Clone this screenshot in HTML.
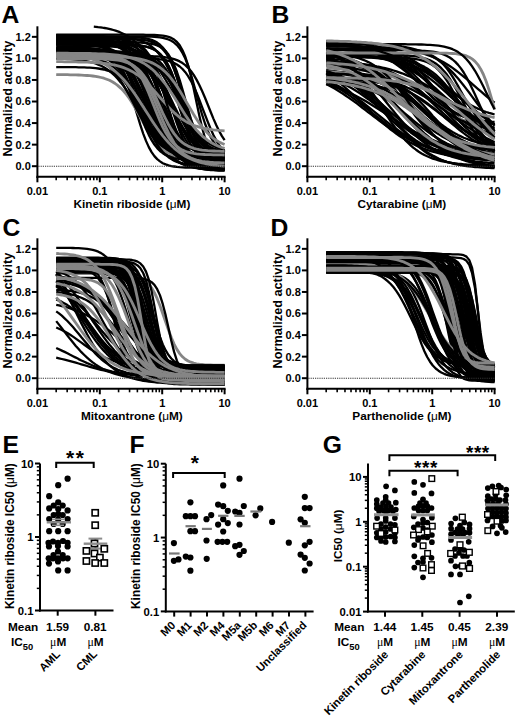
<!DOCTYPE html>
<html><head><meta charset="utf-8"><style>
html,body{margin:0;padding:0;background:#fff;}
svg{display:block;}
text{font-family:"Liberation Sans", sans-serif;}
</style></head><body>
<svg width="520" height="718" viewBox="0 0 520 718" font-family='"Liberation Sans", sans-serif'><polyline points="56.2,43.8 59.0,43.8 61.8,43.8 64.6,43.8 67.4,43.8 70.2,43.8 73.0,43.9 75.8,43.9 78.6,43.9 81.4,43.9 84.3,44.0 87.1,44.0 89.9,44.0 92.7,44.1 95.5,44.2 98.3,44.3 101.1,44.4 103.9,44.5 106.7,44.7 109.5,44.9 112.3,45.1 115.1,45.4 117.9,45.7 120.7,46.1 123.6,46.6 126.4,47.2 129.2,47.9 132.0,48.8 134.8,49.8 137.6,51.0 140.4,52.4 143.2,54.1 146.0,56.1 148.8,58.4 151.6,61.0 154.4,64.0 157.2,67.4 160.0,71.2 162.8,75.4 165.7,80.0 168.5,84.9 171.3,90.0 174.1,95.3 176.9,100.6 179.7,105.9 182.5,111.1 185.3,116.0 188.1,120.7 190.9,125.0 193.7,128.9 196.5,132.4 199.3,135.6 202.1,138.3 205.0,140.7 207.8,142.8 210.6,144.5 213.4,146.0 216.2,147.3 219.0,148.4 221.8,149.3 224.6,150.0" fill="none" stroke="#000" stroke-width="2.3" stroke-linejoin="round"/>
<polyline points="56.2,38.9 59.0,38.9 61.8,38.9 64.6,38.9 67.4,38.9 70.2,38.9 73.0,38.9 75.8,38.9 78.6,38.9 81.4,38.9 84.3,38.9 87.1,38.9 89.9,38.9 92.7,38.9 95.5,38.9 98.3,38.9 101.1,39.0 103.9,39.0 106.7,39.0 109.5,39.1 112.3,39.2 115.1,39.3 117.9,39.4 120.7,39.6 123.6,39.9 126.4,40.3 129.2,40.8 132.0,41.5 134.8,42.5 137.6,43.7 140.4,45.4 143.2,47.7 146.0,50.6 148.8,54.4 151.6,59.2 154.4,65.1 157.2,72.1 160.0,80.1 162.8,89.0 165.7,98.4 168.5,107.8 171.3,116.7 174.1,124.9 176.9,132.1 179.7,138.1 182.5,143.0 185.3,146.9 188.1,150.0 190.9,152.3 193.7,154.1 196.5,155.4 199.3,156.4 202.1,157.1 205.0,157.6 207.8,158.0 210.6,158.3 213.4,158.5 216.2,158.7 219.0,158.8 221.8,158.9 224.6,159.0" fill="none" stroke="#000" stroke-width="2.3" stroke-linejoin="round"/>
<polyline points="56.2,42.8 59.0,42.8 61.8,42.9 64.6,42.9 67.4,43.0 70.2,43.0 73.0,43.1 75.8,43.2 78.6,43.4 81.4,43.6 84.3,43.8 87.1,44.1 89.9,44.5 92.7,44.9 95.5,45.5 98.3,46.2 101.1,47.1 103.9,48.2 106.7,49.5 109.5,51.1 112.3,53.1 115.1,55.5 117.9,58.4 120.7,61.8 123.6,65.8 126.4,70.4 129.2,75.6 132.0,81.5 134.8,87.8 137.6,94.6 140.4,101.6 143.2,108.7 146.0,115.8 148.8,122.5 151.6,128.9 154.4,134.7 157.2,140.0 160.0,144.6 162.8,148.6 165.7,152.0 168.5,154.8 171.3,157.2 174.1,159.2 176.9,160.9 179.7,162.2 182.5,163.3 185.3,164.1 188.1,164.8 190.9,165.4 193.7,165.9 196.5,166.2 199.3,166.5 202.1,166.7 205.0,166.9 207.8,167.1 210.6,167.2 213.4,167.3 216.2,167.4 219.0,167.4 221.8,167.5 224.6,167.5" fill="none" stroke="#000" stroke-width="2.3" stroke-linejoin="round"/>
<polyline points="56.2,40.5 59.0,40.5 61.8,40.5 64.6,40.5 67.4,40.5 70.2,40.5 73.0,40.5 75.8,40.5 78.6,40.6 81.4,40.6 84.3,40.6 87.1,40.6 89.9,40.7 92.7,40.7 95.5,40.8 98.3,40.9 101.1,41.0 103.9,41.1 106.7,41.2 109.5,41.4 112.3,41.7 115.1,42.0 117.9,42.3 120.7,42.8 123.6,43.3 126.4,44.0 129.2,44.8 132.0,45.9 134.8,47.1 137.6,48.6 140.4,50.5 143.2,52.7 146.0,55.4 148.8,58.5 151.6,62.1 154.4,66.4 157.2,71.2 160.0,76.6 162.8,82.5 165.7,88.9 168.5,95.6 171.3,102.6 174.1,109.5 176.9,116.4 179.7,122.9 182.5,129.1 185.3,134.8 188.1,139.9 190.9,144.4 193.7,148.3 196.5,151.7 199.3,154.6 202.1,157.0 205.0,159.0 207.8,160.7 210.6,162.1 213.4,163.2 216.2,164.2 219.0,164.9 221.8,165.5 224.6,166.0" fill="none" stroke="#000" stroke-width="2.3" stroke-linejoin="round"/>
<polyline points="56.2,57.0 59.0,57.0 61.8,57.0 64.6,57.0 67.4,57.0 70.2,57.0 73.0,57.0 75.8,57.1 78.6,57.1 81.4,57.1 84.3,57.2 87.1,57.3 89.9,57.4 92.7,57.5 95.5,57.7 98.3,58.0 101.1,58.3 103.9,58.8 106.7,59.3 109.5,60.1 112.3,61.1 115.1,62.3 117.9,63.9 120.7,66.0 123.6,68.6 126.4,71.7 129.2,75.6 132.0,80.3 134.8,85.7 137.6,91.8 140.4,98.4 143.2,105.4 146.0,112.5 148.8,119.4 151.6,125.9 154.4,131.8 157.2,137.0 160.0,141.4 162.8,145.1 165.7,148.1 168.5,150.5 171.3,152.4 174.1,153.9 176.9,155.1 179.7,156.0 182.5,156.7 185.3,157.2 188.1,157.6 190.9,157.9 193.7,158.2 196.5,158.3 199.3,158.5 202.1,158.6 205.0,158.7 207.8,158.7 210.6,158.8 213.4,158.8 216.2,158.8 219.0,158.8 221.8,158.9 224.6,158.9" fill="none" stroke="#000" stroke-width="2.3" stroke-linejoin="round"/>
<polyline points="56.2,41.6 59.0,41.6 61.8,41.7 64.6,41.7 67.4,41.8 70.2,41.8 73.0,41.9 75.8,42.0 78.6,42.2 81.4,42.3 84.3,42.6 87.1,42.8 89.9,43.2 92.7,43.6 95.5,44.1 98.3,44.7 101.1,45.5 103.9,46.4 106.7,47.6 109.5,49.0 112.3,50.7 115.1,52.8 117.9,55.3 120.7,58.2 123.6,61.7 126.4,65.7 129.2,70.3 132.0,75.4 134.8,81.1 137.6,87.2 140.4,93.7 143.2,100.4 146.0,107.2 148.8,113.8 151.6,120.2 154.4,126.2 157.2,131.7 160.0,136.7 162.8,141.1 165.7,144.9 168.5,148.2 171.3,151.0 174.1,153.3 176.9,155.3 179.7,156.9 182.5,158.2 185.3,159.3 188.1,160.2 190.9,160.9 193.7,161.5 196.5,162.0 199.3,162.4 202.1,162.7 205.0,162.9 207.8,163.1 210.6,163.3 213.4,163.4 216.2,163.5 219.0,163.6 221.8,163.7 224.6,163.7" fill="none" stroke="#000" stroke-width="2.3" stroke-linejoin="round"/>
<polyline points="56.2,55.6 59.0,55.6 61.8,55.6 64.6,55.6 67.4,55.6 70.2,55.6 73.0,55.6 75.8,55.6 78.6,55.6 81.4,55.6 84.3,55.6 87.1,55.6 89.9,55.6 92.7,55.6 95.5,55.6 98.3,55.6 101.1,55.6 103.9,55.6 106.7,55.7 109.5,55.7 112.3,55.7 115.1,55.8 117.9,55.9 120.7,56.0 123.6,56.1 126.4,56.3 129.2,56.6 132.0,56.9 134.8,57.4 137.6,58.1 140.4,58.9 143.2,60.0 146.0,61.5 148.8,63.5 151.6,66.0 154.4,69.2 157.2,73.2 160.0,78.1 162.8,83.9 165.7,90.6 168.5,97.9 171.3,105.6 174.1,113.4 176.9,121.0 179.7,127.9 182.5,134.0 185.3,139.3 188.1,143.6 190.9,147.1 193.7,149.9 196.5,152.0 199.3,153.7 202.1,154.9 205.0,155.9 207.8,156.6 210.6,157.1 213.4,157.5 216.2,157.8 219.0,158.0 221.8,158.2 224.6,158.3" fill="none" stroke="#000" stroke-width="2.3" stroke-linejoin="round"/>
<polyline points="56.2,36.3 59.0,36.3 61.8,36.3 64.6,36.3 67.4,36.3 70.2,36.3 73.0,36.4 75.8,36.4 78.6,36.4 81.4,36.4 84.3,36.4 87.1,36.5 89.9,36.5 92.7,36.5 95.5,36.6 98.3,36.7 101.1,36.8 103.9,37.0 106.7,37.1 109.5,37.4 112.3,37.7 115.1,38.1 117.9,38.6 120.7,39.2 123.6,40.1 126.4,41.1 129.2,42.4 132.0,44.1 134.8,46.2 137.6,48.8 140.4,51.9 143.2,55.7 146.0,60.3 148.8,65.6 151.6,71.6 154.4,78.2 157.2,85.4 160.0,92.9 162.8,100.5 165.7,107.9 168.5,115.0 171.3,121.5 174.1,127.3 176.9,132.3 179.7,136.7 182.5,140.3 185.3,143.3 188.1,145.8 190.9,147.7 193.7,149.3 196.5,150.5 199.3,151.5 202.1,152.3 205.0,152.9 207.8,153.4 210.6,153.7 213.4,154.0 216.2,154.3 219.0,154.4 221.8,154.6 224.6,154.7" fill="none" stroke="#000" stroke-width="2.3" stroke-linejoin="round"/>
<polyline points="56.2,51.2 59.0,51.2 61.8,51.2 64.6,51.3 67.4,51.3 70.2,51.3 73.0,51.4 75.8,51.4 78.6,51.5 81.4,51.5 84.3,51.6 87.1,51.7 89.9,51.9 92.7,52.0 95.5,52.2 98.3,52.5 101.1,52.8 103.9,53.2 106.7,53.6 109.5,54.2 112.3,54.9 115.1,55.7 117.9,56.8 120.7,58.0 123.6,59.6 126.4,61.4 129.2,63.5 132.0,66.1 134.8,69.1 137.6,72.5 140.4,76.4 143.2,80.7 146.0,85.5 148.8,90.6 151.6,96.0 154.4,101.5 157.2,107.1 160.0,112.6 162.8,117.9 165.7,122.9 168.5,127.5 171.3,131.6 174.1,135.3 176.9,138.6 179.7,141.3 182.5,143.7 185.3,145.7 188.1,147.4 190.9,148.8 193.7,150.0 196.5,150.9 199.3,151.7 202.1,152.4 205.0,152.9 207.8,153.3 210.6,153.7 213.4,154.0 216.2,154.2 219.0,154.4 221.8,154.5 224.6,154.6" fill="none" stroke="#000" stroke-width="2.3" stroke-linejoin="round"/>
<polyline points="56.2,57.6 59.0,57.7 61.8,57.7 64.6,57.7 67.4,57.7 70.2,57.8 73.0,57.8 75.8,57.9 78.6,58.0 81.4,58.1 84.3,58.2 87.1,58.4 89.9,58.6 92.7,58.9 95.5,59.4 98.3,59.9 101.1,60.6 103.9,61.5 106.7,62.6 109.5,64.1 112.3,66.0 115.1,68.3 117.9,71.2 120.7,74.7 123.6,78.9 126.4,83.7 129.2,89.3 132.0,95.4 134.8,101.8 137.6,108.5 140.4,115.0 143.2,121.3 146.0,127.0 148.8,132.2 151.6,136.6 154.4,140.4 157.2,143.5 160.0,146.0 162.8,148.1 165.7,149.7 168.5,150.9 171.3,151.9 174.1,152.7 176.9,153.3 179.7,153.7 182.5,154.1 185.3,154.4 188.1,154.6 190.9,154.7 193.7,154.9 196.5,154.9 199.3,155.0 202.1,155.1 205.0,155.1 207.8,155.1 210.6,155.2 213.4,155.2 216.2,155.2 219.0,155.2 221.8,155.2 224.6,155.2" fill="none" stroke="#000" stroke-width="2.3" stroke-linejoin="round"/>
<polyline points="56.2,57.5 59.0,57.5 61.8,57.5 64.6,57.5 67.4,57.5 70.2,57.5 73.0,57.5 75.8,57.5 78.6,57.5 81.4,57.5 84.3,57.6 87.1,57.6 89.9,57.6 92.7,57.6 95.5,57.7 98.3,57.7 101.1,57.8 103.9,57.9 106.7,58.1 109.5,58.3 112.3,58.5 115.1,58.8 117.9,59.3 120.7,59.9 123.6,60.6 126.4,61.6 129.2,63.0 132.0,64.7 134.8,66.9 137.6,69.7 140.4,73.2 143.2,77.5 146.0,82.7 148.8,88.8 151.6,95.7 154.4,103.3 157.2,111.2 160.0,119.2 162.8,126.9 165.7,134.1 168.5,140.6 171.3,146.1 174.1,150.8 176.9,154.6 179.7,157.7 182.5,160.1 185.3,162.0 188.1,163.5 190.9,164.6 193.7,165.5 196.5,166.1 199.3,166.6 202.1,167.0 205.0,167.3 207.8,167.5 210.6,167.7 213.4,167.8 216.2,167.9 219.0,167.9 221.8,168.0 224.6,168.0" fill="none" stroke="#000" stroke-width="2.3" stroke-linejoin="round"/>
<polyline points="56.2,52.7 59.0,52.7 61.8,52.7 64.6,52.8 67.4,52.8 70.2,52.8 73.0,52.8 75.8,52.8 78.6,52.8 81.4,52.8 84.3,52.8 87.1,52.8 89.9,52.8 92.7,52.9 95.5,52.9 98.3,52.9 101.1,53.0 103.9,53.1 106.7,53.2 109.5,53.3 112.3,53.5 115.1,53.7 117.9,54.0 120.7,54.3 123.6,54.8 126.4,55.4 129.2,56.2 132.0,57.2 134.8,58.5 137.6,60.2 140.4,62.3 143.2,64.9 146.0,68.1 148.8,72.0 151.6,76.6 154.4,82.0 157.2,88.2 160.0,95.0 162.8,102.3 165.7,109.8 168.5,117.3 171.3,124.6 174.1,131.4 176.9,137.5 179.7,142.9 182.5,147.5 185.3,151.4 188.1,154.6 190.9,157.1 193.7,159.2 196.5,160.8 199.3,162.1 202.1,163.1 205.0,163.9 207.8,164.5 210.6,165.0 213.4,165.4 216.2,165.7 219.0,165.9 221.8,166.0 224.6,166.2" fill="none" stroke="#000" stroke-width="2.3" stroke-linejoin="round"/>
<polyline points="56.2,57.2 59.0,57.2 61.8,57.2 64.6,57.2 67.4,57.2 70.2,57.2 73.0,57.2 75.8,57.2 78.6,57.3 81.4,57.3 84.3,57.3 87.1,57.3 89.9,57.3 92.7,57.3 95.5,57.3 98.3,57.4 101.1,57.4 103.9,57.5 106.7,57.6 109.5,57.7 112.3,57.8 115.1,57.9 117.9,58.2 120.7,58.4 123.6,58.7 126.4,59.2 129.2,59.7 132.0,60.4 134.8,61.2 137.6,62.3 140.4,63.7 143.2,65.4 146.0,67.4 148.8,69.9 151.6,73.0 154.4,76.5 157.2,80.7 160.0,85.4 162.8,90.6 165.7,96.3 168.5,102.2 171.3,108.2 174.1,114.1 176.9,119.8 179.7,125.0 182.5,129.7 185.3,133.9 188.1,137.5 190.9,140.6 193.7,143.1 196.5,145.2 199.3,146.9 202.1,148.2 205.0,149.3 207.8,150.2 210.6,150.9 213.4,151.4 216.2,151.9 219.0,152.2 221.8,152.5 224.6,152.7" fill="none" stroke="#000" stroke-width="2.3" stroke-linejoin="round"/>
<polyline points="56.2,51.6 59.0,51.6 61.8,51.6 64.6,51.6 67.4,51.6 70.2,51.6 73.0,51.6 75.8,51.6 78.6,51.6 81.4,51.6 84.3,51.6 87.1,51.6 89.9,51.6 92.7,51.6 95.5,51.6 98.3,51.7 101.1,51.7 103.9,51.7 106.7,51.8 109.5,51.8 112.3,51.9 115.1,52.0 117.9,52.1 120.7,52.2 123.6,52.4 126.4,52.6 129.2,52.9 132.0,53.2 134.8,53.6 137.6,54.1 140.4,54.8 143.2,55.6 146.0,56.6 148.8,57.8 151.6,59.3 154.4,61.1 157.2,63.3 160.0,65.9 162.8,69.0 165.7,72.7 168.5,76.8 171.3,81.6 174.1,86.9 176.9,92.6 179.7,98.6 182.5,104.9 185.3,111.2 188.1,117.4 190.9,123.4 193.7,128.9 196.5,134.0 199.3,138.5 202.1,142.4 205.0,145.8 207.8,148.7 210.6,151.2 213.4,153.2 216.2,154.8 219.0,156.2 221.8,157.3 224.6,158.2" fill="none" stroke="#000" stroke-width="2.3" stroke-linejoin="round"/>
<polyline points="56.2,39.7 59.0,39.7 61.8,39.8 64.6,39.9 67.4,39.9 70.2,40.0 73.0,40.2 75.8,40.3 78.6,40.5 81.4,40.7 84.3,41.0 87.1,41.4 89.9,41.8 92.7,42.4 95.5,43.0 98.3,43.9 101.1,44.9 103.9,46.1 106.7,47.5 109.5,49.3 112.3,51.5 115.1,54.0 117.9,57.0 120.7,60.5 123.6,64.5 126.4,69.2 129.2,74.4 132.0,80.1 134.8,86.3 137.6,92.9 140.4,99.8 143.2,106.7 146.0,113.7 148.8,120.4 151.6,126.8 154.4,132.7 157.2,138.1 160.0,143.0 162.8,147.3 165.7,151.0 168.5,154.2 171.3,156.9 174.1,159.2 176.9,161.1 179.7,162.7 182.5,164.0 185.3,165.1 188.1,166.0 190.9,166.7 193.7,167.3 196.5,167.8 199.3,168.2 202.1,168.5 205.0,168.7 207.8,169.0 210.6,169.1 213.4,169.3 216.2,169.4 219.0,169.5 221.8,169.5 224.6,169.6" fill="none" stroke="#000" stroke-width="2.3" stroke-linejoin="round"/>
<polyline points="56.2,41.3 59.0,41.3 61.8,41.3 64.6,41.4 67.4,41.4 70.2,41.4 73.0,41.4 75.8,41.5 78.6,41.5 81.4,41.6 84.3,41.7 87.1,41.8 89.9,41.9 92.7,42.1 95.5,42.3 98.3,42.5 101.1,42.8 103.9,43.1 106.7,43.5 109.5,44.1 112.3,44.7 115.1,45.5 117.9,46.4 120.7,47.6 123.6,48.9 126.4,50.6 129.2,52.5 132.0,54.9 134.8,57.6 137.6,60.8 140.4,64.5 143.2,68.6 146.0,73.3 148.8,78.5 151.6,84.2 154.4,90.1 157.2,96.4 160.0,102.8 162.8,109.2 165.7,115.5 168.5,121.5 171.3,127.1 174.1,132.3 176.9,137.0 179.7,141.2 182.5,144.9 185.3,148.1 188.1,150.8 190.9,153.1 193.7,155.1 196.5,156.8 199.3,158.1 202.1,159.3 205.0,160.2 207.8,161.0 210.6,161.6 213.4,162.2 216.2,162.6 219.0,162.9 221.8,163.2 224.6,163.5" fill="none" stroke="#000" stroke-width="2.3" stroke-linejoin="round"/>
<polyline points="56.2,42.4 59.0,42.4 61.8,42.4 64.6,42.4 67.4,42.4 70.2,42.4 73.0,42.4 75.8,42.4 78.6,42.4 81.4,42.5 84.3,42.5 87.1,42.6 89.9,42.6 92.7,42.7 95.5,42.9 98.3,43.0 101.1,43.2 103.9,43.5 106.7,43.9 109.5,44.4 112.3,45.0 115.1,45.9 117.9,47.0 120.7,48.4 123.6,50.3 126.4,52.7 129.2,55.7 132.0,59.4 134.8,63.9 137.6,69.3 140.4,75.6 143.2,82.7 146.0,90.4 148.8,98.6 151.6,106.8 154.4,114.8 157.2,122.2 160.0,128.9 162.8,134.8 165.7,139.8 168.5,143.9 171.3,147.2 174.1,149.9 176.9,152.0 179.7,153.6 182.5,154.9 185.3,155.9 188.1,156.6 190.9,157.2 193.7,157.6 196.5,158.0 199.3,158.2 202.1,158.4 205.0,158.6 207.8,158.7 210.6,158.7 213.4,158.8 216.2,158.9 219.0,158.9 221.8,158.9 224.6,158.9" fill="none" stroke="#000" stroke-width="2.3" stroke-linejoin="round"/>
<polyline points="56.2,55.9 59.0,55.9 61.8,55.9 64.6,55.9 67.4,55.9 70.2,55.9 73.0,55.9 75.8,55.9 78.6,55.9 81.4,55.9 84.3,55.9 87.1,55.9 89.9,55.9 92.7,55.9 95.5,55.9 98.3,55.9 101.1,55.9 103.9,55.9 106.7,55.9 109.5,55.9 112.3,55.9 115.1,55.9 117.9,55.9 120.7,55.9 123.6,55.9 126.4,55.9 129.2,55.9 132.0,55.9 134.8,55.9 137.6,56.0 140.4,56.0 143.2,56.0 146.0,56.1 148.8,56.2 151.6,56.2 154.4,56.4 157.2,56.5 160.0,56.7 162.8,57.0 165.7,57.3 168.5,57.8 171.3,58.4 174.1,59.1 176.9,60.1 179.7,61.4 182.5,63.1 185.3,65.1 188.1,67.8 190.9,71.0 193.7,74.9 196.5,79.6 199.3,85.0 202.1,91.1 205.0,97.7 207.8,104.7 210.6,111.7 213.4,118.6 216.2,125.0 219.0,130.8 221.8,135.9 224.6,140.2" fill="none" stroke="#000" stroke-width="2.3" stroke-linejoin="round"/>
<polyline points="56.2,49.2 59.0,49.3 61.8,49.4 64.6,49.4 67.4,49.6 70.2,49.7 73.0,49.9 75.8,50.1 78.6,50.4 81.4,50.7 84.3,51.1 87.1,51.5 89.9,52.1 92.7,52.7 95.5,53.5 98.3,54.5 101.1,55.6 103.9,57.0 106.7,58.6 109.5,60.5 112.3,62.7 115.1,65.3 117.9,68.3 120.7,71.7 123.6,75.6 126.4,79.9 129.2,84.7 132.0,89.8 134.8,95.3 137.6,101.0 140.4,106.9 143.2,112.9 146.0,118.8 148.8,124.5 151.6,130.0 154.4,135.1 157.2,139.8 160.0,144.1 162.8,148.0 165.7,151.3 168.5,154.3 171.3,156.9 174.1,159.1 176.9,161.0 179.7,162.6 182.5,163.9 185.3,165.1 188.1,166.0 190.9,166.8 193.7,167.5 196.5,168.0 199.3,168.5 202.1,168.8 205.0,169.1 207.8,169.4 210.6,169.6 213.4,169.8 216.2,169.9 219.0,170.0 221.8,170.1 224.6,170.2" fill="none" stroke="#000" stroke-width="2.3" stroke-linejoin="round"/>
<polyline points="56.2,57.6 59.0,57.6 61.8,57.6 64.6,57.6 67.4,57.6 70.2,57.6 73.0,57.6 75.8,57.6 78.6,57.6 81.4,57.6 84.3,57.6 87.1,57.6 89.9,57.6 92.7,57.6 95.5,57.6 98.3,57.7 101.1,57.7 103.9,57.7 106.7,57.7 109.5,57.7 112.3,57.7 115.1,57.7 117.9,57.7 120.7,57.8 123.6,57.8 126.4,57.9 129.2,58.0 132.0,58.1 134.8,58.2 137.6,58.5 140.4,58.8 143.2,59.2 146.0,59.7 148.8,60.5 151.6,61.5 154.4,62.8 157.2,64.6 160.0,67.0 162.8,70.0 165.7,73.9 168.5,78.7 171.3,84.5 174.1,91.3 176.9,99.0 179.7,107.2 182.5,115.6 185.3,123.8 188.1,131.5 190.9,138.3 193.7,144.1 196.5,148.9 199.3,152.8 202.1,155.9 205.0,158.2 207.8,160.0 210.6,161.4 213.4,162.4 216.2,163.2 219.0,163.7 221.8,164.1 224.6,164.4" fill="none" stroke="#000" stroke-width="2.3" stroke-linejoin="round"/>
<polyline points="56.2,44.2 59.0,44.2 61.8,44.3 64.6,44.3 67.4,44.3 70.2,44.4 73.0,44.5 75.8,44.5 78.6,44.6 81.4,44.7 84.3,44.9 87.1,45.1 89.9,45.3 92.7,45.5 95.5,45.9 98.3,46.3 101.1,46.7 103.9,47.3 106.7,48.0 109.5,48.9 112.3,49.9 115.1,51.1 117.9,52.6 120.7,54.4 123.6,56.5 126.4,58.9 129.2,61.8 132.0,65.0 134.8,68.7 137.6,72.9 140.4,77.4 143.2,82.4 146.0,87.6 148.8,93.1 151.6,98.7 154.4,104.3 157.2,109.8 160.0,115.1 162.8,120.0 165.7,124.6 168.5,128.8 171.3,132.5 174.1,135.7 176.9,138.6 179.7,141.0 182.5,143.1 185.3,144.9 188.1,146.3 190.9,147.6 193.7,148.6 196.5,149.5 199.3,150.2 202.1,150.8 205.0,151.2 207.8,151.6 210.6,151.9 213.4,152.2 216.2,152.4 219.0,152.6 221.8,152.7 224.6,152.9" fill="none" stroke="#000" stroke-width="2.3" stroke-linejoin="round"/>
<polyline points="56.2,52.0 59.0,52.0 61.8,52.0 64.6,52.0 67.4,52.0 70.2,52.0 73.0,52.0 75.8,52.0 78.6,52.0 81.4,52.0 84.3,52.0 87.1,52.0 89.9,52.0 92.7,52.0 95.5,52.0 98.3,52.0 101.1,52.0 103.9,52.0 106.7,52.1 109.5,52.1 112.3,52.1 115.1,52.1 117.9,52.1 120.7,52.2 123.6,52.2 126.4,52.3 129.2,52.4 132.0,52.6 134.8,52.8 137.6,53.0 140.4,53.4 143.2,53.8 146.0,54.4 148.8,55.3 151.6,56.3 154.4,57.8 157.2,59.6 160.0,62.0 162.8,65.1 165.7,68.9 168.5,73.6 171.3,79.1 174.1,85.6 176.9,92.8 179.7,100.5 182.5,108.5 185.3,116.3 188.1,123.6 190.9,130.2 193.7,136.0 196.5,140.9 199.3,144.8 202.1,148.0 205.0,150.5 207.8,152.5 210.6,154.0 213.4,155.1 216.2,156.0 219.0,156.7 221.8,157.1 224.6,157.5" fill="none" stroke="#000" stroke-width="2.3" stroke-linejoin="round"/>
<polyline points="56.2,52.5 59.0,52.5 61.8,52.5 64.6,52.5 67.4,52.5 70.2,52.5 73.0,52.5 75.8,52.6 78.6,52.6 81.4,52.7 84.3,52.7 87.1,52.9 89.9,53.0 92.7,53.2 95.5,53.5 98.3,53.9 101.1,54.4 103.9,55.1 106.7,56.2 109.5,57.5 112.3,59.4 115.1,61.8 117.9,65.1 120.7,69.3 123.6,74.6 126.4,81.1 129.2,88.7 132.0,97.3 134.8,106.6 137.6,116.0 140.4,125.2 143.2,133.6 146.0,140.9 148.8,147.1 151.6,152.1 154.4,156.1 157.2,159.1 160.0,161.4 162.8,163.2 165.7,164.4 168.5,165.4 171.3,166.1 174.1,166.5 176.9,166.9 179.7,167.2 182.5,167.4 185.3,167.5 188.1,167.6 190.9,167.7 193.7,167.7 196.5,167.7 199.3,167.8 202.1,167.8 205.0,167.8 207.8,167.8 210.6,167.8 213.4,167.8 216.2,167.8 219.0,167.8 221.8,167.8 224.6,167.8" fill="none" stroke="#000" stroke-width="2.3" stroke-linejoin="round"/>
<polyline points="56.2,38.7 59.0,38.7 61.8,38.7 64.6,38.7 67.4,38.7 70.2,38.7 73.0,38.7 75.8,38.7 78.6,38.7 81.4,38.7 84.3,38.7 87.1,38.7 89.9,38.7 92.7,38.7 95.5,38.7 98.3,38.7 101.1,38.7 103.9,38.7 106.7,38.7 109.5,38.7 112.3,38.7 115.1,38.7 117.9,38.7 120.7,38.8 123.6,38.8 126.4,38.8 129.2,38.9 132.0,39.0 134.8,39.1 137.6,39.3 140.4,39.5 143.2,39.9 146.0,40.3 148.8,40.9 151.6,41.8 154.4,42.9 157.2,44.5 160.0,46.5 162.8,49.2 165.7,52.7 168.5,57.2 171.3,62.8 174.1,69.4 176.9,77.1 179.7,85.7 182.5,94.7 185.3,103.7 188.1,112.3 190.9,120.1 193.7,126.8 196.5,132.5 199.3,137.0 202.1,140.6 205.0,143.4 207.8,145.5 210.6,147.1 213.4,148.3 216.2,149.1 219.0,149.8 221.8,150.2 224.6,150.6" fill="none" stroke="#000" stroke-width="2.3" stroke-linejoin="round"/>
<polyline points="56.2,36.6 59.0,36.6 61.8,36.6 64.6,36.6 67.4,36.6 70.2,36.6 73.0,36.6 75.8,36.6 78.6,36.6 81.4,36.6 84.3,36.6 87.1,36.6 89.9,36.7 92.7,36.7 95.5,36.7 98.3,36.7 101.1,36.8 103.9,36.8 106.7,36.8 109.5,36.9 112.3,37.0 115.1,37.1 117.9,37.2 120.7,37.4 123.6,37.6 126.4,37.9 129.2,38.2 132.0,38.6 134.8,39.2 137.6,39.8 140.4,40.7 143.2,41.7 146.0,43.0 148.8,44.6 151.6,46.5 154.4,48.9 157.2,51.7 160.0,55.1 162.8,59.1 165.7,63.7 168.5,68.9 171.3,74.8 174.1,81.2 176.9,88.0 179.7,95.0 182.5,102.1 185.3,109.1 188.1,115.7 190.9,121.9 193.7,127.5 196.5,132.5 199.3,136.9 202.1,140.6 205.0,143.8 207.8,146.5 210.6,148.6 213.4,150.4 216.2,151.9 219.0,153.1 221.8,154.0 224.6,154.8" fill="none" stroke="#000" stroke-width="2.3" stroke-linejoin="round"/>
<polyline points="56.2,35.2 59.0,35.2 61.8,35.3 64.6,35.3 67.4,35.3 70.2,35.3 73.0,35.3 75.8,35.3 78.6,35.3 81.4,35.4 84.3,35.4 87.1,35.4 89.9,35.5 92.7,35.6 95.5,35.7 98.3,35.9 101.1,36.1 103.9,36.4 106.7,36.8 109.5,37.4 112.3,38.1 115.1,39.0 117.9,40.3 120.7,41.9 123.6,44.0 126.4,46.6 129.2,50.0 132.0,54.3 134.8,59.5 137.6,65.6 140.4,72.8 143.2,80.7 146.0,89.3 148.8,98.2 151.6,107.0 154.4,115.3 157.2,122.9 160.0,129.6 162.8,135.3 165.7,140.0 168.5,143.9 171.3,146.9 174.1,149.3 176.9,151.1 179.7,152.6 182.5,153.7 185.3,154.5 188.1,155.1 190.9,155.6 193.7,155.9 196.5,156.2 199.3,156.4 202.1,156.5 205.0,156.6 207.8,156.7 210.6,156.8 213.4,156.8 216.2,156.9 219.0,156.9 221.8,156.9 224.6,156.9" fill="none" stroke="#000" stroke-width="2.3" stroke-linejoin="round"/>
<polyline points="56.2,58.1 59.0,58.1 61.8,58.1 64.6,58.1 67.4,58.1 70.2,58.1 73.0,58.1 75.8,58.1 78.6,58.1 81.4,58.1 84.3,58.1 87.1,58.1 89.9,58.1 92.7,58.1 95.5,58.1 98.3,58.1 101.1,58.1 103.9,58.1 106.7,58.1 109.5,58.1 112.3,58.1 115.1,58.1 117.9,58.1 120.7,58.1 123.6,58.1 126.4,58.1 129.2,58.1 132.0,58.1 134.8,58.2 137.6,58.2 140.4,58.2 143.2,58.3 146.0,58.4 148.8,58.4 151.6,58.6 154.4,58.7 157.2,59.0 160.0,59.3 162.8,59.7 165.7,60.2 168.5,60.9 171.3,61.8 174.1,63.0 176.9,64.5 179.7,66.5 182.5,69.0 185.3,72.2 188.1,76.1 190.9,80.8 193.7,86.4 196.5,92.7 199.3,99.7 202.1,107.1 205.0,114.6 207.8,121.9 210.6,128.8 213.4,135.0 216.2,140.3 219.0,144.9 221.8,148.7 224.6,151.7" fill="none" stroke="#000" stroke-width="2.3" stroke-linejoin="round"/>
<polyline points="56.2,43.1 59.0,43.1 61.8,43.1 64.6,43.1 67.4,43.1 70.2,43.2 73.0,43.2 75.8,43.2 78.6,43.2 81.4,43.2 84.3,43.2 87.1,43.3 89.9,43.3 92.7,43.4 95.5,43.5 98.3,43.6 101.1,43.7 103.9,44.0 106.7,44.3 109.5,44.6 112.3,45.2 115.1,45.9 117.9,46.8 120.7,48.0 123.6,49.7 126.4,51.8 129.2,54.5 132.0,58.0 134.8,62.4 137.6,67.7 140.4,74.1 143.2,81.4 146.0,89.5 148.8,98.0 151.6,106.7 154.4,115.2 157.2,123.1 160.0,130.1 162.8,136.2 165.7,141.2 168.5,145.3 171.3,148.6 174.1,151.1 176.9,153.1 179.7,154.6 182.5,155.7 185.3,156.6 188.1,157.2 190.9,157.7 193.7,158.1 196.5,158.3 199.3,158.5 202.1,158.7 205.0,158.8 207.8,158.9 210.6,158.9 213.4,159.0 216.2,159.0 219.0,159.0 221.8,159.0 224.6,159.0" fill="none" stroke="#000" stroke-width="2.3" stroke-linejoin="round"/>
<polyline points="56.2,54.9 59.0,54.9 61.8,54.9 64.6,54.9 67.4,54.9 70.2,54.9 73.0,54.9 75.8,54.9 78.6,54.9 81.4,54.9 84.3,54.9 87.1,54.9 89.9,54.9 92.7,55.0 95.5,55.0 98.3,55.0 101.1,55.0 103.9,55.1 106.7,55.1 109.5,55.2 112.3,55.3 115.1,55.3 117.9,55.5 120.7,55.6 123.6,55.8 126.4,56.0 129.2,56.3 132.0,56.7 134.8,57.1 137.6,57.6 140.4,58.3 143.2,59.1 146.0,60.1 148.8,61.4 151.6,62.9 154.4,64.7 157.2,66.9 160.0,69.4 162.8,72.5 165.7,76.0 168.5,80.0 171.3,84.5 174.1,89.4 176.9,94.7 179.7,100.3 182.5,106.1 185.3,111.9 188.1,117.5 190.9,123.0 193.7,128.0 196.5,132.7 199.3,136.8 202.1,140.5 205.0,143.6 207.8,146.3 210.6,148.6 213.4,150.5 216.2,152.1 219.0,153.4 221.8,154.5 224.6,155.4" fill="none" stroke="#000" stroke-width="2.3" stroke-linejoin="round"/>
<polyline points="56.2,47.8 59.0,47.8 61.8,47.8 64.6,47.8 67.4,47.8 70.2,47.9 73.0,47.9 75.8,47.9 78.6,47.9 81.4,48.0 84.3,48.0 87.1,48.1 89.9,48.2 92.7,48.4 95.5,48.6 98.3,49.0 101.1,49.4 103.9,50.0 106.7,50.8 109.5,51.9 112.3,53.4 115.1,55.4 117.9,58.1 120.7,61.5 123.6,65.9 126.4,71.4 129.2,77.9 132.0,85.4 134.8,93.7 137.6,102.4 140.4,111.0 143.2,119.2 146.0,126.5 148.8,132.8 151.6,138.1 154.4,142.3 157.2,145.6 160.0,148.1 162.8,150.0 165.7,151.4 168.5,152.5 171.3,153.2 174.1,153.8 176.9,154.2 179.7,154.5 182.5,154.7 185.3,154.9 188.1,155.0 190.9,155.1 193.7,155.1 196.5,155.2 199.3,155.2 202.1,155.2 205.0,155.2 207.8,155.3 210.6,155.3 213.4,155.3 216.2,155.3 219.0,155.3 221.8,155.3 224.6,155.3" fill="none" stroke="#000" stroke-width="2.3" stroke-linejoin="round"/>
<polyline points="56.2,55.4 59.0,55.4 61.8,55.4 64.6,55.4 67.4,55.4 70.2,55.4 73.0,55.4 75.8,55.5 78.6,55.5 81.4,55.5 84.3,55.6 87.1,55.6 89.9,55.7 92.7,55.8 95.5,55.9 98.3,56.1 101.1,56.4 103.9,56.7 106.7,57.1 109.5,57.7 112.3,58.4 115.1,59.4 117.9,60.7 120.7,62.3 123.6,64.4 126.4,67.0 129.2,70.3 132.0,74.3 134.8,79.2 137.6,84.8 140.4,91.3 143.2,98.3 146.0,105.7 148.8,113.3 151.6,120.6 154.4,127.5 157.2,133.7 160.0,139.2 162.8,143.8 165.7,147.6 168.5,150.7 171.3,153.2 174.1,155.1 176.9,156.7 179.7,157.8 182.5,158.7 185.3,159.4 188.1,160.0 190.9,160.4 193.7,160.7 196.5,160.9 199.3,161.1 202.1,161.2 205.0,161.3 207.8,161.4 210.6,161.4 213.4,161.5 216.2,161.5 219.0,161.5 221.8,161.5 224.6,161.5" fill="none" stroke="#000" stroke-width="2.3" stroke-linejoin="round"/>
<polyline points="56.2,54.5 59.0,54.5 61.8,54.5 64.6,54.5 67.4,54.5 70.2,54.5 73.0,54.5 75.8,54.5 78.6,54.5 81.4,54.5 84.3,54.5 87.1,54.5 89.9,54.5 92.7,54.5 95.5,54.5 98.3,54.5 101.1,54.5 103.9,54.5 106.7,54.5 109.5,54.5 112.3,54.6 115.1,54.6 117.9,54.6 120.7,54.6 123.6,54.7 126.4,54.8 129.2,54.9 132.0,55.0 134.8,55.2 137.6,55.4 140.4,55.8 143.2,56.2 146.0,56.9 148.8,57.7 151.6,58.9 154.4,60.4 157.2,62.4 160.0,65.0 162.8,68.4 165.7,72.7 168.5,78.0 171.3,84.3 174.1,91.5 176.9,99.6 179.7,108.1 182.5,116.6 185.3,124.7 188.1,132.2 190.9,138.7 193.7,144.3 196.5,148.8 199.3,152.3 202.1,155.1 205.0,157.3 207.8,158.9 210.6,160.1 213.4,161.0 216.2,161.7 219.0,162.2 221.8,162.5 224.6,162.8" fill="none" stroke="#000" stroke-width="2.3" stroke-linejoin="round"/>
<polyline points="56.2,55.1 59.0,55.1 61.8,55.1 64.6,55.1 67.4,55.1 70.2,55.1 73.0,55.1 75.8,55.1 78.6,55.1 81.4,55.1 84.3,55.1 87.1,55.1 89.9,55.1 92.7,55.1 95.5,55.1 98.3,55.1 101.1,55.1 103.9,55.2 106.7,55.2 109.5,55.2 112.3,55.3 115.1,55.3 117.9,55.4 120.7,55.6 123.6,55.7 126.4,55.9 129.2,56.2 132.0,56.6 134.8,57.2 137.6,57.9 140.4,58.8 143.2,60.0 146.0,61.6 148.8,63.6 151.6,66.2 154.4,69.6 157.2,73.7 160.0,78.7 162.8,84.7 165.7,91.5 168.5,99.1 171.3,107.2 174.1,115.5 176.9,123.7 179.7,131.3 182.5,138.2 185.3,144.2 188.1,149.3 190.9,153.5 193.7,156.9 196.5,159.6 199.3,161.7 202.1,163.3 205.0,164.5 207.8,165.5 210.6,166.2 213.4,166.7 216.2,167.1 219.0,167.4 221.8,167.6 224.6,167.8" fill="none" stroke="#000" stroke-width="2.3" stroke-linejoin="round"/>
<polyline points="56.2,74.6 59.0,74.7 61.8,74.7 64.6,74.7 67.4,74.7 70.2,74.8 73.0,74.8 75.8,74.9 78.6,75.0 81.4,75.1 84.3,75.3 87.1,75.5 89.9,75.7 92.7,76.0 95.5,76.4 98.3,76.9 101.1,77.5 103.9,78.2 106.7,79.2 109.5,80.3 112.3,81.8 115.1,83.5 117.9,85.6 120.7,88.1 123.6,91.0 126.4,94.4 129.2,98.3 132.0,102.6 134.8,107.3 137.6,112.3 140.4,117.4 143.2,122.5 146.0,127.5 148.8,132.2 151.6,136.6 154.4,140.5 157.2,144.0 160.0,147.0 162.8,149.5 165.7,151.6 168.5,153.4 171.3,154.9 174.1,156.1 176.9,157.0 179.7,157.8 182.5,158.4 185.3,158.9 188.1,159.3 190.9,159.6 193.7,159.9 196.5,160.1 199.3,160.2 202.1,160.3 205.0,160.4 207.8,160.5 210.6,160.6 213.4,160.6 216.2,160.7 219.0,160.7 221.8,160.7 224.6,160.7" fill="none" stroke="#858585" stroke-width="2.8" stroke-linejoin="round"/>
<polyline points="56.2,42.2 59.0,42.2 61.8,42.2 64.6,42.2 67.4,42.2 70.2,42.2 73.0,42.2 75.8,42.2 78.6,42.2 81.4,42.2 84.3,42.2 87.1,42.2 89.9,42.2 92.7,42.2 95.5,42.2 98.3,42.2 101.1,42.2 103.9,42.2 106.7,42.2 109.5,42.2 112.3,42.2 115.1,42.2 117.9,42.2 120.7,42.2 123.6,42.3 126.4,42.3 129.2,42.3 132.0,42.4 134.8,42.4 137.6,42.5 140.4,42.6 143.2,42.8 146.0,43.0 148.8,43.4 151.6,43.8 154.4,44.5 157.2,45.5 160.0,46.8 162.8,48.7 165.7,51.2 168.5,54.6 171.3,59.0 174.1,64.8 176.9,71.8 179.7,80.2 182.5,89.6 185.3,99.6 188.1,109.6 190.9,118.9 193.7,127.2 196.5,134.1 199.3,139.8 202.1,144.1 205.0,147.4 207.8,149.9 210.6,151.7 213.4,153.0 216.2,153.9 219.0,154.5 221.8,155.0 224.6,155.3" fill="none" stroke="#000" stroke-width="2.3" stroke-linejoin="round"/>
<polyline points="56.2,53.6 59.0,53.7 61.8,53.8 64.6,53.9 67.4,54.0 70.2,54.2 73.0,54.3 75.8,54.6 78.6,54.9 81.4,55.2 84.3,55.6 87.1,56.2 89.9,56.8 92.7,57.6 95.5,58.6 98.3,59.7 101.1,61.1 103.9,62.8 106.7,64.8 109.5,67.2 112.3,69.9 115.1,73.1 117.9,76.7 120.7,80.8 123.6,85.2 126.4,90.1 129.2,95.2 132.0,100.5 134.8,105.9 137.6,111.2 140.4,116.4 143.2,121.3 146.0,125.8 148.8,129.9 151.6,133.6 154.4,136.8 157.2,139.6 160.0,142.1 162.8,144.1 165.7,145.8 168.5,147.3 171.3,148.5 174.1,149.4 176.9,150.3 179.7,150.9 182.5,151.5 185.3,151.9 188.1,152.3 190.9,152.6 193.7,152.8 196.5,153.0 199.3,153.1 202.1,153.3 205.0,153.4 207.8,153.4 210.6,153.5 213.4,153.6 216.2,153.6 219.0,153.6 221.8,153.7 224.6,153.7" fill="none" stroke="#000" stroke-width="2.3" stroke-linejoin="round"/>
<polyline points="56.2,43.4 59.0,43.4 61.8,43.4 64.6,43.4 67.4,43.4 70.2,43.4 73.0,43.4 75.8,43.4 78.6,43.5 81.4,43.5 84.3,43.5 87.1,43.6 89.9,43.6 92.7,43.7 95.5,43.8 98.3,43.9 101.1,44.0 103.9,44.2 106.7,44.5 109.5,44.9 112.3,45.3 115.1,45.9 117.9,46.6 120.7,47.6 123.6,48.8 126.4,50.4 129.2,52.4 132.0,54.9 134.8,58.0 137.6,61.7 140.4,66.2 143.2,71.5 146.0,77.6 148.8,84.3 151.6,91.5 154.4,99.0 157.2,106.5 160.0,113.8 162.8,120.6 165.7,126.8 168.5,132.2 171.3,136.9 174.1,140.7 176.9,143.9 179.7,146.5 182.5,148.6 185.3,150.2 188.1,151.5 190.9,152.5 193.7,153.3 196.5,153.9 199.3,154.4 202.1,154.7 205.0,155.0 207.8,155.2 210.6,155.4 213.4,155.5 216.2,155.6 219.0,155.7 221.8,155.7 224.6,155.8" fill="none" stroke="#000" stroke-width="2.3" stroke-linejoin="round"/>
<polyline points="56.2,55.8 59.0,55.8 61.8,55.8 64.6,55.8 67.4,55.8 70.2,55.8 73.0,55.8 75.8,55.8 78.6,55.8 81.4,55.8 84.3,55.8 87.1,55.8 89.9,55.8 92.7,55.9 95.5,55.9 98.3,55.9 101.1,56.0 103.9,56.0 106.7,56.1 109.5,56.2 112.3,56.4 115.1,56.6 117.9,56.9 120.7,57.2 123.6,57.7 126.4,58.4 129.2,59.2 132.0,60.3 134.8,61.7 137.6,63.6 140.4,66.0 143.2,69.0 146.0,72.8 148.8,77.5 151.6,83.1 154.4,89.5 157.2,96.8 160.0,104.8 162.8,113.0 165.7,121.3 168.5,129.3 171.3,136.6 174.1,143.2 176.9,148.8 179.7,153.5 182.5,157.3 185.3,160.4 188.1,162.9 190.9,164.8 193.7,166.2 196.5,167.4 199.3,168.2 202.1,168.9 205.0,169.4 207.8,169.7 210.6,170.0 213.4,170.2 216.2,170.4 219.0,170.5 221.8,170.6 224.6,170.6" fill="none" stroke="#000" stroke-width="2.3" stroke-linejoin="round"/>
<polyline points="56.2,44.6 59.0,44.6 61.8,44.6 64.6,44.6 67.4,44.6 70.2,44.6 73.0,44.6 75.8,44.6 78.6,44.6 81.4,44.6 84.3,44.6 87.1,44.6 89.9,44.6 92.7,44.6 95.5,44.6 98.3,44.6 101.1,44.6 103.9,44.6 106.7,44.6 109.5,44.6 112.3,44.7 115.1,44.7 117.9,44.7 120.7,44.7 123.6,44.8 126.4,44.8 129.2,44.9 132.0,45.0 134.8,45.2 137.6,45.4 140.4,45.7 143.2,46.0 146.0,46.6 148.8,47.3 151.6,48.3 154.4,49.6 157.2,51.4 160.0,53.8 162.8,56.9 165.7,60.9 168.5,66.0 171.3,72.3 174.1,79.7 176.9,88.3 179.7,97.7 182.5,107.5 185.3,117.3 188.1,126.5 190.9,134.8 193.7,142.0 196.5,148.0 199.3,152.8 202.1,156.6 205.0,159.5 207.8,161.7 210.6,163.4 213.4,164.6 216.2,165.5 219.0,166.2 221.8,166.7 224.6,167.1" fill="none" stroke="#000" stroke-width="2.3" stroke-linejoin="round"/>
<polyline points="56.2,36.3 59.0,36.3 61.8,36.3 64.6,36.3 67.4,36.3 70.2,36.3 73.0,36.3 75.8,36.3 78.6,36.3 81.4,36.3 84.3,36.3 87.1,36.3 89.9,36.3 92.7,36.3 95.5,36.3 98.3,36.3 101.1,36.3 103.9,36.3 106.7,36.3 109.5,36.3 112.3,36.3 115.1,36.3 117.9,36.3 120.7,36.3 123.6,36.3 126.4,36.3 129.2,36.4 132.0,36.4 134.8,36.4 137.6,36.4 140.4,36.4 143.2,36.5 146.0,36.5 148.8,36.6 151.6,36.7 154.4,36.9 157.2,37.1 160.0,37.4 162.8,37.9 165.7,38.6 168.5,39.5 171.3,40.8 174.1,42.6 176.9,45.1 179.7,48.4 182.5,52.9 185.3,58.6 188.1,65.8 190.9,74.3 193.7,84.0 196.5,94.4 199.3,104.8 202.1,114.7 205.0,123.5 207.8,131.0 210.6,137.0 213.4,141.7 216.2,145.3 219.0,147.9 221.8,149.9 224.6,151.3" fill="none" stroke="#000" stroke-width="2.3" stroke-linejoin="round"/>
<polyline points="56.2,50.4 59.0,50.4 61.8,50.4 64.6,50.4 67.4,50.4 70.2,50.4 73.0,50.4 75.8,50.4 78.6,50.4 81.4,50.4 84.3,50.4 87.1,50.5 89.9,50.5 92.7,50.5 95.5,50.6 98.3,50.6 101.1,50.7 103.9,50.8 106.7,50.9 109.5,51.1 112.3,51.4 115.1,51.7 117.9,52.1 120.7,52.6 123.6,53.4 126.4,54.3 129.2,55.6 132.0,57.2 134.8,59.3 137.6,61.9 140.4,65.3 143.2,69.5 146.0,74.5 148.8,80.5 151.6,87.4 154.4,95.1 157.2,103.4 160.0,111.9 162.8,120.4 165.7,128.5 168.5,136.0 171.3,142.5 174.1,148.2 176.9,152.9 179.7,156.8 182.5,159.8 185.3,162.3 188.1,164.2 190.9,165.7 193.7,166.8 196.5,167.7 199.3,168.3 202.1,168.8 205.0,169.2 207.8,169.5 210.6,169.7 213.4,169.9 216.2,170.0 219.0,170.1 221.8,170.1 224.6,170.2" fill="none" stroke="#000" stroke-width="2.3" stroke-linejoin="round"/>
<polyline points="56.2,34.7 59.0,34.7 61.8,34.7 64.6,34.7 67.4,34.7 70.2,34.7 73.0,34.7 75.8,34.7 78.6,34.7 81.4,34.7 84.3,34.7 87.1,34.7 89.9,34.7 92.7,34.7 95.5,34.7 98.3,34.7 101.1,34.7 103.9,34.7 106.7,34.7 109.5,34.7 112.3,34.7 115.1,34.7 117.9,34.7 120.7,34.7 123.6,34.7 126.4,34.7 129.2,34.7 132.0,34.7 134.8,34.7 137.6,34.7 140.4,34.7 143.2,34.7 146.0,34.8 148.8,34.8 151.6,34.9 154.4,35.0 157.2,35.1 160.0,35.3 162.8,35.6 165.7,36.1 168.5,36.9 171.3,37.9 174.1,39.6 176.9,41.9 179.7,45.3 182.5,50.2 185.3,56.8 188.1,65.4 190.9,76.2 193.7,88.8 196.5,102.3 199.3,115.6 202.1,127.8 205.0,138.0 207.8,146.1 210.6,152.2 213.4,156.6 216.2,159.7 219.0,161.8 221.8,163.3 224.6,164.3" fill="none" stroke="#000" stroke-width="2.3" stroke-linejoin="round"/>
<polyline points="56.2,48.9 59.0,48.9 61.8,48.9 64.6,48.9 67.4,48.9 70.2,49.0 73.0,49.0 75.8,49.0 78.6,49.1 81.4,49.2 84.3,49.2 87.1,49.3 89.9,49.5 92.7,49.6 95.5,49.9 98.3,50.1 101.1,50.5 103.9,50.9 106.7,51.4 109.5,52.0 112.3,52.9 115.1,53.9 117.9,55.1 120.7,56.6 123.6,58.5 126.4,60.7 129.2,63.4 132.0,66.6 134.8,70.4 137.6,74.8 140.4,79.8 143.2,85.4 146.0,91.4 148.8,97.9 151.6,104.7 154.4,111.5 157.2,118.3 160.0,124.8 162.8,130.9 165.7,136.5 168.5,141.5 171.3,145.9 174.1,149.7 176.9,153.0 179.7,155.7 182.5,158.0 185.3,159.9 188.1,161.4 190.9,162.7 193.7,163.7 196.5,164.5 199.3,165.2 202.1,165.7 205.0,166.1 207.8,166.5 210.6,166.7 213.4,166.9 216.2,167.1 219.0,167.2 221.8,167.4 224.6,167.4" fill="none" stroke="#000" stroke-width="2.3" stroke-linejoin="round"/>
<polyline points="56.2,50.5 59.0,50.5 61.8,50.5 64.6,50.5 67.4,50.5 70.2,50.5 73.0,50.5 75.8,50.6 78.6,50.6 81.4,50.6 84.3,50.7 87.1,50.7 89.9,50.8 92.7,51.0 95.5,51.1 98.3,51.3 101.1,51.6 103.9,52.0 106.7,52.5 109.5,53.1 112.3,54.0 115.1,55.1 117.9,56.5 120.7,58.3 123.6,60.7 126.4,63.6 129.2,67.3 132.0,71.7 134.8,76.9 137.6,82.9 140.4,89.5 143.2,96.7 146.0,104.1 148.8,111.4 151.6,118.3 154.4,124.7 157.2,130.4 160.0,135.2 162.8,139.3 165.7,142.6 168.5,145.3 171.3,147.4 174.1,149.1 176.9,150.3 179.7,151.3 182.5,152.1 185.3,152.6 188.1,153.1 190.9,153.4 193.7,153.7 196.5,153.8 199.3,154.0 202.1,154.1 205.0,154.2 207.8,154.2 210.6,154.3 213.4,154.3 216.2,154.3 219.0,154.4 221.8,154.4 224.6,154.4" fill="none" stroke="#000" stroke-width="2.3" stroke-linejoin="round"/>
<polyline points="56.2,56.2 59.0,56.2 61.8,56.2 64.6,56.2 67.4,56.2 70.2,56.2 73.0,56.3 75.8,56.3 78.6,56.3 81.4,56.3 84.3,56.3 87.1,56.3 89.9,56.4 92.7,56.4 95.5,56.5 98.3,56.6 101.1,56.7 103.9,56.9 106.7,57.1 109.5,57.4 112.3,57.8 115.1,58.4 117.9,59.2 120.7,60.2 123.6,61.5 126.4,63.3 129.2,65.7 132.0,68.7 134.8,72.5 137.6,77.3 140.4,82.9 143.2,89.5 146.0,96.9 148.8,104.7 151.6,112.7 154.4,120.5 157.2,127.7 160.0,134.1 162.8,139.5 165.7,144.1 168.5,147.7 171.3,150.6 174.1,152.8 176.9,154.5 179.7,155.8 182.5,156.7 185.3,157.4 188.1,158.0 190.9,158.4 193.7,158.7 196.5,158.9 199.3,159.0 202.1,159.2 205.0,159.2 207.8,159.3 210.6,159.3 213.4,159.4 216.2,159.4 219.0,159.4 221.8,159.4 224.6,159.4" fill="none" stroke="#000" stroke-width="2.3" stroke-linejoin="round"/>
<polyline points="56.2,40.2 59.0,40.2 61.8,40.2 64.6,40.2 67.4,40.2 70.2,40.2 73.0,40.3 75.8,40.3 78.6,40.4 81.4,40.4 84.3,40.5 87.1,40.6 89.9,40.7 92.7,40.8 95.5,41.0 98.3,41.2 101.1,41.5 103.9,41.8 106.7,42.3 109.5,42.8 112.3,43.5 115.1,44.4 117.9,45.4 120.7,46.8 123.6,48.4 126.4,50.4 129.2,52.8 132.0,55.7 134.8,59.2 137.6,63.3 140.4,68.0 143.2,73.4 146.0,79.4 148.8,85.9 151.6,92.9 154.4,100.1 157.2,107.4 160.0,114.5 162.8,121.3 165.7,127.7 168.5,133.5 171.3,138.7 174.1,143.2 176.9,147.1 179.7,150.3 182.5,153.1 185.3,155.4 188.1,157.2 190.9,158.7 193.7,160.0 196.5,161.0 199.3,161.7 202.1,162.4 205.0,162.9 207.8,163.3 210.6,163.6 213.4,163.9 216.2,164.1 219.0,164.3 221.8,164.4 224.6,164.5" fill="none" stroke="#000" stroke-width="2.3" stroke-linejoin="round"/>
<polyline points="56.2,44.7 59.0,44.7 61.8,44.7 64.6,44.7 67.4,44.7 70.2,44.7 73.0,44.7 75.8,44.7 78.6,44.7 81.4,44.7 84.3,44.7 87.1,44.7 89.9,44.7 92.7,44.7 95.5,44.7 98.3,44.7 101.1,44.7 103.9,44.7 106.7,44.7 109.5,44.7 112.3,44.7 115.1,44.7 117.9,44.8 120.7,44.8 123.6,44.8 126.4,44.9 129.2,45.0 132.0,45.1 134.8,45.3 137.6,45.5 140.4,45.8 143.2,46.2 146.0,46.7 148.8,47.5 151.6,48.5 154.4,49.8 157.2,51.6 160.0,54.0 162.8,57.0 165.7,60.9 168.5,65.8 171.3,71.7 174.1,78.6 176.9,86.4 179.7,94.9 182.5,103.5 185.3,112.0 188.1,119.9 190.9,126.9 193.7,132.9 196.5,137.9 199.3,141.9 202.1,145.1 205.0,147.5 207.8,149.3 210.6,150.7 213.4,151.8 216.2,152.5 219.0,153.1 221.8,153.5 224.6,153.8" fill="none" stroke="#000" stroke-width="2.3" stroke-linejoin="round"/>
<polyline points="56.2,52.7 59.0,52.7 61.8,52.7 64.6,52.8 67.4,52.8 70.2,52.8 73.0,52.8 75.8,52.9 78.6,52.9 81.4,53.0 84.3,53.0 87.1,53.1 89.9,53.3 92.7,53.4 95.5,53.6 98.3,53.8 101.1,54.1 103.9,54.4 106.7,54.9 109.5,55.4 112.3,56.1 115.1,57.0 117.9,58.0 120.7,59.3 123.6,60.9 126.4,62.8 129.2,65.2 132.0,67.9 134.8,71.2 137.6,75.0 140.4,79.4 143.2,84.3 146.0,89.7 148.8,95.6 151.6,101.8 154.4,108.1 157.2,114.4 160.0,120.6 162.8,126.5 165.7,131.9 168.5,136.9 171.3,141.2 174.1,145.1 176.9,148.3 179.7,151.1 182.5,153.4 185.3,155.4 188.1,157.0 190.9,158.3 193.7,159.3 196.5,160.2 199.3,160.9 202.1,161.4 205.0,161.9 207.8,162.2 210.6,162.5 213.4,162.7 216.2,162.9 219.0,163.1 221.8,163.2 224.6,163.3" fill="none" stroke="#000" stroke-width="2.3" stroke-linejoin="round"/>
<polyline points="56.2,42.9 59.0,42.9 61.8,42.9 64.6,42.9 67.4,42.9 70.2,42.9 73.0,42.9 75.8,42.9 78.6,42.9 81.4,43.0 84.3,43.0 87.1,43.0 89.9,43.0 92.7,43.0 95.5,43.1 98.3,43.1 101.1,43.2 103.9,43.3 106.7,43.4 109.5,43.5 112.3,43.8 115.1,44.1 117.9,44.5 120.7,45.0 123.6,45.8 126.4,46.8 129.2,48.2 132.0,50.0 134.8,52.4 137.6,55.5 140.4,59.5 143.2,64.5 146.0,70.6 148.8,77.8 151.6,86.0 154.4,95.0 157.2,104.3 160.0,113.6 162.8,122.4 165.7,130.3 168.5,137.2 171.3,143.0 174.1,147.6 176.9,151.4 179.7,154.2 182.5,156.4 185.3,158.1 188.1,159.3 190.9,160.3 193.7,161.0 196.5,161.5 199.3,161.9 202.1,162.1 205.0,162.3 207.8,162.5 210.6,162.6 213.4,162.7 216.2,162.7 219.0,162.8 221.8,162.8 224.6,162.8" fill="none" stroke="#000" stroke-width="2.3" stroke-linejoin="round"/>
<polyline points="56.2,58.6 59.0,58.6 61.8,58.7 64.6,58.9 67.4,59.0 70.2,59.2 73.0,59.4 75.8,59.6 78.6,59.9 81.4,60.3 84.3,60.7 87.1,61.3 89.9,61.9 92.7,62.6 95.5,63.5 98.3,64.6 101.1,65.8 103.9,67.3 106.7,69.0 109.5,71.0 112.3,73.3 115.1,76.0 117.9,79.0 120.7,82.4 123.6,86.1 126.4,90.1 129.2,94.5 132.0,99.1 134.8,103.9 137.6,108.8 140.4,113.8 143.2,118.6 146.0,123.3 148.8,127.8 151.6,132.0 154.4,135.8 157.2,139.3 160.0,142.4 162.8,145.2 165.7,147.6 168.5,149.7 171.3,151.5 174.1,153.1 176.9,154.4 179.7,155.5 182.5,156.5 185.3,157.3 188.1,158.0 190.9,158.5 193.7,159.0 196.5,159.4 199.3,159.7 202.1,160.0 205.0,160.2 207.8,160.4 210.6,160.5 213.4,160.6 216.2,160.7 219.0,160.8 221.8,160.9 224.6,161.0" fill="none" stroke="#000" stroke-width="2.3" stroke-linejoin="round"/>
<polyline points="56.2,50.8 59.0,50.8 61.8,50.8 64.6,50.8 67.4,50.8 70.2,50.8 73.0,50.8 75.8,50.8 78.6,50.8 81.4,50.8 84.3,50.8 87.1,50.8 89.9,50.9 92.7,50.9 95.5,50.9 98.3,50.9 101.1,50.9 103.9,51.0 106.7,51.0 109.5,51.1 112.3,51.1 115.1,51.3 117.9,51.4 120.7,51.6 123.6,51.9 126.4,52.3 129.2,52.9 132.0,53.6 134.8,54.6 137.6,55.9 140.4,57.7 143.2,60.1 146.0,63.2 148.8,67.1 151.6,72.1 154.4,78.1 157.2,85.3 160.0,93.5 162.8,102.5 165.7,111.8 168.5,121.0 171.3,129.8 174.1,137.7 176.9,144.5 179.7,150.3 182.5,154.9 185.3,158.5 188.1,161.4 190.9,163.5 193.7,165.2 196.5,166.4 199.3,167.3 202.1,168.0 205.0,168.5 207.8,168.8 210.6,169.1 213.4,169.3 216.2,169.4 219.0,169.6 221.8,169.6 224.6,169.7" fill="none" stroke="#000" stroke-width="2.3" stroke-linejoin="round"/>
<polyline points="93.8,26.6 95.9,26.8 98.1,27.1 100.3,27.3 102.5,27.7 104.7,28.0 106.8,28.4 109.0,28.9 111.2,29.4 113.4,30.0 115.6,30.7 117.7,31.4 119.9,32.2 122.1,33.2 124.3,34.2 126.5,35.4 128.6,36.7 130.8,38.2 133.0,39.8 135.2,41.6 137.4,43.6 139.5,45.8 141.7,48.1 143.9,50.8 146.1,53.6 148.3,56.6 150.5,59.9 152.6,63.4 154.8,67.1 157.0,71.0 159.2,75.1 161.4,79.3 163.5,83.7 165.7,88.1 167.9,92.7 170.1,97.2 172.3,101.7 174.4,106.2 176.6,110.6 178.8,114.9 181.0,119.0 183.2,123.0 185.3,126.7 187.5,130.3 189.7,133.6 191.9,136.7 194.1,139.6 196.2,142.3 198.4,144.7 200.6,147.0 202.8,149.0 205.0,150.9 207.2,152.5 209.3,154.1 211.5,155.4 213.7,156.6 215.9,157.7 218.1,158.7 220.2,159.5 222.4,160.3 224.6,161.0" fill="none" stroke="#000" stroke-width="2.3" stroke-linejoin="round"/>
<polyline points="56.2,36.9 59.0,36.9 61.8,36.9 64.6,36.9 67.4,36.9 70.2,36.9 73.0,36.9 75.8,36.9 78.6,36.9 81.4,36.9 84.3,36.9 87.1,36.9 89.9,36.9 92.7,36.9 95.5,36.9 98.3,36.9 101.1,36.9 103.9,36.9 106.7,36.9 109.5,36.9 112.3,36.9 115.1,37.0 117.9,37.0 120.7,37.0 123.6,37.0 126.4,37.1 129.2,37.1 132.0,37.2 134.8,37.3 137.6,37.5 140.4,37.7 143.2,38.1 146.0,38.5 148.8,39.1 151.6,39.9 154.4,41.1 157.2,42.6 160.0,44.7 162.8,47.5 165.7,51.1 168.5,55.8 171.3,61.7 174.1,69.0 176.9,77.5 179.7,87.0 182.5,97.2 185.3,107.6 188.1,117.6 190.9,126.7 193.7,134.7 196.5,141.4 199.3,146.8 202.1,151.0 205.0,154.3 207.8,156.7 210.6,158.6 213.4,159.9 216.2,160.9 219.0,161.6 221.8,162.2 224.6,162.5" fill="none" stroke="#000" stroke-width="2.3" stroke-linejoin="round"/>
<polyline points="56.2,56.8 59.0,56.8 61.8,56.8 64.6,56.8 67.4,56.8 70.2,56.8 73.0,56.8 75.8,56.8 78.6,56.9 81.4,56.9 84.3,56.9 87.1,56.9 89.9,56.9 92.7,56.9 95.5,56.9 98.3,56.9 101.1,57.0 103.9,57.0 106.7,57.1 109.5,57.1 112.3,57.2 115.1,57.3 117.9,57.5 120.7,57.7 123.6,58.1 126.4,58.5 129.2,59.0 132.0,59.7 134.8,60.7 137.6,61.9 140.4,63.5 143.2,65.6 146.0,68.2 148.8,71.6 151.6,75.8 154.4,80.8 157.2,86.8 160.0,93.6 162.8,101.1 165.7,109.1 168.5,117.3 171.3,125.3 174.1,132.7 176.9,139.5 179.7,145.4 182.5,150.3 185.3,154.4 188.1,157.7 190.9,160.3 193.7,162.3 196.5,163.9 199.3,165.1 202.1,166.0 205.0,166.7 207.8,167.2 210.6,167.6 213.4,167.9 216.2,168.2 219.0,168.3 221.8,168.5 224.6,168.6" fill="none" stroke="#000" stroke-width="2.3" stroke-linejoin="round"/>
<polyline points="56.2,46.3 59.0,46.3 61.8,46.3 64.6,46.3 67.4,46.3 70.2,46.3 73.0,46.3 75.8,46.3 78.6,46.3 81.4,46.3 84.3,46.3 87.1,46.3 89.9,46.3 92.7,46.3 95.5,46.3 98.3,46.4 101.1,46.4 103.9,46.4 106.7,46.5 109.5,46.6 112.3,46.7 115.1,46.8 117.9,47.1 120.7,47.3 123.6,47.7 126.4,48.3 129.2,49.0 132.0,50.1 134.8,51.4 137.6,53.3 140.4,55.7 143.2,58.9 146.0,63.1 148.8,68.3 151.6,74.7 154.4,82.3 157.2,90.9 160.0,100.3 162.8,110.1 165.7,119.6 168.5,128.6 171.3,136.5 174.1,143.3 176.9,149.0 179.7,153.5 182.5,157.0 185.3,159.7 188.1,161.7 190.9,163.2 193.7,164.4 196.5,165.2 199.3,165.8 202.1,166.2 205.0,166.6 207.8,166.8 210.6,167.0 213.4,167.1 216.2,167.2 219.0,167.3 221.8,167.3 224.6,167.3" fill="none" stroke="#000" stroke-width="2.3" stroke-linejoin="round"/>
<polyline points="56.2,47.6 59.0,47.7 61.8,47.7 64.6,47.8 67.4,47.9 70.2,48.0 73.0,48.1 75.8,48.2 78.6,48.4 81.4,48.6 84.3,48.9 87.1,49.2 89.9,49.5 92.7,50.0 95.5,50.5 98.3,51.1 101.1,51.9 103.9,52.8 106.7,53.8 109.5,55.1 112.3,56.5 115.1,58.3 117.9,60.3 120.7,62.6 123.6,65.3 126.4,68.3 129.2,71.8 132.0,75.6 134.8,79.8 137.6,84.4 140.4,89.3 143.2,94.4 146.0,99.8 148.8,105.2 151.6,110.6 154.4,115.9 157.2,121.0 160.0,125.8 162.8,130.3 165.7,134.4 168.5,138.2 171.3,141.5 174.1,144.5 176.9,147.1 179.7,149.4 182.5,151.3 185.3,153.0 188.1,154.4 190.9,155.6 193.7,156.6 196.5,157.5 199.3,158.2 202.1,158.8 205.0,159.3 207.8,159.7 210.6,160.1 213.4,160.4 216.2,160.6 219.0,160.8 221.8,161.0 224.6,161.1" fill="none" stroke="#000" stroke-width="2.3" stroke-linejoin="round"/>
<polyline points="56.2,35.2 59.0,35.3 61.8,35.3 64.6,35.4 67.4,35.5 70.2,35.6 73.0,35.7 75.8,35.9 78.6,36.1 81.4,36.4 84.3,36.7 87.1,37.2 89.9,37.8 92.7,38.5 95.5,39.4 98.3,40.6 101.1,42.0 103.9,43.8 106.7,46.0 109.5,48.7 112.3,52.0 115.1,55.9 117.9,60.4 120.7,65.7 123.6,71.6 126.4,78.1 129.2,85.1 132.0,92.4 134.8,99.8 137.6,107.0 140.4,113.8 143.2,120.2 146.0,125.9 148.8,130.9 151.6,135.3 154.4,138.9 157.2,142.0 160.0,144.5 162.8,146.6 165.7,148.3 168.5,149.6 171.3,150.7 174.1,151.5 176.9,152.2 179.7,152.7 182.5,153.2 185.3,153.5 188.1,153.8 190.9,154.0 193.7,154.1 196.5,154.2 199.3,154.3 202.1,154.4 205.0,154.5 207.8,154.5 210.6,154.6 213.4,154.6 216.2,154.6 219.0,154.6 221.8,154.6 224.6,154.7" fill="none" stroke="#000" stroke-width="2.3" stroke-linejoin="round"/>
<polyline points="56.2,67.1 59.0,67.1 61.8,67.1 64.6,67.1 67.4,67.1 70.2,67.1 73.0,67.2 75.8,67.2 78.6,67.3 81.4,67.3 84.3,67.4 87.1,67.6 89.9,67.7 92.7,67.9 95.5,68.2 98.3,68.5 101.1,69.0 103.9,69.5 106.7,70.3 109.5,71.2 112.3,72.4 115.1,73.8 117.9,75.7 120.7,77.9 123.6,80.7 126.4,84.1 129.2,88.0 132.0,92.6 134.8,97.8 137.6,103.6 140.4,109.7 143.2,116.1 146.0,122.5 148.8,128.7 151.6,134.5 154.4,139.8 157.2,144.5 160.0,148.6 162.8,152.0 165.7,154.9 168.5,157.2 171.3,159.1 174.1,160.7 176.9,161.9 179.7,162.8 182.5,163.6 185.3,164.2 188.1,164.6 190.9,165.0 193.7,165.3 196.5,165.5 199.3,165.6 202.1,165.8 205.0,165.9 207.8,165.9 210.6,166.0 213.4,166.0 216.2,166.1 219.0,166.1 221.8,166.1 224.6,166.1" fill="none" stroke="#000" stroke-width="2.3" stroke-linejoin="round"/>
<polyline points="56.2,49.4 59.0,49.4 61.8,49.4 64.6,49.4 67.4,49.4 70.2,49.4 73.0,49.4 75.8,49.5 78.6,49.5 81.4,49.5 84.3,49.5 87.1,49.6 89.9,49.6 92.7,49.7 95.5,49.8 98.3,49.9 101.1,50.1 103.9,50.3 106.7,50.6 109.5,51.0 112.3,51.5 115.1,52.2 117.9,53.1 120.7,54.2 123.6,55.7 126.4,57.6 129.2,60.1 132.0,63.1 134.8,66.9 137.6,71.6 140.4,77.1 143.2,83.4 146.0,90.6 148.8,98.3 151.6,106.3 154.4,114.4 157.2,122.2 160.0,129.4 162.8,135.8 165.7,141.3 168.5,146.0 171.3,149.9 174.1,153.0 176.9,155.5 179.7,157.4 182.5,158.9 185.3,160.1 188.1,161.0 190.9,161.7 193.7,162.2 196.5,162.6 199.3,162.9 202.1,163.1 205.0,163.3 207.8,163.4 210.6,163.5 213.4,163.6 216.2,163.7 219.0,163.7 221.8,163.7 224.6,163.8" fill="none" stroke="#000" stroke-width="2.3" stroke-linejoin="round"/>
<polyline points="56.2,57.1 59.0,57.1 61.8,57.1 64.6,57.1 67.4,57.1 70.2,57.1 73.0,57.1 75.8,57.1 78.6,57.2 81.4,57.2 84.3,57.2 87.1,57.3 89.9,57.3 92.7,57.4 95.5,57.4 98.3,57.5 101.1,57.6 103.9,57.8 106.7,57.9 109.5,58.1 112.3,58.3 115.1,58.6 117.9,59.0 120.7,59.4 123.6,59.9 126.4,60.5 129.2,61.2 132.0,62.1 134.8,63.2 137.6,64.4 140.4,65.9 143.2,67.7 146.0,69.8 148.8,72.2 151.6,75.0 154.4,78.2 157.2,81.8 160.0,85.9 162.8,90.3 165.7,95.1 168.5,100.2 171.3,105.5 174.1,110.9 176.9,116.4 179.7,121.7 182.5,126.9 185.3,131.8 188.1,136.3 190.9,140.5 193.7,144.2 196.5,147.6 199.3,150.5 202.1,153.0 205.0,155.2 207.8,157.1 210.6,158.7 213.4,160.0 216.2,161.1 219.0,162.0 221.8,162.8 224.6,163.5" fill="none" stroke="#000" stroke-width="2.3" stroke-linejoin="round"/>
<polyline points="56.2,55.6 59.0,55.6 61.8,55.6 64.6,55.6 67.4,55.6 70.2,55.6 73.0,55.7 75.8,55.7 78.6,55.7 81.4,55.8 84.3,55.9 87.1,55.9 89.9,56.1 92.7,56.2 95.5,56.4 98.3,56.6 101.1,56.9 103.9,57.3 106.7,57.8 109.5,58.4 112.3,59.2 115.1,60.2 117.9,61.5 120.7,63.1 123.6,65.1 126.4,67.5 129.2,70.4 132.0,74.0 134.8,78.2 137.6,83.0 140.4,88.5 143.2,94.6 146.0,101.1 148.8,107.9 151.6,114.8 154.4,121.6 157.2,128.0 160.0,133.9 162.8,139.2 165.7,143.9 168.5,147.9 171.3,151.3 174.1,154.1 176.9,156.4 179.7,158.2 182.5,159.7 185.3,160.9 188.1,161.9 190.9,162.6 193.7,163.2 196.5,163.7 199.3,164.0 202.1,164.3 205.0,164.5 207.8,164.7 210.6,164.8 213.4,164.9 216.2,165.0 219.0,165.1 221.8,165.1 224.6,165.2" fill="none" stroke="#000" stroke-width="2.3" stroke-linejoin="round"/>
<polyline points="56.2,37.8 59.0,37.9 61.8,37.9 64.6,37.9 67.4,37.9 70.2,38.0 73.0,38.0 75.8,38.0 78.6,38.1 81.4,38.2 84.3,38.3 87.1,38.4 89.9,38.5 92.7,38.6 95.5,38.8 98.3,39.0 101.1,39.3 103.9,39.6 106.7,39.9 109.5,40.4 112.3,40.9 115.1,41.5 117.9,42.2 120.7,43.1 123.6,44.1 126.4,45.4 129.2,46.8 132.0,48.5 134.8,50.5 137.6,52.8 140.4,55.5 143.2,58.5 146.0,61.9 148.8,65.7 151.6,70.0 154.4,74.6 157.2,79.5 160.0,84.8 162.8,90.3 165.7,95.9 168.5,101.6 171.3,107.2 174.1,112.7 176.9,117.9 179.7,122.8 182.5,127.4 185.3,131.5 188.1,135.3 190.9,138.7 193.7,141.6 196.5,144.2 199.3,146.5 202.1,148.4 205.0,150.1 207.8,151.5 210.6,152.7 213.4,153.7 216.2,154.6 219.0,155.3 221.8,155.9 224.6,156.4" fill="none" stroke="#000" stroke-width="2.3" stroke-linejoin="round"/>
<polyline points="56.2,51.9 59.0,51.9 61.8,51.9 64.6,51.9 67.4,52.0 70.2,52.0 73.0,52.0 75.8,52.1 78.6,52.1 81.4,52.2 84.3,52.3 87.1,52.4 89.9,52.6 92.7,52.9 95.5,53.2 98.3,53.6 101.1,54.2 103.9,55.0 106.7,56.0 109.5,57.3 112.3,59.1 115.1,61.3 117.9,64.2 120.7,67.8 123.6,72.2 126.4,77.5 129.2,83.7 132.0,90.7 134.8,98.3 137.6,106.2 140.4,114.2 143.2,121.7 146.0,128.7 148.8,134.9 151.6,140.2 154.4,144.6 157.2,148.1 160.0,151.0 162.8,153.2 165.7,154.9 168.5,156.2 171.3,157.2 174.1,158.0 176.9,158.6 179.7,159.0 182.5,159.3 185.3,159.6 188.1,159.8 190.9,159.9 193.7,160.0 196.5,160.1 199.3,160.1 202.1,160.2 205.0,160.2 207.8,160.2 210.6,160.2 213.4,160.3 216.2,160.3 219.0,160.3 221.8,160.3 224.6,160.3" fill="none" stroke="#000" stroke-width="2.3" stroke-linejoin="round"/>
<polyline points="56.2,61.7 59.0,61.7 61.8,61.7 64.6,61.8 67.4,61.8 70.2,61.8 73.0,61.9 75.8,61.9 78.6,62.0 81.4,62.0 84.3,62.1 87.1,62.2 89.9,62.3 92.7,62.5 95.5,62.6 98.3,62.8 101.1,63.1 103.9,63.4 106.7,63.7 109.5,64.1 112.3,64.6 115.1,65.2 117.9,65.8 120.7,66.6 123.6,67.6 126.4,68.7 129.2,70.0 132.0,71.4 134.8,73.1 137.6,75.0 140.4,77.1 143.2,79.5 146.0,82.1 148.8,84.9 151.6,87.9 154.4,91.0 157.2,94.2 160.0,97.5 162.8,100.7 165.7,103.9 168.5,107.0 171.3,109.9 174.1,112.6 176.9,115.0 179.7,117.3 182.5,119.3 185.3,121.1 188.1,122.7 190.9,124.0 193.7,125.2 196.5,126.2 199.3,127.1 202.1,127.8 205.0,128.5 207.8,129.0 210.6,129.4 213.4,129.8 216.2,130.1 219.0,130.4 221.8,130.6 224.6,130.8" fill="none" stroke="#858585" stroke-width="2.8" stroke-linejoin="round"/>
<polyline points="56.2,41.1 59.0,41.1 61.8,41.1 64.6,41.1 67.4,41.1 70.2,41.1 73.0,41.1 75.8,41.1 78.6,41.1 81.4,41.1 84.3,41.1 87.1,41.1 89.9,41.1 92.7,41.1 95.5,41.1 98.3,41.1 101.1,41.2 103.9,41.2 106.7,41.2 109.5,41.3 112.3,41.4 115.1,41.5 117.9,41.6 120.7,41.8 123.6,42.1 126.4,42.5 129.2,43.0 132.0,43.6 134.8,44.6 137.6,45.8 140.4,47.5 143.2,49.7 146.0,52.6 148.8,56.4 151.6,61.1 154.4,67.0 157.2,73.9 160.0,82.0 162.8,90.9 165.7,100.3 168.5,109.7 171.3,118.7 174.1,126.9 176.9,134.1 179.7,140.1 182.5,145.0 185.3,148.9 188.1,151.9 190.9,154.2 193.7,155.9 196.5,157.2 199.3,158.2 202.1,158.9 205.0,159.4 207.8,159.8 210.6,160.1 213.4,160.3 216.2,160.4 219.0,160.5 221.8,160.6 224.6,160.7" fill="none" stroke="#000" stroke-width="2.3" stroke-linejoin="round"/>
<polyline points="56.2,56.4 59.0,56.4 61.8,56.4 64.6,56.4 67.4,56.4 70.2,56.4 73.0,56.5 75.8,56.5 78.6,56.5 81.4,56.5 84.3,56.5 87.1,56.6 89.9,56.6 92.7,56.7 95.5,56.7 98.3,56.8 101.1,57.0 103.9,57.1 106.7,57.3 109.5,57.6 112.3,58.0 115.1,58.4 117.9,59.0 120.7,59.7 123.6,60.6 126.4,61.8 129.2,63.3 132.0,65.1 134.8,67.4 137.6,70.2 140.4,73.6 143.2,77.7 146.0,82.4 148.8,87.8 151.6,93.8 154.4,100.3 157.2,107.0 160.0,113.9 162.8,120.6 165.7,127.0 168.5,132.9 171.3,138.1 174.1,142.7 176.9,146.6 179.7,149.9 182.5,152.6 185.3,154.8 188.1,156.6 190.9,158.0 193.7,159.1 196.5,160.0 199.3,160.7 202.1,161.3 205.0,161.7 207.8,162.0 210.6,162.3 213.4,162.5 216.2,162.6 219.0,162.7 221.8,162.8 224.6,162.9" fill="none" stroke="#858585" stroke-width="2.8" stroke-linejoin="round"/>
<polyline points="56.2,53.2 59.0,53.2 61.8,53.2 64.6,53.2 67.4,53.2 70.2,53.3 73.0,53.3 75.8,53.3 78.6,53.3 81.4,53.4 84.3,53.4 87.1,53.5 89.9,53.5 92.7,53.6 95.5,53.7 98.3,53.8 101.1,53.9 103.9,54.0 106.7,54.2 109.5,54.4 112.3,54.6 115.1,54.9 117.9,55.2 120.7,55.6 123.6,56.1 126.4,56.7 129.2,57.4 132.0,58.1 134.8,59.1 137.6,60.2 140.4,61.4 143.2,62.9 146.0,64.6 148.8,66.6 151.6,68.8 154.4,71.3 157.2,74.2 160.0,77.3 162.8,80.8 165.7,84.5 168.5,88.5 171.3,92.8 174.1,97.1 176.9,101.6 179.7,106.1 182.5,110.6 185.3,114.9 188.1,119.1 190.9,123.0 193.7,126.6 196.5,130.0 199.3,133.0 202.1,135.8 205.0,138.2 207.8,140.3 210.6,142.2 213.4,143.8 216.2,145.2 219.0,146.4 221.8,147.5 224.6,148.4" fill="none" stroke="#858585" stroke-width="2.8" stroke-linejoin="round"/>
<polyline points="56.2,58.5 59.0,58.5 61.8,58.5 64.6,58.5 67.4,58.5 70.2,58.5 73.0,58.6 75.8,58.6 78.6,58.6 81.4,58.6 84.3,58.6 87.1,58.6 89.9,58.6 92.7,58.7 95.5,58.7 98.3,58.8 101.1,58.9 103.9,59.0 106.7,59.1 109.5,59.3 112.3,59.5 115.1,59.8 117.9,60.2 120.7,60.7 123.6,61.4 126.4,62.3 129.2,63.4 132.0,64.8 134.8,66.5 137.6,68.8 140.4,71.5 143.2,74.8 146.0,78.8 148.8,83.4 151.6,88.7 154.4,94.4 157.2,100.6 160.0,106.9 162.8,113.1 165.7,119.0 168.5,124.5 171.3,129.4 174.1,133.6 176.9,137.2 179.7,140.2 182.5,142.6 185.3,144.6 188.1,146.1 190.9,147.3 193.7,148.3 196.5,149.0 199.3,149.6 202.1,150.1 205.0,150.4 207.8,150.7 210.6,150.9 213.4,151.0 216.2,151.1 219.0,151.2 221.8,151.3 224.6,151.3" fill="none" stroke="#858585" stroke-width="2.8" stroke-linejoin="round"/>
<polyline points="56.2,55.2 59.0,55.2 61.8,55.2 64.6,55.2 67.4,55.2 70.2,55.2 73.0,55.2 75.8,55.3 78.6,55.3 81.4,55.3 84.3,55.3 87.1,55.3 89.9,55.4 92.7,55.4 95.5,55.5 98.3,55.6 101.1,55.7 103.9,55.8 106.7,56.1 109.5,56.3 112.3,56.7 115.1,57.2 117.9,57.8 120.7,58.6 123.6,59.7 126.4,61.1 129.2,62.9 132.0,65.2 134.8,68.0 137.6,71.6 140.4,75.9 143.2,80.9 146.0,86.8 148.8,93.2 151.6,100.2 154.4,107.3 157.2,114.3 160.0,121.0 162.8,127.1 165.7,132.5 168.5,137.1 171.3,140.9 174.1,144.0 176.9,146.5 179.7,148.5 182.5,150.1 185.3,151.2 188.1,152.2 190.9,152.9 193.7,153.4 196.5,153.8 199.3,154.1 202.1,154.3 205.0,154.5 207.8,154.6 210.6,154.7 213.4,154.8 216.2,154.9 219.0,154.9 221.8,154.9 224.6,155.0" fill="none" stroke="#858585" stroke-width="2.8" stroke-linejoin="round"/>
<polyline points="56.2,56.3 59.0,56.3 61.8,56.3 64.6,56.3 67.4,56.3 70.2,56.3 73.0,56.3 75.8,56.3 78.6,56.3 81.4,56.3 84.3,56.3 87.1,56.3 89.9,56.3 92.7,56.3 95.5,56.4 98.3,56.4 101.1,56.4 103.9,56.4 106.7,56.5 109.5,56.6 112.3,56.6 115.1,56.7 117.9,56.8 120.7,56.9 123.6,57.1 126.4,57.3 129.2,57.5 132.0,57.8 134.8,58.2 137.6,58.6 140.4,59.2 143.2,59.8 146.0,60.6 148.8,61.5 151.6,62.6 154.4,64.0 157.2,65.6 160.0,67.5 162.8,69.7 165.7,72.3 168.5,75.2 171.3,78.6 174.1,82.3 176.9,86.4 179.7,90.7 182.5,95.4 185.3,100.2 188.1,105.0 190.9,109.8 193.7,114.5 196.5,118.9 199.3,123.1 202.1,126.9 205.0,130.3 207.8,133.3 210.6,136.0 213.4,138.3 216.2,140.3 219.0,141.9 221.8,143.3 224.6,144.5" fill="none" stroke="#858585" stroke-width="2.8" stroke-linejoin="round"/>
<polyline points="56.2,54.4 59.0,54.5 61.8,54.7 64.6,54.8 67.4,55.1 70.2,55.3 73.0,55.6 75.8,55.9 78.6,56.3 81.4,56.7 84.3,57.3 87.1,57.9 89.9,58.5 92.7,59.3 95.5,60.2 98.3,61.3 101.1,62.5 103.9,63.8 106.7,65.4 109.5,67.1 112.3,69.1 115.1,71.3 117.9,73.8 120.7,76.5 123.6,79.5 126.4,82.7 129.2,86.3 132.0,90.0 134.8,94.0 137.6,98.1 140.4,102.4 143.2,106.8 146.0,111.2 148.8,115.6 151.6,120.0 154.4,124.2 157.2,128.3 160.0,132.2 162.8,135.9 165.7,139.4 168.5,142.5 171.3,145.4 174.1,148.1 176.9,150.5 179.7,152.6 182.5,154.5 185.3,156.2 188.1,157.7 190.9,159.0 193.7,160.2 196.5,161.2 199.3,162.1 202.1,162.8 205.0,163.5 207.8,164.0 210.6,164.5 213.4,165.0 216.2,165.3 219.0,165.6 221.8,165.9 224.6,166.2" fill="none" stroke="#858585" stroke-width="2.8" stroke-linejoin="round"/>
<line x1="38.40" y1="166.20" x2="224.60" y2="166.20" stroke="#333" stroke-width="1.1" stroke-dasharray="1.2,1"/>
<line x1="37.40" y1="26.30" x2="37.40" y2="177.80" stroke="#000" stroke-width="2" />
<line x1="36.40" y1="176.80" x2="225.60" y2="176.80" stroke="#000" stroke-width="2" />
<line x1="31.90" y1="166.20" x2="37.40" y2="166.20" stroke="#000" stroke-width="2" />
<text x="30.80" y="170.10" font-size="11" text-anchor="end" font-weight="bold" fill="#000" >0.0</text>
<line x1="31.90" y1="144.64" x2="37.40" y2="144.64" stroke="#000" stroke-width="2" />
<text x="30.80" y="148.54" font-size="11" text-anchor="end" font-weight="bold" fill="#000" >0.2</text>
<line x1="31.90" y1="123.08" x2="37.40" y2="123.08" stroke="#000" stroke-width="2" />
<text x="30.80" y="126.98" font-size="11" text-anchor="end" font-weight="bold" fill="#000" >0.4</text>
<line x1="31.90" y1="101.52" x2="37.40" y2="101.52" stroke="#000" stroke-width="2" />
<text x="30.80" y="105.42" font-size="11" text-anchor="end" font-weight="bold" fill="#000" >0.6</text>
<line x1="31.90" y1="79.96" x2="37.40" y2="79.96" stroke="#000" stroke-width="2" />
<text x="30.80" y="83.86" font-size="11" text-anchor="end" font-weight="bold" fill="#000" >0.8</text>
<line x1="31.90" y1="58.40" x2="37.40" y2="58.40" stroke="#000" stroke-width="2" />
<text x="30.80" y="62.30" font-size="11" text-anchor="end" font-weight="bold" fill="#000" >1.0</text>
<line x1="31.90" y1="36.84" x2="37.40" y2="36.84" stroke="#000" stroke-width="2" />
<text x="30.80" y="40.74" font-size="11" text-anchor="end" font-weight="bold" fill="#000" >1.2</text>
<line x1="37.40" y1="176.80" x2="37.40" y2="182.30" stroke="#000" stroke-width="2" />
<line x1="56.18" y1="176.80" x2="56.18" y2="180.30" stroke="#000" stroke-width="1.6" />
<line x1="67.17" y1="176.80" x2="67.17" y2="180.30" stroke="#000" stroke-width="1.6" />
<line x1="74.97" y1="176.80" x2="74.97" y2="180.30" stroke="#000" stroke-width="1.6" />
<line x1="81.02" y1="176.80" x2="81.02" y2="180.30" stroke="#000" stroke-width="1.6" />
<line x1="85.96" y1="176.80" x2="85.96" y2="180.30" stroke="#000" stroke-width="1.6" />
<line x1="90.13" y1="176.80" x2="90.13" y2="180.30" stroke="#000" stroke-width="1.6" />
<line x1="93.75" y1="176.80" x2="93.75" y2="180.30" stroke="#000" stroke-width="1.6" />
<line x1="96.94" y1="176.80" x2="96.94" y2="180.30" stroke="#000" stroke-width="1.6" />
<line x1="99.80" y1="176.80" x2="99.80" y2="182.30" stroke="#000" stroke-width="2" />
<line x1="118.58" y1="176.80" x2="118.58" y2="180.30" stroke="#000" stroke-width="1.6" />
<line x1="129.57" y1="176.80" x2="129.57" y2="180.30" stroke="#000" stroke-width="1.6" />
<line x1="137.37" y1="176.80" x2="137.37" y2="180.30" stroke="#000" stroke-width="1.6" />
<line x1="143.42" y1="176.80" x2="143.42" y2="180.30" stroke="#000" stroke-width="1.6" />
<line x1="148.36" y1="176.80" x2="148.36" y2="180.30" stroke="#000" stroke-width="1.6" />
<line x1="152.53" y1="176.80" x2="152.53" y2="180.30" stroke="#000" stroke-width="1.6" />
<line x1="156.15" y1="176.80" x2="156.15" y2="180.30" stroke="#000" stroke-width="1.6" />
<line x1="159.34" y1="176.80" x2="159.34" y2="180.30" stroke="#000" stroke-width="1.6" />
<line x1="162.20" y1="176.80" x2="162.20" y2="182.30" stroke="#000" stroke-width="2" />
<line x1="180.98" y1="176.80" x2="180.98" y2="180.30" stroke="#000" stroke-width="1.6" />
<line x1="191.97" y1="176.80" x2="191.97" y2="180.30" stroke="#000" stroke-width="1.6" />
<line x1="199.77" y1="176.80" x2="199.77" y2="180.30" stroke="#000" stroke-width="1.6" />
<line x1="205.82" y1="176.80" x2="205.82" y2="180.30" stroke="#000" stroke-width="1.6" />
<line x1="210.76" y1="176.80" x2="210.76" y2="180.30" stroke="#000" stroke-width="1.6" />
<line x1="214.93" y1="176.80" x2="214.93" y2="180.30" stroke="#000" stroke-width="1.6" />
<line x1="218.55" y1="176.80" x2="218.55" y2="180.30" stroke="#000" stroke-width="1.6" />
<line x1="221.74" y1="176.80" x2="221.74" y2="180.30" stroke="#000" stroke-width="1.6" />
<line x1="224.60" y1="176.80" x2="224.60" y2="182.30" stroke="#000" stroke-width="2" />
<text x="37.40" y="194.80" font-size="11" text-anchor="middle" font-weight="bold" fill="#000" >0.01</text>
<text x="99.80" y="194.80" font-size="11" text-anchor="middle" font-weight="bold" fill="#000" >0.1</text>
<text x="162.20" y="194.80" font-size="11" text-anchor="middle" font-weight="bold" fill="#000" >1</text>
<text x="224.60" y="194.80" font-size="11" text-anchor="middle" font-weight="bold" fill="#000" >10</text>
<text x="131.90" y="207.90" font-size="11.8" text-anchor="middle" font-weight="bold">Kinetin riboside (<tspan font-weight="normal">μ</tspan>M)</text>
<text x="12.30" y="98.60" font-size="12.7" text-anchor="middle" font-weight="bold" fill="#000" transform="rotate(-90 12.30 98.60)" >Normalized activity</text>
<polyline points="326.2,58.4 329.0,58.6 331.8,58.8 334.6,59.1 337.4,59.3 340.2,59.7 343.0,60.1 345.8,60.5 348.6,61.0 351.4,61.6 354.3,62.2 357.1,63.0 359.9,63.9 362.7,64.9 365.5,66.0 368.3,67.3 371.1,68.8 373.9,70.4 376.7,72.3 379.5,74.3 382.3,76.6 385.1,79.1 387.9,81.8 390.7,84.7 393.6,87.8 396.4,91.2 399.2,94.6 402.0,98.2 404.8,101.9 407.6,105.6 410.4,109.4 413.2,113.0 416.0,116.7 418.8,120.2 421.6,123.5 424.4,126.7 427.2,129.6 430.0,132.4 432.8,134.9 435.7,137.2 438.5,139.3 441.3,141.2 444.1,142.9 446.9,144.4 449.7,145.7 452.5,146.9 455.3,147.9 458.1,148.8 460.9,149.6 463.7,150.3 466.5,150.9 469.3,151.4 472.1,151.8 475.0,152.2 477.8,152.5 480.6,152.8 483.4,153.1 486.2,153.3 489.0,153.5 491.8,153.6 494.6,153.8" fill="none" stroke="#000" stroke-width="2.3" stroke-linejoin="round"/>
<polyline points="326.2,44.9 329.0,45.0 331.8,45.1 334.6,45.2 337.4,45.3 340.2,45.4 343.0,45.6 345.8,45.8 348.6,46.0 351.4,46.3 354.3,46.5 357.1,46.9 359.9,47.2 362.7,47.7 365.5,48.2 368.3,48.7 371.1,49.4 373.9,50.1 376.7,50.9 379.5,51.8 382.3,52.9 385.1,54.0 387.9,55.3 390.7,56.8 393.6,58.4 396.4,60.1 399.2,62.0 402.0,64.1 404.8,66.4 407.6,68.8 410.4,71.3 413.2,74.0 416.0,76.8 418.8,79.6 421.6,82.5 424.4,85.5 427.2,88.4 430.0,91.3 432.8,94.2 435.7,96.9 438.5,99.6 441.3,102.1 444.1,104.5 446.9,106.7 449.7,108.8 452.5,110.6 455.3,112.4 458.1,113.9 460.9,115.4 463.7,116.6 466.5,117.8 469.3,118.8 472.1,119.7 475.0,120.5 477.8,121.2 480.6,121.8 483.4,122.4 486.2,122.8 489.0,123.2 491.8,123.6 494.6,123.9" fill="none" stroke="#000" stroke-width="2.3" stroke-linejoin="round"/>
<polyline points="326.2,70.1 329.0,70.5 331.8,71.0 334.6,71.5 337.4,72.1 340.2,72.7 343.0,73.3 345.8,74.0 348.6,74.7 351.4,75.5 354.3,76.4 357.1,77.3 359.9,78.3 362.7,79.3 365.5,80.4 368.3,81.6 371.1,82.8 373.9,84.1 376.7,85.5 379.5,86.9 382.3,88.4 385.1,90.0 387.9,91.6 390.7,93.3 393.6,95.1 396.4,97.0 399.2,98.9 402.0,100.8 404.8,102.8 407.6,104.8 410.4,106.9 413.2,109.0 416.0,111.1 418.8,113.2 421.6,115.3 424.4,117.4 427.2,119.5 430.0,121.6 432.8,123.6 435.7,125.6 438.5,127.6 441.3,129.5 444.1,131.4 446.9,133.2 449.7,134.9 452.5,136.6 455.3,138.2 458.1,139.8 460.9,141.3 463.7,142.7 466.5,144.0 469.3,145.3 472.1,146.5 475.0,147.6 477.8,148.7 480.6,149.7 483.4,150.6 486.2,151.5 489.0,152.3 491.8,153.1 494.6,153.8" fill="none" stroke="#000" stroke-width="2.3" stroke-linejoin="round"/>
<polyline points="326.2,72.1 329.0,72.1 331.8,72.2 334.6,72.2 337.4,72.3 340.2,72.4 343.0,72.5 345.8,72.7 348.6,72.8 351.4,73.0 354.3,73.2 357.1,73.4 359.9,73.7 362.7,74.0 365.5,74.3 368.3,74.7 371.1,75.2 373.9,75.7 376.7,76.3 379.5,76.9 382.3,77.7 385.1,78.6 387.9,79.5 390.7,80.6 393.6,81.9 396.4,83.3 399.2,84.8 402.0,86.5 404.8,88.4 407.6,90.4 410.4,92.7 413.2,95.1 416.0,97.7 418.8,100.4 421.6,103.3 424.4,106.3 427.2,109.4 430.0,112.6 432.8,115.9 435.7,119.1 438.5,122.3 441.3,125.4 444.1,128.5 446.9,131.4 449.7,134.2 452.5,136.8 455.3,139.3 458.1,141.6 460.9,143.7 463.7,145.6 466.5,147.4 469.3,148.9 472.1,150.4 475.0,151.6 477.8,152.8 480.6,153.8 483.4,154.7 486.2,155.5 489.0,156.2 491.8,156.8 494.6,157.3" fill="none" stroke="#000" stroke-width="2.3" stroke-linejoin="round"/>
<polyline points="326.2,43.0 329.0,43.0 331.8,43.1 334.6,43.1 337.4,43.1 340.2,43.1 343.0,43.2 345.8,43.2 348.6,43.2 351.4,43.3 354.3,43.3 357.1,43.4 359.9,43.4 362.7,43.5 365.5,43.6 368.3,43.7 371.1,43.8 373.9,43.9 376.7,44.0 379.5,44.2 382.3,44.4 385.1,44.6 387.9,44.8 390.7,45.0 393.6,45.3 396.4,45.7 399.2,46.0 402.0,46.5 404.8,46.9 407.6,47.5 410.4,48.1 413.2,48.8 416.0,49.6 418.8,50.5 421.6,51.5 424.4,52.6 427.2,53.8 430.0,55.2 432.8,56.7 435.7,58.4 438.5,60.3 441.3,62.3 444.1,64.5 446.9,67.0 449.7,69.6 452.5,72.4 455.3,75.4 458.1,78.6 460.9,82.0 463.7,85.5 466.5,89.1 469.3,92.8 472.1,96.6 475.0,100.5 477.8,104.3 480.6,108.2 483.4,111.9 486.2,115.6 489.0,119.2 491.8,122.6 494.6,125.8" fill="none" stroke="#000" stroke-width="2.3" stroke-linejoin="round"/>
<polyline points="326.2,84.2 329.0,85.0 331.8,85.9 334.6,86.8 337.4,87.8 340.2,88.9 343.0,90.0 345.8,91.2 348.6,92.4 351.4,93.7 354.3,95.1 357.1,96.5 359.9,98.0 362.7,99.5 365.5,101.1 368.3,102.8 371.1,104.5 373.9,106.2 376.7,108.0 379.5,109.8 382.3,111.6 385.1,113.4 387.9,115.3 390.7,117.1 393.6,118.9 396.4,120.7 399.2,122.5 402.0,124.3 404.8,126.0 407.6,127.6 410.4,129.3 413.2,130.8 416.0,132.4 418.8,133.8 421.6,135.2 424.4,136.6 427.2,137.8 430.0,139.0 432.8,140.2 435.7,141.3 438.5,142.3 441.3,143.3 444.1,144.2 446.9,145.0 449.7,145.8 452.5,146.5 455.3,147.2 458.1,147.9 460.9,148.4 463.7,149.0 466.5,149.5 469.3,150.0 472.1,150.4 475.0,150.8 477.8,151.2 480.6,151.5 483.4,151.8 486.2,152.1 489.0,152.4 491.8,152.7 494.6,152.9" fill="none" stroke="#000" stroke-width="2.3" stroke-linejoin="round"/>
<polyline points="326.2,57.4 329.0,58.2 331.8,59.1 334.6,60.1 337.4,61.2 340.2,62.3 343.0,63.5 345.8,64.9 348.6,66.3 351.4,67.8 354.3,69.4 357.1,71.1 359.9,72.9 362.7,74.9 365.5,76.9 368.3,79.0 371.1,81.3 373.9,83.6 376.7,86.1 379.5,88.6 382.3,91.3 385.1,94.0 387.9,96.7 390.7,99.5 393.6,102.4 396.4,105.3 399.2,108.2 402.0,111.2 404.8,114.1 407.6,117.0 410.4,119.8 413.2,122.7 416.0,125.4 418.8,128.1 421.6,130.7 424.4,133.3 427.2,135.7 430.0,138.1 432.8,140.3 435.7,142.4 438.5,144.5 441.3,146.4 444.1,148.2 446.9,149.9 449.7,151.5 452.5,153.0 455.3,154.4 458.1,155.7 460.9,156.9 463.7,158.1 466.5,159.1 469.3,160.1 472.1,161.0 475.0,161.8 477.8,162.6 480.6,163.3 483.4,163.9 486.2,164.5 489.0,165.1 491.8,165.6 494.6,166.0" fill="none" stroke="#000" stroke-width="2.3" stroke-linejoin="round"/>
<polyline points="326.2,56.4 329.0,56.4 331.8,56.5 334.6,56.5 337.4,56.5 340.2,56.6 343.0,56.6 345.8,56.7 348.6,56.7 351.4,56.8 354.3,56.9 357.1,57.0 359.9,57.1 362.7,57.2 365.5,57.3 368.3,57.5 371.1,57.6 373.9,57.8 376.7,58.1 379.5,58.3 382.3,58.6 385.1,58.9 387.9,59.3 390.7,59.7 393.6,60.2 396.4,60.7 399.2,61.3 402.0,62.0 404.8,62.8 407.6,63.6 410.4,64.6 413.2,65.7 416.0,66.9 418.8,68.2 421.6,69.7 424.4,71.4 427.2,73.2 430.0,75.2 432.8,77.3 435.7,79.7 438.5,82.2 441.3,84.9 444.1,87.8 446.9,90.9 449.7,94.1 452.5,97.5 455.3,101.0 458.1,104.5 460.9,108.2 463.7,111.8 466.5,115.5 469.3,119.1 472.1,122.6 475.0,126.1 477.8,129.4 480.6,132.6 483.4,135.6 486.2,138.5 489.0,141.2 491.8,143.7 494.6,146.0" fill="none" stroke="#000" stroke-width="2.3" stroke-linejoin="round"/>
<polyline points="326.2,48.5 329.0,48.5 331.8,48.6 334.6,48.6 337.4,48.7 340.2,48.8 343.0,48.8 345.8,48.9 348.6,49.0 351.4,49.2 354.3,49.3 357.1,49.5 359.9,49.7 362.7,49.9 365.5,50.2 368.3,50.5 371.1,50.8 373.9,51.2 376.7,51.7 379.5,52.2 382.3,52.8 385.1,53.5 387.9,54.3 390.7,55.3 393.6,56.3 396.4,57.5 399.2,58.8 402.0,60.3 404.8,62.0 407.6,63.9 410.4,66.0 413.2,68.2 416.0,70.7 418.8,73.4 421.6,76.2 424.4,79.2 427.2,82.4 430.0,85.7 432.8,89.0 435.7,92.4 438.5,95.8 441.3,99.2 444.1,102.5 446.9,105.7 449.7,108.8 452.5,111.7 455.3,114.4 458.1,117.0 460.9,119.3 463.7,121.4 466.5,123.4 469.3,125.1 472.1,126.7 475.0,128.1 477.8,129.3 480.6,130.4 483.4,131.4 486.2,132.2 489.0,133.0 491.8,133.6 494.6,134.2" fill="none" stroke="#000" stroke-width="2.3" stroke-linejoin="round"/>
<polyline points="326.2,52.9 329.0,53.9 331.8,55.0 334.6,56.1 337.4,57.4 340.2,58.9 343.0,60.4 345.8,62.1 348.6,63.9 351.4,65.9 354.3,68.1 357.1,70.4 359.9,72.8 362.7,75.4 365.5,78.2 368.3,81.1 371.1,84.1 373.9,87.3 376.7,90.6 379.5,93.9 382.3,97.3 385.1,100.8 387.9,104.3 390.7,107.8 393.6,111.3 396.4,114.7 399.2,118.1 402.0,121.3 404.8,124.5 407.6,127.6 410.4,130.5 413.2,133.3 416.0,135.9 418.8,138.3 421.6,140.7 424.4,142.8 427.2,144.8 430.0,146.7 432.8,148.4 435.7,149.9 438.5,151.4 441.3,152.7 444.1,153.9 446.9,154.9 449.7,155.9 452.5,156.8 455.3,157.6 458.1,158.3 460.9,159.0 463.7,159.6 466.5,160.1 469.3,160.6 472.1,161.0 475.0,161.4 477.8,161.7 480.6,162.0 483.4,162.3 486.2,162.5 489.0,162.8 491.8,162.9 494.6,163.1" fill="none" stroke="#000" stroke-width="2.3" stroke-linejoin="round"/>
<polyline points="326.2,71.0 329.0,71.2 331.8,71.3 334.6,71.5 337.4,71.7 340.2,71.9 343.0,72.2 345.8,72.4 348.6,72.7 351.4,73.1 354.3,73.4 357.1,73.8 359.9,74.2 362.7,74.7 365.5,75.2 368.3,75.8 371.1,76.4 373.9,77.1 376.7,77.8 379.5,78.6 382.3,79.5 385.1,80.4 387.9,81.4 390.7,82.5 393.6,83.7 396.4,85.0 399.2,86.3 402.0,87.7 404.8,89.3 407.6,90.9 410.4,92.5 413.2,94.3 416.0,96.1 418.8,98.0 421.6,100.0 424.4,102.0 427.2,104.1 430.0,106.1 432.8,108.3 435.7,110.4 438.5,112.5 441.3,114.6 444.1,116.7 446.9,118.7 449.7,120.8 452.5,122.7 455.3,124.6 458.1,126.4 460.9,128.2 463.7,129.8 466.5,131.4 469.3,132.9 472.1,134.4 475.0,135.7 477.8,136.9 480.6,138.1 483.4,139.2 486.2,140.2 489.0,141.1 491.8,142.0 494.6,142.8" fill="none" stroke="#000" stroke-width="2.3" stroke-linejoin="round"/>
<polyline points="326.2,42.4 329.0,42.6 331.8,42.9 334.6,43.3 337.4,43.6 340.2,44.0 343.0,44.4 345.8,44.9 348.6,45.4 351.4,45.9 354.3,46.5 357.1,47.2 359.9,47.9 362.7,48.7 365.5,49.5 368.3,50.4 371.1,51.4 373.9,52.5 376.7,53.7 379.5,54.9 382.3,56.2 385.1,57.7 387.9,59.2 390.7,60.9 393.6,62.6 396.4,64.5 399.2,66.5 402.0,68.6 404.8,70.8 407.6,73.1 410.4,75.5 413.2,78.1 416.0,80.7 418.8,83.4 421.6,86.2 424.4,89.1 427.2,92.0 430.0,95.0 432.8,98.0 435.7,101.0 438.5,104.0 441.3,107.0 444.1,110.0 446.9,113.0 449.7,115.9 452.5,118.8 455.3,121.6 458.1,124.3 460.9,126.9 463.7,129.4 466.5,131.8 469.3,134.1 472.1,136.3 475.0,138.4 477.8,140.3 480.6,142.2 483.4,143.9 486.2,145.6 489.0,147.1 491.8,148.5 494.6,149.9" fill="none" stroke="#000" stroke-width="2.3" stroke-linejoin="round"/>
<polyline points="326.2,68.3 329.0,68.4 331.8,68.4 334.6,68.5 337.4,68.6 340.2,68.7 343.0,68.9 345.8,69.0 348.6,69.2 351.4,69.3 354.3,69.5 357.1,69.8 359.9,70.0 362.7,70.3 365.5,70.7 368.3,71.1 371.1,71.5 373.9,72.0 376.7,72.5 379.5,73.1 382.3,73.8 385.1,74.5 387.9,75.4 390.7,76.3 393.6,77.3 396.4,78.4 399.2,79.6 402.0,80.9 404.8,82.4 407.6,83.9 410.4,85.5 413.2,87.3 416.0,89.1 418.8,91.0 421.6,93.0 424.4,95.0 427.2,97.1 430.0,99.2 432.8,101.3 435.7,103.4 438.5,105.4 441.3,107.4 444.1,109.4 446.9,111.2 449.7,113.0 452.5,114.7 455.3,116.3 458.1,117.8 460.9,119.1 463.7,120.4 466.5,121.6 469.3,122.6 472.1,123.6 475.0,124.5 477.8,125.2 480.6,126.0 483.4,126.6 486.2,127.2 489.0,127.7 491.8,128.1 494.6,128.5" fill="none" stroke="#858585" stroke-width="2.8" stroke-linejoin="round"/>
<polyline points="326.2,54.8 329.0,55.1 331.8,55.5 334.6,55.9 337.4,56.4 340.2,57.0 343.0,57.6 345.8,58.3 348.6,59.1 351.4,60.0 354.3,61.0 357.1,62.1 359.9,63.3 362.7,64.7 365.5,66.2 368.3,67.8 371.1,69.6 373.9,71.5 376.7,73.7 379.5,75.9 382.3,78.3 385.1,80.9 387.9,83.6 390.7,86.5 393.6,89.5 396.4,92.5 399.2,95.7 402.0,98.9 404.8,102.1 407.6,105.3 410.4,108.5 413.2,111.6 416.0,114.6 418.8,117.6 421.6,120.4 424.4,123.1 427.2,125.6 430.0,128.0 432.8,130.2 435.7,132.2 438.5,134.1 441.3,135.9 444.1,137.5 446.9,138.9 449.7,140.2 452.5,141.4 455.3,142.5 458.1,143.4 460.9,144.3 463.7,145.0 466.5,145.7 469.3,146.3 472.1,146.9 475.0,147.3 477.8,147.8 480.6,148.1 483.4,148.5 486.2,148.8 489.0,149.0 491.8,149.3 494.6,149.5" fill="none" stroke="#000" stroke-width="2.3" stroke-linejoin="round"/>
<polyline points="326.2,65.7 329.0,65.8 331.8,66.0 334.6,66.2 337.4,66.4 340.2,66.7 343.0,67.0 345.8,67.3 348.6,67.6 351.4,68.1 354.3,68.5 357.1,69.0 359.9,69.6 362.7,70.2 365.5,70.9 368.3,71.7 371.1,72.6 373.9,73.6 376.7,74.7 379.5,75.8 382.3,77.1 385.1,78.5 387.9,80.1 390.7,81.7 393.6,83.5 396.4,85.4 399.2,87.4 402.0,89.6 404.8,91.9 407.6,94.2 410.4,96.7 413.2,99.2 416.0,101.8 418.8,104.4 421.6,107.0 424.4,109.7 427.2,112.3 430.0,114.8 432.8,117.3 435.7,119.7 438.5,122.1 441.3,124.3 444.1,126.4 446.9,128.4 449.7,130.2 452.5,132.0 455.3,133.6 458.1,135.1 460.9,136.4 463.7,137.7 466.5,138.8 469.3,139.9 472.1,140.8 475.0,141.6 477.8,142.4 480.6,143.1 483.4,143.7 486.2,144.2 489.0,144.7 491.8,145.2 494.6,145.6" fill="none" stroke="#000" stroke-width="2.3" stroke-linejoin="round"/>
<polyline points="326.2,52.2 329.0,52.3 331.8,52.5 334.6,52.6 337.4,52.7 340.2,52.9 343.0,53.1 345.8,53.3 348.6,53.5 351.4,53.7 354.3,54.0 357.1,54.3 359.9,54.6 362.7,55.0 365.5,55.4 368.3,55.8 371.1,56.3 373.9,56.8 376.7,57.4 379.5,58.0 382.3,58.7 385.1,59.4 387.9,60.2 390.7,61.1 393.6,62.1 396.4,63.2 399.2,64.3 402.0,65.5 404.8,66.9 407.6,68.3 410.4,69.8 413.2,71.5 416.0,73.2 418.8,75.1 421.6,77.1 424.4,79.1 427.2,81.3 430.0,83.6 432.8,86.0 435.7,88.4 438.5,91.0 441.3,93.6 444.1,96.2 446.9,98.9 449.7,101.6 452.5,104.4 455.3,107.1 458.1,109.8 460.9,112.5 463.7,115.1 466.5,117.7 469.3,120.2 472.1,122.7 475.0,125.0 477.8,127.3 480.6,129.4 483.4,131.5 486.2,133.4 489.0,135.2 491.8,137.0 494.6,138.6" fill="none" stroke="#000" stroke-width="2.3" stroke-linejoin="round"/>
<polyline points="326.2,63.6 329.0,63.7 331.8,63.8 334.6,64.0 337.4,64.1 340.2,64.3 343.0,64.5 345.8,64.7 348.6,64.9 351.4,65.1 354.3,65.4 357.1,65.7 359.9,66.1 362.7,66.5 365.5,66.9 368.3,67.4 371.1,68.0 373.9,68.6 376.7,69.2 379.5,70.0 382.3,70.8 385.1,71.7 387.9,72.7 390.7,73.8 393.6,75.0 396.4,76.3 399.2,77.8 402.0,79.3 404.8,81.0 407.6,82.8 410.4,84.7 413.2,86.7 416.0,88.8 418.8,91.1 421.6,93.4 424.4,95.8 427.2,98.4 430.0,100.9 432.8,103.5 435.7,106.2 438.5,108.8 441.3,111.4 444.1,114.0 446.9,116.6 449.7,119.1 452.5,121.5 455.3,123.8 458.1,126.0 460.9,128.1 463.7,130.1 466.5,132.0 469.3,133.7 472.1,135.3 475.0,136.8 477.8,138.2 480.6,139.5 483.4,140.7 486.2,141.7 489.0,142.7 491.8,143.6 494.6,144.4" fill="none" stroke="#000" stroke-width="2.3" stroke-linejoin="round"/>
<polyline points="326.2,45.8 329.0,45.8 331.8,45.9 334.6,45.9 337.4,46.0 340.2,46.0 343.0,46.1 345.8,46.2 348.6,46.3 351.4,46.5 354.3,46.6 357.1,46.8 359.9,47.0 362.7,47.2 365.5,47.5 368.3,47.8 371.1,48.1 373.9,48.5 376.7,49.0 379.5,49.5 382.3,50.1 385.1,50.8 387.9,51.6 390.7,52.5 393.6,53.5 396.4,54.6 399.2,55.9 402.0,57.4 404.8,59.0 407.6,60.9 410.4,62.9 413.2,65.1 416.0,67.5 418.8,70.2 421.6,73.1 424.4,76.2 427.2,79.5 430.0,82.9 432.8,86.5 435.7,90.2 438.5,94.1 441.3,97.9 444.1,101.8 446.9,105.6 449.7,109.3 452.5,113.0 455.3,116.5 458.1,119.8 460.9,122.9 463.7,125.8 466.5,128.5 469.3,131.0 472.1,133.3 475.0,135.4 477.8,137.2 480.6,138.9 483.4,140.4 486.2,141.7 489.0,142.9 491.8,143.9 494.6,144.9" fill="none" stroke="#000" stroke-width="2.3" stroke-linejoin="round"/>
<polyline points="326.2,50.1 329.0,50.1 331.8,50.1 334.6,50.1 337.4,50.1 340.2,50.1 343.0,50.1 345.8,50.1 348.6,50.1 351.4,50.1 354.3,50.1 357.1,50.1 359.9,50.1 362.7,50.1 365.5,50.1 368.3,50.1 371.1,50.1 373.9,50.1 376.7,50.1 379.5,50.1 382.3,50.1 385.1,50.1 387.9,50.1 390.7,50.1 393.6,50.1 396.4,50.1 399.2,50.1 402.0,50.2 404.8,50.2 407.6,50.2 410.4,50.3 413.2,50.3 416.0,50.4 418.8,50.5 421.6,50.7 424.4,50.8 427.2,51.1 430.0,51.4 432.8,51.7 435.7,52.2 438.5,52.9 441.3,53.6 444.1,54.7 446.9,55.9 449.7,57.5 452.5,59.5 455.3,61.9 458.1,64.9 460.9,68.4 463.7,72.5 466.5,77.3 469.3,82.6 472.1,88.4 475.0,94.5 477.8,100.7 480.6,106.9 483.4,112.8 486.2,118.3 489.0,123.2 491.8,127.5 494.6,131.2" fill="none" stroke="#000" stroke-width="2.3" stroke-linejoin="round"/>
<polyline points="326.2,77.0 329.0,77.3 331.8,77.7 334.6,78.2 337.4,78.7 340.2,79.3 343.0,79.9 345.8,80.5 348.6,81.3 351.4,82.1 354.3,82.9 357.1,83.9 359.9,84.9 362.7,86.0 365.5,87.2 368.3,88.5 371.1,89.9 373.9,91.4 376.7,93.0 379.5,94.6 382.3,96.4 385.1,98.3 387.9,100.2 390.7,102.3 393.6,104.4 396.4,106.5 399.2,108.7 402.0,111.0 404.8,113.3 407.6,115.6 410.4,117.9 413.2,120.3 416.0,122.6 418.8,124.8 421.6,127.0 424.4,129.2 427.2,131.3 430.0,133.3 432.8,135.2 435.7,137.1 438.5,138.8 441.3,140.5 444.1,142.0 446.9,143.5 449.7,144.8 452.5,146.1 455.3,147.3 458.1,148.4 460.9,149.4 463.7,150.3 466.5,151.2 469.3,152.0 472.1,152.7 475.0,153.4 477.8,153.9 480.6,154.5 483.4,155.0 486.2,155.4 489.0,155.8 491.8,156.2 494.6,156.6" fill="none" stroke="#000" stroke-width="2.3" stroke-linejoin="round"/>
<polyline points="326.2,76.6 329.0,77.5 331.8,78.6 334.6,79.7 337.4,80.9 340.2,82.2 343.0,83.5 345.8,85.0 348.6,86.5 351.4,88.1 354.3,89.8 357.1,91.5 359.9,93.3 362.7,95.2 365.5,97.2 368.3,99.2 371.1,101.3 373.9,103.4 376.7,105.6 379.5,107.7 382.3,109.9 385.1,112.1 387.9,114.3 390.7,116.5 393.6,118.7 396.4,120.8 399.2,122.9 402.0,125.0 404.8,126.9 407.6,128.9 410.4,130.7 413.2,132.5 416.0,134.2 418.8,135.9 421.6,137.4 424.4,138.9 427.2,140.3 430.0,141.6 432.8,142.9 435.7,144.0 438.5,145.1 441.3,146.1 444.1,147.1 446.9,148.0 449.7,148.8 452.5,149.5 455.3,150.2 458.1,150.9 460.9,151.5 463.7,152.0 466.5,152.5 469.3,153.0 472.1,153.4 475.0,153.8 477.8,154.2 480.6,154.5 483.4,154.8 486.2,155.1 489.0,155.3 491.8,155.5 494.6,155.8" fill="none" stroke="#000" stroke-width="2.3" stroke-linejoin="round"/>
<polyline points="326.2,77.5 329.0,77.9 331.8,78.4 334.6,78.9 337.4,79.5 340.2,80.1 343.0,80.9 345.8,81.7 348.6,82.7 351.4,83.7 354.3,84.9 357.1,86.3 359.9,87.7 362.7,89.4 365.5,91.2 368.3,93.2 371.1,95.3 373.9,97.7 376.7,100.2 379.5,102.8 382.3,105.7 385.1,108.6 387.9,111.7 390.7,114.9 393.6,118.2 396.4,121.5 399.2,124.7 402.0,128.0 404.8,131.2 407.6,134.3 410.4,137.3 413.2,140.2 416.0,142.9 418.8,145.5 421.6,147.8 424.4,150.0 427.2,152.1 430.0,153.9 432.8,155.6 435.7,157.1 438.5,158.5 441.3,159.7 444.1,160.8 446.9,161.8 449.7,162.6 452.5,163.4 455.3,164.1 458.1,164.7 460.9,165.2 463.7,165.7 466.5,166.1 469.3,166.4 472.1,166.7 475.0,167.0 477.8,167.2 480.6,167.4 483.4,167.6 486.2,167.8 489.0,167.9 491.8,168.0 494.6,168.1" fill="none" stroke="#000" stroke-width="2.3" stroke-linejoin="round"/>
<polyline points="326.2,79.0 329.0,79.0 331.8,79.1 334.6,79.2 337.4,79.3 340.2,79.3 343.0,79.5 345.8,79.6 348.6,79.7 351.4,79.9 354.3,80.0 357.1,80.2 359.9,80.5 362.7,80.7 365.5,81.0 368.3,81.3 371.1,81.6 373.9,82.0 376.7,82.4 379.5,82.9 382.3,83.4 385.1,84.0 387.9,84.7 390.7,85.4 393.6,86.2 396.4,87.0 399.2,88.0 402.0,89.1 404.8,90.2 407.6,91.4 410.4,92.8 413.2,94.3 416.0,95.8 418.8,97.5 421.6,99.3 424.4,101.2 427.2,103.2 430.0,105.3 432.8,107.5 435.7,109.7 438.5,112.1 441.3,114.4 444.1,116.8 446.9,119.3 449.7,121.7 452.5,124.1 455.3,126.5 458.1,128.8 460.9,131.0 463.7,133.2 466.5,135.3 469.3,137.3 472.1,139.2 475.0,141.0 477.8,142.7 480.6,144.2 483.4,145.7 486.2,147.0 489.0,148.3 491.8,149.4 494.6,150.5" fill="none" stroke="#000" stroke-width="2.3" stroke-linejoin="round"/>
<polyline points="326.2,56.0 329.0,56.0 331.8,56.0 334.6,56.0 337.4,56.0 340.2,56.0 343.0,56.0 345.8,56.1 348.6,56.1 351.4,56.1 354.3,56.2 357.1,56.2 359.9,56.3 362.7,56.3 365.5,56.4 368.3,56.5 371.1,56.6 373.9,56.7 376.7,56.8 379.5,56.9 382.3,57.1 385.1,57.3 387.9,57.5 390.7,57.8 393.6,58.1 396.4,58.5 399.2,58.9 402.0,59.4 404.8,59.9 407.6,60.6 410.4,61.3 413.2,62.1 416.0,63.1 418.8,64.2 421.6,65.5 424.4,66.9 427.2,68.5 430.0,70.4 432.8,72.4 435.7,74.7 438.5,77.3 441.3,80.1 444.1,83.1 446.9,86.4 449.7,90.0 452.5,93.8 455.3,97.8 458.1,101.9 460.9,106.2 463.7,110.6 466.5,115.0 469.3,119.4 472.1,123.7 475.0,128.0 477.8,132.0 480.6,135.9 483.4,139.5 486.2,142.9 489.0,146.1 491.8,149.0 494.6,151.6" fill="none" stroke="#000" stroke-width="2.3" stroke-linejoin="round"/>
<polyline points="326.2,73.1 329.0,73.3 331.8,73.4 334.6,73.6 337.4,73.8 340.2,74.1 343.0,74.4 345.8,74.7 348.6,75.0 351.4,75.4 354.3,75.8 357.1,76.3 359.9,76.8 362.7,77.5 365.5,78.1 368.3,78.9 371.1,79.7 373.9,80.6 376.7,81.7 379.5,82.8 382.3,84.0 385.1,85.4 387.9,86.9 390.7,88.5 393.6,90.3 396.4,92.1 399.2,94.2 402.0,96.3 404.8,98.6 407.6,101.0 410.4,103.5 413.2,106.1 416.0,108.8 418.8,111.6 421.6,114.4 424.4,117.3 427.2,120.1 430.0,122.9 432.8,125.7 435.7,128.4 438.5,131.0 441.3,133.6 444.1,136.0 446.9,138.4 449.7,140.5 452.5,142.6 455.3,144.5 458.1,146.3 460.9,148.0 463.7,149.5 466.5,150.9 469.3,152.2 472.1,153.3 475.0,154.4 477.8,155.3 480.6,156.2 483.4,157.0 486.2,157.7 489.0,158.3 491.8,158.8 494.6,159.3" fill="none" stroke="#000" stroke-width="2.3" stroke-linejoin="round"/>
<polyline points="326.2,55.1 329.0,55.1 331.8,55.2 334.6,55.2 337.4,55.3 340.2,55.4 343.0,55.5 345.8,55.6 348.6,55.7 351.4,55.8 354.3,55.9 357.1,56.1 359.9,56.3 362.7,56.4 365.5,56.6 368.3,56.9 371.1,57.1 373.9,57.4 376.7,57.7 379.5,58.1 382.3,58.5 385.1,58.9 387.9,59.3 390.7,59.9 393.6,60.4 396.4,61.1 399.2,61.7 402.0,62.5 404.8,63.3 407.6,64.2 410.4,65.2 413.2,66.3 416.0,67.4 418.8,68.7 421.6,70.0 424.4,71.5 427.2,73.0 430.0,74.7 432.8,76.4 435.7,78.3 438.5,80.2 441.3,82.3 444.1,84.4 446.9,86.6 449.7,88.9 452.5,91.2 455.3,93.6 458.1,96.0 460.9,98.5 463.7,100.9 466.5,103.3 469.3,105.8 472.1,108.1 475.0,110.4 477.8,112.7 480.6,114.9 483.4,117.0 486.2,119.0 489.0,120.9 491.8,122.7 494.6,124.4" fill="none" stroke="#000" stroke-width="2.3" stroke-linejoin="round"/>
<polyline points="326.2,46.0 329.0,46.0 331.8,46.1 334.6,46.1 337.4,46.1 340.2,46.1 343.0,46.1 345.8,46.2 348.6,46.2 351.4,46.3 354.3,46.3 357.1,46.4 359.9,46.4 362.7,46.5 365.5,46.6 368.3,46.7 371.1,46.8 373.9,46.9 376.7,47.0 379.5,47.1 382.3,47.3 385.1,47.5 387.9,47.7 390.7,47.9 393.6,48.2 396.4,48.4 399.2,48.8 402.0,49.1 404.8,49.5 407.6,50.0 410.4,50.5 413.2,51.0 416.0,51.6 418.8,52.3 421.6,53.1 424.4,53.9 427.2,54.9 430.0,55.9 432.8,57.0 435.7,58.2 438.5,59.6 441.3,61.0 444.1,62.6 446.9,64.2 449.7,66.0 452.5,67.9 455.3,70.0 458.1,72.1 460.9,74.3 463.7,76.6 466.5,79.0 469.3,81.4 472.1,83.8 475.0,86.3 477.8,88.8 480.6,91.2 483.4,93.7 486.2,96.1 489.0,98.4 491.8,100.6 494.6,102.7" fill="none" stroke="#000" stroke-width="2.3" stroke-linejoin="round"/>
<polyline points="326.2,70.2 329.0,71.2 331.8,72.2 334.6,73.2 337.4,74.4 340.2,75.6 343.0,77.0 345.8,78.4 348.6,79.9 351.4,81.5 354.3,83.2 357.1,85.0 359.9,86.9 362.7,88.8 365.5,90.9 368.3,93.0 371.1,95.2 373.9,97.5 376.7,99.8 379.5,102.2 382.3,104.7 385.1,107.2 387.9,109.6 390.7,112.1 393.6,114.6 396.4,117.1 399.2,119.6 402.0,122.0 404.8,124.4 407.6,126.7 410.4,129.0 413.2,131.2 416.0,133.3 418.8,135.3 421.6,137.3 424.4,139.1 427.2,140.9 430.0,142.5 432.8,144.1 435.7,145.6 438.5,147.0 441.3,148.3 444.1,149.5 446.9,150.6 449.7,151.7 452.5,152.7 455.3,153.6 458.1,154.4 460.9,155.2 463.7,155.9 466.5,156.6 469.3,157.2 472.1,157.7 475.0,158.3 477.8,158.7 480.6,159.1 483.4,159.5 486.2,159.9 489.0,160.2 491.8,160.5 494.6,160.8" fill="none" stroke="#000" stroke-width="2.3" stroke-linejoin="round"/>
<polyline points="326.2,72.2 329.0,73.2 331.8,74.2 334.6,75.3 337.4,76.5 340.2,77.9 343.0,79.3 345.8,80.9 348.6,82.6 351.4,84.4 354.3,86.3 357.1,88.3 359.9,90.5 362.7,92.8 365.5,95.1 368.3,97.6 371.1,100.2 373.9,102.8 376.7,105.5 379.5,108.2 382.3,111.0 385.1,113.7 387.9,116.5 390.7,119.2 393.6,121.9 396.4,124.6 399.2,127.1 402.0,129.6 404.8,132.0 407.6,134.2 410.4,136.4 413.2,138.5 416.0,140.4 418.8,142.2 421.6,143.9 424.4,145.4 427.2,146.9 430.0,148.2 432.8,149.5 435.7,150.6 438.5,151.6 441.3,152.6 444.1,153.4 446.9,154.2 449.7,154.9 452.5,155.6 455.3,156.1 458.1,156.7 460.9,157.1 463.7,157.6 466.5,158.0 469.3,158.3 472.1,158.6 475.0,158.9 477.8,159.2 480.6,159.4 483.4,159.6 486.2,159.8 489.0,159.9 491.8,160.1 494.6,160.2" fill="none" stroke="#000" stroke-width="2.3" stroke-linejoin="round"/>
<polyline points="326.2,71.6 329.0,71.8 331.8,72.0 334.6,72.2 337.4,72.4 340.2,72.7 343.0,73.0 345.8,73.3 348.6,73.7 351.4,74.1 354.3,74.6 357.1,75.1 359.9,75.7 362.7,76.4 365.5,77.2 368.3,78.0 371.1,78.9 373.9,80.0 376.7,81.1 379.5,82.4 382.3,83.7 385.1,85.2 387.9,86.9 390.7,88.6 393.6,90.5 396.4,92.5 399.2,94.7 402.0,97.0 404.8,99.4 407.6,101.9 410.4,104.4 413.2,107.1 416.0,109.8 418.8,112.5 421.6,115.3 424.4,118.0 427.2,120.7 430.0,123.4 432.8,126.0 435.7,128.4 438.5,130.8 441.3,133.1 444.1,135.2 446.9,137.2 449.7,139.1 452.5,140.9 455.3,142.5 458.1,144.0 460.9,145.3 463.7,146.6 466.5,147.7 469.3,148.7 472.1,149.7 475.0,150.5 477.8,151.2 480.6,151.9 483.4,152.5 486.2,153.0 489.0,153.5 491.8,153.9 494.6,154.3" fill="none" stroke="#858585" stroke-width="2.8" stroke-linejoin="round"/>
<polyline points="326.2,81.2 329.0,82.7 331.8,84.2 334.6,85.8 337.4,87.5 340.2,89.2 343.0,91.1 345.8,93.0 348.6,94.9 351.4,96.9 354.3,99.0 357.1,101.1 359.9,103.3 362.7,105.5 365.5,107.7 368.3,109.9 371.1,112.1 373.9,114.3 376.7,116.6 379.5,118.7 382.3,120.9 385.1,123.0 387.9,125.1 390.7,127.2 393.6,129.1 396.4,131.0 399.2,132.9 402.0,134.7 404.8,136.4 407.6,138.0 410.4,139.6 413.2,141.1 416.0,142.5 418.8,143.8 421.6,145.1 424.4,146.2 427.2,147.4 430.0,148.4 432.8,149.4 435.7,150.3 438.5,151.1 441.3,151.9 444.1,152.7 446.9,153.4 449.7,154.0 452.5,154.6 455.3,155.1 458.1,155.7 460.9,156.1 463.7,156.6 466.5,157.0 469.3,157.3 472.1,157.7 475.0,158.0 477.8,158.3 480.6,158.5 483.4,158.8 486.2,159.0 489.0,159.2 491.8,159.4 494.6,159.6" fill="none" stroke="#000" stroke-width="2.3" stroke-linejoin="round"/>
<polyline points="326.2,61.4 329.0,61.5 331.8,61.6 334.6,61.8 337.4,61.9 340.2,62.1 343.0,62.3 345.8,62.5 348.6,62.7 351.4,62.9 354.3,63.2 357.1,63.5 359.9,63.8 362.7,64.1 365.5,64.5 368.3,64.9 371.1,65.4 373.9,65.8 376.7,66.4 379.5,66.9 382.3,67.5 385.1,68.2 387.9,68.9 390.7,69.7 393.6,70.5 396.4,71.4 399.2,72.3 402.0,73.3 404.8,74.4 407.6,75.6 410.4,76.8 413.2,78.1 416.0,79.5 418.8,80.9 421.6,82.4 424.4,84.0 427.2,85.7 430.0,87.4 432.8,89.1 435.7,91.0 438.5,92.8 441.3,94.7 444.1,96.7 446.9,98.6 449.7,100.6 452.5,102.6 455.3,104.5 458.1,106.5 460.9,108.4 463.7,110.4 466.5,112.2 469.3,114.1 472.1,115.8 475.0,117.6 477.8,119.2 480.6,120.8 483.4,122.4 486.2,123.8 489.0,125.2 491.8,126.6 494.6,127.8" fill="none" stroke="#000" stroke-width="2.3" stroke-linejoin="round"/>
<polyline points="326.2,51.3 329.0,52.2 331.8,53.4 334.6,54.6 337.4,56.1 340.2,57.7 343.0,59.5 345.8,61.6 348.6,63.8 351.4,66.3 354.3,69.1 357.1,72.1 359.9,75.4 362.7,78.9 365.5,82.6 368.3,86.6 371.1,90.7 373.9,95.0 376.7,99.4 379.5,103.9 382.3,108.4 385.1,112.8 387.9,117.2 390.7,121.4 393.6,125.5 396.4,129.4 399.2,133.0 402.0,136.4 404.8,139.6 407.6,142.5 410.4,145.1 413.2,147.6 416.0,149.7 418.8,151.7 421.6,153.4 424.4,155.0 427.2,156.3 430.0,157.5 432.8,158.6 435.7,159.5 438.5,160.3 441.3,161.1 444.1,161.7 446.9,162.2 449.7,162.7 452.5,163.1 455.3,163.5 458.1,163.8 460.9,164.0 463.7,164.3 466.5,164.5 469.3,164.6 472.1,164.8 475.0,164.9 477.8,165.0 480.6,165.1 483.4,165.2 486.2,165.3 489.0,165.4 491.8,165.4 494.6,165.5" fill="none" stroke="#000" stroke-width="2.3" stroke-linejoin="round"/>
<polyline points="326.2,49.4 329.0,49.5 331.8,49.5 334.6,49.6 337.4,49.7 340.2,49.8 343.0,49.9 345.8,50.1 348.6,50.3 351.4,50.4 354.3,50.6 357.1,50.9 359.9,51.2 362.7,51.5 365.5,51.8 368.3,52.2 371.1,52.6 373.9,53.1 376.7,53.7 379.5,54.3 382.3,55.1 385.1,55.9 387.9,56.7 390.7,57.7 393.6,58.8 396.4,60.1 399.2,61.4 402.0,62.9 404.8,64.5 407.6,66.2 410.4,68.1 413.2,70.1 416.0,72.3 418.8,74.5 421.6,76.9 424.4,79.4 427.2,82.0 430.0,84.6 432.8,87.2 435.7,89.9 438.5,92.5 441.3,95.2 444.1,97.7 446.9,100.2 449.7,102.6 452.5,104.9 455.3,107.1 458.1,109.1 460.9,111.0 463.7,112.8 466.5,114.4 469.3,115.9 472.1,117.3 475.0,118.5 477.8,119.6 480.6,120.6 483.4,121.5 486.2,122.3 489.0,123.1 491.8,123.7 494.6,124.3" fill="none" stroke="#000" stroke-width="2.3" stroke-linejoin="round"/>
<polyline points="326.2,57.0 329.0,57.0 331.8,57.0 334.6,57.0 337.4,57.0 340.2,57.0 343.0,57.0 345.8,57.0 348.6,57.0 351.4,57.0 354.3,57.1 357.1,57.1 359.9,57.1 362.7,57.1 365.5,57.1 368.3,57.1 371.1,57.1 373.9,57.1 376.7,57.1 379.5,57.1 382.3,57.1 385.1,57.2 387.9,57.2 390.7,57.3 393.6,57.3 396.4,57.4 399.2,57.5 402.0,57.6 404.8,57.8 407.6,58.0 410.4,58.3 413.2,58.6 416.0,59.1 418.8,59.6 421.6,60.3 424.4,61.2 427.2,62.3 430.0,63.6 432.8,65.3 435.7,67.4 438.5,69.9 441.3,72.9 444.1,76.5 446.9,80.6 449.7,85.2 452.5,90.4 455.3,95.9 458.1,101.7 460.9,107.6 463.7,113.4 466.5,119.0 469.3,124.2 472.1,128.9 475.0,133.0 477.8,136.6 480.6,139.6 483.4,142.2 486.2,144.3 489.0,146.0 491.8,147.4 494.6,148.5" fill="none" stroke="#000" stroke-width="2.3" stroke-linejoin="round"/>
<polyline points="326.2,84.0 329.0,85.5 331.8,87.0 334.6,88.6 337.4,90.3 340.2,92.0 343.0,93.8 345.8,95.7 348.6,97.6 351.4,99.6 354.3,101.6 357.1,103.7 359.9,105.8 362.7,108.0 365.5,110.1 368.3,112.3 371.1,114.4 373.9,116.6 376.7,118.7 379.5,120.8 382.3,122.8 385.1,124.8 387.9,126.8 390.7,128.7 393.6,130.5 396.4,132.3 399.2,134.0 402.0,135.6 404.8,137.1 407.6,138.6 410.4,140.0 413.2,141.3 416.0,142.5 418.8,143.7 421.6,144.8 424.4,145.8 427.2,146.8 430.0,147.7 432.8,148.5 435.7,149.3 438.5,150.0 441.3,150.7 444.1,151.3 446.9,151.9 449.7,152.4 452.5,152.9 455.3,153.3 458.1,153.7 460.9,154.1 463.7,154.5 466.5,154.8 469.3,155.1 472.1,155.3 475.0,155.6 477.8,155.8 480.6,156.0 483.4,156.2 486.2,156.4 489.0,156.5 491.8,156.7 494.6,156.8" fill="none" stroke="#000" stroke-width="2.3" stroke-linejoin="round"/>
<polyline points="326.2,54.6 329.0,54.6 331.8,54.6 334.6,54.6 337.4,54.6 340.2,54.6 343.0,54.6 345.8,54.7 348.6,54.7 351.4,54.7 354.3,54.7 357.1,54.7 359.9,54.7 362.7,54.7 365.5,54.7 368.3,54.7 371.1,54.7 373.9,54.7 376.7,54.7 379.5,54.7 382.3,54.7 385.1,54.8 387.9,54.8 390.7,54.9 393.6,54.9 396.4,55.0 399.2,55.1 402.0,55.2 404.8,55.3 407.6,55.5 410.4,55.8 413.2,56.1 416.0,56.4 418.8,56.9 421.6,57.5 424.4,58.3 427.2,59.2 430.0,60.4 432.8,61.8 435.7,63.5 438.5,65.6 441.3,68.2 444.1,71.2 446.9,74.6 449.7,78.6 452.5,83.0 455.3,87.8 458.1,92.9 460.9,98.1 463.7,103.4 466.5,108.5 469.3,113.4 472.1,117.9 475.0,122.0 477.8,125.5 480.6,128.6 483.4,131.2 486.2,133.4 489.0,135.3 491.8,136.8 494.6,138.0" fill="none" stroke="#000" stroke-width="2.3" stroke-linejoin="round"/>
<polyline points="326.2,53.6 329.0,54.1 331.8,54.6 334.6,55.1 337.4,55.8 340.2,56.4 343.0,57.2 345.8,58.0 348.6,58.8 351.4,59.7 354.3,60.8 357.1,61.8 359.9,63.0 362.7,64.3 365.5,65.6 368.3,67.0 371.1,68.6 373.9,70.2 376.7,71.9 379.5,73.8 382.3,75.7 385.1,77.7 387.9,79.8 390.7,82.0 393.6,84.3 396.4,86.7 399.2,89.2 402.0,91.7 404.8,94.2 407.6,96.8 410.4,99.4 413.2,102.1 416.0,104.7 418.8,107.4 421.6,110.0 424.4,112.6 427.2,115.1 430.0,117.6 432.8,120.1 435.7,122.4 438.5,124.7 441.3,126.9 444.1,129.0 446.9,131.0 449.7,132.9 452.5,134.7 455.3,136.4 458.1,138.0 460.9,139.6 463.7,141.0 466.5,142.3 469.3,143.6 472.1,144.7 475.0,145.8 477.8,146.8 480.6,147.7 483.4,148.5 486.2,149.3 489.0,150.0 491.8,150.7 494.6,151.3" fill="none" stroke="#000" stroke-width="2.3" stroke-linejoin="round"/>
<polyline points="326.2,73.1 329.0,73.2 331.8,73.3 334.6,73.5 337.4,73.6 340.2,73.8 343.0,74.0 345.8,74.2 348.6,74.4 351.4,74.6 354.3,74.9 357.1,75.2 359.9,75.5 362.7,75.8 365.5,76.2 368.3,76.6 371.1,77.0 373.9,77.5 376.7,78.1 379.5,78.6 382.3,79.3 385.1,79.9 387.9,80.7 390.7,81.5 393.6,82.3 396.4,83.3 399.2,84.2 402.0,85.3 404.8,86.4 407.6,87.7 410.4,88.9 413.2,90.3 416.0,91.8 418.8,93.3 421.6,94.9 424.4,96.5 427.2,98.3 430.0,100.1 432.8,102.0 435.7,103.9 438.5,105.9 441.3,107.9 444.1,109.9 446.9,112.0 449.7,114.0 452.5,116.1 455.3,118.2 458.1,120.2 460.9,122.3 463.7,124.2 466.5,126.2 469.3,128.1 472.1,129.9 475.0,131.7 477.8,133.4 480.6,135.0 483.4,136.6 486.2,138.0 489.0,139.4 491.8,140.7 494.6,142.0" fill="none" stroke="#000" stroke-width="2.3" stroke-linejoin="round"/>
<polyline points="326.2,79.8 329.0,81.0 331.8,82.4 334.6,83.9 337.4,85.4 340.2,87.0 343.0,88.7 345.8,90.4 348.6,92.3 351.4,94.2 354.3,96.2 357.1,98.2 359.9,100.3 362.7,102.5 365.5,104.7 368.3,106.9 371.1,109.2 373.9,111.4 376.7,113.7 379.5,116.0 382.3,118.2 385.1,120.5 387.9,122.7 390.7,124.9 393.6,127.0 396.4,129.0 399.2,131.0 402.0,133.0 404.8,134.8 407.6,136.6 410.4,138.3 413.2,139.9 416.0,141.5 418.8,142.9 421.6,144.3 424.4,145.6 427.2,146.9 430.0,148.0 432.8,149.1 435.7,150.1 438.5,151.0 441.3,151.9 444.1,152.7 446.9,153.4 449.7,154.1 452.5,154.8 455.3,155.4 458.1,155.9 460.9,156.4 463.7,156.9 466.5,157.3 469.3,157.7 472.1,158.0 475.0,158.4 477.8,158.7 480.6,159.0 483.4,159.2 486.2,159.4 489.0,159.7 491.8,159.9 494.6,160.0" fill="none" stroke="#000" stroke-width="2.3" stroke-linejoin="round"/>
<polyline points="326.2,73.4 329.0,75.2 331.8,77.1 334.6,79.1 337.4,81.2 340.2,83.4 343.0,85.7 345.8,88.1 348.6,90.6 351.4,93.1 354.3,95.7 357.1,98.4 359.9,101.1 362.7,103.8 365.5,106.5 368.3,109.2 371.1,112.0 373.9,114.6 376.7,117.3 379.5,119.9 382.3,122.4 385.1,124.9 387.9,127.2 390.7,129.5 393.6,131.7 396.4,133.8 399.2,135.7 402.0,137.6 404.8,139.4 407.6,141.0 410.4,142.6 413.2,144.0 416.0,145.4 418.8,146.7 421.6,147.8 424.4,148.9 427.2,149.9 430.0,150.8 432.8,151.7 435.7,152.5 438.5,153.2 441.3,153.9 444.1,154.5 446.9,155.0 449.7,155.5 452.5,156.0 455.3,156.4 458.1,156.8 460.9,157.1 463.7,157.5 466.5,157.7 469.3,158.0 472.1,158.2 475.0,158.5 477.8,158.7 480.6,158.8 483.4,159.0 486.2,159.1 489.0,159.3 491.8,159.4 494.6,159.5" fill="none" stroke="#000" stroke-width="2.3" stroke-linejoin="round"/>
<polyline points="326.2,48.3 329.0,48.3 331.8,48.3 334.6,48.3 337.4,48.3 340.2,48.3 343.0,48.3 345.8,48.3 348.6,48.3 351.4,48.3 354.3,48.3 357.1,48.3 359.9,48.3 362.7,48.3 365.5,48.3 368.3,48.3 371.1,48.3 373.9,48.3 376.7,48.4 379.5,48.4 382.3,48.4 385.1,48.5 387.9,48.5 390.7,48.6 393.6,48.6 396.4,48.7 399.2,48.8 402.0,49.0 404.8,49.1 407.6,49.3 410.4,49.6 413.2,50.0 416.0,50.4 418.8,50.9 421.6,51.5 424.4,52.3 427.2,53.3 430.0,54.5 432.8,56.0 435.7,57.7 438.5,59.8 441.3,62.3 444.1,65.3 446.9,68.6 449.7,72.4 452.5,76.7 455.3,81.2 458.1,86.1 460.9,91.2 463.7,96.3 466.5,101.3 469.3,106.1 472.1,110.6 475.0,114.7 477.8,118.4 480.6,121.7 483.4,124.5 486.2,126.9 489.0,128.9 491.8,130.6 494.6,132.0" fill="none" stroke="#000" stroke-width="2.3" stroke-linejoin="round"/>
<polyline points="326.2,62.1 329.0,62.2 331.8,62.3 334.6,62.4 337.4,62.5 340.2,62.6 343.0,62.8 345.8,63.0 348.6,63.2 351.4,63.4 354.3,63.7 357.1,63.9 359.9,64.3 362.7,64.7 365.5,65.1 368.3,65.6 371.1,66.1 373.9,66.7 376.7,67.4 379.5,68.1 382.3,69.0 385.1,69.9 387.9,70.9 390.7,72.1 393.6,73.3 396.4,74.7 399.2,76.2 402.0,77.8 404.8,79.5 407.6,81.3 410.4,83.3 413.2,85.4 416.0,87.5 418.8,89.7 421.6,92.0 424.4,94.3 427.2,96.7 430.0,99.0 432.8,101.4 435.7,103.6 438.5,105.9 441.3,108.0 444.1,110.1 446.9,112.1 449.7,113.9 452.5,115.7 455.3,117.3 458.1,118.8 460.9,120.2 463.7,121.4 466.5,122.6 469.3,123.6 472.1,124.6 475.0,125.4 477.8,126.2 480.6,126.9 483.4,127.5 486.2,128.0 489.0,128.5 491.8,129.0 494.6,129.3" fill="none" stroke="#000" stroke-width="2.3" stroke-linejoin="round"/>
<polyline points="326.2,41.1 329.0,41.2 331.8,41.4 334.6,41.5 337.4,41.7 340.2,41.9 343.0,42.1 345.8,42.3 348.6,42.6 351.4,42.8 354.3,43.1 357.1,43.4 359.9,43.8 362.7,44.2 365.5,44.6 368.3,45.0 371.1,45.5 373.9,46.1 376.7,46.6 379.5,47.3 382.3,48.0 385.1,48.7 387.9,49.6 390.7,50.5 393.6,51.4 396.4,52.5 399.2,53.6 402.0,54.8 404.8,56.1 407.6,57.5 410.4,59.0 413.2,60.6 416.0,62.3 418.8,64.2 421.6,66.1 424.4,68.1 427.2,70.3 430.0,72.6 432.8,74.9 435.7,77.4 438.5,80.0 441.3,82.7 444.1,85.5 446.9,88.3 449.7,91.2 452.5,94.2 455.3,97.2 458.1,100.3 460.9,103.4 463.7,106.4 466.5,109.5 469.3,112.6 472.1,115.6 475.0,118.5 477.8,121.4 480.6,124.3 483.4,127.0 486.2,129.7 489.0,132.3 491.8,134.7 494.6,137.1" fill="none" stroke="#000" stroke-width="2.3" stroke-linejoin="round"/>
<polyline points="326.2,74.5 329.0,74.9 331.8,75.3 334.6,75.8 337.4,76.4 340.2,77.1 343.0,77.8 345.8,78.7 348.6,79.7 351.4,80.8 354.3,82.1 357.1,83.5 359.9,85.1 362.7,86.9 365.5,88.8 368.3,91.0 371.1,93.4 373.9,96.0 376.7,98.7 379.5,101.7 382.3,104.8 385.1,108.1 387.9,111.5 390.7,115.0 393.6,118.6 396.4,122.1 399.2,125.7 402.0,129.1 404.8,132.5 407.6,135.7 410.4,138.8 413.2,141.7 416.0,144.4 418.8,146.9 421.6,149.2 424.4,151.3 427.2,153.2 430.0,154.9 432.8,156.4 435.7,157.8 438.5,159.0 441.3,160.1 444.1,161.0 446.9,161.8 449.7,162.5 452.5,163.2 455.3,163.7 458.1,164.2 460.9,164.6 463.7,165.0 466.5,165.3 469.3,165.6 472.1,165.8 475.0,166.0 477.8,166.2 480.6,166.4 483.4,166.5 486.2,166.6 489.0,166.7 491.8,166.8 494.6,166.9" fill="none" stroke="#000" stroke-width="2.3" stroke-linejoin="round"/>
<polyline points="326.2,60.5 329.0,60.8 331.8,61.1 334.6,61.4 337.4,61.8 340.2,62.2 343.0,62.7 345.8,63.2 348.6,63.8 351.4,64.5 354.3,65.2 357.1,66.0 359.9,66.8 362.7,67.7 365.5,68.8 368.3,69.9 371.1,71.1 373.9,72.4 376.7,73.8 379.5,75.3 382.3,77.0 385.1,78.7 387.9,80.6 390.7,82.6 393.6,84.6 396.4,86.8 399.2,89.1 402.0,91.5 404.8,94.0 407.6,96.5 410.4,99.1 413.2,101.8 416.0,104.4 418.8,107.1 421.6,109.8 424.4,112.5 427.2,115.1 430.0,117.7 432.8,120.2 435.7,122.6 438.5,124.9 441.3,127.2 444.1,129.3 446.9,131.3 449.7,133.3 452.5,135.1 455.3,136.7 458.1,138.3 460.9,139.8 463.7,141.1 466.5,142.4 469.3,143.6 472.1,144.6 475.0,145.6 477.8,146.5 480.6,147.3 483.4,148.0 486.2,148.7 489.0,149.3 491.8,149.9 494.6,150.4" fill="none" stroke="#000" stroke-width="2.3" stroke-linejoin="round"/>
<polyline points="326.2,44.0 329.0,44.1 331.8,44.2 334.6,44.3 337.4,44.5 340.2,44.6 343.0,44.8 345.8,45.0 348.6,45.3 351.4,45.6 354.3,45.9 357.1,46.3 359.9,46.7 362.7,47.2 365.5,47.8 368.3,48.5 371.1,49.2 373.9,50.1 376.7,51.0 379.5,52.1 382.3,53.3 385.1,54.7 387.9,56.2 390.7,57.9 393.6,59.8 396.4,61.8 399.2,64.0 402.0,66.4 404.8,68.9 407.6,71.6 410.4,74.4 413.2,77.3 416.0,80.2 418.8,83.2 421.6,86.2 424.4,89.1 427.2,92.0 430.0,94.8 432.8,97.5 435.7,100.0 438.5,102.4 441.3,104.6 444.1,106.7 446.9,108.6 449.7,110.3 452.5,111.8 455.3,113.2 458.1,114.4 460.9,115.5 463.7,116.5 466.5,117.4 469.3,118.1 472.1,118.8 475.0,119.4 477.8,119.9 480.6,120.3 483.4,120.7 486.2,121.0 489.0,121.3 491.8,121.6 494.6,121.8" fill="none" stroke="#000" stroke-width="2.3" stroke-linejoin="round"/>
<polyline points="326.2,52.8 329.0,53.0 331.8,53.3 334.6,53.5 337.4,53.8 340.2,54.2 343.0,54.6 345.8,55.1 348.6,55.6 351.4,56.2 354.3,56.9 357.1,57.7 359.9,58.6 362.7,59.6 365.5,60.8 368.3,62.1 371.1,63.6 373.9,65.2 376.7,67.1 379.5,69.1 382.3,71.4 385.1,73.9 387.9,76.6 390.7,79.5 393.6,82.7 396.4,86.0 399.2,89.6 402.0,93.3 404.8,97.1 407.6,101.0 410.4,105.0 413.2,109.0 416.0,112.9 418.8,116.8 421.6,120.6 424.4,124.2 427.2,127.7 430.0,130.9 432.8,134.0 435.7,136.8 438.5,139.4 441.3,141.8 444.1,144.0 446.9,145.9 449.7,147.7 452.5,149.3 455.3,150.7 458.1,151.9 460.9,153.0 463.7,154.0 466.5,154.8 469.3,155.6 472.1,156.2 475.0,156.8 477.8,157.3 480.6,157.8 483.4,158.1 486.2,158.5 489.0,158.8 491.8,159.0 494.6,159.2" fill="none" stroke="#000" stroke-width="2.3" stroke-linejoin="round"/>
<polyline points="326.2,49.6 329.0,49.7 331.8,49.7 334.6,49.7 337.4,49.8 340.2,49.9 343.0,49.9 345.8,50.0 348.6,50.1 351.4,50.2 354.3,50.3 357.1,50.5 359.9,50.6 362.7,50.8 365.5,51.0 368.3,51.2 371.1,51.5 373.9,51.8 376.7,52.1 379.5,52.5 382.3,52.9 385.1,53.4 387.9,53.9 390.7,54.5 393.6,55.2 396.4,56.0 399.2,56.9 402.0,57.8 404.8,58.9 407.6,60.0 410.4,61.3 413.2,62.7 416.0,64.2 418.8,65.9 421.6,67.6 424.4,69.5 427.2,71.5 430.0,73.6 432.8,75.8 435.7,78.1 438.5,80.4 441.3,82.8 444.1,85.1 446.9,87.5 449.7,89.9 452.5,92.2 455.3,94.4 458.1,96.6 460.9,98.6 463.7,100.6 466.5,102.4 469.3,104.2 472.1,105.8 475.0,107.2 477.8,108.6 480.6,109.8 483.4,111.0 486.2,112.0 489.0,112.9 491.8,113.7 494.6,114.5" fill="none" stroke="#000" stroke-width="2.3" stroke-linejoin="round"/>
<polyline points="326.2,80.2 329.0,80.3 331.8,80.4 334.6,80.5 337.4,80.7 340.2,80.8 343.0,81.0 345.8,81.2 348.6,81.4 351.4,81.7 354.3,82.0 357.1,82.3 359.9,82.6 362.7,83.0 365.5,83.5 368.3,84.0 371.1,84.5 373.9,85.1 376.7,85.8 379.5,86.5 382.3,87.3 385.1,88.2 387.9,89.1 390.7,90.2 393.6,91.3 396.4,92.6 399.2,94.0 402.0,95.4 404.8,97.0 407.6,98.7 410.4,100.5 413.2,102.4 416.0,104.4 418.8,106.5 421.6,108.7 424.4,111.0 427.2,113.3 430.0,115.7 432.8,118.2 435.7,120.6 438.5,123.1 441.3,125.6 444.1,128.0 446.9,130.4 449.7,132.7 452.5,135.0 455.3,137.2 458.1,139.3 460.9,141.3 463.7,143.2 466.5,145.0 469.3,146.6 472.1,148.2 475.0,149.7 477.8,151.0 480.6,152.2 483.4,153.4 486.2,154.4 489.0,155.4 491.8,156.3 494.6,157.0" fill="none" stroke="#000" stroke-width="2.3" stroke-linejoin="round"/>
<polyline points="326.2,53.0 329.0,53.0 331.8,53.0 334.6,53.0 337.4,53.0 340.2,53.0 343.0,53.0 345.8,53.0 348.6,53.0 351.4,53.0 354.3,53.0 357.1,53.0 359.9,53.0 362.7,53.0 365.5,53.0 368.3,53.0 371.1,53.0 373.9,53.0 376.7,53.0 379.5,53.0 382.3,53.0 385.1,53.0 387.9,53.0 390.7,53.0 393.6,53.0 396.4,53.0 399.2,53.0 402.0,53.0 404.8,53.0 407.6,53.0 410.4,53.0 413.2,53.0 416.0,53.0 418.8,53.0 421.6,53.0 424.4,53.0 427.2,53.0 430.0,53.0 432.8,53.0 435.7,53.1 438.5,53.1 441.3,53.1 444.1,53.2 446.9,53.2 449.7,53.4 452.5,53.5 455.3,53.7 458.1,54.0 460.9,54.5 463.7,55.1 466.5,55.9 469.3,57.2 472.1,58.9 475.0,61.3 477.8,64.6 480.6,68.9 483.4,74.5 486.2,81.5 489.0,89.9 491.8,99.5 494.6,109.6" fill="none" stroke="#858585" stroke-width="2.8" stroke-linejoin="round"/>
<polyline points="326.2,44.2 329.0,44.2 331.8,44.2 334.6,44.2 337.4,44.2 340.2,44.2 343.0,44.2 345.8,44.2 348.6,44.2 351.4,44.2 354.3,44.2 357.1,44.2 359.9,44.2 362.7,44.2 365.5,44.2 368.3,44.2 371.1,44.2 373.9,44.2 376.7,44.2 379.5,44.2 382.3,44.2 385.1,44.2 387.9,44.2 390.7,44.2 393.6,44.2 396.4,44.2 399.2,44.2 402.0,44.2 404.8,44.2 407.6,44.3 410.4,44.3 413.2,44.3 416.0,44.4 418.8,44.5 421.6,44.5 424.4,44.6 427.2,44.8 430.0,44.9 432.8,45.1 435.7,45.4 438.5,45.7 441.3,46.2 444.1,46.7 446.9,47.4 449.7,48.2 452.5,49.2 455.3,50.5 458.1,52.1 460.9,54.1 463.7,56.4 466.5,59.2 469.3,62.5 472.1,66.4 475.0,70.8 477.8,75.7 480.6,81.0 483.4,86.6 486.2,92.4 489.0,98.3 491.8,103.9 494.6,109.3" fill="none" stroke="#000" stroke-width="2.3" stroke-linejoin="round"/>
<polyline points="326.2,58.9 329.0,59.7 331.8,60.6 334.6,61.5 337.4,62.6 340.2,63.7 343.0,64.9 345.8,66.2 348.6,67.5 351.4,69.0 354.3,70.7 357.1,72.4 359.9,74.2 362.7,76.2 365.5,78.3 368.3,80.5 371.1,82.8 373.9,85.2 376.7,87.7 379.5,90.3 382.3,93.1 385.1,95.9 387.9,98.8 390.7,101.7 393.6,104.7 396.4,107.7 399.2,110.7 402.0,113.8 404.8,116.8 407.6,119.8 410.4,122.7 413.2,125.6 416.0,128.4 418.8,131.1 421.6,133.8 424.4,136.3 427.2,138.8 430.0,141.1 432.8,143.3 435.7,145.4 438.5,147.3 441.3,149.2 444.1,150.9 446.9,152.6 449.7,154.1 452.5,155.5 455.3,156.8 458.1,158.0 460.9,159.1 463.7,160.1 466.5,161.1 469.3,161.9 472.1,162.7 475.0,163.5 477.8,164.1 480.6,164.7 483.4,165.3 486.2,165.8 489.0,166.3 491.8,166.7 494.6,167.1" fill="none" stroke="#000" stroke-width="2.3" stroke-linejoin="round"/>
<polyline points="326.2,71.0 329.0,71.9 331.8,72.9 334.6,74.1 337.4,75.3 340.2,76.6 343.0,78.0 345.8,79.5 348.6,81.1 351.4,82.8 354.3,84.7 357.1,86.6 359.9,88.7 362.7,90.8 365.5,93.1 368.3,95.4 371.1,97.8 373.9,100.3 376.7,102.8 379.5,105.3 382.3,107.9 385.1,110.5 387.9,113.1 390.7,115.7 393.6,118.3 396.4,120.8 399.2,123.2 402.0,125.6 404.8,127.9 407.6,130.1 410.4,132.2 413.2,134.2 416.0,136.1 418.8,137.8 421.6,139.5 424.4,141.1 427.2,142.6 430.0,143.9 432.8,145.2 435.7,146.3 438.5,147.4 441.3,148.4 444.1,149.3 446.9,150.2 449.7,150.9 452.5,151.6 455.3,152.2 458.1,152.8 460.9,153.3 463.7,153.8 466.5,154.2 469.3,154.6 472.1,155.0 475.0,155.3 477.8,155.6 480.6,155.8 483.4,156.1 486.2,156.3 489.0,156.5 491.8,156.7 494.6,156.8" fill="none" stroke="#000" stroke-width="2.3" stroke-linejoin="round"/>
<polyline points="326.2,42.6 329.0,42.8 331.8,43.0 334.6,43.2 337.4,43.5 340.2,43.8 343.0,44.1 345.8,44.4 348.6,44.8 351.4,45.2 354.3,45.6 357.1,46.0 359.9,46.5 362.7,47.0 365.5,47.6 368.3,48.2 371.1,48.9 373.9,49.6 376.7,50.4 379.5,51.2 382.3,52.1 385.1,53.0 387.9,54.0 390.7,55.1 393.6,56.3 396.4,57.5 399.2,58.8 402.0,60.2 404.8,61.6 407.6,63.2 410.4,64.8 413.2,66.5 416.0,68.3 418.8,70.2 421.6,72.2 424.4,74.3 427.2,76.4 430.0,78.6 432.8,80.9 435.7,83.2 438.5,85.7 441.3,88.1 444.1,90.6 446.9,93.2 449.7,95.8 452.5,98.4 455.3,101.0 458.1,103.6 460.9,106.2 463.7,108.8 466.5,111.3 469.3,113.8 472.1,116.3 475.0,118.7 477.8,121.1 480.6,123.4 483.4,125.6 486.2,127.8 489.0,129.9 491.8,131.9 494.6,133.8" fill="none" stroke="#000" stroke-width="2.3" stroke-linejoin="round"/>
<polyline points="326.2,65.4 329.0,65.9 331.8,66.4 334.6,67.0 337.4,67.7 340.2,68.5 343.0,69.4 345.8,70.3 348.6,71.4 351.4,72.5 354.3,73.8 357.1,75.2 359.9,76.7 362.7,78.4 365.5,80.2 368.3,82.1 371.1,84.2 373.9,86.4 376.7,88.7 379.5,91.2 382.3,93.8 385.1,96.5 387.9,99.3 390.7,102.2 393.6,105.1 396.4,108.1 399.2,111.1 402.0,114.0 404.8,117.0 407.6,119.9 410.4,122.7 413.2,125.4 416.0,128.0 418.8,130.5 421.6,132.9 424.4,135.1 427.2,137.2 430.0,139.2 432.8,141.0 435.7,142.6 438.5,144.2 441.3,145.6 444.1,146.9 446.9,148.1 449.7,149.1 452.5,150.1 455.3,151.0 458.1,151.7 460.9,152.5 463.7,153.1 466.5,153.7 469.3,154.2 472.1,154.6 475.0,155.0 477.8,155.4 480.6,155.7 483.4,156.0 486.2,156.2 489.0,156.5 491.8,156.7 494.6,156.8" fill="none" stroke="#858585" stroke-width="2.8" stroke-linejoin="round"/>
<polyline points="326.2,81.7 329.0,81.9 331.8,82.2 334.6,82.5 337.4,82.9 340.2,83.3 343.0,83.7 345.8,84.1 348.6,84.6 351.4,85.1 354.3,85.7 357.1,86.3 359.9,87.0 362.7,87.7 365.5,88.5 368.3,89.3 371.1,90.2 373.9,91.2 376.7,92.2 379.5,93.3 382.3,94.5 385.1,95.8 387.9,97.1 390.7,98.5 393.6,100.0 396.4,101.6 399.2,103.2 402.0,104.9 404.8,106.7 407.6,108.6 410.4,110.5 413.2,112.4 416.0,114.5 418.8,116.5 421.6,118.6 424.4,120.7 427.2,122.8 430.0,125.0 432.8,127.1 435.7,129.2 438.5,131.3 441.3,133.4 444.1,135.4 446.9,137.4 449.7,139.3 452.5,141.1 455.3,142.9 458.1,144.7 460.9,146.3 463.7,147.9 466.5,149.4 469.3,150.8 472.1,152.2 475.0,153.5 477.8,154.7 480.6,155.8 483.4,156.9 486.2,157.8 489.0,158.8 491.8,159.6 494.6,160.4" fill="none" stroke="#858585" stroke-width="2.8" stroke-linejoin="round"/>
<polyline points="326.2,50.6 329.0,51.2 331.8,51.9 334.6,52.7 337.4,53.6 340.2,54.5 343.0,55.6 345.8,56.7 348.6,57.9 351.4,59.2 354.3,60.6 357.1,62.2 359.9,63.8 362.7,65.6 365.5,67.5 368.3,69.5 371.1,71.6 373.9,73.8 376.7,76.2 379.5,78.6 382.3,81.1 385.1,83.8 387.9,86.5 390.7,89.2 393.6,92.1 396.4,94.9 399.2,97.7 402.0,100.6 404.8,103.4 407.6,106.2 410.4,109.0 413.2,111.7 416.0,114.3 418.8,116.8 421.6,119.2 424.4,121.5 427.2,123.7 430.0,125.8 432.8,127.7 435.7,129.6 438.5,131.3 441.3,132.9 444.1,134.4 446.9,135.8 449.7,137.1 452.5,138.3 455.3,139.4 458.1,140.4 460.9,141.3 463.7,142.1 466.5,142.9 469.3,143.6 472.1,144.2 475.0,144.8 477.8,145.3 480.6,145.8 483.4,146.2 486.2,146.6 489.0,146.9 491.8,147.2 494.6,147.5" fill="none" stroke="#858585" stroke-width="2.8" stroke-linejoin="round"/>
<polyline points="326.2,77.8 329.0,78.1 331.8,78.4 334.6,78.7 337.4,79.1 340.2,79.5 343.0,80.0 345.8,80.4 348.6,81.0 351.4,81.5 354.3,82.1 357.1,82.8 359.9,83.5 362.7,84.3 365.5,85.1 368.3,86.0 371.1,87.0 373.9,88.0 376.7,89.1 379.5,90.2 382.3,91.5 385.1,92.8 387.9,94.2 390.7,95.6 393.6,97.2 396.4,98.8 399.2,100.5 402.0,102.2 404.8,104.1 407.6,105.9 410.4,107.9 413.2,109.9 416.0,111.9 418.8,114.0 421.6,116.1 424.4,118.3 427.2,120.4 430.0,122.6 432.8,124.7 435.7,126.8 438.5,128.9 441.3,131.0 444.1,133.0 446.9,135.0 449.7,137.0 452.5,138.8 455.3,140.6 458.1,142.4 460.9,144.0 463.7,145.6 466.5,147.1 469.3,148.6 472.1,149.9 475.0,151.2 477.8,152.4 480.6,153.6 483.4,154.6 486.2,155.6 489.0,156.6 491.8,157.4 494.6,158.2" fill="none" stroke="#858585" stroke-width="2.8" stroke-linejoin="round"/>
<polyline points="326.2,62.8 329.0,63.0 331.8,63.2 334.6,63.4 337.4,63.6 340.2,63.8 343.0,64.1 345.8,64.4 348.6,64.7 351.4,65.0 354.3,65.4 357.1,65.7 359.9,66.2 362.7,66.6 365.5,67.1 368.3,67.6 371.1,68.2 373.9,68.8 376.7,69.5 379.5,70.2 382.3,70.9 385.1,71.7 387.9,72.6 390.7,73.5 393.6,74.4 396.4,75.4 399.2,76.5 402.0,77.6 404.8,78.8 407.6,80.0 410.4,81.3 413.2,82.6 416.0,83.9 418.8,85.3 421.6,86.7 424.4,88.2 427.2,89.6 430.0,91.1 432.8,92.6 435.7,94.1 438.5,95.6 441.3,97.1 444.1,98.5 446.9,100.0 449.7,101.4 452.5,102.7 455.3,104.1 458.1,105.4 460.9,106.6 463.7,107.8 466.5,109.0 469.3,110.1 472.1,111.1 475.0,112.1 477.8,113.1 480.6,114.0 483.4,114.8 486.2,115.6 489.0,116.3 491.8,117.0 494.6,117.7" fill="none" stroke="#858585" stroke-width="2.8" stroke-linejoin="round"/>
<polyline points="326.2,77.7 329.0,77.7 331.8,77.7 334.6,77.7 337.4,77.8 340.2,77.8 343.0,77.9 345.8,77.9 348.6,78.0 351.4,78.1 354.3,78.1 357.1,78.2 359.9,78.3 362.7,78.4 365.5,78.6 368.3,78.7 371.1,78.9 373.9,79.0 376.7,79.2 379.5,79.5 382.3,79.7 385.1,80.0 387.9,80.3 390.7,80.6 393.6,81.0 396.4,81.4 399.2,81.9 402.0,82.5 404.8,83.0 407.6,83.7 410.4,84.4 413.2,85.2 416.0,86.1 418.8,87.0 421.6,88.1 424.4,89.2 427.2,90.5 430.0,91.8 432.8,93.3 435.7,94.9 438.5,96.5 441.3,98.3 444.1,100.2 446.9,102.2 449.7,104.3 452.5,106.4 455.3,108.7 458.1,110.9 460.9,113.3 463.7,115.7 466.5,118.0 469.3,120.4 472.1,122.8 475.0,125.1 477.8,127.3 480.6,129.5 483.4,131.7 486.2,133.7 489.0,135.6 491.8,137.5 494.6,139.2" fill="none" stroke="#858585" stroke-width="2.8" stroke-linejoin="round"/>
<polyline points="326.2,40.9 329.0,41.0 331.8,41.0 334.6,41.1 337.4,41.2 340.2,41.3 343.0,41.3 345.8,41.4 348.6,41.5 351.4,41.7 354.3,41.8 357.1,42.0 359.9,42.1 362.7,42.3 365.5,42.5 368.3,42.8 371.1,43.0 373.9,43.3 376.7,43.6 379.5,44.0 382.3,44.4 385.1,44.8 387.9,45.3 390.7,45.8 393.6,46.4 396.4,47.1 399.2,47.8 402.0,48.7 404.8,49.6 407.6,50.5 410.4,51.6 413.2,52.8 416.0,54.1 418.8,55.5 421.6,57.1 424.4,58.7 427.2,60.5 430.0,62.5 432.8,64.6 435.7,66.9 438.5,69.3 441.3,71.8 444.1,74.6 446.9,77.4 449.7,80.4 452.5,83.5 455.3,86.8 458.1,90.1 460.9,93.6 463.7,97.1 466.5,100.6 469.3,104.2 472.1,107.7 475.0,111.3 477.8,114.8 480.6,118.2 483.4,121.6 486.2,124.9 489.0,128.0 491.8,131.1 494.6,133.9" fill="none" stroke="#858585" stroke-width="2.8" stroke-linejoin="round"/>
<line x1="308.40" y1="166.20" x2="494.60" y2="166.20" stroke="#333" stroke-width="1.1" stroke-dasharray="1.2,1"/>
<line x1="307.40" y1="26.30" x2="307.40" y2="177.80" stroke="#000" stroke-width="2" />
<line x1="306.40" y1="176.80" x2="495.60" y2="176.80" stroke="#000" stroke-width="2" />
<line x1="301.90" y1="166.20" x2="307.40" y2="166.20" stroke="#000" stroke-width="2" />
<text x="300.80" y="170.10" font-size="11" text-anchor="end" font-weight="bold" fill="#000" >0.0</text>
<line x1="301.90" y1="144.64" x2="307.40" y2="144.64" stroke="#000" stroke-width="2" />
<text x="300.80" y="148.54" font-size="11" text-anchor="end" font-weight="bold" fill="#000" >0.2</text>
<line x1="301.90" y1="123.08" x2="307.40" y2="123.08" stroke="#000" stroke-width="2" />
<text x="300.80" y="126.98" font-size="11" text-anchor="end" font-weight="bold" fill="#000" >0.4</text>
<line x1="301.90" y1="101.52" x2="307.40" y2="101.52" stroke="#000" stroke-width="2" />
<text x="300.80" y="105.42" font-size="11" text-anchor="end" font-weight="bold" fill="#000" >0.6</text>
<line x1="301.90" y1="79.96" x2="307.40" y2="79.96" stroke="#000" stroke-width="2" />
<text x="300.80" y="83.86" font-size="11" text-anchor="end" font-weight="bold" fill="#000" >0.8</text>
<line x1="301.90" y1="58.40" x2="307.40" y2="58.40" stroke="#000" stroke-width="2" />
<text x="300.80" y="62.30" font-size="11" text-anchor="end" font-weight="bold" fill="#000" >1.0</text>
<line x1="301.90" y1="36.84" x2="307.40" y2="36.84" stroke="#000" stroke-width="2" />
<text x="300.80" y="40.74" font-size="11" text-anchor="end" font-weight="bold" fill="#000" >1.2</text>
<line x1="307.40" y1="176.80" x2="307.40" y2="182.30" stroke="#000" stroke-width="2" />
<line x1="326.18" y1="176.80" x2="326.18" y2="180.30" stroke="#000" stroke-width="1.6" />
<line x1="337.17" y1="176.80" x2="337.17" y2="180.30" stroke="#000" stroke-width="1.6" />
<line x1="344.97" y1="176.80" x2="344.97" y2="180.30" stroke="#000" stroke-width="1.6" />
<line x1="351.02" y1="176.80" x2="351.02" y2="180.30" stroke="#000" stroke-width="1.6" />
<line x1="355.96" y1="176.80" x2="355.96" y2="180.30" stroke="#000" stroke-width="1.6" />
<line x1="360.13" y1="176.80" x2="360.13" y2="180.30" stroke="#000" stroke-width="1.6" />
<line x1="363.75" y1="176.80" x2="363.75" y2="180.30" stroke="#000" stroke-width="1.6" />
<line x1="366.94" y1="176.80" x2="366.94" y2="180.30" stroke="#000" stroke-width="1.6" />
<line x1="369.80" y1="176.80" x2="369.80" y2="182.30" stroke="#000" stroke-width="2" />
<line x1="388.58" y1="176.80" x2="388.58" y2="180.30" stroke="#000" stroke-width="1.6" />
<line x1="399.57" y1="176.80" x2="399.57" y2="180.30" stroke="#000" stroke-width="1.6" />
<line x1="407.37" y1="176.80" x2="407.37" y2="180.30" stroke="#000" stroke-width="1.6" />
<line x1="413.42" y1="176.80" x2="413.42" y2="180.30" stroke="#000" stroke-width="1.6" />
<line x1="418.36" y1="176.80" x2="418.36" y2="180.30" stroke="#000" stroke-width="1.6" />
<line x1="422.53" y1="176.80" x2="422.53" y2="180.30" stroke="#000" stroke-width="1.6" />
<line x1="426.15" y1="176.80" x2="426.15" y2="180.30" stroke="#000" stroke-width="1.6" />
<line x1="429.34" y1="176.80" x2="429.34" y2="180.30" stroke="#000" stroke-width="1.6" />
<line x1="432.20" y1="176.80" x2="432.20" y2="182.30" stroke="#000" stroke-width="2" />
<line x1="450.98" y1="176.80" x2="450.98" y2="180.30" stroke="#000" stroke-width="1.6" />
<line x1="461.97" y1="176.80" x2="461.97" y2="180.30" stroke="#000" stroke-width="1.6" />
<line x1="469.77" y1="176.80" x2="469.77" y2="180.30" stroke="#000" stroke-width="1.6" />
<line x1="475.82" y1="176.80" x2="475.82" y2="180.30" stroke="#000" stroke-width="1.6" />
<line x1="480.76" y1="176.80" x2="480.76" y2="180.30" stroke="#000" stroke-width="1.6" />
<line x1="484.93" y1="176.80" x2="484.93" y2="180.30" stroke="#000" stroke-width="1.6" />
<line x1="488.55" y1="176.80" x2="488.55" y2="180.30" stroke="#000" stroke-width="1.6" />
<line x1="491.74" y1="176.80" x2="491.74" y2="180.30" stroke="#000" stroke-width="1.6" />
<line x1="494.60" y1="176.80" x2="494.60" y2="182.30" stroke="#000" stroke-width="2" />
<text x="307.40" y="194.80" font-size="11" text-anchor="middle" font-weight="bold" fill="#000" >0.01</text>
<text x="369.80" y="194.80" font-size="11" text-anchor="middle" font-weight="bold" fill="#000" >0.1</text>
<text x="432.20" y="194.80" font-size="11" text-anchor="middle" font-weight="bold" fill="#000" >1</text>
<text x="494.60" y="194.80" font-size="11" text-anchor="middle" font-weight="bold" fill="#000" >10</text>
<text x="401.90" y="207.90" font-size="11.8" text-anchor="middle" font-weight="bold">Cytarabine (<tspan font-weight="normal">μ</tspan>M)</text>
<text x="282.30" y="98.60" font-size="12.7" text-anchor="middle" font-weight="bold" fill="#000" transform="rotate(-90 282.30 98.60)" >Normalized activity</text>
<polyline points="56.2,264.9 59.0,264.9 61.8,264.9 64.6,264.9 67.4,264.9 70.2,264.9 73.0,264.9 75.8,264.9 78.6,265.0 81.4,265.0 84.3,265.0 87.1,265.0 89.9,265.0 92.7,265.0 95.5,265.0 98.3,265.0 101.1,265.1 103.9,265.2 106.7,265.3 109.5,265.6 112.3,266.0 115.1,266.6 117.9,267.6 120.7,269.2 123.6,271.8 126.4,275.6 129.2,281.4 132.0,289.4 134.8,300.1 137.6,313.1 140.4,327.3 143.2,341.2 146.0,353.2 148.8,362.8 151.6,369.8 154.4,374.6 157.2,377.8 160.0,379.9 162.8,381.2 165.7,382.0 168.5,382.5 171.3,382.9 174.1,383.1 176.9,383.2 179.7,383.3 182.5,383.3 185.3,383.3 188.1,383.4 190.9,383.4 193.7,383.4 196.5,383.4 199.3,383.4 202.1,383.4 205.0,383.4 207.8,383.4 210.6,383.4 213.4,383.4 216.2,383.4 219.0,383.4 221.8,383.4 224.6,383.4" fill="none" stroke="#000" stroke-width="2.3" stroke-linejoin="round"/>
<polyline points="56.2,273.6 59.0,273.6 61.8,273.6 64.6,273.6 67.4,273.6 70.2,273.6 73.0,273.6 75.8,273.6 78.6,273.6 81.4,273.6 84.3,273.6 87.1,273.6 89.9,273.6 92.7,273.6 95.5,273.6 98.3,273.7 101.1,273.7 103.9,273.7 106.7,273.7 109.5,273.7 112.3,273.7 115.1,273.8 117.9,273.8 120.7,273.9 123.6,274.1 126.4,274.3 129.2,274.5 132.0,274.9 134.8,275.5 137.6,276.3 140.4,277.4 143.2,278.9 146.0,281.1 148.8,284.0 151.6,287.8 154.4,292.7 157.2,298.7 160.0,305.8 162.8,313.8 165.7,322.0 168.5,330.1 171.3,337.6 174.1,344.1 176.9,349.4 179.7,353.6 182.5,356.8 185.3,359.2 188.1,361.0 190.9,362.2 193.7,363.1 196.5,363.8 199.3,364.2 202.1,364.5 205.0,364.8 207.8,364.9 210.6,365.0 213.4,365.1 216.2,365.1 219.0,365.2 221.8,365.2 224.6,365.2" fill="none" stroke="#858585" stroke-width="2.8" stroke-linejoin="round"/>
<polyline points="56.2,321.1 59.0,324.6 61.8,328.2 64.6,331.9 67.4,335.5 70.2,339.1 73.0,342.5 75.8,345.9 78.6,349.1 81.4,352.2 84.3,355.0 87.1,357.7 89.9,360.1 92.7,362.4 95.5,364.4 98.3,366.2 101.1,367.9 103.9,369.4 106.7,370.7 109.5,371.9 112.3,373.0 115.1,373.9 117.9,374.7 120.7,375.4 123.6,376.0 126.4,376.6 129.2,377.1 132.0,377.5 134.8,377.9 137.6,378.2 140.4,378.4 143.2,378.7 146.0,378.9 148.8,379.1 151.6,379.2 154.4,379.4 157.2,379.5 160.0,379.6 162.8,379.7 165.7,379.7 168.5,379.8 171.3,379.9 174.1,379.9 176.9,380.0 179.7,380.0 182.5,380.0 185.3,380.1 188.1,380.1 190.9,380.1 193.7,380.1 196.5,380.1 199.3,380.1 202.1,380.2 205.0,380.2 207.8,380.2 210.6,380.2 213.4,380.2 216.2,380.2 219.0,380.2 221.8,380.2 224.6,380.2" fill="none" stroke="#000" stroke-width="2.3" stroke-linejoin="round"/>
<polyline points="56.2,275.8 59.0,276.3 61.8,276.9 64.6,277.6 67.4,278.4 70.2,279.4 73.0,280.4 75.8,281.6 78.6,283.0 81.4,284.6 84.3,286.3 87.1,288.3 89.9,290.5 92.7,293.0 95.5,295.7 98.3,298.6 101.1,301.9 103.9,305.3 106.7,309.0 109.5,312.9 112.3,317.0 115.1,321.2 117.9,325.5 120.7,329.8 123.6,334.2 126.4,338.4 129.2,342.6 132.0,346.6 134.8,350.4 137.6,354.0 140.4,357.3 143.2,360.4 146.0,363.2 148.8,365.8 151.6,368.2 154.4,370.2 157.2,372.1 160.0,373.8 162.8,375.2 165.7,376.5 168.5,377.7 171.3,378.6 174.1,379.5 176.9,380.3 179.7,380.9 182.5,381.5 185.3,382.0 188.1,382.4 190.9,382.8 193.7,383.1 196.5,383.3 199.3,383.6 202.1,383.8 205.0,383.9 207.8,384.1 210.6,384.2 213.4,384.3 216.2,384.4 219.0,384.5 221.8,384.6 224.6,384.6" fill="none" stroke="#000" stroke-width="2.3" stroke-linejoin="round"/>
<polyline points="56.2,273.6 59.0,277.8 61.8,282.1 64.6,286.5 67.4,291.1 70.2,295.7 73.0,300.5 75.8,305.2 78.6,310.0 81.4,314.7 84.3,319.3 87.1,323.9 89.9,328.3 92.7,332.5 95.5,336.6 98.3,340.5 101.1,344.1 103.9,347.6 106.7,350.8 109.5,353.8 112.3,356.6 115.1,359.2 117.9,361.6 120.7,363.7 123.6,365.7 126.4,367.5 129.2,369.2 132.0,370.6 134.8,372.0 137.6,373.2 140.4,374.3 143.2,375.2 146.0,376.1 148.8,376.9 151.6,377.6 154.4,378.2 157.2,378.8 160.0,379.3 162.8,379.7 165.7,380.1 168.5,380.5 171.3,380.8 174.1,381.1 176.9,381.3 179.7,381.6 182.5,381.7 185.3,381.9 188.1,382.1 190.9,382.2 193.7,382.3 196.5,382.4 199.3,382.5 202.1,382.6 205.0,382.7 207.8,382.8 210.6,382.8 213.4,382.9 216.2,382.9 219.0,383.0 221.8,383.0 224.6,383.0" fill="none" stroke="#000" stroke-width="2.3" stroke-linejoin="round"/>
<polyline points="56.2,260.8 59.0,260.8 61.8,260.8 64.6,260.8 67.4,260.8 70.2,260.9 73.0,260.9 75.8,260.9 78.6,261.0 81.4,261.0 84.3,261.1 87.1,261.3 89.9,261.4 92.7,261.7 95.5,262.0 98.3,262.5 101.1,263.1 103.9,264.0 106.7,265.1 109.5,266.7 112.3,268.8 115.1,271.6 117.9,275.2 120.7,279.7 123.6,285.3 126.4,292.0 129.2,299.6 132.0,308.0 134.8,316.6 137.6,325.1 140.4,333.0 143.2,340.1 146.0,346.1 148.8,351.1 151.6,355.0 154.4,358.1 157.2,360.4 160.0,362.2 162.8,363.5 165.7,364.5 168.5,365.2 171.3,365.7 174.1,366.1 176.9,366.4 179.7,366.6 182.5,366.7 185.3,366.8 188.1,366.9 190.9,367.0 193.7,367.0 196.5,367.0 199.3,367.1 202.1,367.1 205.0,367.1 207.8,367.1 210.6,367.1 213.4,367.1 216.2,367.1 219.0,367.1 221.8,367.1 224.6,367.1" fill="none" stroke="#000" stroke-width="2.3" stroke-linejoin="round"/>
<polyline points="56.2,270.4 59.0,270.4 61.8,270.4 64.6,270.4 67.4,270.4 70.2,270.4 73.0,270.4 75.8,270.4 78.6,270.5 81.4,270.5 84.3,270.5 87.1,270.6 89.9,270.6 92.7,270.7 95.5,270.8 98.3,271.0 101.1,271.2 103.9,271.4 106.7,271.8 109.5,272.3 112.3,273.0 115.1,274.0 117.9,275.2 120.7,276.9 123.6,279.0 126.4,281.9 129.2,285.5 132.0,289.9 134.8,295.3 137.6,301.7 140.4,308.8 143.2,316.4 146.0,324.3 148.8,331.9 151.6,339.0 154.4,345.4 157.2,350.8 160.0,355.3 162.8,358.9 165.7,361.7 168.5,363.9 171.3,365.5 174.1,366.8 176.9,367.7 179.7,368.4 182.5,368.9 185.3,369.3 188.1,369.6 190.9,369.8 193.7,369.9 196.5,370.1 199.3,370.1 202.1,370.2 205.0,370.2 207.8,370.3 210.6,370.3 213.4,370.3 216.2,370.3 219.0,370.3 221.8,370.3 224.6,370.3" fill="none" stroke="#000" stroke-width="2.3" stroke-linejoin="round"/>
<polyline points="56.2,357.7 59.0,358.3 61.8,359.0 64.6,359.7 67.4,360.4 70.2,361.1 73.0,361.9 75.8,362.7 78.6,363.5 81.4,364.3 84.3,365.2 87.1,366.0 89.9,366.8 92.7,367.6 95.5,368.3 98.3,369.1 101.1,369.8 103.9,370.4 106.7,371.1 109.5,371.7 112.3,372.2 115.1,372.7 117.9,373.2 120.7,373.6 123.6,374.0 126.4,374.4 129.2,374.7 132.0,375.0 134.8,375.3 137.6,375.5 140.4,375.7 143.2,375.9 146.0,376.1 148.8,376.3 151.6,376.4 154.4,376.5 157.2,376.6 160.0,376.7 162.8,376.8 165.7,376.9 168.5,377.0 171.3,377.0 174.1,377.1 176.9,377.1 179.7,377.2 182.5,377.2 185.3,377.2 188.1,377.3 190.9,377.3 193.7,377.3 196.5,377.3 199.3,377.4 202.1,377.4 205.0,377.4 207.8,377.4 210.6,377.4 213.4,377.4 216.2,377.4 219.0,377.4 221.8,377.4 224.6,377.5" fill="none" stroke="#000" stroke-width="2.3" stroke-linejoin="round"/>
<polyline points="56.2,268.4 59.0,268.4 61.8,268.5 64.6,268.5 67.4,268.6 70.2,268.6 73.0,268.8 75.8,268.9 78.6,269.2 81.4,269.6 84.3,270.1 87.1,270.8 89.9,271.9 92.7,273.4 95.5,275.5 98.3,278.5 101.1,282.4 103.9,287.5 106.7,294.0 109.5,301.7 112.3,310.5 115.1,319.9 117.9,329.2 120.7,337.9 123.6,345.5 126.4,351.8 129.2,356.8 132.0,360.6 134.8,363.4 137.6,365.4 140.4,366.9 143.2,367.9 146.0,368.6 148.8,369.1 151.6,369.5 154.4,369.7 157.2,369.9 160.0,370.0 162.8,370.1 165.7,370.1 168.5,370.2 171.3,370.2 174.1,370.2 176.9,370.2 179.7,370.2 182.5,370.3 185.3,370.3 188.1,370.3 190.9,370.3 193.7,370.3 196.5,370.3 199.3,370.3 202.1,370.3 205.0,370.3 207.8,370.3 210.6,370.3 213.4,370.3 216.2,370.3 219.0,370.3 221.8,370.3 224.6,370.3" fill="none" stroke="#000" stroke-width="2.3" stroke-linejoin="round"/>
<polyline points="56.2,260.1 59.0,260.1 61.8,260.1 64.6,260.1 67.4,260.1 70.2,260.1 73.0,260.1 75.8,260.1 78.6,260.1 81.4,260.1 84.3,260.1 87.1,260.1 89.9,260.1 92.7,260.1 95.5,260.1 98.3,260.1 101.1,260.1 103.9,260.1 106.7,260.2 109.5,260.2 112.3,260.3 115.1,260.5 117.9,260.8 120.7,261.3 123.6,262.2 126.4,263.6 129.2,265.9 132.0,269.6 134.8,275.4 137.6,283.8 140.4,295.4 143.2,309.8 146.0,325.5 148.8,340.7 151.6,353.4 154.4,363.1 157.2,369.8 160.0,374.2 162.8,377.0 165.7,378.7 168.5,379.8 171.3,380.4 174.1,380.7 176.9,381.0 179.7,381.1 182.5,381.2 185.3,381.2 188.1,381.3 190.9,381.3 193.7,381.3 196.5,381.3 199.3,381.3 202.1,381.3 205.0,381.3 207.8,381.3 210.6,381.3 213.4,381.3 216.2,381.3 219.0,381.3 221.8,381.3 224.6,381.3" fill="none" stroke="#000" stroke-width="2.3" stroke-linejoin="round"/>
<polyline points="56.2,266.1 59.0,266.1 61.8,266.1 64.6,266.1 67.4,266.1 70.2,266.1 73.0,266.1 75.8,266.1 78.6,266.1 81.4,266.1 84.3,266.1 87.1,266.2 89.9,266.3 92.7,266.4 95.5,266.5 98.3,266.7 101.1,267.1 103.9,267.5 106.7,268.2 109.5,269.2 112.3,270.7 115.1,272.7 117.9,275.7 120.7,279.7 123.6,285.2 126.4,292.2 129.2,301.0 132.0,311.3 134.8,322.5 137.6,334.0 140.4,344.8 143.2,354.4 146.0,362.2 148.8,368.5 151.6,373.1 154.4,376.6 157.2,379.0 160.0,380.7 162.8,381.9 165.7,382.7 168.5,383.3 171.3,383.7 174.1,384.0 176.9,384.1 179.7,384.3 182.5,384.3 185.3,384.4 188.1,384.4 190.9,384.5 193.7,384.5 196.5,384.5 199.3,384.5 202.1,384.5 205.0,384.5 207.8,384.5 210.6,384.5 213.4,384.5 216.2,384.5 219.0,384.5 221.8,384.5 224.6,384.5" fill="none" stroke="#000" stroke-width="2.3" stroke-linejoin="round"/>
<polyline points="56.2,327.5 59.0,328.7 61.8,330.0 64.6,331.5 67.4,333.1 70.2,334.8 73.0,336.6 75.8,338.6 78.6,340.6 81.4,342.6 84.3,344.7 87.1,346.7 89.9,348.7 92.7,350.6 95.5,352.4 98.3,354.1 101.1,355.6 103.9,357.0 106.7,358.3 109.5,359.4 112.3,360.4 115.1,361.3 117.9,362.1 120.7,362.7 123.6,363.3 126.4,363.8 129.2,364.2 132.0,364.6 134.8,364.9 137.6,365.2 140.4,365.4 143.2,365.6 146.0,365.7 148.8,365.9 151.6,366.0 154.4,366.1 157.2,366.1 160.0,366.2 162.8,366.3 165.7,366.3 168.5,366.4 171.3,366.4 174.1,366.4 176.9,366.4 179.7,366.5 182.5,366.5 185.3,366.5 188.1,366.5 190.9,366.5 193.7,366.5 196.5,366.5 199.3,366.5 202.1,366.5 205.0,366.5 207.8,366.5 210.6,366.5 213.4,366.6 216.2,366.6 219.0,366.6 221.8,366.6 224.6,366.6" fill="none" stroke="#000" stroke-width="2.3" stroke-linejoin="round"/>
<polyline points="56.2,285.5 59.0,287.8 61.8,290.4 64.6,293.1 67.4,296.1 70.2,299.2 73.0,302.5 75.8,305.9 78.6,309.5 81.4,313.2 84.3,316.9 87.1,320.7 89.9,324.5 92.7,328.3 95.5,332.0 98.3,335.6 101.1,339.1 103.9,342.5 106.7,345.7 109.5,348.8 112.3,351.6 115.1,354.3 117.9,356.7 120.7,359.0 123.6,361.0 126.4,362.9 129.2,364.6 132.0,366.2 134.8,367.6 137.6,368.8 140.4,370.0 143.2,371.0 146.0,371.9 148.8,372.6 151.6,373.3 154.4,374.0 157.2,374.5 160.0,375.0 162.8,375.4 165.7,375.8 168.5,376.1 171.3,376.4 174.1,376.7 176.9,376.9 179.7,377.1 182.5,377.3 185.3,377.4 188.1,377.6 190.9,377.7 193.7,377.8 196.5,377.9 199.3,378.0 202.1,378.0 205.0,378.1 207.8,378.1 210.6,378.2 213.4,378.2 216.2,378.3 219.0,378.3 221.8,378.3 224.6,378.3" fill="none" stroke="#000" stroke-width="2.3" stroke-linejoin="round"/>
<polyline points="56.2,272.2 59.0,272.2 61.8,272.2 64.6,272.2 67.4,272.2 70.2,272.2 73.0,272.2 75.8,272.2 78.6,272.2 81.4,272.2 84.3,272.2 87.1,272.2 89.9,272.2 92.7,272.2 95.5,272.2 98.3,272.2 101.1,272.2 103.9,272.2 106.7,272.2 109.5,272.2 112.3,272.2 115.1,272.2 117.9,272.2 120.7,272.2 123.6,272.3 126.4,272.4 129.2,272.6 132.0,273.0 134.8,273.7 137.6,274.8 140.4,276.8 143.2,280.2 146.0,285.7 148.8,294.2 151.6,305.9 154.4,320.4 157.2,335.6 160.0,349.2 162.8,359.8 165.7,367.1 168.5,371.7 171.3,374.6 174.1,376.2 176.9,377.2 179.7,377.7 182.5,378.0 185.3,378.2 188.1,378.3 190.9,378.3 193.7,378.4 196.5,378.4 199.3,378.4 202.1,378.4 205.0,378.4 207.8,378.4 210.6,378.4 213.4,378.4 216.2,378.4 219.0,378.4 221.8,378.4 224.6,378.4" fill="none" stroke="#000" stroke-width="2.3" stroke-linejoin="round"/>
<polyline points="56.2,279.0 59.0,279.5 61.8,280.0 64.6,280.6 67.4,281.3 70.2,282.1 73.0,283.0 75.8,284.0 78.6,285.1 81.4,286.3 84.3,287.7 87.1,289.3 89.9,291.0 92.7,292.8 95.5,294.9 98.3,297.1 101.1,299.4 103.9,302.0 106.7,304.7 109.5,307.6 112.3,310.6 115.1,313.7 117.9,316.9 120.7,320.1 123.6,323.3 126.4,326.6 129.2,329.8 132.0,332.9 134.8,336.0 137.6,338.9 140.4,341.7 143.2,344.3 146.0,346.8 148.8,349.1 151.6,351.2 154.4,353.1 157.2,354.9 160.0,356.5 162.8,358.0 165.7,359.3 168.5,360.5 171.3,361.5 174.1,362.4 176.9,363.3 179.7,364.0 182.5,364.6 185.3,365.2 188.1,365.7 190.9,366.1 193.7,366.5 196.5,366.9 199.3,367.2 202.1,367.4 205.0,367.7 207.8,367.8 210.6,368.0 213.4,368.2 216.2,368.3 219.0,368.4 221.8,368.5 224.6,368.6" fill="none" stroke="#000" stroke-width="2.3" stroke-linejoin="round"/>
<polyline points="56.2,265.2 59.0,265.2 61.8,265.2 64.6,265.2 67.4,265.2 70.2,265.2 73.0,265.2 75.8,265.3 78.6,265.3 81.4,265.3 84.3,265.3 87.1,265.3 89.9,265.3 92.7,265.3 95.5,265.4 98.3,265.4 101.1,265.5 103.9,265.6 106.7,265.7 109.5,265.9 112.3,266.2 115.1,266.5 117.9,267.0 120.7,267.7 123.6,268.5 126.4,269.8 129.2,271.4 132.0,273.6 134.8,276.4 137.6,280.2 140.4,284.9 143.2,290.8 146.0,297.8 148.8,305.9 151.6,314.9 154.4,324.3 157.2,333.7 160.0,342.6 162.8,350.7 165.7,357.6 168.5,363.5 171.3,368.1 174.1,371.8 176.9,374.7 179.7,376.8 182.5,378.4 185.3,379.6 188.1,380.5 190.9,381.2 193.7,381.6 196.5,382.0 199.3,382.2 202.1,382.4 205.0,382.5 207.8,382.6 210.6,382.7 213.4,382.8 216.2,382.8 219.0,382.8 221.8,382.8 224.6,382.8" fill="none" stroke="#000" stroke-width="2.3" stroke-linejoin="round"/>
<polyline points="56.2,264.6 59.0,264.6 61.8,264.6 64.6,264.6 67.4,264.6 70.2,264.6 73.0,264.6 75.8,264.6 78.6,264.6 81.4,264.7 84.3,264.7 87.1,264.7 89.9,264.8 92.7,264.9 95.5,265.0 98.3,265.2 101.1,265.5 103.9,265.8 106.7,266.3 109.5,267.0 112.3,268.0 115.1,269.3 117.9,271.0 120.7,273.4 123.6,276.5 126.4,280.6 129.2,285.8 132.0,292.3 134.8,299.9 137.6,308.7 140.4,318.1 143.2,327.8 146.0,337.2 148.8,345.8 151.6,353.3 154.4,359.7 157.2,364.8 160.0,368.8 162.8,371.9 165.7,374.2 168.5,375.9 171.3,377.1 174.1,378.1 176.9,378.7 179.7,379.2 182.5,379.5 185.3,379.8 188.1,380.0 190.9,380.1 193.7,380.2 196.5,380.3 199.3,380.3 202.1,380.3 205.0,380.4 207.8,380.4 210.6,380.4 213.4,380.4 216.2,380.4 219.0,380.4 221.8,380.4 224.6,380.4" fill="none" stroke="#000" stroke-width="2.3" stroke-linejoin="round"/>
<polyline points="56.2,258.6 59.0,258.6 61.8,258.6 64.6,258.6 67.4,258.6 70.2,258.6 73.0,258.6 75.8,258.6 78.6,258.6 81.4,258.6 84.3,258.6 87.1,258.6 89.9,258.7 92.7,258.7 95.5,258.7 98.3,258.7 101.1,258.8 103.9,258.8 106.7,259.0 109.5,259.2 112.3,259.5 115.1,260.0 117.9,260.8 120.7,262.1 123.6,264.2 126.4,267.4 129.2,272.2 132.0,279.2 134.8,288.8 137.6,301.0 140.4,315.0 143.2,329.5 146.0,342.9 148.8,354.0 151.6,362.5 154.4,368.5 157.2,372.5 160.0,375.2 162.8,376.9 165.7,378.0 168.5,378.6 171.3,379.1 174.1,379.3 176.9,379.5 179.7,379.6 182.5,379.6 185.3,379.7 188.1,379.7 190.9,379.7 193.7,379.7 196.5,379.7 199.3,379.7 202.1,379.7 205.0,379.7 207.8,379.7 210.6,379.7 213.4,379.7 216.2,379.7 219.0,379.7 221.8,379.7 224.6,379.7" fill="none" stroke="#000" stroke-width="2.3" stroke-linejoin="round"/>
<polyline points="56.2,277.9 59.0,277.9 61.8,277.9 64.6,277.9 67.4,277.9 70.2,277.9 73.0,277.9 75.8,277.9 78.6,277.9 81.4,277.9 84.3,277.9 87.1,277.9 89.9,277.9 92.7,277.9 95.5,277.9 98.3,277.9 101.1,277.9 103.9,277.9 106.7,277.9 109.5,277.9 112.3,277.9 115.1,278.0 117.9,278.0 120.7,278.0 123.6,278.0 126.4,278.0 129.2,278.0 132.0,278.1 134.8,278.1 137.6,278.3 140.4,278.5 143.2,278.9 146.0,279.5 148.8,280.5 151.6,282.2 154.4,284.9 157.2,289.2 160.0,295.4 162.8,304.2 165.7,315.4 168.5,328.1 171.3,340.8 174.1,351.9 176.9,360.7 179.7,367.0 182.5,371.2 185.3,373.9 188.1,375.6 190.9,376.6 193.7,377.3 196.5,377.6 199.3,377.9 202.1,378.0 205.0,378.1 207.8,378.1 210.6,378.2 213.4,378.2 216.2,378.2 219.0,378.2 221.8,378.2 224.6,378.2" fill="none" stroke="#000" stroke-width="2.3" stroke-linejoin="round"/>
<polyline points="56.2,272.1 59.0,272.1 61.8,272.2 64.6,272.2 67.4,272.2 70.2,272.2 73.0,272.2 75.8,272.2 78.6,272.2 81.4,272.2 84.3,272.2 87.1,272.2 89.9,272.2 92.7,272.2 95.5,272.2 98.3,272.3 101.1,272.3 103.9,272.4 106.7,272.5 109.5,272.7 112.3,272.9 115.1,273.2 117.9,273.8 120.7,274.5 123.6,275.6 126.4,277.2 129.2,279.4 132.0,282.5 134.8,286.7 137.6,292.2 140.4,299.1 143.2,307.2 146.0,316.3 148.8,325.7 151.6,334.7 154.4,342.7 157.2,349.4 160.0,354.6 162.8,358.6 165.7,361.6 168.5,363.7 171.3,365.2 174.1,366.2 176.9,366.9 179.7,367.4 182.5,367.7 185.3,367.9 188.1,368.1 190.9,368.2 193.7,368.3 196.5,368.3 199.3,368.4 202.1,368.4 205.0,368.4 207.8,368.4 210.6,368.4 213.4,368.4 216.2,368.4 219.0,368.4 221.8,368.4 224.6,368.4" fill="none" stroke="#000" stroke-width="2.3" stroke-linejoin="round"/>
<polyline points="56.2,261.2 59.0,261.2 61.8,261.2 64.6,261.2 67.4,261.2 70.2,261.3 73.0,261.3 75.8,261.3 78.6,261.3 81.4,261.3 84.3,261.3 87.1,261.3 89.9,261.4 92.7,261.4 95.5,261.5 98.3,261.6 101.1,261.7 103.9,262.0 106.7,262.3 109.5,262.7 112.3,263.3 115.1,264.1 117.9,265.3 120.7,266.9 123.6,269.2 126.4,272.2 129.2,276.3 132.0,281.5 134.8,288.1 137.6,296.0 140.4,305.1 143.2,315.1 146.0,325.2 148.8,335.0 151.6,343.9 154.4,351.5 157.2,357.8 160.0,362.8 162.8,366.6 165.7,369.4 168.5,371.5 171.3,373.0 174.1,374.1 176.9,374.9 179.7,375.5 182.5,375.9 185.3,376.1 188.1,376.3 190.9,376.5 193.7,376.6 196.5,376.6 199.3,376.7 202.1,376.7 205.0,376.7 207.8,376.8 210.6,376.8 213.4,376.8 216.2,376.8 219.0,376.8 221.8,376.8 224.6,376.8" fill="none" stroke="#000" stroke-width="2.3" stroke-linejoin="round"/>
<polyline points="56.2,262.9 59.0,262.9 61.8,262.9 64.6,262.9 67.4,262.9 70.2,262.9 73.0,262.9 75.8,262.9 78.6,262.9 81.4,262.9 84.3,262.9 87.1,262.9 89.9,262.9 92.7,262.9 95.5,263.0 98.3,263.0 101.1,263.1 103.9,263.2 106.7,263.3 109.5,263.7 112.3,264.2 115.1,265.0 117.9,266.5 120.7,268.9 123.6,272.8 126.4,278.8 129.2,287.7 132.0,299.7 134.8,314.4 137.6,330.2 140.4,344.9 143.2,356.9 146.0,365.8 148.8,371.9 151.6,375.7 154.4,378.1 157.2,379.6 160.0,380.5 162.8,381.0 165.7,381.3 168.5,381.5 171.3,381.6 174.1,381.6 176.9,381.7 179.7,381.7 182.5,381.7 185.3,381.7 188.1,381.7 190.9,381.7 193.7,381.7 196.5,381.7 199.3,381.7 202.1,381.7 205.0,381.7 207.8,381.7 210.6,381.7 213.4,381.7 216.2,381.7 219.0,381.7 221.8,381.7 224.6,381.7" fill="none" stroke="#000" stroke-width="2.3" stroke-linejoin="round"/>
<polyline points="56.2,304.9 59.0,305.4 61.8,306.1 64.6,306.7 67.4,307.5 70.2,308.3 73.0,309.3 75.8,310.3 78.6,311.4 81.4,312.6 84.3,314.0 87.1,315.4 89.9,317.0 92.7,318.7 95.5,320.4 98.3,322.3 101.1,324.3 103.9,326.4 106.7,328.6 109.5,330.9 112.3,333.2 115.1,335.5 117.9,337.9 120.7,340.2 123.6,342.6 126.4,344.9 129.2,347.1 132.0,349.3 134.8,351.4 137.6,353.4 140.4,355.3 143.2,357.1 146.0,358.8 148.8,360.4 151.6,361.8 154.4,363.2 157.2,364.4 160.0,365.5 162.8,366.5 165.7,367.5 168.5,368.3 171.3,369.1 174.1,369.8 176.9,370.4 179.7,370.9 182.5,371.4 185.3,371.9 188.1,372.3 190.9,372.6 193.7,372.9 196.5,373.2 199.3,373.5 202.1,373.7 205.0,373.9 207.8,374.0 210.6,374.2 213.4,374.3 216.2,374.4 219.0,374.5 221.8,374.6 224.6,374.7" fill="none" stroke="#000" stroke-width="2.3" stroke-linejoin="round"/>
<polyline points="56.2,272.0 59.0,272.0 61.8,272.0 64.6,272.0 67.4,272.0 70.2,272.0 73.0,272.0 75.8,272.0 78.6,272.0 81.4,272.0 84.3,272.1 87.1,272.1 89.9,272.2 92.7,272.3 95.5,272.4 98.3,272.6 101.1,272.9 103.9,273.4 106.7,274.0 109.5,274.8 112.3,276.0 115.1,277.8 117.9,280.1 120.7,283.3 123.6,287.5 126.4,292.9 129.2,299.5 132.0,307.2 134.8,315.6 137.6,324.2 140.4,332.5 143.2,340.0 146.0,346.4 148.8,351.5 151.6,355.5 154.4,358.5 157.2,360.7 160.0,362.3 162.8,363.5 165.7,364.3 168.5,364.9 171.3,365.2 174.1,365.5 176.9,365.7 179.7,365.9 182.5,365.9 185.3,366.0 188.1,366.1 190.9,366.1 193.7,366.1 196.5,366.1 199.3,366.1 202.1,366.1 205.0,366.1 207.8,366.1 210.6,366.1 213.4,366.1 216.2,366.1 219.0,366.1 221.8,366.2 224.6,366.2" fill="none" stroke="#000" stroke-width="2.3" stroke-linejoin="round"/>
<polyline points="56.2,270.4 59.0,271.4 61.8,272.5 64.6,273.9 67.4,275.4 70.2,277.2 73.0,279.3 75.8,281.7 78.6,284.4 81.4,287.5 84.3,290.9 87.1,294.6 89.9,298.7 92.7,303.2 95.5,307.9 98.3,312.9 101.1,318.0 103.9,323.2 106.7,328.4 109.5,333.6 112.3,338.6 115.1,343.4 117.9,347.9 120.7,352.1 123.6,356.0 126.4,359.5 129.2,362.6 132.0,365.4 134.8,367.9 137.6,370.0 140.4,371.9 143.2,373.5 146.0,374.9 148.8,376.1 151.6,377.2 154.4,378.0 157.2,378.8 160.0,379.4 162.8,379.9 165.7,380.4 168.5,380.7 171.3,381.1 174.1,381.3 176.9,381.6 179.7,381.7 182.5,381.9 185.3,382.0 188.1,382.1 190.9,382.2 193.7,382.3 196.5,382.4 199.3,382.4 202.1,382.5 205.0,382.5 207.8,382.5 210.6,382.6 213.4,382.6 216.2,382.6 219.0,382.6 221.8,382.6 224.6,382.7" fill="none" stroke="#000" stroke-width="2.3" stroke-linejoin="round"/>
<polyline points="56.2,270.1 59.0,270.1 61.8,270.1 64.6,270.1 67.4,270.1 70.2,270.1 73.0,270.1 75.8,270.1 78.6,270.1 81.4,270.1 84.3,270.1 87.1,270.1 89.9,270.2 92.7,270.2 95.5,270.2 98.3,270.2 101.1,270.2 103.9,270.3 106.7,270.4 109.5,270.5 112.3,270.7 115.1,270.9 117.9,271.3 120.7,271.9 123.6,272.7 126.4,273.9 129.2,275.7 132.0,278.2 134.8,281.6 137.6,286.4 140.4,292.5 143.2,300.1 146.0,309.1 148.8,318.9 151.6,328.8 154.4,338.1 157.2,346.2 160.0,352.9 162.8,358.0 165.7,361.9 168.5,364.6 171.3,366.6 174.1,368.0 176.9,368.9 179.7,369.6 182.5,370.0 185.3,370.3 188.1,370.5 190.9,370.6 193.7,370.7 196.5,370.8 199.3,370.8 202.1,370.9 205.0,370.9 207.8,370.9 210.6,370.9 213.4,370.9 216.2,370.9 219.0,370.9 221.8,370.9 224.6,370.9" fill="none" stroke="#000" stroke-width="2.3" stroke-linejoin="round"/>
<polyline points="56.2,260.3 59.0,260.3 61.8,260.3 64.6,260.3 67.4,260.3 70.2,260.3 73.0,260.3 75.8,260.3 78.6,260.3 81.4,260.3 84.3,260.3 87.1,260.3 89.9,260.3 92.7,260.3 95.5,260.3 98.3,260.4 101.1,260.4 103.9,260.5 106.7,260.6 109.5,260.9 112.3,261.3 115.1,262.1 117.9,263.5 120.7,265.8 123.6,269.7 126.4,276.0 129.2,285.3 132.0,298.0 134.8,313.3 137.6,329.0 140.4,342.8 143.2,353.4 146.0,360.6 148.8,365.2 151.6,368.0 154.4,369.7 157.2,370.7 160.0,371.2 162.8,371.5 165.7,371.7 168.5,371.8 171.3,371.9 174.1,371.9 176.9,371.9 179.7,371.9 182.5,371.9 185.3,371.9 188.1,371.9 190.9,371.9 193.7,371.9 196.5,371.9 199.3,371.9 202.1,371.9 205.0,371.9 207.8,371.9 210.6,371.9 213.4,371.9 216.2,371.9 219.0,371.9 221.8,371.9 224.6,371.9" fill="none" stroke="#000" stroke-width="2.3" stroke-linejoin="round"/>
<polyline points="56.2,286.6 59.0,288.2 61.8,290.0 64.6,292.0 67.4,294.1 70.2,296.4 73.0,298.8 75.8,301.4 78.6,304.2 81.4,307.1 84.3,310.2 87.1,313.3 89.9,316.6 92.7,319.9 95.5,323.2 98.3,326.5 101.1,329.9 103.9,333.2 106.7,336.4 109.5,339.5 112.3,342.5 115.1,345.3 117.9,348.1 120.7,350.6 123.6,353.0 126.4,355.2 129.2,357.3 132.0,359.2 134.8,360.9 137.6,362.5 140.4,364.0 143.2,365.3 146.0,366.4 148.8,367.5 151.6,368.4 154.4,369.3 157.2,370.1 160.0,370.7 162.8,371.3 165.7,371.9 168.5,372.3 171.3,372.8 174.1,373.1 176.9,373.5 179.7,373.8 182.5,374.0 185.3,374.2 188.1,374.4 190.9,374.6 193.7,374.8 196.5,374.9 199.3,375.0 202.1,375.1 205.0,375.2 207.8,375.3 210.6,375.4 213.4,375.4 216.2,375.5 219.0,375.5 221.8,375.6 224.6,375.6" fill="none" stroke="#000" stroke-width="2.3" stroke-linejoin="round"/>
<polyline points="56.2,261.6 59.0,261.6 61.8,261.6 64.6,261.6 67.4,261.6 70.2,261.6 73.0,261.6 75.8,261.6 78.6,261.6 81.4,261.6 84.3,261.6 87.1,261.6 89.9,261.6 92.7,261.6 95.5,261.6 98.3,261.6 101.1,261.6 103.9,261.6 106.7,261.7 109.5,261.7 112.3,261.8 115.1,262.0 117.9,262.3 120.7,262.9 123.6,263.9 126.4,265.6 129.2,268.5 132.0,273.3 134.8,280.9 137.6,291.8 140.4,305.9 143.2,321.6 146.0,336.5 148.8,348.6 151.6,357.3 154.4,363.0 157.2,366.6 160.0,368.6 162.8,369.8 165.7,370.5 168.5,370.9 171.3,371.1 174.1,371.3 176.9,371.3 179.7,371.4 182.5,371.4 185.3,371.4 188.1,371.4 190.9,371.4 193.7,371.4 196.5,371.4 199.3,371.4 202.1,371.4 205.0,371.4 207.8,371.4 210.6,371.4 213.4,371.4 216.2,371.4 219.0,371.4 221.8,371.4 224.6,371.4" fill="none" stroke="#000" stroke-width="2.3" stroke-linejoin="round"/>
<polyline points="56.2,281.2 59.0,284.7 61.8,288.5 64.6,292.5 67.4,296.7 70.2,301.1 73.0,305.5 75.8,310.1 78.6,314.7 81.4,319.3 84.3,323.8 87.1,328.3 89.9,332.6 92.7,336.7 95.5,340.6 98.3,344.3 101.1,347.7 103.9,350.9 106.7,353.8 109.5,356.5 112.3,358.9 115.1,361.1 117.9,363.1 120.7,364.9 123.6,366.5 126.4,367.9 129.2,369.1 132.0,370.2 134.8,371.2 137.6,372.1 140.4,372.8 143.2,373.5 146.0,374.1 148.8,374.6 151.6,375.0 154.4,375.4 157.2,375.7 160.0,376.0 162.8,376.3 165.7,376.5 168.5,376.7 171.3,376.8 174.1,377.0 176.9,377.1 179.7,377.2 182.5,377.3 185.3,377.4 188.1,377.5 190.9,377.5 193.7,377.6 196.5,377.6 199.3,377.7 202.1,377.7 205.0,377.7 207.8,377.8 210.6,377.8 213.4,377.8 216.2,377.8 219.0,377.8 221.8,377.8 224.6,377.9" fill="none" stroke="#000" stroke-width="2.3" stroke-linejoin="round"/>
<polyline points="56.2,284.4 59.0,286.4 61.8,288.7 64.6,291.2 67.4,294.0 70.2,297.1 73.0,300.4 75.8,304.0 78.6,307.9 81.4,311.9 84.3,316.1 87.1,320.4 89.9,324.7 92.7,329.0 95.5,333.2 98.3,337.2 101.1,341.1 103.9,344.8 106.7,348.2 109.5,351.4 112.3,354.3 115.1,356.9 117.9,359.2 120.7,361.3 123.6,363.1 126.4,364.8 129.2,366.2 132.0,367.4 134.8,368.5 137.6,369.4 140.4,370.2 143.2,370.9 146.0,371.5 148.8,372.0 151.6,372.4 154.4,372.7 157.2,373.0 160.0,373.3 162.8,373.5 165.7,373.7 168.5,373.9 171.3,374.0 174.1,374.1 176.9,374.2 179.7,374.3 182.5,374.4 185.3,374.5 188.1,374.5 190.9,374.5 193.7,374.6 196.5,374.6 199.3,374.6 202.1,374.7 205.0,374.7 207.8,374.7 210.6,374.7 213.4,374.7 216.2,374.7 219.0,374.7 221.8,374.7 224.6,374.8" fill="none" stroke="#000" stroke-width="2.3" stroke-linejoin="round"/>
<polyline points="56.2,268.7 59.0,268.7 61.8,268.7 64.6,268.7 67.4,268.7 70.2,268.7 73.0,268.7 75.8,268.7 78.6,268.7 81.4,268.7 84.3,268.7 87.1,268.7 89.9,268.7 92.7,268.7 95.5,268.7 98.3,268.8 101.1,268.8 103.9,268.9 106.7,269.1 109.5,269.4 112.3,269.7 115.1,270.3 117.9,271.2 120.7,272.6 123.6,274.6 126.4,277.6 129.2,281.9 132.0,287.9 134.8,295.8 137.6,305.6 140.4,316.8 143.2,328.4 146.0,339.5 148.8,349.2 151.6,356.9 154.4,362.8 157.2,367.0 160.0,369.9 162.8,371.9 165.7,373.2 168.5,374.1 171.3,374.6 174.1,375.0 176.9,375.3 179.7,375.4 182.5,375.5 185.3,375.6 188.1,375.6 190.9,375.6 193.7,375.7 196.5,375.7 199.3,375.7 202.1,375.7 205.0,375.7 207.8,375.7 210.6,375.7 213.4,375.7 216.2,375.7 219.0,375.7 221.8,375.7 224.6,375.7" fill="none" stroke="#000" stroke-width="2.3" stroke-linejoin="round"/>
<polyline points="56.2,262.8 59.0,262.8 61.8,262.8 64.6,262.8 67.4,262.8 70.2,262.8 73.0,262.8 75.8,262.8 78.6,262.9 81.4,262.9 84.3,262.9 87.1,262.9 89.9,262.9 92.7,262.9 95.5,263.0 98.3,263.0 101.1,263.1 103.9,263.2 106.7,263.4 109.5,263.7 112.3,264.1 115.1,264.6 117.9,265.5 120.7,266.7 123.6,268.5 126.4,271.0 129.2,274.5 132.0,279.2 134.8,285.4 137.6,293.2 140.4,302.3 143.2,312.4 146.0,322.7 148.8,332.4 151.6,340.9 154.4,347.9 157.2,353.5 160.0,357.6 162.8,360.6 165.7,362.7 168.5,364.2 171.3,365.2 174.1,365.9 176.9,366.4 179.7,366.8 182.5,367.0 185.3,367.1 188.1,367.2 190.9,367.3 193.7,367.3 196.5,367.4 199.3,367.4 202.1,367.4 205.0,367.4 207.8,367.4 210.6,367.4 213.4,367.4 216.2,367.4 219.0,367.4 221.8,367.4 224.6,367.4" fill="none" stroke="#000" stroke-width="2.3" stroke-linejoin="round"/>
<polyline points="56.2,271.6 59.0,271.6 61.8,271.6 64.6,271.6 67.4,271.6 70.2,271.6 73.0,271.6 75.8,271.6 78.6,271.6 81.4,271.6 84.3,271.6 87.1,271.6 89.9,271.6 92.7,271.6 95.5,271.6 98.3,271.6 101.1,271.6 103.9,271.6 106.7,271.7 109.5,271.7 112.3,271.8 115.1,271.9 117.9,272.1 120.7,272.5 123.6,273.2 126.4,274.4 129.2,276.4 132.0,279.9 134.8,285.5 137.6,294.1 140.4,306.1 143.2,320.9 146.0,336.6 148.8,350.7 151.6,361.7 154.4,369.4 157.2,374.3 160.0,377.3 162.8,379.0 165.7,380.0 168.5,380.6 171.3,380.9 174.1,381.1 176.9,381.2 179.7,381.3 182.5,381.3 185.3,381.3 188.1,381.3 190.9,381.4 193.7,381.4 196.5,381.4 199.3,381.4 202.1,381.4 205.0,381.4 207.8,381.4 210.6,381.4 213.4,381.4 216.2,381.4 219.0,381.4 221.8,381.4 224.6,381.4" fill="none" stroke="#000" stroke-width="2.3" stroke-linejoin="round"/>
<polyline points="56.2,265.8 59.0,265.8 61.8,265.8 64.6,265.8 67.4,265.8 70.2,265.8 73.0,265.8 75.8,265.8 78.6,265.8 81.4,265.8 84.3,265.8 87.1,265.8 89.9,265.8 92.7,265.8 95.5,265.8 98.3,265.8 101.1,265.8 103.9,265.8 106.7,265.9 109.5,265.9 112.3,266.0 115.1,266.2 117.9,266.5 120.7,267.0 123.6,267.9 126.4,269.5 129.2,272.0 132.0,276.1 134.8,282.4 137.6,291.5 140.4,303.4 143.2,317.3 146.0,331.1 148.8,343.1 151.6,352.3 154.4,358.7 157.2,362.9 160.0,365.4 162.8,367.0 165.7,367.9 168.5,368.4 171.3,368.7 174.1,368.9 176.9,369.0 179.7,369.1 182.5,369.1 185.3,369.1 188.1,369.2 190.9,369.2 193.7,369.2 196.5,369.2 199.3,369.2 202.1,369.2 205.0,369.2 207.8,369.2 210.6,369.2 213.4,369.2 216.2,369.2 219.0,369.2 221.8,369.2 224.6,369.2" fill="none" stroke="#000" stroke-width="2.3" stroke-linejoin="round"/>
<polyline points="56.2,262.4 59.0,262.4 61.8,262.4 64.6,262.4 67.4,262.4 70.2,262.4 73.0,262.4 75.8,262.4 78.6,262.4 81.4,262.4 84.3,262.4 87.1,262.4 89.9,262.4 92.7,262.4 95.5,262.4 98.3,262.4 101.1,262.5 103.9,262.5 106.7,262.5 109.5,262.6 112.3,262.8 115.1,262.9 117.9,263.2 120.7,263.6 123.6,264.1 126.4,264.9 129.2,266.0 132.0,267.6 134.8,269.9 137.6,273.1 140.4,277.5 143.2,283.3 146.0,290.7 148.8,299.7 151.6,310.1 154.4,321.3 157.2,332.4 160.0,342.9 162.8,352.0 165.7,359.5 168.5,365.4 171.3,369.8 174.1,373.1 176.9,375.4 179.7,377.1 182.5,378.2 185.3,379.0 188.1,379.6 190.9,380.0 193.7,380.2 196.5,380.4 199.3,380.5 202.1,380.6 205.0,380.7 207.8,380.7 210.6,380.7 213.4,380.7 216.2,380.8 219.0,380.8 221.8,380.8 224.6,380.8" fill="none" stroke="#000" stroke-width="2.3" stroke-linejoin="round"/>
<polyline points="56.2,257.6 59.0,257.6 61.8,257.6 64.6,257.6 67.4,257.6 70.2,257.6 73.0,257.6 75.8,257.6 78.6,257.6 81.4,257.6 84.3,257.6 87.1,257.7 89.9,257.7 92.7,257.7 95.5,257.7 98.3,257.7 101.1,257.8 103.9,257.8 106.7,257.9 109.5,258.0 112.3,258.2 115.1,258.5 117.9,258.8 120.7,259.3 123.6,260.1 126.4,261.1 129.2,262.6 132.0,264.6 134.8,267.4 137.6,271.2 140.4,276.2 143.2,282.5 146.0,290.2 148.8,299.2 151.6,309.0 154.4,319.0 157.2,328.5 160.0,337.2 162.8,344.5 165.7,350.4 168.5,355.0 171.3,358.5 174.1,361.1 176.9,362.9 179.7,364.2 182.5,365.2 185.3,365.8 188.1,366.3 190.9,366.6 193.7,366.9 196.5,367.0 199.3,367.1 202.1,367.2 205.0,367.2 207.8,367.3 210.6,367.3 213.4,367.3 216.2,367.3 219.0,367.3 221.8,367.4 224.6,367.4" fill="none" stroke="#000" stroke-width="2.3" stroke-linejoin="round"/>
<polyline points="56.2,261.5 59.0,261.5 61.8,261.5 64.6,261.5 67.4,261.5 70.2,261.5 73.0,261.5 75.8,261.5 78.6,261.5 81.4,261.5 84.3,261.5 87.1,261.5 89.9,261.5 92.7,261.5 95.5,261.5 98.3,261.5 101.1,261.5 103.9,261.5 106.7,261.5 109.5,261.5 112.3,261.5 115.1,261.5 117.9,261.6 120.7,261.6 123.6,261.7 126.4,261.9 129.2,262.2 132.0,262.7 134.8,263.7 137.6,265.4 140.4,268.3 143.2,273.0 146.0,280.5 148.8,291.3 151.6,305.0 154.4,320.0 157.2,334.0 160.0,345.1 162.8,353.0 165.7,358.1 168.5,361.2 171.3,363.0 174.1,364.0 176.9,364.6 179.7,364.9 182.5,365.1 185.3,365.2 188.1,365.3 190.9,365.3 193.7,365.3 196.5,365.3 199.3,365.3 202.1,365.3 205.0,365.3 207.8,365.3 210.6,365.3 213.4,365.3 216.2,365.3 219.0,365.3 221.8,365.3 224.6,365.3" fill="none" stroke="#000" stroke-width="2.3" stroke-linejoin="round"/>
<polyline points="56.2,311.4 59.0,313.4 61.8,315.7 64.6,318.3 67.4,321.0 70.2,324.0 73.0,327.1 75.8,330.4 78.6,333.8 81.4,337.3 84.3,340.7 87.1,344.1 89.9,347.5 92.7,350.6 95.5,353.6 98.3,356.4 101.1,359.0 103.9,361.3 106.7,363.4 109.5,365.3 112.3,366.9 115.1,368.4 117.9,369.7 120.7,370.8 123.6,371.7 126.4,372.5 129.2,373.2 132.0,373.8 134.8,374.3 137.6,374.8 140.4,375.1 143.2,375.4 146.0,375.7 148.8,375.9 151.6,376.1 154.4,376.3 157.2,376.4 160.0,376.5 162.8,376.6 165.7,376.7 168.5,376.8 171.3,376.8 174.1,376.9 176.9,376.9 179.7,376.9 182.5,377.0 185.3,377.0 188.1,377.0 190.9,377.0 193.7,377.0 196.5,377.1 199.3,377.1 202.1,377.1 205.0,377.1 207.8,377.1 210.6,377.1 213.4,377.1 216.2,377.1 219.0,377.1 221.8,377.1 224.6,377.1" fill="none" stroke="#000" stroke-width="2.3" stroke-linejoin="round"/>
<polyline points="56.2,265.1 59.0,265.1 61.8,265.1 64.6,265.1 67.4,265.2 70.2,265.2 73.0,265.3 75.8,265.5 78.6,265.7 81.4,266.0 84.3,266.5 87.1,267.2 89.9,268.3 92.7,269.8 95.5,272.0 98.3,275.1 101.1,279.5 103.9,285.4 106.7,293.0 109.5,302.4 112.3,313.2 115.1,324.7 117.9,336.1 120.7,346.5 123.6,355.4 126.4,362.5 129.2,367.9 132.0,371.9 134.8,374.7 137.6,376.7 140.4,378.1 143.2,379.0 146.0,379.7 148.8,380.1 151.6,380.4 154.4,380.6 157.2,380.7 160.0,380.8 162.8,380.9 165.7,380.9 168.5,380.9 171.3,380.9 174.1,381.0 176.9,381.0 179.7,381.0 182.5,381.0 185.3,381.0 188.1,381.0 190.9,381.0 193.7,381.0 196.5,381.0 199.3,381.0 202.1,381.0 205.0,381.0 207.8,381.0 210.6,381.0 213.4,381.0 216.2,381.0 219.0,381.0 221.8,381.0 224.6,381.0" fill="none" stroke="#000" stroke-width="2.3" stroke-linejoin="round"/>
<polyline points="56.2,262.0 59.0,262.0 61.8,262.0 64.6,262.0 67.4,262.0 70.2,262.0 73.0,262.0 75.8,262.0 78.6,262.0 81.4,262.0 84.3,262.0 87.1,262.0 89.9,262.0 92.7,262.0 95.5,262.0 98.3,262.0 101.1,262.0 103.9,262.0 106.7,262.1 109.5,262.2 112.3,262.4 115.1,262.7 117.9,263.3 120.7,264.4 123.6,266.4 126.4,269.8 129.2,275.6 132.0,284.7 134.8,297.6 137.6,313.6 140.4,330.2 143.2,344.7 146.0,355.5 148.8,362.6 151.6,367.0 154.4,369.5 157.2,371.0 160.0,371.8 162.8,372.2 165.7,372.5 168.5,372.6 171.3,372.7 174.1,372.7 176.9,372.7 179.7,372.7 182.5,372.7 185.3,372.7 188.1,372.7 190.9,372.7 193.7,372.7 196.5,372.7 199.3,372.7 202.1,372.7 205.0,372.7 207.8,372.7 210.6,372.7 213.4,372.7 216.2,372.7 219.0,372.7 221.8,372.7 224.6,372.7" fill="none" stroke="#000" stroke-width="2.3" stroke-linejoin="round"/>
<polyline points="56.2,271.5 59.0,271.5 61.8,271.5 64.6,271.5 67.4,271.5 70.2,271.5 73.0,271.5 75.8,271.5 78.6,271.5 81.4,271.5 84.3,271.5 87.1,271.5 89.9,271.5 92.7,271.6 95.5,271.6 98.3,271.7 101.1,271.8 103.9,272.0 106.7,272.3 109.5,272.7 112.3,273.4 115.1,274.5 117.9,276.1 120.7,278.5 123.6,282.1 126.4,287.2 129.2,294.3 132.0,303.4 134.8,314.2 137.6,326.1 140.4,337.8 143.2,348.3 146.0,357.0 148.8,363.6 151.6,368.3 154.4,371.6 157.2,373.8 160.0,375.3 162.8,376.2 165.7,376.9 168.5,377.3 171.3,377.5 174.1,377.7 176.9,377.8 179.7,377.8 182.5,377.9 185.3,377.9 188.1,377.9 190.9,377.9 193.7,378.0 196.5,378.0 199.3,378.0 202.1,378.0 205.0,378.0 207.8,378.0 210.6,378.0 213.4,378.0 216.2,378.0 219.0,378.0 221.8,378.0 224.6,378.0" fill="none" stroke="#000" stroke-width="2.3" stroke-linejoin="round"/>
<polyline points="56.2,258.3 59.0,258.3 61.8,258.3 64.6,258.3 67.4,258.3 70.2,258.3 73.0,258.3 75.8,258.3 78.6,258.3 81.4,258.3 84.3,258.3 87.1,258.3 89.9,258.3 92.7,258.3 95.5,258.3 98.3,258.3 101.1,258.3 103.9,258.4 106.7,258.4 109.5,258.4 112.3,258.5 115.1,258.7 117.9,259.0 120.7,259.5 123.6,260.4 126.4,261.9 129.2,264.4 132.0,268.5 134.8,275.0 137.6,284.4 140.4,297.0 143.2,311.6 146.0,326.2 148.8,338.9 151.6,348.5 154.4,355.1 157.2,359.3 160.0,361.8 162.8,363.4 165.7,364.2 168.5,364.8 171.3,365.1 174.1,365.2 176.9,365.3 179.7,365.4 182.5,365.4 185.3,365.4 188.1,365.4 190.9,365.4 193.7,365.5 196.5,365.5 199.3,365.5 202.1,365.5 205.0,365.5 207.8,365.5 210.6,365.5 213.4,365.5 216.2,365.5 219.0,365.5 221.8,365.5 224.6,365.5" fill="none" stroke="#000" stroke-width="2.3" stroke-linejoin="round"/>
<polyline points="56.2,270.7 59.0,270.7 61.8,270.7 64.6,270.7 67.4,270.7 70.2,270.7 73.0,270.7 75.8,270.7 78.6,270.7 81.4,270.7 84.3,270.7 87.1,270.7 89.9,270.7 92.7,270.7 95.5,270.7 98.3,270.7 101.1,270.7 103.9,270.7 106.7,270.8 109.5,270.8 112.3,270.9 115.1,271.0 117.9,271.1 120.7,271.5 123.6,272.1 126.4,273.2 129.2,275.2 132.0,278.5 134.8,284.1 137.6,292.8 140.4,305.2 143.2,320.3 146.0,336.2 148.8,350.3 151.6,360.9 154.4,368.0 157.2,372.4 160.0,375.0 162.8,376.5 165.7,377.3 168.5,377.8 171.3,378.1 174.1,378.2 176.9,378.3 179.7,378.3 182.5,378.4 185.3,378.4 188.1,378.4 190.9,378.4 193.7,378.4 196.5,378.4 199.3,378.4 202.1,378.4 205.0,378.4 207.8,378.4 210.6,378.4 213.4,378.4 216.2,378.4 219.0,378.4 221.8,378.4 224.6,378.4" fill="none" stroke="#000" stroke-width="2.3" stroke-linejoin="round"/>
<polyline points="56.2,263.0 59.0,263.0 61.8,263.0 64.6,263.0 67.4,263.0 70.2,263.0 73.0,263.0 75.8,263.0 78.6,263.0 81.4,263.0 84.3,263.1 87.1,263.1 89.9,263.1 92.7,263.1 95.5,263.1 98.3,263.2 101.1,263.2 103.9,263.3 106.7,263.4 109.5,263.6 112.3,263.8 115.1,264.2 117.9,264.6 120.7,265.3 123.6,266.2 126.4,267.6 129.2,269.4 132.0,271.9 134.8,275.4 137.6,279.9 140.4,285.7 143.2,293.0 146.0,301.7 148.8,311.5 151.6,321.9 154.4,332.4 157.2,342.2 160.0,350.9 162.8,358.3 165.7,364.2 168.5,368.8 171.3,372.3 174.1,374.8 176.9,376.7 179.7,378.0 182.5,379.0 185.3,379.7 188.1,380.2 190.9,380.5 193.7,380.7 196.5,380.9 199.3,381.0 202.1,381.1 205.0,381.2 207.8,381.2 210.6,381.2 213.4,381.3 216.2,381.3 219.0,381.3 221.8,381.3 224.6,381.3" fill="none" stroke="#000" stroke-width="2.3" stroke-linejoin="round"/>
<polyline points="56.2,266.2 59.0,266.2 61.8,266.2 64.6,266.2 67.4,266.2 70.2,266.2 73.0,266.2 75.8,266.2 78.6,266.2 81.4,266.2 84.3,266.2 87.1,266.2 89.9,266.2 92.7,266.2 95.5,266.2 98.3,266.2 101.1,266.3 103.9,266.3 106.7,266.3 109.5,266.4 112.3,266.6 115.1,266.8 117.9,267.2 120.7,267.9 123.6,269.0 126.4,270.8 129.2,273.7 132.0,278.1 134.8,284.9 137.6,294.3 140.4,306.5 143.2,320.6 146.0,335.0 148.8,347.9 151.6,358.3 154.4,365.8 157.2,370.9 160.0,374.2 162.8,376.3 165.7,377.5 168.5,378.3 171.3,378.8 174.1,379.1 176.9,379.2 179.7,379.3 182.5,379.4 185.3,379.4 188.1,379.5 190.9,379.5 193.7,379.5 196.5,379.5 199.3,379.5 202.1,379.5 205.0,379.5 207.8,379.5 210.6,379.5 213.4,379.5 216.2,379.5 219.0,379.5 221.8,379.5 224.6,379.5" fill="none" stroke="#000" stroke-width="2.3" stroke-linejoin="round"/>
<polyline points="56.2,299.5 59.0,300.6 61.8,301.9 64.6,303.4 67.4,305.1 70.2,307.0 73.0,309.2 75.8,311.6 78.6,314.3 81.4,317.2 84.3,320.2 87.1,323.5 89.9,326.8 92.7,330.2 95.5,333.6 98.3,337.0 101.1,340.2 103.9,343.2 106.7,346.1 109.5,348.7 112.3,351.1 115.1,353.2 117.9,355.1 120.7,356.7 123.6,358.2 126.4,359.4 129.2,360.5 132.0,361.4 134.8,362.2 137.6,362.9 140.4,363.4 143.2,363.9 146.0,364.3 148.8,364.6 151.6,364.9 154.4,365.1 157.2,365.3 160.0,365.5 162.8,365.6 165.7,365.7 168.5,365.8 171.3,365.9 174.1,365.9 176.9,366.0 179.7,366.0 182.5,366.1 185.3,366.1 188.1,366.1 190.9,366.1 193.7,366.1 196.5,366.2 199.3,366.2 202.1,366.2 205.0,366.2 207.8,366.2 210.6,366.2 213.4,366.2 216.2,366.2 219.0,366.2 221.8,366.2 224.6,366.2" fill="none" stroke="#000" stroke-width="2.3" stroke-linejoin="round"/>
<polyline points="56.2,270.2 59.0,270.2 61.8,270.2 64.6,270.2 67.4,270.2 70.2,270.2 73.0,270.2 75.8,270.2 78.6,270.2 81.4,270.2 84.3,270.2 87.1,270.2 89.9,270.2 92.7,270.2 95.5,270.2 98.3,270.2 101.1,270.2 103.9,270.2 106.7,270.2 109.5,270.2 112.3,270.3 115.1,270.3 117.9,270.4 120.7,270.5 123.6,270.8 126.4,271.2 129.2,271.8 132.0,272.9 134.8,274.8 137.6,277.7 140.4,282.4 143.2,289.3 146.0,298.9 148.8,311.1 151.6,324.6 154.4,337.9 157.2,349.2 160.0,357.8 162.8,363.9 165.7,367.8 168.5,370.3 171.3,371.8 174.1,372.8 176.9,373.3 179.7,373.6 182.5,373.8 185.3,374.0 188.1,374.0 190.9,374.1 193.7,374.1 196.5,374.1 199.3,374.1 202.1,374.1 205.0,374.1 207.8,374.1 210.6,374.1 213.4,374.1 216.2,374.1 219.0,374.1 221.8,374.1 224.6,374.1" fill="none" stroke="#000" stroke-width="2.3" stroke-linejoin="round"/>
<polyline points="56.2,271.5 59.0,274.3 61.8,277.4 64.6,280.7 67.4,284.1 70.2,287.8 73.0,291.6 75.8,295.5 78.6,299.6 81.4,303.8 84.3,308.1 87.1,312.4 89.9,316.7 92.7,321.0 95.5,325.2 98.3,329.4 101.1,333.4 103.9,337.4 106.7,341.1 109.5,344.7 112.3,348.1 115.1,351.4 117.9,354.4 120.7,357.2 123.6,359.8 126.4,362.3 129.2,364.5 132.0,366.5 134.8,368.4 137.6,370.1 140.4,371.7 143.2,373.1 146.0,374.4 148.8,375.5 151.6,376.5 154.4,377.5 157.2,378.3 160.0,379.0 162.8,379.7 165.7,380.3 168.5,380.8 171.3,381.3 174.1,381.7 176.9,382.1 179.7,382.5 182.5,382.8 185.3,383.0 188.1,383.3 190.9,383.5 193.7,383.7 196.5,383.8 199.3,384.0 202.1,384.1 205.0,384.2 207.8,384.3 210.6,384.4 213.4,384.5 216.2,384.6 219.0,384.6 221.8,384.7 224.6,384.7" fill="none" stroke="#000" stroke-width="2.3" stroke-linejoin="round"/>
<polyline points="56.2,259.3 59.0,259.3 61.8,259.3 64.6,259.3 67.4,259.3 70.2,259.3 73.0,259.3 75.8,259.3 78.6,259.3 81.4,259.3 84.3,259.3 87.1,259.3 89.9,259.3 92.7,259.3 95.5,259.3 98.3,259.3 101.1,259.3 103.9,259.3 106.7,259.3 109.5,259.3 112.3,259.4 115.1,259.4 117.9,259.4 120.7,259.4 123.6,259.5 126.4,259.6 129.2,259.7 132.0,260.0 134.8,260.6 137.6,261.6 140.4,263.4 143.2,266.5 146.0,271.6 148.8,279.6 151.6,291.3 154.4,306.1 157.2,322.2 160.0,336.9 162.8,348.5 165.7,356.5 168.5,361.6 171.3,364.7 174.1,366.4 176.9,367.4 179.7,368.0 182.5,368.3 185.3,368.5 188.1,368.6 190.9,368.6 193.7,368.7 196.5,368.7 199.3,368.7 202.1,368.7 205.0,368.7 207.8,368.7 210.6,368.7 213.4,368.7 216.2,368.7 219.0,368.7 221.8,368.7 224.6,368.7" fill="none" stroke="#000" stroke-width="2.3" stroke-linejoin="round"/>
<polyline points="56.2,261.3 59.0,261.3 61.8,261.3 64.6,261.3 67.4,261.3 70.2,261.4 73.0,261.4 75.8,261.5 78.6,261.6 81.4,261.7 84.3,261.9 87.1,262.2 89.9,262.6 92.7,263.1 95.5,263.7 98.3,264.7 101.1,265.9 103.9,267.6 106.7,269.9 109.5,272.8 112.3,276.7 115.1,281.6 117.9,287.6 120.7,294.8 123.6,303.1 126.4,312.1 129.2,321.6 132.0,331.0 134.8,339.8 137.6,347.7 140.4,354.4 143.2,360.0 146.0,364.5 148.8,368.0 151.6,370.7 154.4,372.8 157.2,374.3 160.0,375.4 162.8,376.2 165.7,376.8 168.5,377.3 171.3,377.6 174.1,377.8 176.9,378.0 179.7,378.1 182.5,378.2 185.3,378.3 188.1,378.3 190.9,378.3 193.7,378.4 196.5,378.4 199.3,378.4 202.1,378.4 205.0,378.4 207.8,378.4 210.6,378.4 213.4,378.4 216.2,378.4 219.0,378.4 221.8,378.4 224.6,378.4" fill="none" stroke="#000" stroke-width="2.3" stroke-linejoin="round"/>
<polyline points="56.2,247.8 59.0,247.8 61.8,247.8 64.6,247.9 67.4,247.9 70.2,247.9 73.0,248.0 75.8,248.1 78.6,248.2 81.4,248.4 84.3,248.6 87.1,248.9 89.9,249.4 92.7,249.9 95.5,250.7 98.3,251.7 101.1,253.1 103.9,255.0 106.7,257.4 109.5,260.5 112.3,264.6 115.1,269.7 117.9,276.0 120.7,283.4 123.6,292.0 126.4,301.5 129.2,311.5 132.0,321.6 134.8,331.3 137.6,340.1 140.4,348.0 143.2,354.6 146.0,360.0 148.8,364.3 151.6,367.7 154.4,370.4 157.2,372.4 160.0,373.9 162.8,375.0 165.7,375.8 168.5,376.5 171.3,376.9 174.1,377.3 176.9,377.5 179.7,377.7 182.5,377.8 185.3,377.9 188.1,378.0 190.9,378.1 193.7,378.1 196.5,378.1 199.3,378.1 202.1,378.2 205.0,378.2 207.8,378.2 210.6,378.2 213.4,378.2 216.2,378.2 219.0,378.2 221.8,378.2 224.6,378.2" fill="none" stroke="#000" stroke-width="2.3" stroke-linejoin="round"/>
<polyline points="56.2,267.4 59.0,267.4 61.8,267.4 64.6,267.4 67.4,267.4 70.2,267.4 73.0,267.4 75.8,267.4 78.6,267.4 81.4,267.4 84.3,267.4 87.1,267.4 89.9,267.4 92.7,267.4 95.5,267.4 98.3,267.4 101.1,267.4 103.9,267.5 106.7,267.5 109.5,267.6 112.3,267.7 115.1,267.9 117.9,268.3 120.7,269.1 123.6,270.5 126.4,272.9 129.2,277.0 132.0,283.9 134.8,294.3 137.6,308.5 140.4,325.3 143.2,341.9 146.0,355.7 148.8,365.6 151.6,372.1 154.4,375.9 157.2,378.2 160.0,379.4 162.8,380.1 165.7,380.5 168.5,380.7 171.3,380.9 174.1,380.9 176.9,381.0 179.7,381.0 182.5,381.0 185.3,381.0 188.1,381.0 190.9,381.0 193.7,381.0 196.5,381.0 199.3,381.0 202.1,381.0 205.0,381.0 207.8,381.0 210.6,381.0 213.4,381.0 216.2,381.0 219.0,381.0 221.8,381.0 224.6,381.0" fill="none" stroke="#000" stroke-width="2.3" stroke-linejoin="round"/>
<polyline points="56.2,289.8 59.0,290.0 61.8,290.1 64.6,290.4 67.4,290.6 70.2,291.0 73.0,291.4 75.8,291.8 78.6,292.4 81.4,293.1 84.3,294.0 87.1,295.0 89.9,296.2 92.7,297.6 95.5,299.3 98.3,301.2 101.1,303.5 103.9,306.1 106.7,309.0 109.5,312.3 112.3,316.0 115.1,319.9 117.9,324.2 120.7,328.6 123.6,333.2 126.4,337.8 129.2,342.3 132.0,346.7 134.8,350.9 137.6,354.8 140.4,358.4 143.2,361.6 146.0,364.5 148.8,367.1 151.6,369.3 154.4,371.2 157.2,372.9 160.0,374.2 162.8,375.4 165.7,376.4 168.5,377.2 171.3,377.9 174.1,378.5 176.9,378.9 179.7,379.3 182.5,379.6 185.3,379.9 188.1,380.1 190.9,380.3 193.7,380.5 196.5,380.6 199.3,380.7 202.1,380.8 205.0,380.8 207.8,380.9 210.6,380.9 213.4,381.0 216.2,381.0 219.0,381.0 221.8,381.0 224.6,381.1" fill="none" stroke="#000" stroke-width="2.3" stroke-linejoin="round"/>
<polyline points="56.2,348.0 59.0,349.3 61.8,350.6 64.6,351.9 67.4,353.3 70.2,354.8 73.0,356.2 75.8,357.6 78.6,359.1 81.4,360.5 84.3,361.8 87.1,363.1 89.9,364.3 92.7,365.5 95.5,366.6 98.3,367.6 101.1,368.5 103.9,369.4 106.7,370.1 109.5,370.8 112.3,371.5 115.1,372.1 117.9,372.6 120.7,373.0 123.6,373.4 126.4,373.8 129.2,374.1 132.0,374.4 134.8,374.6 137.6,374.8 140.4,375.0 143.2,375.2 146.0,375.3 148.8,375.5 151.6,375.6 154.4,375.7 157.2,375.8 160.0,375.8 162.8,375.9 165.7,376.0 168.5,376.0 171.3,376.0 174.1,376.1 176.9,376.1 179.7,376.1 182.5,376.2 185.3,376.2 188.1,376.2 190.9,376.2 193.7,376.2 196.5,376.3 199.3,376.3 202.1,376.3 205.0,376.3 207.8,376.3 210.6,376.3 213.4,376.3 216.2,376.3 219.0,376.3 221.8,376.3 224.6,376.3" fill="none" stroke="#000" stroke-width="2.3" stroke-linejoin="round"/>
<polyline points="56.2,272.1 59.0,272.1 61.8,272.1 64.6,272.1 67.4,272.1 70.2,272.1 73.0,272.1 75.8,272.1 78.6,272.1 81.4,272.1 84.3,272.1 87.1,272.1 89.9,272.1 92.7,272.1 95.5,272.1 98.3,272.1 101.1,272.1 103.9,272.1 106.7,272.2 109.5,272.3 112.3,272.5 115.1,272.8 117.9,273.5 120.7,274.7 123.6,276.8 126.4,280.5 129.2,286.6 132.0,295.8 134.8,308.4 137.6,322.7 140.4,336.4 143.2,347.3 146.0,354.9 148.8,359.7 151.6,362.5 154.4,364.0 157.2,364.9 160.0,365.4 162.8,365.6 165.7,365.8 168.5,365.8 171.3,365.9 174.1,365.9 176.9,365.9 179.7,365.9 182.5,365.9 185.3,365.9 188.1,365.9 190.9,365.9 193.7,365.9 196.5,365.9 199.3,365.9 202.1,365.9 205.0,365.9 207.8,365.9 210.6,365.9 213.4,365.9 216.2,365.9 219.0,365.9 221.8,365.9 224.6,365.9" fill="none" stroke="#000" stroke-width="2.3" stroke-linejoin="round"/>
<polyline points="56.2,281.2 59.0,281.6 61.8,282.1 64.6,282.6 67.4,283.3 70.2,284.0 73.0,284.8 75.8,285.7 78.6,286.8 81.4,288.0 84.3,289.4 87.1,290.9 89.9,292.6 92.7,294.5 95.5,296.6 98.3,298.9 101.1,301.4 103.9,304.2 106.7,307.1 109.5,310.2 112.3,313.4 115.1,316.8 117.9,320.3 120.7,323.8 123.6,327.4 126.4,331.0 129.2,334.5 132.0,338.0 134.8,341.3 137.6,344.4 140.4,347.4 143.2,350.2 146.0,352.8 148.8,355.2 151.6,357.4 154.4,359.4 157.2,361.2 160.0,362.8 162.8,364.2 165.7,365.5 168.5,366.6 171.3,367.6 174.1,368.4 176.9,369.2 179.7,369.9 182.5,370.5 185.3,371.0 188.1,371.4 190.9,371.8 193.7,372.1 196.5,372.4 199.3,372.7 202.1,372.9 205.0,373.1 207.8,373.2 210.6,373.4 213.4,373.5 216.2,373.6 219.0,373.7 221.8,373.8 224.6,373.8" fill="none" stroke="#000" stroke-width="2.3" stroke-linejoin="round"/>
<polyline points="56.2,260.3 59.0,260.3 61.8,260.3 64.6,260.3 67.4,260.3 70.2,260.3 73.0,260.3 75.8,260.3 78.6,260.3 81.4,260.3 84.3,260.3 87.1,260.3 89.9,260.3 92.7,260.3 95.5,260.3 98.3,260.3 101.1,260.4 103.9,260.4 106.7,260.5 109.5,260.7 112.3,261.0 115.1,261.5 117.9,262.2 120.7,263.5 123.6,265.6 126.4,269.0 129.2,274.3 132.0,282.1 134.8,292.9 137.6,306.6 140.4,322.0 143.2,337.3 146.0,350.6 148.8,360.9 151.6,368.3 154.4,373.2 157.2,376.4 160.0,378.3 162.8,379.5 165.7,380.2 168.5,380.7 171.3,380.9 174.1,381.1 176.9,381.2 179.7,381.2 182.5,381.3 185.3,381.3 188.1,381.3 190.9,381.3 193.7,381.3 196.5,381.3 199.3,381.3 202.1,381.3 205.0,381.3 207.8,381.3 210.6,381.3 213.4,381.3 216.2,381.3 219.0,381.3 221.8,381.3 224.6,381.3" fill="none" stroke="#000" stroke-width="2.3" stroke-linejoin="round"/>
<polyline points="56.2,272.2 59.0,272.2 61.8,272.2 64.6,272.3 67.4,272.3 70.2,272.3 73.0,272.3 75.8,272.3 78.6,272.3 81.4,272.3 84.3,272.3 87.1,272.4 89.9,272.5 92.7,272.6 95.5,272.7 98.3,272.9 101.1,273.2 103.9,273.7 106.7,274.4 109.5,275.4 112.3,276.8 115.1,278.9 117.9,281.7 120.7,285.7 123.6,290.9 126.4,297.6 129.2,305.6 132.0,314.8 134.8,324.6 137.6,334.2 140.4,343.0 143.2,350.5 146.0,356.6 148.8,361.3 151.6,364.7 154.4,367.2 157.2,369.0 160.0,370.3 162.8,371.1 165.7,371.7 168.5,372.1 171.3,372.4 174.1,372.6 176.9,372.7 179.7,372.8 182.5,372.8 185.3,372.9 188.1,372.9 190.9,372.9 193.7,372.9 196.5,372.9 199.3,372.9 202.1,372.9 205.0,372.9 207.8,372.9 210.6,372.9 213.4,372.9 216.2,372.9 219.0,372.9 221.8,372.9 224.6,372.9" fill="none" stroke="#000" stroke-width="2.3" stroke-linejoin="round"/>
<polyline points="56.2,292.0 59.0,292.3 61.8,292.7 64.6,293.1 67.4,293.6 70.2,294.2 73.0,294.9 75.8,295.7 78.6,296.7 81.4,297.8 84.3,299.1 87.1,300.6 89.9,302.2 92.7,304.1 95.5,306.3 98.3,308.6 101.1,311.3 103.9,314.2 106.7,317.3 109.5,320.7 112.3,324.2 115.1,327.9 117.9,331.8 120.7,335.6 123.6,339.5 126.4,343.3 129.2,347.1 132.0,350.6 134.8,354.0 137.6,357.1 140.4,360.1 143.2,362.7 146.0,365.1 148.8,367.2 151.6,369.2 154.4,370.8 157.2,372.3 160.0,373.6 162.8,374.7 165.7,375.7 168.5,376.5 171.3,377.2 174.1,377.8 176.9,378.4 179.7,378.8 182.5,379.2 185.3,379.5 188.1,379.8 190.9,380.0 193.7,380.2 196.5,380.4 199.3,380.5 202.1,380.6 205.0,380.7 207.8,380.8 210.6,380.9 213.4,380.9 216.2,381.0 219.0,381.0 221.8,381.1 224.6,381.1" fill="none" stroke="#000" stroke-width="2.3" stroke-linejoin="round"/>
<polyline points="56.2,274.7 59.0,279.3 61.8,284.2 64.6,289.4 67.4,294.8 70.2,300.4 73.0,306.2 75.8,312.0 78.6,317.7 81.4,323.4 84.3,328.9 87.1,334.2 89.9,339.2 92.7,344.0 95.5,348.4 98.3,352.5 101.1,356.2 103.9,359.5 106.7,362.6 109.5,365.3 112.3,367.7 115.1,369.8 117.9,371.7 120.7,373.4 123.6,374.8 126.4,376.1 129.2,377.2 132.0,378.1 134.8,378.9 137.6,379.6 140.4,380.2 143.2,380.8 146.0,381.2 148.8,381.6 151.6,381.9 154.4,382.2 157.2,382.5 160.0,382.7 162.8,382.8 165.7,383.0 168.5,383.1 171.3,383.2 174.1,383.3 176.9,383.4 179.7,383.5 182.5,383.6 185.3,383.6 188.1,383.6 190.9,383.7 193.7,383.7 196.5,383.7 199.3,383.8 202.1,383.8 205.0,383.8 207.8,383.8 210.6,383.8 213.4,383.8 216.2,383.9 219.0,383.9 221.8,383.9 224.6,383.9" fill="none" stroke="#000" stroke-width="2.3" stroke-linejoin="round"/>
<polyline points="56.2,268.5 59.0,268.5 61.8,268.5 64.6,268.6 67.4,268.6 70.2,268.6 73.0,268.7 75.8,268.8 78.6,268.9 81.4,269.0 84.3,269.1 87.1,269.3 89.9,269.6 92.7,269.9 95.5,270.3 98.3,270.8 101.1,271.5 103.9,272.4 106.7,273.4 109.5,274.8 112.3,276.4 115.1,278.5 117.9,281.0 120.7,284.1 123.6,287.8 126.4,292.0 129.2,297.0 132.0,302.4 134.8,308.4 137.6,314.8 140.4,321.3 143.2,327.8 146.0,334.0 148.8,339.9 151.6,345.3 154.4,350.0 157.2,354.1 160.0,357.6 162.8,360.5 165.7,362.9 168.5,364.9 171.3,366.4 174.1,367.7 176.9,368.7 179.7,369.5 182.5,370.1 185.3,370.6 188.1,371.0 190.9,371.3 193.7,371.5 196.5,371.7 199.3,371.9 202.1,372.0 205.0,372.1 207.8,372.1 210.6,372.2 213.4,372.2 216.2,372.3 219.0,372.3 221.8,372.3 224.6,372.3" fill="none" stroke="#858585" stroke-width="2.8" stroke-linejoin="round"/>
<polyline points="56.2,297.4 59.0,300.5 61.8,303.9 64.6,307.5 67.4,311.2 70.2,315.1 73.0,319.1 75.8,323.0 78.6,327.0 81.4,331.0 84.3,334.9 87.1,338.6 89.9,342.2 92.7,345.5 95.5,348.7 98.3,351.7 101.1,354.4 103.9,356.9 106.7,359.1 109.5,361.2 112.3,363.0 115.1,364.7 117.9,366.1 120.7,367.4 123.6,368.5 126.4,369.5 129.2,370.4 132.0,371.2 134.8,371.8 137.6,372.4 140.4,372.9 143.2,373.4 146.0,373.7 148.8,374.1 151.6,374.4 154.4,374.6 157.2,374.8 160.0,375.0 162.8,375.2 165.7,375.3 168.5,375.4 171.3,375.5 174.1,375.6 176.9,375.7 179.7,375.7 182.5,375.8 185.3,375.8 188.1,375.9 190.9,375.9 193.7,376.0 196.5,376.0 199.3,376.0 202.1,376.0 205.0,376.0 207.8,376.1 210.6,376.1 213.4,376.1 216.2,376.1 219.0,376.1 221.8,376.1 224.6,376.1" fill="none" stroke="#858585" stroke-width="2.8" stroke-linejoin="round"/>
<polyline points="56.2,264.2 59.0,264.2 61.8,264.2 64.6,264.2 67.4,264.2 70.2,264.2 73.0,264.2 75.8,264.2 78.6,264.2 81.4,264.2 84.3,264.2 87.1,264.2 89.9,264.2 92.7,264.2 95.5,264.2 98.3,264.2 101.1,264.3 103.9,264.3 106.7,264.3 109.5,264.4 112.3,264.5 115.1,264.6 117.9,265.0 120.7,265.6 123.6,266.7 126.4,268.6 129.2,272.0 132.0,277.6 134.8,286.3 137.6,299.0 140.4,314.9 143.2,332.0 146.0,347.5 148.8,359.5 151.6,367.7 154.4,372.9 157.2,375.9 160.0,377.7 162.8,378.7 165.7,379.2 168.5,379.5 171.3,379.7 174.1,379.8 176.9,379.9 179.7,379.9 182.5,379.9 185.3,379.9 188.1,379.9 190.9,379.9 193.7,379.9 196.5,379.9 199.3,379.9 202.1,379.9 205.0,379.9 207.8,379.9 210.6,379.9 213.4,379.9 216.2,379.9 219.0,379.9 221.8,379.9 224.6,379.9" fill="none" stroke="#858585" stroke-width="2.8" stroke-linejoin="round"/>
<polyline points="56.2,265.7 59.0,265.7 61.8,265.7 64.6,265.8 67.4,265.8 70.2,265.9 73.0,265.9 75.8,266.0 78.6,266.1 81.4,266.3 84.3,266.5 87.1,266.7 89.9,267.1 92.7,267.5 95.5,268.1 98.3,268.9 101.1,269.8 103.9,271.1 106.7,272.7 109.5,274.8 112.3,277.4 115.1,280.6 117.9,284.6 120.7,289.3 123.6,294.9 126.4,301.3 129.2,308.4 132.0,316.1 134.8,324.0 137.6,331.9 140.4,339.4 143.2,346.5 146.0,352.8 148.8,358.3 151.6,363.0 154.4,366.9 157.2,370.0 160.0,372.6 162.8,374.6 165.7,376.1 168.5,377.4 171.3,378.3 174.1,379.1 176.9,379.6 179.7,380.1 182.5,380.4 185.3,380.7 188.1,380.9 190.9,381.0 193.7,381.1 196.5,381.2 199.3,381.3 202.1,381.3 205.0,381.4 207.8,381.4 210.6,381.4 213.4,381.4 216.2,381.4 219.0,381.4 221.8,381.5 224.6,381.5" fill="none" stroke="#858585" stroke-width="2.8" stroke-linejoin="round"/>
<polyline points="56.2,283.3 59.0,283.9 61.8,284.5 64.6,285.2 67.4,286.0 70.2,287.0 73.0,288.1 75.8,289.4 78.6,290.9 81.4,292.5 84.3,294.4 87.1,296.6 89.9,299.0 92.7,301.6 95.5,304.5 98.3,307.7 101.1,311.1 103.9,314.7 106.7,318.4 109.5,322.3 112.3,326.3 115.1,330.4 117.9,334.3 120.7,338.3 123.6,342.0 126.4,345.6 129.2,349.0 132.0,352.2 134.8,355.1 137.6,357.7 140.4,360.1 143.2,362.2 146.0,364.1 148.8,365.8 151.6,367.3 154.4,368.6 157.2,369.7 160.0,370.6 162.8,371.5 165.7,372.2 168.5,372.8 171.3,373.3 174.1,373.8 176.9,374.2 179.7,374.5 182.5,374.8 185.3,375.0 188.1,375.2 190.9,375.4 193.7,375.5 196.5,375.6 199.3,375.7 202.1,375.8 205.0,375.9 207.8,376.0 210.6,376.0 213.4,376.1 216.2,376.1 219.0,376.1 221.8,376.2 224.6,376.2" fill="none" stroke="#858585" stroke-width="2.8" stroke-linejoin="round"/>
<polyline points="56.2,253.5 59.0,253.7 61.8,253.8 64.6,254.0 67.4,254.2 70.2,254.6 73.0,255.0 75.8,255.5 78.6,256.2 81.4,257.0 84.3,258.1 87.1,259.5 89.9,261.3 92.7,263.5 95.5,266.2 98.3,269.5 101.1,273.6 103.9,278.4 106.7,283.9 109.5,290.3 112.3,297.3 115.1,304.9 117.9,312.8 120.7,320.7 123.6,328.4 126.4,335.7 129.2,342.4 132.0,348.4 134.8,353.5 137.6,357.9 140.4,361.5 143.2,364.5 146.0,367.0 148.8,368.9 151.6,370.5 154.4,371.7 157.2,372.7 160.0,373.4 162.8,374.0 165.7,374.5 168.5,374.8 171.3,375.1 174.1,375.3 176.9,375.5 179.7,375.6 182.5,375.7 185.3,375.8 188.1,375.8 190.9,375.9 193.7,375.9 196.5,376.0 199.3,376.0 202.1,376.0 205.0,376.0 207.8,376.0 210.6,376.0 213.4,376.0 216.2,376.0 219.0,376.0 221.8,376.0 224.6,376.0" fill="none" stroke="#858585" stroke-width="2.8" stroke-linejoin="round"/>
<polyline points="56.2,266.9 59.0,266.9 61.8,267.0 64.6,267.0 67.4,267.1 70.2,267.1 73.0,267.3 75.8,267.4 78.6,267.6 81.4,267.8 84.3,268.2 87.1,268.6 89.9,269.1 92.7,269.9 95.5,270.8 98.3,272.1 101.1,273.6 103.9,275.7 106.7,278.2 109.5,281.4 112.3,285.3 115.1,290.0 117.9,295.5 120.7,301.8 123.6,308.8 126.4,316.3 129.2,324.0 132.0,331.7 134.8,339.1 137.6,345.9 140.4,352.0 143.2,357.2 146.0,361.6 148.8,365.3 151.6,368.2 154.4,370.6 157.2,372.5 160.0,373.9 162.8,375.1 165.7,375.9 168.5,376.6 171.3,377.1 174.1,377.5 176.9,377.8 179.7,378.0 182.5,378.2 185.3,378.3 188.1,378.4 190.9,378.5 193.7,378.6 196.5,378.6 199.3,378.6 202.1,378.7 205.0,378.7 207.8,378.7 210.6,378.7 213.4,378.7 216.2,378.7 219.0,378.7 221.8,378.7 224.6,378.7" fill="none" stroke="#858585" stroke-width="2.8" stroke-linejoin="round"/>
<polyline points="56.2,294.1 59.0,294.5 61.8,295.0 64.6,295.6 67.4,296.4 70.2,297.2 73.0,298.3 75.8,299.5 78.6,300.9 81.4,302.6 84.3,304.6 87.1,306.9 89.9,309.5 92.7,312.5 95.5,315.8 98.3,319.4 101.1,323.3 103.9,327.5 106.7,331.9 109.5,336.4 112.3,340.9 115.1,345.4 117.9,349.7 120.7,353.8 123.6,357.7 126.4,361.2 129.2,364.4 132.0,367.3 134.8,369.8 137.6,372.0 140.4,373.9 143.2,375.5 146.0,376.9 148.8,378.1 151.6,379.1 154.4,379.9 157.2,380.6 160.0,381.2 162.8,381.6 165.7,382.0 168.5,382.4 171.3,382.6 174.1,382.9 176.9,383.0 179.7,383.2 182.5,383.3 185.3,383.4 188.1,383.5 190.9,383.6 193.7,383.6 196.5,383.7 199.3,383.7 202.1,383.8 205.0,383.8 207.8,383.8 210.6,383.8 213.4,383.8 216.2,383.8 219.0,383.9 221.8,383.9 224.6,383.9" fill="none" stroke="#858585" stroke-width="2.8" stroke-linejoin="round"/>
<polyline points="56.2,278.5 59.0,278.5 61.8,278.5 64.6,278.5 67.4,278.5 70.2,278.6 73.0,278.6 75.8,278.7 78.6,278.8 81.4,279.0 84.3,279.2 87.1,279.6 89.9,280.0 92.7,280.7 95.5,281.7 98.3,283.1 101.1,285.0 103.9,287.6 106.7,291.1 109.5,295.7 112.3,301.5 115.1,308.6 117.9,316.6 120.7,325.4 123.6,334.3 126.4,342.8 129.2,350.3 132.0,356.7 134.8,361.8 137.6,365.8 140.4,368.8 143.2,371.0 146.0,372.6 148.8,373.7 151.6,374.5 154.4,375.1 157.2,375.5 160.0,375.8 162.8,376.0 165.7,376.1 168.5,376.2 171.3,376.2 174.1,376.3 176.9,376.3 179.7,376.3 182.5,376.4 185.3,376.4 188.1,376.4 190.9,376.4 193.7,376.4 196.5,376.4 199.3,376.4 202.1,376.4 205.0,376.4 207.8,376.4 210.6,376.4 213.4,376.4 216.2,376.4 219.0,376.4 221.8,376.4 224.6,376.4" fill="none" stroke="#858585" stroke-width="2.8" stroke-linejoin="round"/>
<polyline points="56.2,270.5 59.0,270.8 61.8,271.3 64.6,271.9 67.4,272.6 70.2,273.5 73.0,274.6 75.8,275.9 78.6,277.5 81.4,279.5 84.3,281.8 87.1,284.6 89.9,287.8 92.7,291.5 95.5,295.7 98.3,300.4 101.1,305.6 103.9,311.2 106.7,317.0 109.5,322.9 112.3,328.9 115.1,334.7 117.9,340.2 120.7,345.3 123.6,350.0 126.4,354.1 129.2,357.8 132.0,360.9 134.8,363.6 137.6,365.9 140.4,367.8 143.2,369.4 146.0,370.6 148.8,371.7 151.6,372.6 154.4,373.3 157.2,373.8 160.0,374.3 162.8,374.7 165.7,375.0 168.5,375.2 171.3,375.4 174.1,375.6 176.9,375.7 179.7,375.8 182.5,375.9 185.3,375.9 188.1,376.0 190.9,376.0 193.7,376.1 196.5,376.1 199.3,376.1 202.1,376.1 205.0,376.1 207.8,376.1 210.6,376.2 213.4,376.2 216.2,376.2 219.0,376.2 221.8,376.2 224.6,376.2" fill="none" stroke="#858585" stroke-width="2.8" stroke-linejoin="round"/>
<polyline points="56.2,276.9 59.0,277.3 61.8,277.8 64.6,278.4 67.4,279.1 70.2,279.9 73.0,280.7 75.8,281.7 78.6,282.8 81.4,284.1 84.3,285.5 87.1,287.0 89.9,288.8 92.7,290.7 95.5,292.8 98.3,295.1 101.1,297.6 103.9,300.3 106.7,303.2 109.5,306.3 112.3,309.6 115.1,313.0 117.9,316.5 120.7,320.1 123.6,323.8 126.4,327.5 129.2,331.2 132.0,334.8 134.8,338.4 137.6,341.8 140.4,345.1 143.2,348.2 146.0,351.1 148.8,353.9 151.6,356.4 154.4,358.7 157.2,360.9 160.0,362.8 162.8,364.6 165.7,366.2 168.5,367.6 171.3,368.8 174.1,370.0 176.9,371.0 179.7,371.8 182.5,372.6 185.3,373.3 188.1,373.9 190.9,374.4 193.7,374.9 196.5,375.3 199.3,375.7 202.1,376.0 205.0,376.2 207.8,376.5 210.6,376.7 213.4,376.9 216.2,377.0 219.0,377.2 221.8,377.3 224.6,377.4" fill="none" stroke="#858585" stroke-width="2.8" stroke-linejoin="round"/>
<line x1="38.40" y1="378.20" x2="224.60" y2="378.20" stroke="#333" stroke-width="1.1" stroke-dasharray="1.2,1"/>
<line x1="37.40" y1="238.30" x2="37.40" y2="389.80" stroke="#000" stroke-width="2" />
<line x1="36.40" y1="388.80" x2="225.60" y2="388.80" stroke="#000" stroke-width="2" />
<line x1="31.90" y1="378.20" x2="37.40" y2="378.20" stroke="#000" stroke-width="2" />
<text x="30.80" y="382.10" font-size="11" text-anchor="end" font-weight="bold" fill="#000" >0.0</text>
<line x1="31.90" y1="356.64" x2="37.40" y2="356.64" stroke="#000" stroke-width="2" />
<text x="30.80" y="360.54" font-size="11" text-anchor="end" font-weight="bold" fill="#000" >0.2</text>
<line x1="31.90" y1="335.08" x2="37.40" y2="335.08" stroke="#000" stroke-width="2" />
<text x="30.80" y="338.98" font-size="11" text-anchor="end" font-weight="bold" fill="#000" >0.4</text>
<line x1="31.90" y1="313.52" x2="37.40" y2="313.52" stroke="#000" stroke-width="2" />
<text x="30.80" y="317.42" font-size="11" text-anchor="end" font-weight="bold" fill="#000" >0.6</text>
<line x1="31.90" y1="291.96" x2="37.40" y2="291.96" stroke="#000" stroke-width="2" />
<text x="30.80" y="295.86" font-size="11" text-anchor="end" font-weight="bold" fill="#000" >0.8</text>
<line x1="31.90" y1="270.40" x2="37.40" y2="270.40" stroke="#000" stroke-width="2" />
<text x="30.80" y="274.30" font-size="11" text-anchor="end" font-weight="bold" fill="#000" >1.0</text>
<line x1="31.90" y1="248.84" x2="37.40" y2="248.84" stroke="#000" stroke-width="2" />
<text x="30.80" y="252.74" font-size="11" text-anchor="end" font-weight="bold" fill="#000" >1.2</text>
<line x1="37.40" y1="388.80" x2="37.40" y2="394.30" stroke="#000" stroke-width="2" />
<line x1="56.18" y1="388.80" x2="56.18" y2="392.30" stroke="#000" stroke-width="1.6" />
<line x1="67.17" y1="388.80" x2="67.17" y2="392.30" stroke="#000" stroke-width="1.6" />
<line x1="74.97" y1="388.80" x2="74.97" y2="392.30" stroke="#000" stroke-width="1.6" />
<line x1="81.02" y1="388.80" x2="81.02" y2="392.30" stroke="#000" stroke-width="1.6" />
<line x1="85.96" y1="388.80" x2="85.96" y2="392.30" stroke="#000" stroke-width="1.6" />
<line x1="90.13" y1="388.80" x2="90.13" y2="392.30" stroke="#000" stroke-width="1.6" />
<line x1="93.75" y1="388.80" x2="93.75" y2="392.30" stroke="#000" stroke-width="1.6" />
<line x1="96.94" y1="388.80" x2="96.94" y2="392.30" stroke="#000" stroke-width="1.6" />
<line x1="99.80" y1="388.80" x2="99.80" y2="394.30" stroke="#000" stroke-width="2" />
<line x1="118.58" y1="388.80" x2="118.58" y2="392.30" stroke="#000" stroke-width="1.6" />
<line x1="129.57" y1="388.80" x2="129.57" y2="392.30" stroke="#000" stroke-width="1.6" />
<line x1="137.37" y1="388.80" x2="137.37" y2="392.30" stroke="#000" stroke-width="1.6" />
<line x1="143.42" y1="388.80" x2="143.42" y2="392.30" stroke="#000" stroke-width="1.6" />
<line x1="148.36" y1="388.80" x2="148.36" y2="392.30" stroke="#000" stroke-width="1.6" />
<line x1="152.53" y1="388.80" x2="152.53" y2="392.30" stroke="#000" stroke-width="1.6" />
<line x1="156.15" y1="388.80" x2="156.15" y2="392.30" stroke="#000" stroke-width="1.6" />
<line x1="159.34" y1="388.80" x2="159.34" y2="392.30" stroke="#000" stroke-width="1.6" />
<line x1="162.20" y1="388.80" x2="162.20" y2="394.30" stroke="#000" stroke-width="2" />
<line x1="180.98" y1="388.80" x2="180.98" y2="392.30" stroke="#000" stroke-width="1.6" />
<line x1="191.97" y1="388.80" x2="191.97" y2="392.30" stroke="#000" stroke-width="1.6" />
<line x1="199.77" y1="388.80" x2="199.77" y2="392.30" stroke="#000" stroke-width="1.6" />
<line x1="205.82" y1="388.80" x2="205.82" y2="392.30" stroke="#000" stroke-width="1.6" />
<line x1="210.76" y1="388.80" x2="210.76" y2="392.30" stroke="#000" stroke-width="1.6" />
<line x1="214.93" y1="388.80" x2="214.93" y2="392.30" stroke="#000" stroke-width="1.6" />
<line x1="218.55" y1="388.80" x2="218.55" y2="392.30" stroke="#000" stroke-width="1.6" />
<line x1="221.74" y1="388.80" x2="221.74" y2="392.30" stroke="#000" stroke-width="1.6" />
<line x1="224.60" y1="388.80" x2="224.60" y2="394.30" stroke="#000" stroke-width="2" />
<text x="37.40" y="406.80" font-size="11" text-anchor="middle" font-weight="bold" fill="#000" >0.01</text>
<text x="99.80" y="406.80" font-size="11" text-anchor="middle" font-weight="bold" fill="#000" >0.1</text>
<text x="162.20" y="406.80" font-size="11" text-anchor="middle" font-weight="bold" fill="#000" >1</text>
<text x="224.60" y="406.80" font-size="11" text-anchor="middle" font-weight="bold" fill="#000" >10</text>
<text x="131.90" y="419.90" font-size="11.8" text-anchor="middle" font-weight="bold">Mitoxantrone (<tspan font-weight="normal">μ</tspan>M)</text>
<text x="12.30" y="310.60" font-size="12.7" text-anchor="middle" font-weight="bold" fill="#000" transform="rotate(-90 12.30 310.60)" >Normalized activity</text>
<polyline points="326.2,260.0 329.0,260.0 331.8,260.0 334.6,260.0 337.4,260.0 340.2,260.0 343.0,260.0 345.8,260.0 348.6,260.0 351.4,260.0 354.3,260.0 357.1,260.0 359.9,260.0 362.7,260.0 365.5,260.0 368.3,260.0 371.1,260.0 373.9,260.0 376.7,260.0 379.5,260.0 382.3,260.0 385.1,260.0 387.9,260.0 390.7,260.0 393.6,260.0 396.4,260.0 399.2,260.0 402.0,260.0 404.8,260.0 407.6,260.0 410.4,260.0 413.2,260.0 416.0,260.0 418.8,260.0 421.6,260.0 424.4,260.0 427.2,260.1 430.0,260.1 432.8,260.1 435.7,260.1 438.5,260.1 441.3,260.2 444.1,260.4 446.9,260.6 449.7,261.0 452.5,261.7 455.3,263.0 458.1,265.0 460.9,268.4 463.7,273.8 466.5,281.9 469.3,293.2 472.1,307.2 475.0,322.3 477.8,336.3 480.6,347.7 483.4,355.9 486.2,361.4 489.0,364.8 491.8,366.9 494.6,368.1" fill="none" stroke="#000" stroke-width="2.3" stroke-linejoin="round"/>
<polyline points="326.2,268.3 329.0,268.3 331.8,268.3 334.6,268.3 337.4,268.3 340.2,268.3 343.0,268.3 345.8,268.3 348.6,268.3 351.4,268.4 354.3,268.4 357.1,268.4 359.9,268.5 362.7,268.5 365.5,268.6 368.3,268.7 371.1,268.8 373.9,268.9 376.7,269.2 379.5,269.4 382.3,269.8 385.1,270.3 387.9,270.9 390.7,271.7 393.6,272.7 396.4,274.1 399.2,275.8 402.0,278.0 404.8,280.7 407.6,284.1 410.4,288.3 413.2,293.2 416.0,299.0 418.8,305.5 421.6,312.7 424.4,320.3 427.2,328.0 430.0,335.5 432.8,342.7 435.7,349.2 438.5,355.0 441.3,359.9 444.1,364.1 446.9,367.5 449.7,370.2 452.5,372.4 455.3,374.1 458.1,375.5 460.9,376.5 463.7,377.3 466.5,377.9 469.3,378.4 472.1,378.8 475.0,379.0 477.8,379.3 480.6,379.4 483.4,379.5 486.2,379.6 489.0,379.7 491.8,379.7 494.6,379.8" fill="none" stroke="#000" stroke-width="2.3" stroke-linejoin="round"/>
<polyline points="326.2,271.3 329.0,271.3 331.8,271.3 334.6,271.3 337.4,271.3 340.2,271.3 343.0,271.3 345.8,271.3 348.6,271.3 351.4,271.3 354.3,271.3 357.1,271.3 359.9,271.3 362.7,271.3 365.5,271.3 368.3,271.3 371.1,271.3 373.9,271.3 376.7,271.3 379.5,271.3 382.3,271.3 385.1,271.3 387.9,271.3 390.7,271.3 393.6,271.3 396.4,271.3 399.2,271.3 402.0,271.3 404.8,271.3 407.6,271.3 410.4,271.3 413.2,271.4 416.0,271.4 418.8,271.5 421.6,271.7 424.4,271.9 427.2,272.3 430.0,272.9 432.8,273.8 435.7,275.4 438.5,277.8 441.3,281.6 444.1,287.1 446.9,294.9 449.7,305.2 452.5,317.5 455.3,330.9 458.1,343.9 460.9,355.0 463.7,363.7 466.5,370.0 469.3,374.4 472.1,377.2 475.0,379.1 477.8,380.2 480.6,381.0 483.4,381.4 486.2,381.7 489.0,381.9 491.8,382.0 494.6,382.0" fill="none" stroke="#000" stroke-width="2.3" stroke-linejoin="round"/>
<polyline points="326.2,258.3 329.0,258.3 331.8,258.3 334.6,258.3 337.4,258.3 340.2,258.3 343.0,258.3 345.8,258.3 348.6,258.3 351.4,258.3 354.3,258.3 357.1,258.3 359.9,258.3 362.7,258.3 365.5,258.3 368.3,258.3 371.1,258.3 373.9,258.3 376.7,258.3 379.5,258.3 382.3,258.3 385.1,258.3 387.9,258.3 390.7,258.3 393.6,258.3 396.4,258.3 399.2,258.4 402.0,258.4 404.8,258.4 407.6,258.5 410.4,258.6 413.2,258.7 416.0,258.9 418.8,259.2 421.6,259.6 424.4,260.3 427.2,261.3 430.0,262.8 432.8,265.1 435.7,268.3 438.5,272.9 441.3,279.1 444.1,287.2 446.9,297.2 449.7,308.7 452.5,320.7 455.3,332.3 458.1,342.5 460.9,350.9 463.7,357.4 466.5,362.2 469.3,365.6 472.1,368.0 475.0,369.6 477.8,370.7 480.6,371.4 483.4,371.9 486.2,372.2 489.0,372.4 491.8,372.5 494.6,372.6" fill="none" stroke="#000" stroke-width="2.3" stroke-linejoin="round"/>
<polyline points="326.2,270.5 329.0,270.5 331.8,270.5 334.6,270.5 337.4,270.5 340.2,270.5 343.0,270.5 345.8,270.5 348.6,270.5 351.4,270.5 354.3,270.5 357.1,270.5 359.9,270.5 362.7,270.5 365.5,270.5 368.3,270.5 371.1,270.5 373.9,270.5 376.7,270.5 379.5,270.5 382.3,270.5 385.1,270.5 387.9,270.5 390.7,270.5 393.6,270.5 396.4,270.5 399.2,270.5 402.0,270.5 404.8,270.5 407.6,270.6 410.4,270.6 413.2,270.7 416.0,270.9 418.8,271.1 421.6,271.6 424.4,272.4 427.2,273.6 430.0,275.6 432.8,278.7 435.7,283.5 438.5,290.6 441.3,300.3 444.1,312.5 446.9,326.1 449.7,339.5 452.5,351.1 455.3,360.2 458.1,366.7 460.9,371.1 463.7,373.9 466.5,375.6 469.3,376.7 472.1,377.4 475.0,377.8 477.8,378.0 480.6,378.2 483.4,378.3 486.2,378.3 489.0,378.4 491.8,378.4 494.6,378.4" fill="none" stroke="#000" stroke-width="2.3" stroke-linejoin="round"/>
<polyline points="326.2,271.2 329.0,271.2 331.8,271.2 334.6,271.2 337.4,271.3 340.2,271.3 343.0,271.3 345.8,271.3 348.6,271.4 351.4,271.4 354.3,271.5 357.1,271.6 359.9,271.7 362.7,271.9 365.5,272.0 368.3,272.2 371.1,272.5 373.9,272.9 376.7,273.3 379.5,273.8 382.3,274.5 385.1,275.3 387.9,276.3 390.7,277.5 393.6,279.0 396.4,280.8 399.2,283.0 402.0,285.7 404.8,288.8 407.6,292.4 410.4,296.5 413.2,301.2 416.0,306.4 418.8,311.9 421.6,317.8 424.4,323.8 427.2,329.8 430.0,335.7 432.8,341.3 435.7,346.5 438.5,351.2 441.3,355.4 444.1,359.1 446.9,362.2 449.7,364.9 452.5,367.2 455.3,369.0 458.1,370.6 460.9,371.8 463.7,372.8 466.5,373.7 469.3,374.3 472.1,374.9 475.0,375.3 477.8,375.7 480.6,375.9 483.4,376.2 486.2,376.3 489.0,376.5 491.8,376.6 494.6,376.7" fill="none" stroke="#000" stroke-width="2.3" stroke-linejoin="round"/>
<polyline points="326.2,272.1 329.0,272.1 331.8,272.1 334.6,272.1 337.4,272.1 340.2,272.1 343.0,272.1 345.8,272.1 348.6,272.1 351.4,272.1 354.3,272.1 357.1,272.1 359.9,272.1 362.7,272.1 365.5,272.1 368.3,272.1 371.1,272.1 373.9,272.1 376.7,272.1 379.5,272.1 382.3,272.1 385.1,272.1 387.9,272.1 390.7,272.1 393.6,272.1 396.4,272.1 399.2,272.1 402.0,272.1 404.8,272.1 407.6,272.1 410.4,272.1 413.2,272.1 416.0,272.1 418.8,272.1 421.6,272.2 424.4,272.2 427.2,272.3 430.0,272.5 432.8,272.8 435.7,273.4 438.5,274.4 441.3,276.2 444.1,279.3 446.9,284.4 449.7,292.5 452.5,304.2 455.3,319.1 458.1,335.2 460.9,349.9 463.7,361.4 466.5,369.3 469.3,374.4 472.1,377.3 475.0,379.1 477.8,380.1 480.6,380.6 483.4,380.9 486.2,381.1 489.0,381.2 491.8,381.2 494.6,381.3" fill="none" stroke="#000" stroke-width="2.3" stroke-linejoin="round"/>
<polyline points="326.2,266.1 329.0,266.1 331.8,266.1 334.6,266.1 337.4,266.1 340.2,266.1 343.0,266.1 345.8,266.1 348.6,266.1 351.4,266.1 354.3,266.1 357.1,266.1 359.9,266.1 362.7,266.1 365.5,266.1 368.3,266.1 371.1,266.1 373.9,266.1 376.7,266.1 379.5,266.1 382.3,266.1 385.1,266.1 387.9,266.1 390.7,266.1 393.6,266.1 396.4,266.1 399.2,266.1 402.0,266.1 404.8,266.1 407.6,266.1 410.4,266.1 413.2,266.1 416.0,266.1 418.8,266.1 421.6,266.1 424.4,266.1 427.2,266.2 430.0,266.3 432.8,266.4 435.7,266.7 438.5,267.1 441.3,267.7 444.1,268.8 446.9,270.6 449.7,273.5 452.5,278.0 455.3,284.7 458.1,293.9 460.9,305.4 463.7,318.2 466.5,330.6 469.3,341.2 472.1,349.4 475.0,355.1 477.8,358.9 480.6,361.3 483.4,362.8 486.2,363.7 489.0,364.2 491.8,364.5 494.6,364.7" fill="none" stroke="#000" stroke-width="2.3" stroke-linejoin="round"/>
<polyline points="326.2,271.0 329.0,271.0 331.8,271.0 334.6,271.0 337.4,271.0 340.2,271.0 343.0,271.1 345.8,271.1 348.6,271.1 351.4,271.1 354.3,271.1 357.1,271.1 359.9,271.1 362.7,271.2 365.5,271.2 368.3,271.3 371.1,271.4 373.9,271.4 376.7,271.6 379.5,271.7 382.3,271.9 385.1,272.2 387.9,272.6 390.7,273.0 393.6,273.6 396.4,274.3 399.2,275.3 402.0,276.5 404.8,278.0 407.6,279.9 410.4,282.3 413.2,285.2 416.0,288.7 418.8,292.8 421.6,297.6 424.4,303.0 427.2,308.9 430.0,315.2 432.8,321.6 435.7,328.1 438.5,334.3 441.3,340.0 444.1,345.2 446.9,349.7 449.7,353.6 452.5,356.9 455.3,359.6 458.1,361.8 460.9,363.6 463.7,365.0 466.5,366.1 469.3,367.0 472.1,367.7 475.0,368.2 477.8,368.6 480.6,368.9 483.4,369.2 486.2,369.4 489.0,369.5 491.8,369.6 494.6,369.7" fill="none" stroke="#000" stroke-width="2.3" stroke-linejoin="round"/>
<polyline points="326.2,271.3 329.0,271.3 331.8,271.3 334.6,271.3 337.4,271.3 340.2,271.3 343.0,271.3 345.8,271.3 348.6,271.3 351.4,271.3 354.3,271.3 357.1,271.3 359.9,271.3 362.7,271.3 365.5,271.3 368.3,271.3 371.1,271.3 373.9,271.3 376.7,271.3 379.5,271.3 382.3,271.3 385.1,271.3 387.9,271.4 390.7,271.4 393.6,271.4 396.4,271.5 399.2,271.5 402.0,271.7 404.8,271.8 407.6,272.0 410.4,272.3 413.2,272.7 416.0,273.4 418.8,274.2 421.6,275.4 424.4,277.0 427.2,279.3 430.0,282.3 432.8,286.2 435.7,291.3 438.5,297.5 441.3,304.7 444.1,312.7 446.9,321.2 449.7,329.4 452.5,337.1 455.3,343.8 458.1,349.3 460.9,353.8 463.7,357.2 466.5,359.8 469.3,361.7 472.1,363.0 475.0,364.0 477.8,364.7 480.6,365.2 483.4,365.6 486.2,365.8 489.0,366.0 491.8,366.1 494.6,366.2" fill="none" stroke="#000" stroke-width="2.3" stroke-linejoin="round"/>
<polyline points="326.2,253.7 329.0,253.7 331.8,253.7 334.6,253.7 337.4,253.7 340.2,253.7 343.0,253.7 345.8,253.7 348.6,253.7 351.4,253.7 354.3,253.7 357.1,253.7 359.9,253.7 362.7,253.7 365.5,253.7 368.3,253.7 371.1,253.7 373.9,253.7 376.7,253.7 379.5,253.7 382.3,253.7 385.1,253.7 387.9,253.7 390.7,253.7 393.6,253.7 396.4,253.7 399.2,253.7 402.0,253.7 404.8,253.8 407.6,253.8 410.4,253.9 413.2,254.0 416.0,254.2 418.8,254.5 421.6,255.1 424.4,255.9 427.2,257.2 430.0,259.2 432.8,262.3 435.7,266.9 438.5,273.5 441.3,282.6 444.1,294.2 446.9,307.8 449.7,322.1 452.5,335.6 455.3,347.2 458.1,356.3 460.9,362.9 463.7,367.6 466.5,370.6 469.3,372.6 472.1,373.9 475.0,374.8 477.8,375.3 480.6,375.6 483.4,375.8 486.2,376.0 489.0,376.0 491.8,376.1 494.6,376.1" fill="none" stroke="#000" stroke-width="2.3" stroke-linejoin="round"/>
<polyline points="326.2,256.9 329.0,256.9 331.8,256.9 334.6,256.9 337.4,256.9 340.2,256.9 343.0,256.9 345.8,256.9 348.6,256.9 351.4,256.9 354.3,256.9 357.1,256.9 359.9,256.9 362.7,256.9 365.5,256.9 368.3,256.9 371.1,256.9 373.9,256.9 376.7,256.9 379.5,256.9 382.3,256.9 385.1,256.9 387.9,256.9 390.7,256.9 393.6,256.9 396.4,256.9 399.2,256.9 402.0,256.9 404.8,256.9 407.6,256.9 410.4,256.9 413.2,256.9 416.0,256.9 418.8,256.9 421.6,257.0 424.4,257.0 427.2,257.1 430.0,257.2 432.8,257.5 435.7,257.8 438.5,258.3 441.3,259.2 444.1,260.4 446.9,262.3 449.7,265.2 452.5,269.3 455.3,275.2 458.1,283.1 460.9,293.1 463.7,304.9 466.5,317.6 469.3,329.9 472.1,340.8 475.0,349.7 477.8,356.5 480.6,361.4 483.4,364.8 486.2,367.1 489.0,368.6 491.8,369.6 494.6,370.3" fill="none" stroke="#000" stroke-width="2.3" stroke-linejoin="round"/>
<polyline points="326.2,257.1 329.0,257.1 331.8,257.1 334.6,257.1 337.4,257.1 340.2,257.1 343.0,257.1 345.8,257.1 348.6,257.1 351.4,257.1 354.3,257.1 357.1,257.1 359.9,257.1 362.7,257.1 365.5,257.1 368.3,257.1 371.1,257.1 373.9,257.1 376.7,257.1 379.5,257.1 382.3,257.1 385.1,257.1 387.9,257.1 390.7,257.1 393.6,257.1 396.4,257.1 399.2,257.1 402.0,257.1 404.8,257.1 407.6,257.1 410.4,257.1 413.2,257.1 416.0,257.1 418.8,257.2 421.6,257.2 424.4,257.2 427.2,257.2 430.0,257.2 432.8,257.3 435.7,257.3 438.5,257.4 441.3,257.6 444.1,257.9 446.9,258.4 449.7,259.1 452.5,260.4 455.3,262.3 458.1,265.3 460.9,269.8 463.7,276.3 466.5,285.4 469.3,296.9 472.1,310.3 475.0,324.1 477.8,337.0 480.6,347.7 483.4,355.8 486.2,361.6 489.0,365.5 491.8,368.1 494.6,369.7" fill="none" stroke="#000" stroke-width="2.3" stroke-linejoin="round"/>
<polyline points="326.2,269.0 329.0,269.0 331.8,269.0 334.6,269.0 337.4,269.0 340.2,269.0 343.0,269.0 345.8,269.0 348.6,269.0 351.4,269.0 354.3,269.0 357.1,269.0 359.9,269.0 362.7,269.0 365.5,269.0 368.3,269.0 371.1,269.0 373.9,269.0 376.7,269.0 379.5,269.0 382.3,269.0 385.1,269.0 387.9,269.0 390.7,269.0 393.6,269.0 396.4,269.1 399.2,269.1 402.0,269.2 404.8,269.3 407.6,269.4 410.4,269.6 413.2,269.8 416.0,270.2 418.8,270.8 421.6,271.6 424.4,272.7 427.2,274.4 430.0,276.7 432.8,279.8 435.7,284.0 438.5,289.5 441.3,296.5 444.1,304.8 446.9,314.2 449.7,324.1 452.5,333.9 455.3,343.0 458.1,350.8 460.9,357.3 463.7,362.3 466.5,366.2 469.3,369.0 472.1,371.0 475.0,372.5 477.8,373.5 480.6,374.2 483.4,374.7 486.2,375.0 489.0,375.3 491.8,375.4 494.6,375.5" fill="none" stroke="#000" stroke-width="2.3" stroke-linejoin="round"/>
<polyline points="326.2,252.2 329.0,252.2 331.8,252.2 334.6,252.2 337.4,252.2 340.2,252.2 343.0,252.2 345.8,252.2 348.6,252.2 351.4,252.2 354.3,252.2 357.1,252.2 359.9,252.2 362.7,252.2 365.5,252.2 368.3,252.2 371.1,252.2 373.9,252.2 376.7,252.2 379.5,252.2 382.3,252.2 385.1,252.2 387.9,252.2 390.7,252.2 393.6,252.2 396.4,252.2 399.2,252.2 402.0,252.2 404.8,252.3 407.6,252.3 410.4,252.3 413.2,252.4 416.0,252.5 418.8,252.6 421.6,252.8 424.4,253.1 427.2,253.5 430.0,254.1 432.8,255.1 435.7,256.4 438.5,258.3 441.3,261.1 444.1,265.0 446.9,270.2 449.7,277.0 452.5,285.5 455.3,295.6 458.1,306.5 460.9,317.6 463.7,328.1 466.5,337.2 469.3,344.7 472.1,350.5 475.0,354.8 477.8,357.9 480.6,360.1 483.4,361.7 486.2,362.7 489.0,363.5 491.8,363.9 494.6,364.3" fill="none" stroke="#000" stroke-width="2.3" stroke-linejoin="round"/>
<polyline points="326.2,254.4 329.0,254.4 331.8,254.4 334.6,254.4 337.4,254.4 340.2,254.4 343.0,254.4 345.8,254.4 348.6,254.4 351.4,254.4 354.3,254.4 357.1,254.4 359.9,254.4 362.7,254.4 365.5,254.4 368.3,254.4 371.1,254.4 373.9,254.4 376.7,254.4 379.5,254.4 382.3,254.4 385.1,254.4 387.9,254.4 390.7,254.4 393.6,254.4 396.4,254.4 399.2,254.4 402.0,254.4 404.8,254.5 407.6,254.5 410.4,254.5 413.2,254.5 416.0,254.6 418.8,254.7 421.6,254.9 424.4,255.2 427.2,255.7 430.0,256.5 432.8,257.8 435.7,259.8 438.5,262.9 441.3,267.4 444.1,274.0 446.9,283.0 449.7,294.3 452.5,307.1 455.3,320.2 458.1,332.2 460.9,342.0 463.7,349.4 466.5,354.7 469.3,358.2 472.1,360.6 475.0,362.1 477.8,363.0 480.6,363.6 483.4,364.0 486.2,364.2 489.0,364.3 491.8,364.4 494.6,364.5" fill="none" stroke="#000" stroke-width="2.3" stroke-linejoin="round"/>
<polyline points="326.2,259.6 329.0,259.6 331.8,259.6 334.6,259.6 337.4,259.6 340.2,259.6 343.0,259.6 345.8,259.6 348.6,259.6 351.4,259.6 354.3,259.6 357.1,259.6 359.9,259.6 362.7,259.6 365.5,259.6 368.3,259.6 371.1,259.6 373.9,259.6 376.7,259.6 379.5,259.6 382.3,259.6 385.1,259.6 387.9,259.6 390.7,259.6 393.6,259.6 396.4,259.6 399.2,259.6 402.0,259.6 404.8,259.6 407.6,259.6 410.4,259.6 413.2,259.6 416.0,259.6 418.8,259.6 421.6,259.7 424.4,259.8 427.2,260.1 430.0,260.7 432.8,261.9 435.7,264.2 438.5,268.7 441.3,277.0 444.1,290.6 446.9,309.8 449.7,331.3 452.5,350.3 455.3,363.7 458.1,371.8 460.9,376.3 463.7,378.6 466.5,379.7 469.3,380.3 472.1,380.6 475.0,380.7 477.8,380.8 480.6,380.8 483.4,380.8 486.2,380.8 489.0,380.8 491.8,380.8 494.6,380.8" fill="none" stroke="#000" stroke-width="2.3" stroke-linejoin="round"/>
<polyline points="326.2,257.7 329.0,257.7 331.8,257.7 334.6,257.7 337.4,257.7 340.2,257.7 343.0,257.7 345.8,257.7 348.6,257.7 351.4,257.7 354.3,257.7 357.1,257.7 359.9,257.7 362.7,257.7 365.5,257.7 368.3,257.7 371.1,257.7 373.9,257.7 376.7,257.7 379.5,257.7 382.3,257.7 385.1,257.7 387.9,257.7 390.7,257.7 393.6,257.7 396.4,257.7 399.2,257.7 402.0,257.7 404.8,257.7 407.6,257.7 410.4,257.7 413.2,257.7 416.0,257.7 418.8,257.7 421.6,257.7 424.4,257.7 427.2,257.7 430.0,257.7 432.8,257.7 435.7,257.7 438.5,257.8 441.3,257.8 444.1,258.0 446.9,258.2 449.7,258.5 452.5,259.2 455.3,260.4 458.1,262.5 460.9,266.1 463.7,272.0 466.5,281.2 469.3,294.5 472.1,311.2 475.0,329.3 477.8,345.8 480.6,358.8 483.4,367.8 486.2,373.6 489.0,377.0 491.8,379.0 494.6,380.2" fill="none" stroke="#000" stroke-width="2.3" stroke-linejoin="round"/>
<polyline points="326.2,266.4 329.0,266.4 331.8,266.4 334.6,266.4 337.4,266.4 340.2,266.4 343.0,266.4 345.8,266.4 348.6,266.4 351.4,266.4 354.3,266.4 357.1,266.4 359.9,266.4 362.7,266.4 365.5,266.4 368.3,266.4 371.1,266.4 373.9,266.4 376.7,266.4 379.5,266.4 382.3,266.4 385.1,266.4 387.9,266.4 390.7,266.4 393.6,266.4 396.4,266.4 399.2,266.4 402.0,266.4 404.8,266.4 407.6,266.4 410.4,266.4 413.2,266.4 416.0,266.4 418.8,266.4 421.6,266.4 424.4,266.4 427.2,266.5 430.0,266.5 432.8,266.6 435.7,266.8 438.5,267.1 441.3,267.6 444.1,268.3 446.9,269.5 449.7,271.4 452.5,274.3 455.3,278.7 458.1,285.2 460.9,294.0 463.7,305.2 466.5,318.0 469.3,331.0 472.1,342.9 475.0,352.6 477.8,359.9 480.6,365.0 483.4,368.4 486.2,370.6 489.0,372.0 491.8,372.9 494.6,373.4" fill="none" stroke="#000" stroke-width="2.3" stroke-linejoin="round"/>
<polyline points="326.2,271.0 329.0,271.0 331.8,271.0 334.6,271.0 337.4,271.0 340.2,271.0 343.0,271.0 345.8,271.0 348.6,271.0 351.4,271.0 354.3,271.0 357.1,271.0 359.9,271.0 362.7,271.0 365.5,271.0 368.3,271.0 371.1,271.0 373.9,271.0 376.7,271.0 379.5,271.0 382.3,271.0 385.1,271.0 387.9,271.0 390.7,271.0 393.6,271.0 396.4,271.0 399.2,271.0 402.0,271.0 404.8,271.0 407.6,271.0 410.4,271.0 413.2,271.0 416.0,271.0 418.8,271.0 421.6,271.0 424.4,271.0 427.2,271.0 430.0,271.0 432.8,271.1 435.7,271.1 438.5,271.3 441.3,271.5 444.1,271.8 446.9,272.4 449.7,273.4 452.5,275.1 455.3,277.9 458.1,282.3 460.9,289.1 463.7,298.7 466.5,311.1 469.3,325.3 472.1,339.3 475.0,351.4 477.8,360.6 480.6,367.1 483.4,371.3 486.2,373.9 489.0,375.4 491.8,376.4 494.6,376.9" fill="none" stroke="#000" stroke-width="2.3" stroke-linejoin="round"/>
<polyline points="326.2,262.8 329.0,262.8 331.8,262.8 334.6,262.8 337.4,262.8 340.2,262.8 343.0,262.8 345.8,262.8 348.6,262.8 351.4,262.8 354.3,262.8 357.1,262.8 359.9,262.8 362.7,262.8 365.5,262.8 368.3,262.8 371.1,262.8 373.9,262.8 376.7,262.8 379.5,262.8 382.3,262.8 385.1,262.8 387.9,262.8 390.7,262.8 393.6,262.8 396.4,262.8 399.2,262.8 402.0,262.8 404.8,262.8 407.6,262.8 410.4,262.8 413.2,262.8 416.0,262.8 418.8,262.8 421.6,262.8 424.4,262.8 427.2,262.9 430.0,262.9 432.8,263.1 435.7,263.4 438.5,263.9 441.3,265.0 444.1,267.2 446.9,271.4 449.7,278.8 452.5,290.9 455.3,307.9 458.1,327.0 460.9,344.2 463.7,356.7 466.5,364.5 469.3,368.8 472.1,371.1 475.0,372.3 477.8,372.9 480.6,373.2 483.4,373.3 486.2,373.4 489.0,373.4 491.8,373.4 494.6,373.4" fill="none" stroke="#000" stroke-width="2.3" stroke-linejoin="round"/>
<polyline points="326.2,253.3 329.0,253.3 331.8,253.3 334.6,253.3 337.4,253.3 340.2,253.3 343.0,253.3 345.8,253.3 348.6,253.3 351.4,253.3 354.3,253.3 357.1,253.3 359.9,253.3 362.7,253.3 365.5,253.3 368.3,253.3 371.1,253.3 373.9,253.3 376.7,253.3 379.5,253.3 382.3,253.3 385.1,253.3 387.9,253.3 390.7,253.3 393.6,253.3 396.4,253.3 399.2,253.3 402.0,253.3 404.8,253.3 407.6,253.3 410.4,253.3 413.2,253.3 416.0,253.4 418.8,253.4 421.6,253.4 424.4,253.4 427.2,253.4 430.0,253.4 432.8,253.5 435.7,253.6 438.5,253.7 441.3,254.0 444.1,254.5 446.9,255.4 449.7,256.9 452.5,259.5 455.3,263.7 458.1,270.6 460.9,280.8 463.7,294.6 466.5,311.2 469.3,328.2 472.1,343.2 475.0,354.6 477.8,362.5 480.6,367.6 483.4,370.7 486.2,372.5 489.0,373.5 491.8,374.1 494.6,374.5" fill="none" stroke="#000" stroke-width="2.3" stroke-linejoin="round"/>
<polyline points="326.2,265.5 329.0,265.5 331.8,265.5 334.6,265.5 337.4,265.5 340.2,265.5 343.0,265.5 345.8,265.5 348.6,265.5 351.4,265.5 354.3,265.5 357.1,265.5 359.9,265.5 362.7,265.5 365.5,265.5 368.3,265.5 371.1,265.5 373.9,265.5 376.7,265.5 379.5,265.5 382.3,265.5 385.1,265.5 387.9,265.5 390.7,265.5 393.6,265.5 396.4,265.5 399.2,265.5 402.0,265.5 404.8,265.6 407.6,265.6 410.4,265.7 413.2,265.8 416.0,265.9 418.8,266.0 421.6,266.3 424.4,266.6 427.2,267.0 430.0,267.6 432.8,268.4 435.7,269.5 438.5,271.0 441.3,273.0 444.1,275.7 446.9,279.2 449.7,283.7 452.5,289.3 455.3,296.2 458.1,304.2 460.9,313.1 463.7,322.6 466.5,332.2 469.3,341.4 472.1,349.8 475.0,357.0 477.8,363.0 480.6,367.9 483.4,371.7 486.2,374.6 489.0,376.8 491.8,378.5 494.6,379.7" fill="none" stroke="#000" stroke-width="2.3" stroke-linejoin="round"/>
<polyline points="326.2,269.7 329.0,269.7 331.8,269.7 334.6,269.7 337.4,269.7 340.2,269.7 343.0,269.7 345.8,269.7 348.6,269.7 351.4,269.7 354.3,269.7 357.1,269.7 359.9,269.7 362.7,269.7 365.5,269.7 368.3,269.7 371.1,269.7 373.9,269.7 376.7,269.7 379.5,269.7 382.3,269.8 385.1,269.8 387.9,269.8 390.7,269.8 393.6,269.8 396.4,269.9 399.2,269.9 402.0,270.0 404.8,270.2 407.6,270.4 410.4,270.6 413.2,271.0 416.0,271.6 418.8,272.5 421.6,273.6 424.4,275.3 427.2,277.6 430.0,280.7 432.8,284.9 435.7,290.4 438.5,297.2 441.3,305.4 444.1,314.6 446.9,324.3 449.7,333.9 452.5,342.9 455.3,350.7 458.1,357.1 460.9,362.1 463.7,366.0 466.5,368.9 469.3,370.9 472.1,372.4 475.0,373.5 477.8,374.2 480.6,374.8 483.4,375.1 486.2,375.4 489.0,375.5 491.8,375.7 494.6,375.7" fill="none" stroke="#000" stroke-width="2.3" stroke-linejoin="round"/>
<polyline points="326.2,269.5 329.0,269.5 331.8,269.6 334.6,269.6 337.4,269.6 340.2,269.7 343.0,269.7 345.8,269.8 348.6,269.9 351.4,270.0 354.3,270.2 357.1,270.4 359.9,270.6 362.7,271.0 365.5,271.4 368.3,271.9 371.1,272.5 373.9,273.3 376.7,274.3 379.5,275.6 382.3,277.1 385.1,279.0 387.9,281.3 390.7,284.0 393.6,287.3 396.4,291.1 399.2,295.4 402.0,300.2 404.8,305.4 407.6,311.0 410.4,316.8 413.2,322.6 416.0,328.2 418.8,333.6 421.6,338.5 424.4,343.0 427.2,346.9 430.0,350.3 432.8,353.2 435.7,355.6 438.5,357.6 441.3,359.2 444.1,360.6 446.9,361.6 449.7,362.5 452.5,363.2 455.3,363.7 458.1,364.2 460.9,364.5 463.7,364.8 466.5,365.0 469.3,365.2 472.1,365.3 475.0,365.4 477.8,365.5 480.6,365.6 483.4,365.6 486.2,365.7 489.0,365.7 491.8,365.7 494.6,365.7" fill="none" stroke="#000" stroke-width="2.3" stroke-linejoin="round"/>
<polyline points="326.2,270.9 329.0,270.9 331.8,270.9 334.6,270.9 337.4,270.9 340.2,270.9 343.0,270.9 345.8,270.9 348.6,270.9 351.4,270.9 354.3,270.9 357.1,270.9 359.9,270.9 362.7,270.9 365.5,270.9 368.3,270.9 371.1,270.9 373.9,270.9 376.7,270.9 379.5,270.9 382.3,270.9 385.1,270.9 387.9,270.9 390.7,270.9 393.6,270.9 396.4,270.9 399.2,270.9 402.0,270.9 404.8,270.9 407.6,271.0 410.4,271.0 413.2,271.0 416.0,271.0 418.8,271.0 421.6,271.0 424.4,271.1 427.2,271.1 430.0,271.2 432.8,271.4 435.7,271.6 438.5,272.0 441.3,272.5 444.1,273.3 446.9,274.5 449.7,276.2 452.5,278.6 455.3,282.1 458.1,286.9 460.9,293.3 463.7,301.3 466.5,310.8 469.3,321.2 472.1,331.8 475.0,341.5 477.8,350.0 480.6,356.7 483.4,361.9 486.2,365.7 489.0,368.4 491.8,370.2 494.6,371.5" fill="none" stroke="#000" stroke-width="2.3" stroke-linejoin="round"/>
<polyline points="326.2,265.6 329.0,265.6 331.8,265.6 334.6,265.6 337.4,265.6 340.2,265.6 343.0,265.6 345.8,265.6 348.6,265.6 351.4,265.6 354.3,265.6 357.1,265.6 359.9,265.6 362.7,265.6 365.5,265.6 368.3,265.6 371.1,265.6 373.9,265.6 376.7,265.6 379.5,265.6 382.3,265.6 385.1,265.6 387.9,265.6 390.7,265.6 393.6,265.6 396.4,265.6 399.2,265.6 402.0,265.6 404.8,265.6 407.6,265.6 410.4,265.6 413.2,265.6 416.0,265.6 418.8,265.6 421.6,265.6 424.4,265.6 427.2,265.6 430.0,265.6 432.8,265.6 435.7,265.6 438.5,265.7 441.3,265.7 444.1,265.8 446.9,265.9 449.7,266.2 452.5,266.6 455.3,267.5 458.1,269.0 460.9,271.7 463.7,276.3 466.5,283.8 469.3,295.0 472.1,309.4 475.0,325.3 477.8,339.9 480.6,351.1 483.4,358.7 486.2,363.5 489.0,366.2 491.8,367.7 494.6,368.6" fill="none" stroke="#000" stroke-width="2.3" stroke-linejoin="round"/>
<polyline points="326.2,261.7 329.0,261.7 331.8,261.7 334.6,261.7 337.4,261.8 340.2,261.8 343.0,261.8 345.8,261.9 348.6,261.9 351.4,262.0 354.3,262.1 357.1,262.2 359.9,262.3 362.7,262.5 365.5,262.8 368.3,263.1 371.1,263.5 373.9,264.0 376.7,264.7 379.5,265.5 382.3,266.5 385.1,267.8 387.9,269.4 390.7,271.5 393.6,273.9 396.4,276.9 399.2,280.5 402.0,284.7 404.8,289.5 407.6,294.9 410.4,300.8 413.2,307.1 416.0,313.6 418.8,320.1 421.6,326.4 424.4,332.4 427.2,337.8 430.0,342.6 432.8,346.8 435.7,350.4 438.5,353.4 441.3,355.9 444.1,357.9 446.9,359.5 449.7,360.8 452.5,361.8 455.3,362.7 458.1,363.3 460.9,363.8 463.7,364.2 466.5,364.5 469.3,364.8 472.1,365.0 475.0,365.1 477.8,365.2 480.6,365.3 483.4,365.4 486.2,365.5 489.0,365.5 491.8,365.5 494.6,365.6" fill="none" stroke="#000" stroke-width="2.3" stroke-linejoin="round"/>
<polyline points="326.2,270.6 329.0,270.6 331.8,270.6 334.6,270.6 337.4,270.6 340.2,270.6 343.0,270.6 345.8,270.6 348.6,270.6 351.4,270.6 354.3,270.6 357.1,270.6 359.9,270.6 362.7,270.6 365.5,270.6 368.3,270.6 371.1,270.6 373.9,270.6 376.7,270.6 379.5,270.6 382.3,270.6 385.1,270.6 387.9,270.6 390.7,270.6 393.6,270.6 396.4,270.6 399.2,270.6 402.0,270.6 404.8,270.6 407.6,270.6 410.4,270.7 413.2,270.7 416.0,270.7 418.8,270.7 421.6,270.8 424.4,270.9 427.2,271.1 430.0,271.5 432.8,272.2 435.7,273.4 438.5,275.5 441.3,279.1 444.1,284.9 446.9,293.6 449.7,305.4 452.5,319.2 455.3,332.9 458.1,344.5 460.9,353.0 463.7,358.6 466.5,362.1 469.3,364.1 472.1,365.3 475.0,366.0 477.8,366.3 480.6,366.6 483.4,366.7 486.2,366.7 489.0,366.8 491.8,366.8 494.6,366.8" fill="none" stroke="#000" stroke-width="2.3" stroke-linejoin="round"/>
<polyline points="326.2,269.9 329.0,269.9 331.8,269.9 334.6,269.9 337.4,269.9 340.2,269.9 343.0,269.9 345.8,269.9 348.6,269.9 351.4,269.9 354.3,269.9 357.1,269.9 359.9,269.9 362.7,269.9 365.5,269.9 368.3,269.9 371.1,269.9 373.9,269.9 376.7,269.9 379.5,269.9 382.3,269.9 385.1,269.9 387.9,269.9 390.7,269.9 393.6,269.9 396.4,269.9 399.2,269.9 402.0,269.9 404.8,270.0 407.6,270.0 410.4,270.0 413.2,270.0 416.0,270.1 418.8,270.1 421.6,270.2 424.4,270.3 427.2,270.4 430.0,270.6 432.8,270.9 435.7,271.4 438.5,271.9 441.3,272.8 444.1,273.9 446.9,275.4 449.7,277.5 452.5,280.3 455.3,284.0 458.1,288.7 460.9,294.6 463.7,301.5 466.5,309.4 469.3,317.9 472.1,326.5 475.0,334.8 477.8,342.2 480.6,348.6 483.4,353.8 486.2,358.0 489.0,361.2 491.8,363.6 494.6,365.4" fill="none" stroke="#000" stroke-width="2.3" stroke-linejoin="round"/>
<polyline points="326.2,263.0 329.0,263.0 331.8,263.0 334.6,263.0 337.4,263.1 340.2,263.1 343.0,263.2 345.8,263.3 348.6,263.3 351.4,263.4 354.3,263.6 357.1,263.7 359.9,263.9 362.7,264.1 365.5,264.3 368.3,264.6 371.1,265.0 373.9,265.4 376.7,265.9 379.5,266.5 382.3,267.3 385.1,268.1 387.9,269.1 390.7,270.3 393.6,271.7 396.4,273.4 399.2,275.3 402.0,277.5 404.8,280.0 407.6,282.8 410.4,286.0 413.2,289.5 416.0,293.4 418.8,297.6 421.6,302.0 424.4,306.7 427.2,311.5 430.0,316.3 432.8,321.2 435.7,325.9 438.5,330.5 441.3,334.8 444.1,338.9 446.9,342.6 449.7,345.9 452.5,348.9 455.3,351.6 458.1,353.9 460.9,356.0 463.7,357.7 466.5,359.3 469.3,360.6 472.1,361.7 475.0,362.6 477.8,363.4 480.6,364.0 483.4,364.6 486.2,365.1 489.0,365.5 491.8,365.8 494.6,366.1" fill="none" stroke="#858585" stroke-width="2.8" stroke-linejoin="round"/>
<polyline points="326.2,253.3 329.0,253.3 331.8,253.3 334.6,253.3 337.4,253.3 340.2,253.3 343.0,253.3 345.8,253.3 348.6,253.3 351.4,253.3 354.3,253.3 357.1,253.3 359.9,253.3 362.7,253.3 365.5,253.3 368.3,253.3 371.1,253.3 373.9,253.3 376.7,253.3 379.5,253.3 382.3,253.3 385.1,253.3 387.9,253.3 390.7,253.3 393.6,253.3 396.4,253.3 399.2,253.3 402.0,253.3 404.8,253.3 407.6,253.3 410.4,253.3 413.2,253.3 416.0,253.3 418.8,253.3 421.6,253.3 424.4,253.3 427.2,253.4 430.0,253.4 432.8,253.5 435.7,253.7 438.5,254.1 441.3,254.7 444.1,255.8 446.9,257.7 449.7,261.0 452.5,266.5 455.3,275.1 458.1,287.4 460.9,302.9 463.7,319.5 466.5,334.6 469.3,346.2 472.1,354.3 475.0,359.3 477.8,362.3 480.6,364.1 483.4,365.1 486.2,365.6 489.0,365.9 491.8,366.1 494.6,366.2" fill="none" stroke="#000" stroke-width="2.3" stroke-linejoin="round"/>
<polyline points="326.2,256.9 329.0,256.9 331.8,257.0 334.6,257.0 337.4,257.1 340.2,257.2 343.0,257.3 345.8,257.4 348.6,257.6 351.4,257.8 354.3,258.1 357.1,258.4 359.9,258.8 362.7,259.3 365.5,259.8 368.3,260.6 371.1,261.5 373.9,262.5 376.7,263.8 379.5,265.4 382.3,267.3 385.1,269.6 387.9,272.2 390.7,275.4 393.6,279.0 396.4,283.1 399.2,287.8 402.0,292.9 404.8,298.6 407.6,304.5 410.4,310.7 413.2,317.1 416.0,323.4 418.8,329.5 421.6,335.3 424.4,340.8 427.2,345.7 430.0,350.2 432.8,354.1 435.7,357.5 438.5,360.5 441.3,363.0 444.1,365.1 446.9,366.8 449.7,368.3 452.5,369.5 455.3,370.5 458.1,371.3 460.9,372.0 463.7,372.5 466.5,373.0 469.3,373.3 472.1,373.6 475.0,373.8 477.8,374.0 480.6,374.2 483.4,374.3 486.2,374.4 489.0,374.5 491.8,374.6 494.6,374.6" fill="none" stroke="#000" stroke-width="2.3" stroke-linejoin="round"/>
<polyline points="326.2,257.5 329.0,257.5 331.8,257.5 334.6,257.5 337.4,257.5 340.2,257.5 343.0,257.5 345.8,257.5 348.6,257.5 351.4,257.5 354.3,257.5 357.1,257.5 359.9,257.5 362.7,257.5 365.5,257.5 368.3,257.5 371.1,257.5 373.9,257.5 376.7,257.5 379.5,257.5 382.3,257.5 385.1,257.5 387.9,257.5 390.7,257.5 393.6,257.5 396.4,257.5 399.2,257.5 402.0,257.5 404.8,257.5 407.6,257.5 410.4,257.5 413.2,257.5 416.0,257.5 418.8,257.5 421.6,257.5 424.4,257.5 427.2,257.5 430.0,257.5 432.8,257.5 435.7,257.5 438.5,257.5 441.3,257.5 444.1,257.5 446.9,257.5 449.7,257.5 452.5,257.5 455.3,257.6 458.1,257.8 460.9,258.1 463.7,259.0 466.5,260.8 469.3,264.9 472.1,273.2 475.0,288.1 477.8,309.7 480.6,333.0 483.4,351.2 486.2,362.3 489.0,368.0 491.8,370.6 494.6,371.9" fill="none" stroke="#000" stroke-width="2.3" stroke-linejoin="round"/>
<polyline points="326.2,254.8 329.0,254.8 331.8,254.8 334.6,254.8 337.4,254.8 340.2,254.8 343.0,254.9 345.8,254.9 348.6,254.9 351.4,255.0 354.3,255.0 357.1,255.1 359.9,255.2 362.7,255.4 365.5,255.5 368.3,255.8 371.1,256.2 373.9,256.7 376.7,257.3 379.5,258.2 382.3,259.3 385.1,260.9 387.9,262.9 390.7,265.5 393.6,268.8 396.4,273.1 399.2,278.3 402.0,284.7 404.8,292.0 407.6,300.4 410.4,309.4 413.2,318.7 416.0,327.9 418.8,336.5 421.6,344.4 424.4,351.3 427.2,357.0 430.0,361.7 432.8,365.5 435.7,368.5 438.5,370.7 441.3,372.5 444.1,373.8 446.9,374.8 449.7,375.6 452.5,376.1 455.3,376.5 458.1,376.8 460.9,377.1 463.7,377.2 466.5,377.4 469.3,377.4 472.1,377.5 475.0,377.6 477.8,377.6 480.6,377.6 483.4,377.7 486.2,377.7 489.0,377.7 491.8,377.7 494.6,377.7" fill="none" stroke="#000" stroke-width="2.3" stroke-linejoin="round"/>
<polyline points="326.2,257.3 329.0,257.3 331.8,257.3 334.6,257.3 337.4,257.3 340.2,257.3 343.0,257.3 345.8,257.4 348.6,257.4 351.4,257.4 354.3,257.4 357.1,257.4 359.9,257.4 362.7,257.4 365.5,257.4 368.3,257.5 371.1,257.5 373.9,257.5 376.7,257.6 379.5,257.7 382.3,257.8 385.1,258.0 387.9,258.2 390.7,258.6 393.6,259.0 396.4,259.5 399.2,260.3 402.0,261.3 404.8,262.6 407.6,264.3 410.4,266.5 413.2,269.3 416.0,272.9 418.8,277.3 421.6,282.7 424.4,288.9 427.2,296.0 430.0,303.7 432.8,311.8 435.7,319.8 438.5,327.5 441.3,334.6 444.1,340.8 446.9,346.1 449.7,350.5 452.5,354.0 455.3,356.8 458.1,359.0 460.9,360.7 463.7,362.0 466.5,363.0 469.3,363.7 472.1,364.2 475.0,364.7 477.8,365.0 480.6,365.2 483.4,365.4 486.2,365.5 489.0,365.6 491.8,365.7 494.6,365.7" fill="none" stroke="#000" stroke-width="2.3" stroke-linejoin="round"/>
<polyline points="326.2,260.8 329.0,260.8 331.8,260.8 334.6,260.8 337.4,260.8 340.2,260.8 343.0,260.8 345.8,260.8 348.6,260.8 351.4,260.8 354.3,260.8 357.1,260.8 359.9,260.8 362.7,260.8 365.5,260.8 368.3,260.8 371.1,260.8 373.9,260.8 376.7,260.8 379.5,260.8 382.3,260.8 385.1,260.8 387.9,260.8 390.7,260.8 393.6,260.8 396.4,260.8 399.2,260.8 402.0,260.9 404.8,260.9 407.6,261.0 410.4,261.1 413.2,261.2 416.0,261.4 418.8,261.6 421.6,262.0 424.4,262.5 427.2,263.1 430.0,264.0 432.8,265.3 435.7,267.0 438.5,269.4 441.3,272.5 444.1,276.5 446.9,281.7 449.7,288.0 452.5,295.5 455.3,304.0 458.1,313.1 460.9,322.4 463.7,331.3 466.5,339.4 469.3,346.4 472.1,352.2 475.0,356.8 477.8,360.4 480.6,363.1 483.4,365.1 486.2,366.6 489.0,367.7 491.8,368.5 494.6,369.1" fill="none" stroke="#000" stroke-width="2.3" stroke-linejoin="round"/>
<polyline points="326.2,260.8 329.0,260.8 331.8,260.8 334.6,260.8 337.4,260.8 340.2,260.8 343.0,260.8 345.8,260.8 348.6,260.8 351.4,260.8 354.3,260.8 357.1,260.8 359.9,260.8 362.7,260.8 365.5,260.8 368.3,260.8 371.1,260.8 373.9,260.8 376.7,260.8 379.5,260.8 382.3,260.8 385.1,260.8 387.9,260.8 390.7,260.8 393.6,260.8 396.4,260.9 399.2,260.9 402.0,261.0 404.8,261.1 407.6,261.3 410.4,261.6 413.2,261.9 416.0,262.5 418.8,263.3 421.6,264.4 424.4,265.9 427.2,268.2 430.0,271.2 432.8,275.3 435.7,280.7 438.5,287.5 441.3,295.7 444.1,304.9 446.9,314.6 449.7,324.2 452.5,333.1 455.3,340.7 458.1,347.0 460.9,351.9 463.7,355.5 466.5,358.2 469.3,360.2 472.1,361.6 475.0,362.5 477.8,363.2 480.6,363.7 483.4,364.0 486.2,364.2 489.0,364.4 491.8,364.5 494.6,364.5" fill="none" stroke="#000" stroke-width="2.3" stroke-linejoin="round"/>
<polyline points="326.2,269.1 329.0,269.1 331.8,269.1 334.6,269.1 337.4,269.1 340.2,269.1 343.0,269.1 345.8,269.1 348.6,269.1 351.4,269.1 354.3,269.1 357.1,269.1 359.9,269.1 362.7,269.1 365.5,269.1 368.3,269.1 371.1,269.1 373.9,269.1 376.7,269.1 379.5,269.1 382.3,269.1 385.1,269.1 387.9,269.1 390.7,269.1 393.6,269.1 396.4,269.1 399.2,269.1 402.0,269.1 404.8,269.1 407.6,269.1 410.4,269.1 413.2,269.1 416.0,269.1 418.8,269.1 421.6,269.1 424.4,269.1 427.2,269.1 430.0,269.1 432.8,269.1 435.7,269.1 438.5,269.1 441.3,269.1 444.1,269.1 446.9,269.2 449.7,269.3 452.5,269.6 455.3,270.0 458.1,270.8 460.9,272.3 463.7,275.0 466.5,279.8 469.3,287.6 472.1,299.4 475.0,314.7 477.8,331.3 480.6,346.0 483.4,356.9 486.2,364.1 489.0,368.4 491.8,370.8 494.6,372.1" fill="none" stroke="#000" stroke-width="2.3" stroke-linejoin="round"/>
<polyline points="326.2,272.5 329.0,272.5 331.8,272.5 334.6,272.5 337.4,272.5 340.2,272.5 343.0,272.5 345.8,272.5 348.6,272.5 351.4,272.5 354.3,272.5 357.1,272.5 359.9,272.5 362.7,272.5 365.5,272.5 368.3,272.5 371.1,272.5 373.9,272.5 376.7,272.5 379.5,272.5 382.3,272.5 385.1,272.5 387.9,272.5 390.7,272.5 393.6,272.5 396.4,272.5 399.2,272.5 402.0,272.5 404.8,272.5 407.6,272.5 410.4,272.5 413.2,272.5 416.0,272.5 418.8,272.5 421.6,272.5 424.4,272.5 427.2,272.5 430.0,272.5 432.8,272.5 435.7,272.6 438.5,272.6 441.3,272.6 444.1,272.6 446.9,272.7 449.7,272.9 452.5,273.1 455.3,273.6 458.1,274.5 460.9,275.9 463.7,278.5 466.5,282.7 469.3,289.4 472.1,299.2 475.0,311.9 477.8,326.1 480.6,339.6 483.4,350.6 486.2,358.4 489.0,363.5 491.8,366.6 494.6,368.4" fill="none" stroke="#000" stroke-width="2.3" stroke-linejoin="round"/>
<polyline points="326.2,268.1 329.0,268.1 331.8,268.1 334.6,268.1 337.4,268.1 340.2,268.1 343.0,268.1 345.8,268.2 348.6,268.2 351.4,268.2 354.3,268.2 357.1,268.3 359.9,268.3 362.7,268.4 365.5,268.5 368.3,268.6 371.1,268.8 373.9,269.0 376.7,269.3 379.5,269.6 382.3,270.1 385.1,270.8 387.9,271.6 390.7,272.7 393.6,274.1 396.4,276.0 399.2,278.3 402.0,281.2 404.8,284.7 407.6,289.0 410.4,294.0 413.2,299.8 416.0,306.1 418.8,312.8 421.6,319.7 424.4,326.5 427.2,332.9 430.0,338.7 432.8,343.9 435.7,348.3 438.5,351.9 441.3,354.9 444.1,357.3 446.9,359.2 449.7,360.6 452.5,361.8 455.3,362.7 458.1,363.3 460.9,363.9 463.7,364.2 466.5,364.5 469.3,364.8 472.1,364.9 475.0,365.1 477.8,365.2 480.6,365.2 483.4,365.3 486.2,365.3 489.0,365.4 491.8,365.4 494.6,365.4" fill="none" stroke="#000" stroke-width="2.3" stroke-linejoin="round"/>
<polyline points="326.2,269.7 329.0,269.7 331.8,269.7 334.6,269.7 337.4,269.7 340.2,269.7 343.0,269.8 345.8,269.8 348.6,269.8 351.4,269.9 354.3,269.9 357.1,270.0 359.9,270.1 362.7,270.2 365.5,270.3 368.3,270.5 371.1,270.6 373.9,270.9 376.7,271.2 379.5,271.5 382.3,272.0 385.1,272.5 387.9,273.2 390.7,273.9 393.6,274.9 396.4,276.1 399.2,277.4 402.0,279.1 404.8,281.1 407.6,283.4 410.4,286.1 413.2,289.2 416.0,292.7 418.8,296.6 421.6,300.9 424.4,305.6 427.2,310.5 430.0,315.6 432.8,320.8 435.7,325.9 438.5,330.8 441.3,335.6 444.1,339.9 446.9,344.0 449.7,347.5 452.5,350.7 455.3,353.5 458.1,355.9 460.9,357.9 463.7,359.6 466.5,361.1 469.3,362.3 472.1,363.3 475.0,364.1 477.8,364.8 480.6,365.3 483.4,365.8 486.2,366.1 489.0,366.5 491.8,366.7 494.6,366.9" fill="none" stroke="#000" stroke-width="2.3" stroke-linejoin="round"/>
<polyline points="326.2,252.8 329.0,252.8 331.8,252.8 334.6,252.9 337.4,252.9 340.2,252.9 343.0,252.9 345.8,252.9 348.6,253.0 351.4,253.0 354.3,253.1 357.1,253.2 359.9,253.2 362.7,253.4 365.5,253.5 368.3,253.7 371.1,253.9 373.9,254.1 376.7,254.5 379.5,254.9 382.3,255.4 385.1,256.0 387.9,256.8 390.7,257.7 393.6,258.9 396.4,260.3 399.2,262.0 402.0,264.1 404.8,266.6 407.6,269.6 410.4,273.1 413.2,277.2 416.0,281.8 418.8,287.1 421.6,292.8 424.4,299.1 427.2,305.7 430.0,312.5 432.8,319.4 435.7,326.1 438.5,332.6 441.3,338.7 444.1,344.2 446.9,349.2 449.7,353.7 452.5,357.5 455.3,360.8 458.1,363.6 460.9,365.9 463.7,367.9 466.5,369.5 469.3,370.8 472.1,371.9 475.0,372.8 477.8,373.5 480.6,374.0 483.4,374.5 486.2,374.9 489.0,375.2 491.8,375.4 494.6,375.6" fill="none" stroke="#000" stroke-width="2.3" stroke-linejoin="round"/>
<polyline points="326.2,258.8 329.0,258.8 331.8,258.8 334.6,258.8 337.4,258.8 340.2,258.8 343.0,258.8 345.8,258.8 348.6,258.8 351.4,258.8 354.3,258.8 357.1,258.8 359.9,258.8 362.7,258.8 365.5,258.8 368.3,258.8 371.1,258.8 373.9,258.8 376.7,258.8 379.5,258.8 382.3,258.8 385.1,258.8 387.9,258.8 390.7,258.8 393.6,258.8 396.4,258.8 399.2,258.8 402.0,258.9 404.8,258.9 407.6,259.0 410.4,259.1 413.2,259.3 416.0,259.5 418.8,259.8 421.6,260.2 424.4,260.8 427.2,261.7 430.0,263.0 432.8,264.7 435.7,267.1 438.5,270.4 441.3,274.7 444.1,280.3 446.9,287.3 449.7,295.7 452.5,305.1 455.3,315.2 458.1,325.2 460.9,334.7 463.7,343.0 466.5,349.9 469.3,355.4 472.1,359.7 475.0,362.9 477.8,365.3 480.6,367.0 483.4,368.2 486.2,369.1 489.0,369.7 491.8,370.1 494.6,370.4" fill="none" stroke="#000" stroke-width="2.3" stroke-linejoin="round"/>
<polyline points="326.2,254.2 329.0,254.2 331.8,254.2 334.6,254.2 337.4,254.2 340.2,254.2 343.0,254.2 345.8,254.2 348.6,254.2 351.4,254.2 354.3,254.2 357.1,254.2 359.9,254.2 362.7,254.2 365.5,254.2 368.3,254.2 371.1,254.2 373.9,254.2 376.7,254.2 379.5,254.2 382.3,254.2 385.1,254.2 387.9,254.2 390.7,254.2 393.6,254.2 396.4,254.2 399.2,254.2 402.0,254.2 404.8,254.2 407.6,254.2 410.4,254.2 413.2,254.2 416.0,254.2 418.8,254.2 421.6,254.2 424.4,254.2 427.2,254.2 430.0,254.2 432.8,254.2 435.7,254.2 438.5,254.2 441.3,254.2 444.1,254.2 446.9,254.2 449.7,254.2 452.5,254.3 455.3,254.3 458.1,254.4 460.9,254.6 463.7,255.2 466.5,256.6 469.3,260.1 472.1,268.0 475.0,284.2 477.8,309.7 480.6,337.6 483.4,358.3 486.2,369.5 489.0,374.6 491.8,376.8 494.6,377.6" fill="none" stroke="#000" stroke-width="2.3" stroke-linejoin="round"/>
<polyline points="326.2,269.0 329.0,269.0 331.8,269.0 334.6,269.0 337.4,269.0 340.2,269.0 343.0,269.0 345.8,269.0 348.6,269.0 351.4,269.0 354.3,269.0 357.1,269.0 359.9,269.0 362.7,269.0 365.5,269.0 368.3,269.0 371.1,269.0 373.9,269.0 376.7,269.0 379.5,269.0 382.3,269.0 385.1,269.0 387.9,269.0 390.7,269.0 393.6,269.0 396.4,269.0 399.2,269.0 402.0,269.0 404.8,269.0 407.6,269.0 410.4,269.0 413.2,269.0 416.0,269.0 418.8,269.0 421.6,269.0 424.4,269.0 427.2,269.0 430.0,269.1 432.8,269.1 435.7,269.1 438.5,269.2 441.3,269.3 444.1,269.5 446.9,269.8 449.7,270.4 452.5,271.4 455.3,273.1 458.1,276.0 460.9,280.6 463.7,287.6 466.5,297.5 469.3,310.3 472.1,324.5 475.0,338.3 477.8,349.8 480.6,358.4 483.4,364.2 486.2,367.9 489.0,370.1 491.8,371.5 494.6,372.2" fill="none" stroke="#000" stroke-width="2.3" stroke-linejoin="round"/>
<polyline points="326.2,252.7 329.0,252.7 331.8,252.7 334.6,252.7 337.4,252.7 340.2,252.7 343.0,252.7 345.8,252.7 348.6,252.8 351.4,252.8 354.3,252.8 357.1,252.8 359.9,252.9 362.7,252.9 365.5,253.0 368.3,253.1 371.1,253.3 373.9,253.4 376.7,253.7 379.5,253.9 382.3,254.3 385.1,254.8 387.9,255.4 390.7,256.2 393.6,257.2 396.4,258.5 399.2,260.1 402.0,262.2 404.8,264.8 407.6,267.9 410.4,271.8 413.2,276.4 416.0,281.7 418.8,287.8 421.6,294.6 424.4,302.0 427.2,309.6 430.0,317.3 432.8,324.8 435.7,331.8 438.5,338.3 441.3,344.0 444.1,348.9 446.9,353.1 449.7,356.5 452.5,359.3 455.3,361.6 458.1,363.4 460.9,364.9 463.7,366.0 466.5,366.9 469.3,367.6 472.1,368.1 475.0,368.5 477.8,368.9 480.6,369.1 483.4,369.3 486.2,369.5 489.0,369.6 491.8,369.7 494.6,369.7" fill="none" stroke="#000" stroke-width="2.3" stroke-linejoin="round"/>
<polyline points="326.2,252.6 329.0,252.6 331.8,252.6 334.6,252.6 337.4,252.6 340.2,252.6 343.0,252.6 345.8,252.6 348.6,252.6 351.4,252.6 354.3,252.6 357.1,252.6 359.9,252.6 362.7,252.6 365.5,252.6 368.3,252.6 371.1,252.6 373.9,252.6 376.7,252.6 379.5,252.6 382.3,252.6 385.1,252.6 387.9,252.6 390.7,252.6 393.6,252.6 396.4,252.6 399.2,252.6 402.0,252.6 404.8,252.6 407.6,252.6 410.4,252.7 413.2,252.7 416.0,252.8 418.8,252.9 421.6,253.1 424.4,253.3 427.2,253.7 430.0,254.2 432.8,255.0 435.7,256.1 438.5,257.8 441.3,260.1 444.1,263.4 446.9,268.0 449.7,274.1 452.5,282.0 455.3,291.5 458.1,302.3 460.9,313.8 463.7,325.1 466.5,335.4 469.3,344.1 472.1,351.1 475.0,356.4 477.8,360.3 480.6,363.1 483.4,365.1 486.2,366.5 489.0,367.5 491.8,368.1 494.6,368.5" fill="none" stroke="#000" stroke-width="2.3" stroke-linejoin="round"/>
<polyline points="326.2,259.5 329.0,259.5 331.8,259.5 334.6,259.5 337.4,259.5 340.2,259.5 343.0,259.5 345.8,259.5 348.6,259.5 351.4,259.5 354.3,259.5 357.1,259.5 359.9,259.6 362.7,259.6 365.5,259.6 368.3,259.6 371.1,259.7 373.9,259.7 376.7,259.8 379.5,259.9 382.3,260.0 385.1,260.2 387.9,260.5 390.7,260.8 393.6,261.3 396.4,261.9 399.2,262.6 402.0,263.7 404.8,265.0 407.6,266.8 410.4,269.1 413.2,272.1 416.0,275.8 418.8,280.5 421.6,286.0 424.4,292.6 427.2,300.1 430.0,308.2 432.8,316.9 435.7,325.5 438.5,333.9 441.3,341.7 444.1,348.6 446.9,354.5 449.7,359.5 452.5,363.6 455.3,366.8 458.1,369.3 460.9,371.3 463.7,372.8 466.5,374.0 469.3,374.8 472.1,375.5 475.0,376.0 477.8,376.4 480.6,376.6 483.4,376.9 486.2,377.0 489.0,377.1 491.8,377.2 494.6,377.3" fill="none" stroke="#000" stroke-width="2.3" stroke-linejoin="round"/>
<polyline points="326.2,265.3 329.0,265.3 331.8,265.3 334.6,265.3 337.4,265.3 340.2,265.4 343.0,265.4 345.8,265.5 348.6,265.6 351.4,265.7 354.3,265.8 357.1,265.9 359.9,266.1 362.7,266.4 365.5,266.7 368.3,267.1 371.1,267.6 373.9,268.3 376.7,269.1 379.5,270.1 382.3,271.4 385.1,273.0 387.9,274.9 390.7,277.3 393.6,280.1 396.4,283.5 399.2,287.5 402.0,292.1 404.8,297.2 407.6,302.8 410.4,308.7 413.2,314.9 416.0,321.1 418.8,327.2 421.6,332.9 424.4,338.2 427.2,343.0 430.0,347.1 432.8,350.7 435.7,353.8 438.5,356.3 441.3,358.4 444.1,360.1 446.9,361.5 449.7,362.6 452.5,363.5 455.3,364.2 458.1,364.7 460.9,365.2 463.7,365.5 466.5,365.8 469.3,366.0 472.1,366.2 475.0,366.3 477.8,366.4 480.6,366.5 483.4,366.6 486.2,366.6 489.0,366.7 491.8,366.7 494.6,366.7" fill="none" stroke="#000" stroke-width="2.3" stroke-linejoin="round"/>
<polyline points="326.2,258.9 329.0,258.9 331.8,258.9 334.6,258.9 337.4,258.9 340.2,258.9 343.0,258.9 345.8,258.9 348.6,258.9 351.4,258.9 354.3,258.9 357.1,258.9 359.9,258.9 362.7,258.9 365.5,258.9 368.3,258.9 371.1,258.9 373.9,258.9 376.7,258.9 379.5,258.9 382.3,258.9 385.1,258.9 387.9,258.9 390.7,258.9 393.6,258.9 396.4,258.9 399.2,258.9 402.0,258.9 404.8,258.9 407.6,258.9 410.4,258.9 413.2,259.0 416.0,259.0 418.8,259.1 421.6,259.2 424.4,259.5 427.2,259.9 430.0,260.7 432.8,262.1 435.7,264.6 438.5,268.9 441.3,275.8 444.1,286.2 446.9,300.3 449.7,316.7 452.5,332.8 455.3,346.2 458.1,355.9 460.9,362.2 463.7,366.0 466.5,368.3 469.3,369.5 472.1,370.3 475.0,370.7 477.8,370.9 480.6,371.0 483.4,371.1 486.2,371.1 489.0,371.1 491.8,371.1 494.6,371.1" fill="none" stroke="#000" stroke-width="2.3" stroke-linejoin="round"/>
<polyline points="326.2,257.3 329.0,257.3 331.8,257.3 334.6,257.3 337.4,257.3 340.2,257.3 343.0,257.3 345.8,257.3 348.6,257.3 351.4,257.3 354.3,257.3 357.1,257.3 359.9,257.3 362.7,257.3 365.5,257.3 368.3,257.3 371.1,257.3 373.9,257.3 376.7,257.3 379.5,257.3 382.3,257.3 385.1,257.3 387.9,257.3 390.7,257.3 393.6,257.3 396.4,257.3 399.2,257.3 402.0,257.3 404.8,257.3 407.6,257.3 410.4,257.3 413.2,257.4 416.0,257.5 418.8,257.6 421.6,257.8 424.4,258.2 427.2,259.0 430.0,260.2 432.8,262.2 435.7,265.7 438.5,271.3 441.3,279.7 444.1,291.7 446.9,306.9 449.7,323.6 452.5,339.4 455.3,352.5 458.1,362.0 460.9,368.4 463.7,372.4 466.5,374.8 469.3,376.2 472.1,377.1 475.0,377.6 477.8,377.8 480.6,378.0 483.4,378.1 486.2,378.2 489.0,378.2 491.8,378.2 494.6,378.2" fill="none" stroke="#000" stroke-width="2.3" stroke-linejoin="round"/>
<polyline points="326.2,271.9 329.0,271.9 331.8,271.9 334.6,271.9 337.4,272.0 340.2,272.0 343.0,272.0 345.8,272.0 348.6,272.0 351.4,272.1 354.3,272.1 357.1,272.2 359.9,272.3 362.7,272.4 365.5,272.5 368.3,272.7 371.1,273.0 373.9,273.3 376.7,273.7 379.5,274.3 382.3,274.9 385.1,275.8 387.9,277.0 390.7,278.4 393.6,280.2 396.4,282.5 399.2,285.3 402.0,288.7 404.8,292.8 407.6,297.7 410.4,303.2 413.2,309.4 416.0,316.1 418.8,323.2 421.6,330.3 424.4,337.3 427.2,343.9 430.0,349.9 432.8,355.3 435.7,360.0 438.5,363.9 441.3,367.2 444.1,369.9 446.9,372.0 449.7,373.8 452.5,375.1 455.3,376.2 458.1,377.0 460.9,377.7 463.7,378.2 466.5,378.6 469.3,378.9 472.1,379.1 475.0,379.3 477.8,379.4 480.6,379.5 483.4,379.6 486.2,379.7 489.0,379.7 491.8,379.8 494.6,379.8" fill="none" stroke="#000" stroke-width="2.3" stroke-linejoin="round"/>
<polyline points="326.2,267.2 329.0,267.2 331.8,267.2 334.6,267.2 337.4,267.2 340.2,267.2 343.0,267.2 345.8,267.2 348.6,267.2 351.4,267.2 354.3,267.2 357.1,267.2 359.9,267.2 362.7,267.2 365.5,267.2 368.3,267.2 371.1,267.2 373.9,267.2 376.7,267.2 379.5,267.2 382.3,267.2 385.1,267.2 387.9,267.2 390.7,267.2 393.6,267.2 396.4,267.2 399.2,267.2 402.0,267.3 404.8,267.3 407.6,267.3 410.4,267.4 413.2,267.5 416.0,267.6 418.8,267.8 421.6,268.2 424.4,268.7 427.2,269.4 430.0,270.6 432.8,272.2 435.7,274.7 438.5,278.2 441.3,283.0 444.1,289.6 446.9,298.0 449.7,308.2 452.5,319.5 455.3,331.2 458.1,342.2 460.9,351.8 463.7,359.6 466.5,365.5 469.3,369.9 472.1,373.0 475.0,375.1 477.8,376.6 480.6,377.5 483.4,378.2 486.2,378.6 489.0,378.9 491.8,379.1 494.6,379.2" fill="none" stroke="#000" stroke-width="2.3" stroke-linejoin="round"/>
<polyline points="326.2,266.8 329.0,266.8 331.8,266.8 334.6,266.8 337.4,266.8 340.2,266.8 343.0,266.8 345.8,266.8 348.6,266.8 351.4,266.8 354.3,266.8 357.1,266.8 359.9,266.8 362.7,266.8 365.5,266.8 368.3,266.8 371.1,266.8 373.9,266.8 376.7,266.8 379.5,266.8 382.3,266.8 385.1,266.8 387.9,266.8 390.7,266.8 393.6,266.8 396.4,266.8 399.2,266.8 402.0,266.8 404.8,266.8 407.6,266.8 410.4,266.8 413.2,266.8 416.0,266.8 418.8,266.9 421.6,266.9 424.4,266.9 427.2,267.0 430.0,267.0 432.8,267.2 435.7,267.4 438.5,267.8 441.3,268.4 444.1,269.4 446.9,271.1 449.7,273.6 452.5,277.6 455.3,283.5 458.1,291.8 460.9,302.5 463.7,314.9 466.5,327.6 469.3,339.2 472.1,348.7 475.0,355.7 477.8,360.5 480.6,363.7 483.4,365.8 486.2,367.0 489.0,367.8 491.8,368.3 494.6,368.6" fill="none" stroke="#000" stroke-width="2.3" stroke-linejoin="round"/>
<polyline points="326.2,272.5 329.0,272.5 331.8,272.5 334.6,272.5 337.4,272.5 340.2,272.5 343.0,272.5 345.8,272.5 348.6,272.5 351.4,272.5 354.3,272.5 357.1,272.5 359.9,272.5 362.7,272.5 365.5,272.5 368.3,272.5 371.1,272.5 373.9,272.5 376.7,272.5 379.5,272.5 382.3,272.5 385.1,272.5 387.9,272.5 390.7,272.5 393.6,272.5 396.4,272.5 399.2,272.5 402.0,272.5 404.8,272.5 407.6,272.5 410.4,272.5 413.2,272.5 416.0,272.5 418.8,272.5 421.6,272.5 424.4,272.5 427.2,272.5 430.0,272.6 432.8,272.6 435.7,272.7 438.5,272.9 441.3,273.1 444.1,273.5 446.9,274.1 449.7,275.0 452.5,276.3 455.3,278.4 458.1,281.5 460.9,286.0 463.7,292.2 466.5,300.3 469.3,310.2 472.1,321.3 475.0,332.5 477.8,342.8 480.6,351.4 483.4,358.0 486.2,362.9 489.0,366.3 491.8,368.5 494.6,370.1" fill="none" stroke="#000" stroke-width="2.3" stroke-linejoin="round"/>
<polyline points="326.2,254.0 329.0,254.0 331.8,254.0 334.6,254.0 337.4,254.0 340.2,254.0 343.0,254.0 345.8,254.0 348.6,254.0 351.4,254.0 354.3,254.0 357.1,254.0 359.9,254.0 362.7,254.0 365.5,254.0 368.3,254.0 371.1,254.0 373.9,254.0 376.7,254.0 379.5,254.0 382.3,254.0 385.1,254.0 387.9,254.0 390.7,254.0 393.6,254.0 396.4,254.0 399.2,254.0 402.0,254.0 404.8,254.0 407.6,254.0 410.4,254.0 413.2,254.0 416.0,254.0 418.8,254.0 421.6,254.1 424.4,254.1 427.2,254.1 430.0,254.2 432.8,254.3 435.7,254.6 438.5,255.0 441.3,255.7 444.1,256.9 446.9,259.0 449.7,262.6 452.5,268.2 455.3,276.9 458.1,289.1 460.9,304.5 463.7,321.4 466.5,337.2 469.3,350.1 472.1,359.5 475.0,365.7 477.8,369.6 480.6,371.9 483.4,373.3 486.2,374.1 489.0,374.5 491.8,374.8 494.6,374.9" fill="none" stroke="#000" stroke-width="2.3" stroke-linejoin="round"/>
<polyline points="326.2,272.4 329.0,272.4 331.8,272.4 334.6,272.4 337.4,272.4 340.2,272.4 343.0,272.4 345.8,272.4 348.6,272.4 351.4,272.4 354.3,272.4 357.1,272.4 359.9,272.4 362.7,272.4 365.5,272.4 368.3,272.4 371.1,272.4 373.9,272.4 376.7,272.4 379.5,272.4 382.3,272.4 385.1,272.4 387.9,272.4 390.7,272.4 393.6,272.4 396.4,272.4 399.2,272.4 402.0,272.4 404.8,272.4 407.6,272.4 410.4,272.4 413.2,272.4 416.0,272.4 418.8,272.5 421.6,272.5 424.4,272.5 427.2,272.5 430.0,272.6 432.8,272.6 435.7,272.8 438.5,272.9 441.3,273.3 444.1,273.8 446.9,274.5 449.7,275.8 452.5,277.7 455.3,280.7 458.1,285.2 460.9,291.5 463.7,300.2 466.5,311.0 469.3,323.4 472.1,336.2 475.0,347.9 477.8,357.7 480.6,365.1 483.4,370.4 486.2,374.1 489.0,376.5 491.8,378.0 494.6,379.0" fill="none" stroke="#000" stroke-width="2.3" stroke-linejoin="round"/>
<polyline points="326.2,261.7 329.0,261.7 331.8,261.7 334.6,261.7 337.4,261.7 340.2,261.7 343.0,261.7 345.8,261.7 348.6,261.7 351.4,261.7 354.3,261.7 357.1,261.7 359.9,261.7 362.7,261.7 365.5,261.7 368.3,261.7 371.1,261.7 373.9,261.7 376.7,261.7 379.5,261.7 382.3,261.7 385.1,261.7 387.9,261.7 390.7,261.7 393.6,261.7 396.4,261.7 399.2,261.7 402.0,261.7 404.8,261.7 407.6,261.7 410.4,261.7 413.2,261.7 416.0,261.7 418.8,261.7 421.6,261.7 424.4,261.7 427.2,261.8 430.0,261.9 432.8,262.1 435.7,262.6 438.5,263.5 441.3,265.4 444.1,268.9 446.9,275.4 449.7,286.2 452.5,302.0 455.3,320.9 458.1,339.1 460.9,352.9 463.7,361.9 466.5,367.0 469.3,369.7 472.1,371.1 475.0,371.8 477.8,372.2 480.6,372.4 483.4,372.5 486.2,372.5 489.0,372.5 491.8,372.5 494.6,372.5" fill="none" stroke="#000" stroke-width="2.3" stroke-linejoin="round"/>
<polyline points="326.2,254.0 329.0,254.0 331.8,254.0 334.6,254.0 337.4,254.0 340.2,254.0 343.0,254.0 345.8,254.0 348.6,254.0 351.4,254.0 354.3,254.0 357.1,254.0 359.9,254.0 362.7,254.0 365.5,254.0 368.3,254.0 371.1,254.0 373.9,254.0 376.7,254.0 379.5,254.0 382.3,254.0 385.1,254.0 387.9,254.0 390.7,254.0 393.6,254.0 396.4,254.0 399.2,254.0 402.0,254.0 404.8,254.0 407.6,254.0 410.4,254.0 413.2,254.0 416.0,254.0 418.8,254.0 421.6,254.1 424.4,254.1 427.2,254.2 430.0,254.4 432.8,254.6 435.7,254.9 438.5,255.4 441.3,256.1 444.1,257.1 446.9,258.7 449.7,260.9 452.5,264.2 455.3,268.8 458.1,275.0 460.9,283.2 463.7,293.2 466.5,304.8 469.3,317.1 472.1,329.1 475.0,340.0 477.8,349.1 480.6,356.3 483.4,361.7 486.2,365.6 489.0,368.3 491.8,370.2 494.6,371.5" fill="none" stroke="#000" stroke-width="2.3" stroke-linejoin="round"/>
<polyline points="326.2,268.0 329.0,268.0 331.8,268.0 334.6,268.0 337.4,268.0 340.2,268.0 343.0,268.0 345.8,268.0 348.6,268.0 351.4,268.0 354.3,268.0 357.1,268.0 359.9,268.0 362.7,268.0 365.5,268.0 368.3,268.0 371.1,268.0 373.9,268.0 376.7,268.0 379.5,268.0 382.3,268.0 385.1,268.0 387.9,268.0 390.7,268.0 393.6,268.0 396.4,268.0 399.2,268.0 402.0,268.0 404.8,268.0 407.6,268.1 410.4,268.1 413.2,268.1 416.0,268.1 418.8,268.1 421.6,268.2 424.4,268.3 427.2,268.4 430.0,268.5 432.8,268.7 435.7,269.0 438.5,269.4 441.3,270.0 444.1,270.8 446.9,271.9 449.7,273.5 452.5,275.7 455.3,278.7 458.1,282.6 460.9,287.7 463.7,294.0 466.5,301.5 469.3,310.1 472.1,319.4 475.0,328.6 477.8,337.4 480.6,345.3 483.4,351.9 486.2,357.3 489.0,361.5 491.8,364.6 494.6,367.0" fill="none" stroke="#000" stroke-width="2.3" stroke-linejoin="round"/>
<polyline points="326.2,270.4 329.0,270.4 331.8,270.4 334.6,270.4 337.4,270.4 340.2,270.4 343.0,270.4 345.8,270.4 348.6,270.4 351.4,270.4 354.3,270.4 357.1,270.4 359.9,270.4 362.7,270.4 365.5,270.4 368.3,270.4 371.1,270.4 373.9,270.4 376.7,270.4 379.5,270.4 382.3,270.4 385.1,270.4 387.9,270.4 390.7,270.4 393.6,270.4 396.4,270.4 399.2,270.4 402.0,270.4 404.8,270.4 407.6,270.4 410.4,270.4 413.2,270.4 416.0,270.4 418.8,270.4 421.6,270.4 424.4,270.4 427.2,270.5 430.0,270.5 432.8,270.7 435.7,270.9 438.5,271.3 441.3,272.1 444.1,273.4 446.9,275.7 449.7,279.6 452.5,285.8 455.3,295.2 458.1,307.7 460.9,322.0 463.7,336.0 466.5,347.6 469.3,355.9 472.1,361.3 475.0,364.6 477.8,366.6 480.6,367.7 483.4,368.3 486.2,368.6 489.0,368.8 491.8,368.9 494.6,369.0" fill="none" stroke="#000" stroke-width="2.3" stroke-linejoin="round"/>
<polyline points="326.2,262.1 329.0,262.1 331.8,262.1 334.6,262.1 337.4,262.1 340.2,262.1 343.0,262.1 345.8,262.1 348.6,262.1 351.4,262.1 354.3,262.1 357.1,262.1 359.9,262.1 362.7,262.1 365.5,262.1 368.3,262.1 371.1,262.1 373.9,262.1 376.7,262.1 379.5,262.1 382.3,262.1 385.1,262.1 387.9,262.1 390.7,262.1 393.6,262.1 396.4,262.1 399.2,262.1 402.0,262.2 404.8,262.2 407.6,262.3 410.4,262.4 413.2,262.5 416.0,262.7 418.8,262.9 421.6,263.3 424.4,263.8 427.2,264.5 430.0,265.5 432.8,266.9 435.7,268.8 438.5,271.4 441.3,275.0 444.1,279.7 446.9,285.6 449.7,292.9 452.5,301.5 455.3,311.0 458.1,321.0 460.9,330.8 463.7,339.9 466.5,347.9 469.3,354.5 472.1,359.8 475.0,363.9 477.8,367.0 480.6,369.2 483.4,370.9 486.2,372.1 489.0,372.9 491.8,373.5 494.6,373.9" fill="none" stroke="#000" stroke-width="2.3" stroke-linejoin="round"/>
<polyline points="326.2,266.8 329.0,266.8 331.8,266.8 334.6,266.8 337.4,266.8 340.2,266.8 343.0,266.8 345.8,266.8 348.6,266.8 351.4,266.8 354.3,266.8 357.1,266.8 359.9,266.8 362.7,266.8 365.5,266.8 368.3,266.8 371.1,266.8 373.9,266.8 376.7,266.8 379.5,266.8 382.3,266.8 385.1,266.8 387.9,266.8 390.7,266.8 393.6,266.8 396.4,266.8 399.2,266.8 402.0,266.8 404.8,266.8 407.6,266.8 410.4,266.8 413.2,266.8 416.0,266.8 418.8,266.8 421.6,266.8 424.4,266.8 427.2,266.8 430.0,266.8 432.8,266.8 435.7,266.8 438.5,266.9 441.3,267.0 444.1,267.1 446.9,267.4 449.7,267.8 452.5,268.6 455.3,270.0 458.1,272.2 460.9,275.9 463.7,281.7 466.5,290.3 469.3,302.1 472.1,316.2 475.0,331.1 477.8,344.5 480.6,355.1 483.4,362.5 486.2,367.4 489.0,370.5 491.8,372.3 494.6,373.4" fill="none" stroke="#000" stroke-width="2.3" stroke-linejoin="round"/>
<polyline points="326.2,271.7 329.0,271.7 331.8,271.8 334.6,271.8 337.4,271.8 340.2,271.8 343.0,271.8 345.8,271.8 348.6,271.8 351.4,271.9 354.3,271.9 357.1,272.0 359.9,272.0 362.7,272.1 365.5,272.3 368.3,272.4 371.1,272.6 373.9,272.9 376.7,273.2 379.5,273.7 382.3,274.2 385.1,275.0 387.9,275.9 390.7,277.0 393.6,278.5 396.4,280.4 399.2,282.7 402.0,285.4 404.8,288.8 407.6,292.8 410.4,297.4 413.2,302.6 416.0,308.3 418.8,314.4 421.6,320.6 424.4,326.8 427.2,332.8 430.0,338.3 432.8,343.4 435.7,347.8 438.5,351.5 441.3,354.7 444.1,357.3 446.9,359.5 449.7,361.2 452.5,362.6 455.3,363.6 458.1,364.5 460.9,365.2 463.7,365.7 466.5,366.1 469.3,366.4 472.1,366.6 475.0,366.8 477.8,367.0 480.6,367.1 483.4,367.2 486.2,367.2 489.0,367.3 491.8,367.3 494.6,367.4" fill="none" stroke="#000" stroke-width="2.3" stroke-linejoin="round"/>
<polyline points="326.2,257.0 329.0,257.0 331.8,257.0 334.6,257.0 337.4,257.0 340.2,257.0 343.0,257.0 345.8,257.0 348.6,257.0 351.4,257.0 354.3,257.0 357.1,257.0 359.9,257.0 362.7,257.0 365.5,257.0 368.3,257.0 371.1,257.0 373.9,257.0 376.7,257.0 379.5,257.0 382.3,257.0 385.1,257.0 387.9,257.0 390.7,257.0 393.6,257.0 396.4,257.0 399.2,257.0 402.0,257.0 404.8,257.0 407.6,257.0 410.4,257.1 413.2,257.1 416.0,257.2 418.8,257.3 421.6,257.4 424.4,257.6 427.2,257.9 430.0,258.3 432.8,258.8 435.7,259.6 438.5,260.8 441.3,262.3 444.1,264.6 446.9,267.6 449.7,271.7 452.5,277.2 455.3,284.2 458.1,292.7 460.9,302.7 463.7,313.8 466.5,325.3 469.3,336.4 472.1,346.6 475.0,355.3 477.8,362.4 480.6,368.1 483.4,372.3 486.2,375.5 489.0,377.8 491.8,379.4 494.6,380.6" fill="none" stroke="#000" stroke-width="2.3" stroke-linejoin="round"/>
<polyline points="326.2,257.3 329.0,257.3 331.8,257.3 334.6,257.3 337.4,257.3 340.2,257.3 343.0,257.3 345.8,257.3 348.6,257.3 351.4,257.3 354.3,257.3 357.1,257.3 359.9,257.3 362.7,257.3 365.5,257.3 368.3,257.3 371.1,257.3 373.9,257.3 376.7,257.3 379.5,257.3 382.3,257.3 385.1,257.3 387.9,257.3 390.7,257.3 393.6,257.3 396.4,257.4 399.2,257.4 402.0,257.4 404.8,257.5 407.6,257.6 410.4,257.7 413.2,257.9 416.0,258.2 418.8,258.6 421.6,259.3 424.4,260.2 427.2,261.7 430.0,263.9 432.8,267.0 435.7,271.4 438.5,277.5 441.3,285.4 444.1,295.2 446.9,306.5 449.7,318.4 452.5,330.0 455.3,340.3 458.1,348.9 460.9,355.6 463.7,360.5 466.5,364.1 469.3,366.5 472.1,368.2 475.0,369.3 477.8,370.1 480.6,370.6 483.4,370.9 486.2,371.1 489.0,371.3 491.8,371.4 494.6,371.4" fill="none" stroke="#000" stroke-width="2.3" stroke-linejoin="round"/>
<polyline points="326.2,270.4 329.0,270.4 331.8,270.4 334.6,270.4 337.4,270.4 340.2,270.4 343.0,270.4 345.8,270.4 348.6,270.4 351.4,270.4 354.3,270.4 357.1,270.4 359.9,270.4 362.7,270.4 365.5,270.4 368.3,270.4 371.1,270.4 373.9,270.4 376.7,270.4 379.5,270.4 382.3,270.4 385.1,270.4 387.9,270.4 390.7,270.4 393.6,270.4 396.4,270.4 399.2,270.4 402.0,270.4 404.8,270.4 407.6,270.4 410.4,270.4 413.2,270.4 416.0,270.4 418.8,270.4 421.6,270.5 424.4,270.5 427.2,270.7 430.0,270.9 432.8,271.3 435.7,272.1 438.5,273.6 441.3,276.1 444.1,280.5 446.9,287.6 449.7,298.0 452.5,311.3 455.3,325.6 458.1,338.3 460.9,347.9 463.7,354.3 466.5,358.1 469.3,360.4 472.1,361.6 475.0,362.3 477.8,362.7 480.6,362.9 483.4,363.0 486.2,363.0 489.0,363.1 491.8,363.1 494.6,363.1" fill="none" stroke="#858585" stroke-width="2.8" stroke-linejoin="round"/>
<polyline points="326.2,268.2 329.0,268.2 331.8,268.2 334.6,268.2 337.4,268.2 340.2,268.2 343.0,268.2 345.8,268.2 348.6,268.2 351.4,268.2 354.3,268.2 357.1,268.2 359.9,268.2 362.7,268.2 365.5,268.2 368.3,268.2 371.1,268.2 373.9,268.2 376.7,268.2 379.5,268.2 382.3,268.2 385.1,268.2 387.9,268.2 390.7,268.2 393.6,268.2 396.4,268.2 399.2,268.2 402.0,268.2 404.8,268.3 407.6,268.3 410.4,268.3 413.2,268.3 416.0,268.3 418.8,268.3 421.6,268.4 424.4,268.5 427.2,268.7 430.0,268.9 432.8,269.4 435.7,270.2 438.5,271.4 441.3,273.5 444.1,276.7 446.9,281.7 449.7,289.0 452.5,298.9 455.3,310.9 458.1,323.9 460.9,336.3 463.7,346.7 466.5,354.6 469.3,360.1 472.1,363.7 475.0,366.0 477.8,367.4 480.6,368.3 483.4,368.8 486.2,369.1 489.0,369.3 491.8,369.4 494.6,369.5" fill="none" stroke="#858585" stroke-width="2.8" stroke-linejoin="round"/>
<polyline points="326.2,257.5 329.0,257.5 331.8,257.5 334.6,257.5 337.4,257.5 340.2,257.5 343.0,257.5 345.8,257.5 348.6,257.5 351.4,257.5 354.3,257.5 357.1,257.5 359.9,257.5 362.7,257.5 365.5,257.5 368.3,257.5 371.1,257.5 373.9,257.5 376.7,257.5 379.5,257.5 382.3,257.5 385.1,257.5 387.9,257.5 390.7,257.5 393.6,257.5 396.4,257.5 399.2,257.5 402.0,257.5 404.8,257.6 407.6,257.6 410.4,257.7 413.2,257.9 416.0,258.1 418.8,258.4 421.6,258.9 424.4,259.6 427.2,260.7 430.0,262.2 432.8,264.5 435.7,267.8 438.5,272.4 441.3,278.6 444.1,286.6 446.9,296.3 449.7,307.2 452.5,318.6 455.3,329.4 458.1,339.0 460.9,346.8 463.7,352.9 466.5,357.4 469.3,360.6 472.1,362.8 475.0,364.3 477.8,365.3 480.6,366.0 483.4,366.5 486.2,366.8 489.0,367.0 491.8,367.2 494.6,367.2" fill="none" stroke="#858585" stroke-width="2.8" stroke-linejoin="round"/>
<polyline points="326.2,256.4 329.0,256.4 331.8,256.4 334.6,256.4 337.4,256.4 340.2,256.4 343.0,256.5 345.8,256.5 348.6,256.5 351.4,256.5 354.3,256.5 357.1,256.6 359.9,256.6 362.7,256.7 365.5,256.7 368.3,256.8 371.1,256.9 373.9,257.0 376.7,257.2 379.5,257.4 382.3,257.6 385.1,257.9 387.9,258.2 390.7,258.6 393.6,259.1 396.4,259.7 399.2,260.5 402.0,261.3 404.8,262.4 407.6,263.7 410.4,265.3 413.2,267.1 416.0,269.3 418.8,271.8 421.6,274.8 424.4,278.2 427.2,282.0 430.0,286.3 432.8,291.0 435.7,296.1 438.5,301.4 441.3,307.0 444.1,312.6 446.9,318.2 449.7,323.6 452.5,328.8 455.3,333.7 458.1,338.1 460.9,342.1 463.7,345.7 466.5,348.8 469.3,351.5 472.1,353.8 475.0,355.7 477.8,357.4 480.6,358.8 483.4,359.9 486.2,360.9 489.0,361.7 491.8,362.3 494.6,362.9" fill="none" stroke="#858585" stroke-width="2.8" stroke-linejoin="round"/>
<line x1="308.40" y1="378.20" x2="494.60" y2="378.20" stroke="#333" stroke-width="1.1" stroke-dasharray="1.2,1"/>
<line x1="307.40" y1="238.30" x2="307.40" y2="389.80" stroke="#000" stroke-width="2" />
<line x1="306.40" y1="388.80" x2="495.60" y2="388.80" stroke="#000" stroke-width="2" />
<line x1="301.90" y1="378.20" x2="307.40" y2="378.20" stroke="#000" stroke-width="2" />
<text x="300.80" y="382.10" font-size="11" text-anchor="end" font-weight="bold" fill="#000" >0.0</text>
<line x1="301.90" y1="356.64" x2="307.40" y2="356.64" stroke="#000" stroke-width="2" />
<text x="300.80" y="360.54" font-size="11" text-anchor="end" font-weight="bold" fill="#000" >0.2</text>
<line x1="301.90" y1="335.08" x2="307.40" y2="335.08" stroke="#000" stroke-width="2" />
<text x="300.80" y="338.98" font-size="11" text-anchor="end" font-weight="bold" fill="#000" >0.4</text>
<line x1="301.90" y1="313.52" x2="307.40" y2="313.52" stroke="#000" stroke-width="2" />
<text x="300.80" y="317.42" font-size="11" text-anchor="end" font-weight="bold" fill="#000" >0.6</text>
<line x1="301.90" y1="291.96" x2="307.40" y2="291.96" stroke="#000" stroke-width="2" />
<text x="300.80" y="295.86" font-size="11" text-anchor="end" font-weight="bold" fill="#000" >0.8</text>
<line x1="301.90" y1="270.40" x2="307.40" y2="270.40" stroke="#000" stroke-width="2" />
<text x="300.80" y="274.30" font-size="11" text-anchor="end" font-weight="bold" fill="#000" >1.0</text>
<line x1="301.90" y1="248.84" x2="307.40" y2="248.84" stroke="#000" stroke-width="2" />
<text x="300.80" y="252.74" font-size="11" text-anchor="end" font-weight="bold" fill="#000" >1.2</text>
<line x1="307.40" y1="388.80" x2="307.40" y2="394.30" stroke="#000" stroke-width="2" />
<line x1="326.18" y1="388.80" x2="326.18" y2="392.30" stroke="#000" stroke-width="1.6" />
<line x1="337.17" y1="388.80" x2="337.17" y2="392.30" stroke="#000" stroke-width="1.6" />
<line x1="344.97" y1="388.80" x2="344.97" y2="392.30" stroke="#000" stroke-width="1.6" />
<line x1="351.02" y1="388.80" x2="351.02" y2="392.30" stroke="#000" stroke-width="1.6" />
<line x1="355.96" y1="388.80" x2="355.96" y2="392.30" stroke="#000" stroke-width="1.6" />
<line x1="360.13" y1="388.80" x2="360.13" y2="392.30" stroke="#000" stroke-width="1.6" />
<line x1="363.75" y1="388.80" x2="363.75" y2="392.30" stroke="#000" stroke-width="1.6" />
<line x1="366.94" y1="388.80" x2="366.94" y2="392.30" stroke="#000" stroke-width="1.6" />
<line x1="369.80" y1="388.80" x2="369.80" y2="394.30" stroke="#000" stroke-width="2" />
<line x1="388.58" y1="388.80" x2="388.58" y2="392.30" stroke="#000" stroke-width="1.6" />
<line x1="399.57" y1="388.80" x2="399.57" y2="392.30" stroke="#000" stroke-width="1.6" />
<line x1="407.37" y1="388.80" x2="407.37" y2="392.30" stroke="#000" stroke-width="1.6" />
<line x1="413.42" y1="388.80" x2="413.42" y2="392.30" stroke="#000" stroke-width="1.6" />
<line x1="418.36" y1="388.80" x2="418.36" y2="392.30" stroke="#000" stroke-width="1.6" />
<line x1="422.53" y1="388.80" x2="422.53" y2="392.30" stroke="#000" stroke-width="1.6" />
<line x1="426.15" y1="388.80" x2="426.15" y2="392.30" stroke="#000" stroke-width="1.6" />
<line x1="429.34" y1="388.80" x2="429.34" y2="392.30" stroke="#000" stroke-width="1.6" />
<line x1="432.20" y1="388.80" x2="432.20" y2="394.30" stroke="#000" stroke-width="2" />
<line x1="450.98" y1="388.80" x2="450.98" y2="392.30" stroke="#000" stroke-width="1.6" />
<line x1="461.97" y1="388.80" x2="461.97" y2="392.30" stroke="#000" stroke-width="1.6" />
<line x1="469.77" y1="388.80" x2="469.77" y2="392.30" stroke="#000" stroke-width="1.6" />
<line x1="475.82" y1="388.80" x2="475.82" y2="392.30" stroke="#000" stroke-width="1.6" />
<line x1="480.76" y1="388.80" x2="480.76" y2="392.30" stroke="#000" stroke-width="1.6" />
<line x1="484.93" y1="388.80" x2="484.93" y2="392.30" stroke="#000" stroke-width="1.6" />
<line x1="488.55" y1="388.80" x2="488.55" y2="392.30" stroke="#000" stroke-width="1.6" />
<line x1="491.74" y1="388.80" x2="491.74" y2="392.30" stroke="#000" stroke-width="1.6" />
<line x1="494.60" y1="388.80" x2="494.60" y2="394.30" stroke="#000" stroke-width="2" />
<text x="307.40" y="406.80" font-size="11" text-anchor="middle" font-weight="bold" fill="#000" >0.01</text>
<text x="369.80" y="406.80" font-size="11" text-anchor="middle" font-weight="bold" fill="#000" >0.1</text>
<text x="432.20" y="406.80" font-size="11" text-anchor="middle" font-weight="bold" fill="#000" >1</text>
<text x="494.60" y="406.80" font-size="11" text-anchor="middle" font-weight="bold" fill="#000" >10</text>
<text x="401.90" y="419.90" font-size="11.8" text-anchor="middle" font-weight="bold">Parthenolide (<tspan font-weight="normal">μ</tspan>M)</text>
<text x="282.30" y="310.60" font-size="12.7" text-anchor="middle" font-weight="bold" fill="#000" transform="rotate(-90 282.30 310.60)" >Normalized activity</text>
<line x1="40.00" y1="463.50" x2="40.00" y2="611.50" stroke="#000" stroke-width="2" />
<line x1="35.00" y1="610.50" x2="40.00" y2="610.50" stroke="#000" stroke-width="2" />
<line x1="36.80" y1="588.37" x2="40.00" y2="588.37" stroke="#000" stroke-width="1.5" />
<line x1="36.80" y1="575.43" x2="40.00" y2="575.43" stroke="#000" stroke-width="1.5" />
<line x1="36.80" y1="566.25" x2="40.00" y2="566.25" stroke="#000" stroke-width="1.5" />
<line x1="36.80" y1="559.13" x2="40.00" y2="559.13" stroke="#000" stroke-width="1.5" />
<line x1="36.80" y1="553.31" x2="40.00" y2="553.31" stroke="#000" stroke-width="1.5" />
<line x1="36.80" y1="548.39" x2="40.00" y2="548.39" stroke="#000" stroke-width="1.5" />
<line x1="36.80" y1="544.12" x2="40.00" y2="544.12" stroke="#000" stroke-width="1.5" />
<line x1="36.80" y1="540.36" x2="40.00" y2="540.36" stroke="#000" stroke-width="1.5" />
<line x1="35.00" y1="537.00" x2="40.00" y2="537.00" stroke="#000" stroke-width="2" />
<line x1="36.80" y1="514.87" x2="40.00" y2="514.87" stroke="#000" stroke-width="1.5" />
<line x1="36.80" y1="501.93" x2="40.00" y2="501.93" stroke="#000" stroke-width="1.5" />
<line x1="36.80" y1="492.75" x2="40.00" y2="492.75" stroke="#000" stroke-width="1.5" />
<line x1="36.80" y1="485.63" x2="40.00" y2="485.63" stroke="#000" stroke-width="1.5" />
<line x1="36.80" y1="479.81" x2="40.00" y2="479.81" stroke="#000" stroke-width="1.5" />
<line x1="36.80" y1="474.89" x2="40.00" y2="474.89" stroke="#000" stroke-width="1.5" />
<line x1="36.80" y1="470.62" x2="40.00" y2="470.62" stroke="#000" stroke-width="1.5" />
<line x1="36.80" y1="466.86" x2="40.00" y2="466.86" stroke="#000" stroke-width="1.5" />
<line x1="35.00" y1="463.50" x2="40.00" y2="463.50" stroke="#000" stroke-width="2" />
<text x="33.50" y="614.80" font-size="11.3" text-anchor="end" font-weight="bold" fill="#000" >0.1</text>
<text x="33.50" y="541.30" font-size="11.3" text-anchor="end" font-weight="bold" fill="#000" >1</text>
<text x="33.50" y="467.80" font-size="11.3" text-anchor="end" font-weight="bold" fill="#000" >10</text>
<line x1="39.00" y1="610.50" x2="113.50" y2="610.50" stroke="#000" stroke-width="2" />
<line x1="57.70" y1="610.50" x2="57.70" y2="615.70" stroke="#000" stroke-width="2" />
<line x1="95.40" y1="610.50" x2="95.40" y2="615.70" stroke="#000" stroke-width="2" />
<polyline points="56.2,467.9 56.2,462.8 93.7,462.8 93.7,467.9" fill="none" stroke="#000" stroke-width="2"/>
<text x="66.00" y="465.10" font-size="21" text-anchor="start" font-weight="bold" fill="#000" letter-spacing="1.6">**</text>
<text x="13.60" y="536.10" font-size="11.85" text-anchor="middle" font-weight="bold" fill="#000" transform="rotate(-90 13.60 536.10)" >Kinetin riboside IC50 (<tspan font-weight="normal">μ</tspan>M)</text>
<circle cx="67.6" cy="478.7" r="3.1" fill="#000"/>
<circle cx="58.2" cy="485.2" r="3.1" fill="#000"/>
<circle cx="49.2" cy="496.2" r="3.1" fill="#000"/>
<circle cx="58.2" cy="502.3" r="3.1" fill="#000"/>
<circle cx="49.2" cy="508.4" r="3.1" fill="#000"/>
<circle cx="53.7" cy="505.5" r="3.1" fill="#000"/>
<circle cx="62.7" cy="505.5" r="3.1" fill="#000"/>
<circle cx="58.2" cy="509.0" r="3.1" fill="#000"/>
<circle cx="67.6" cy="510.4" r="3.1" fill="#000"/>
<circle cx="49.2" cy="519.0" r="3.1" fill="#000"/>
<circle cx="53.7" cy="515.0" r="3.1" fill="#000"/>
<circle cx="58.2" cy="514.0" r="3.1" fill="#000"/>
<circle cx="62.7" cy="515.0" r="3.1" fill="#000"/>
<circle cx="67.6" cy="519.0" r="3.1" fill="#000"/>
<circle cx="58.2" cy="519.5" r="3.1" fill="#000"/>
<circle cx="53.7" cy="524.0" r="3.1" fill="#000"/>
<circle cx="62.7" cy="524.0" r="3.1" fill="#000"/>
<circle cx="49.2" cy="531.2" r="3.1" fill="#000"/>
<circle cx="58.2" cy="531.2" r="3.1" fill="#000"/>
<circle cx="67.6" cy="531.2" r="3.1" fill="#000"/>
<circle cx="48.5" cy="542.8" r="3.1" fill="#000"/>
<circle cx="53.0" cy="541.5" r="3.1" fill="#000"/>
<circle cx="58.0" cy="542.8" r="3.1" fill="#000"/>
<circle cx="63.0" cy="541.0" r="3.1" fill="#000"/>
<circle cx="67.6" cy="542.8" r="3.1" fill="#000"/>
<circle cx="49.0" cy="546.5" r="3.1" fill="#000"/>
<circle cx="67.6" cy="546.5" r="3.1" fill="#000"/>
<circle cx="58.0" cy="546.0" r="3.1" fill="#000"/>
<circle cx="58.0" cy="551.5" r="3.1" fill="#000"/>
<circle cx="53.5" cy="555.0" r="3.1" fill="#000"/>
<circle cx="62.7" cy="555.0" r="3.1" fill="#000"/>
<circle cx="48.7" cy="558.3" r="3.1" fill="#000"/>
<circle cx="53.0" cy="558.3" r="3.1" fill="#000"/>
<circle cx="58.0" cy="558.3" r="3.1" fill="#000"/>
<circle cx="63.0" cy="558.3" r="3.1" fill="#000"/>
<circle cx="67.6" cy="558.3" r="3.1" fill="#000"/>
<circle cx="49.0" cy="563.6" r="3.1" fill="#000"/>
<circle cx="58.0" cy="561.5" r="3.1" fill="#000"/>
<circle cx="58.2" cy="570.4" r="3.1" fill="#000"/>
<circle cx="67.6" cy="570.4" r="3.1" fill="#000"/>
<line x1="46.70" y1="522.30" x2="71.00" y2="522.30" stroke="#8c8c8c" stroke-width="2.4" />
<line x1="52.00" y1="519.30" x2="64.00" y2="519.30" stroke="#8c8c8c" stroke-width="1.6" />
<line x1="52.00" y1="525.30" x2="64.00" y2="525.30" stroke="#8c8c8c" stroke-width="1.6" />
<line x1="88.50" y1="538.60" x2="102.20" y2="538.60" stroke="#8c8c8c" stroke-width="2" />
<line x1="88.50" y1="548.60" x2="102.20" y2="548.60" stroke="#8c8c8c" stroke-width="2" />
<line x1="95.40" y1="538.60" x2="95.40" y2="548.60" stroke="#8c8c8c" stroke-width="2" />
<rect x="92.1" y="509.7" width="6.2" height="6.2" fill="#fff" stroke="#000" stroke-width="1.6"/>
<rect x="92.1" y="522.1" width="6.2" height="6.2" fill="#fff" stroke="#000" stroke-width="1.6"/>
<rect x="91.4" y="540.4" width="6.2" height="6.2" fill="#fff" stroke="#000" stroke-width="1.6"/>
<rect x="83.3" y="547.8" width="6.2" height="6.2" fill="#fff" stroke="#000" stroke-width="1.6"/>
<rect x="101.2" y="545.7" width="6.2" height="6.2" fill="#fff" stroke="#000" stroke-width="1.6"/>
<rect x="91.4" y="550.4" width="6.2" height="6.2" fill="#fff" stroke="#000" stroke-width="1.6"/>
<rect x="96.8" y="554.5" width="6.2" height="6.2" fill="#fff" stroke="#000" stroke-width="1.6"/>
<rect x="83.3" y="557.9" width="6.2" height="6.2" fill="#fff" stroke="#000" stroke-width="1.6"/>
<rect x="92.1" y="559.9" width="6.2" height="6.2" fill="#fff" stroke="#000" stroke-width="1.6"/>
<rect x="101.2" y="559.9" width="6.2" height="6.2" fill="#fff" stroke="#000" stroke-width="1.6"/>
<line x1="83.70" y1="543.70" x2="107.30" y2="543.70" stroke="#8c8c8c" stroke-width="2.4" />
<text x="8.00" y="631.20" font-size="11.8" text-anchor="start" font-weight="bold" fill="#000" >Mean</text>
<text x="57.60" y="631.20" font-size="11.8" text-anchor="middle" font-weight="bold" fill="#000" >1.59</text>
<text x="95.20" y="631.20" font-size="11.8" text-anchor="middle" font-weight="bold" fill="#000" >0.81</text>
<text x="11" y="645.8" font-size="11.8" font-weight="bold">IC<tspan font-size="9.4" dy="3.8">50</tspan></text>
<text x="58.2" y="645.8" font-size="11.8" text-anchor="middle" font-weight="bold"><tspan font-family="Liberation Serif" font-weight="normal">μ</tspan>M</text>
<text x="95.6" y="645.8" font-size="11.8" text-anchor="middle" font-weight="bold"><tspan font-family="Liberation Serif" font-weight="normal">μ</tspan>M</text>
<text x="60.90" y="655.00" font-size="11.2" text-anchor="end" font-weight="bold" fill="#000" transform="rotate(-45 60.90 655.00)" >AML</text>
<text x="97.90" y="654.60" font-size="11.2" text-anchor="end" font-weight="bold" fill="#000" transform="rotate(-45 97.90 654.60)" >CML</text>
<line x1="165.80" y1="463.70" x2="165.80" y2="612.40" stroke="#000" stroke-width="2" />
<line x1="160.80" y1="611.40" x2="165.80" y2="611.40" stroke="#000" stroke-width="2" />
<line x1="162.60" y1="589.17" x2="165.80" y2="589.17" stroke="#000" stroke-width="1.5" />
<line x1="162.60" y1="576.16" x2="165.80" y2="576.16" stroke="#000" stroke-width="1.5" />
<line x1="162.60" y1="566.94" x2="165.80" y2="566.94" stroke="#000" stroke-width="1.5" />
<line x1="162.60" y1="559.78" x2="165.80" y2="559.78" stroke="#000" stroke-width="1.5" />
<line x1="162.60" y1="553.93" x2="165.80" y2="553.93" stroke="#000" stroke-width="1.5" />
<line x1="162.60" y1="548.99" x2="165.80" y2="548.99" stroke="#000" stroke-width="1.5" />
<line x1="162.60" y1="544.71" x2="165.80" y2="544.71" stroke="#000" stroke-width="1.5" />
<line x1="162.60" y1="540.93" x2="165.80" y2="540.93" stroke="#000" stroke-width="1.5" />
<line x1="160.80" y1="537.55" x2="165.80" y2="537.55" stroke="#000" stroke-width="2" />
<line x1="162.60" y1="515.32" x2="165.80" y2="515.32" stroke="#000" stroke-width="1.5" />
<line x1="162.60" y1="502.31" x2="165.80" y2="502.31" stroke="#000" stroke-width="1.5" />
<line x1="162.60" y1="493.09" x2="165.80" y2="493.09" stroke="#000" stroke-width="1.5" />
<line x1="162.60" y1="485.93" x2="165.80" y2="485.93" stroke="#000" stroke-width="1.5" />
<line x1="162.60" y1="480.08" x2="165.80" y2="480.08" stroke="#000" stroke-width="1.5" />
<line x1="162.60" y1="475.14" x2="165.80" y2="475.14" stroke="#000" stroke-width="1.5" />
<line x1="162.60" y1="470.86" x2="165.80" y2="470.86" stroke="#000" stroke-width="1.5" />
<line x1="162.60" y1="467.08" x2="165.80" y2="467.08" stroke="#000" stroke-width="1.5" />
<line x1="160.80" y1="463.70" x2="165.80" y2="463.70" stroke="#000" stroke-width="2" />
<text x="159.30" y="615.70" font-size="11.3" text-anchor="end" font-weight="bold" fill="#000" >0.1</text>
<text x="159.30" y="541.85" font-size="11.3" text-anchor="end" font-weight="bold" fill="#000" >1</text>
<text x="159.30" y="468.00" font-size="11.3" text-anchor="end" font-weight="bold" fill="#000" >10</text>
<line x1="164.80" y1="611.40" x2="313.60" y2="611.40" stroke="#000" stroke-width="2" />
<line x1="174.20" y1="611.40" x2="174.20" y2="616.60" stroke="#000" stroke-width="2" />
<line x1="190.60" y1="611.40" x2="190.60" y2="616.60" stroke="#000" stroke-width="2" />
<line x1="207.00" y1="611.40" x2="207.00" y2="616.60" stroke="#000" stroke-width="2" />
<line x1="223.40" y1="611.40" x2="223.40" y2="616.60" stroke="#000" stroke-width="2" />
<line x1="239.80" y1="611.40" x2="239.80" y2="616.60" stroke="#000" stroke-width="2" />
<line x1="256.20" y1="611.40" x2="256.20" y2="616.60" stroke="#000" stroke-width="2" />
<line x1="272.60" y1="611.40" x2="272.60" y2="616.60" stroke="#000" stroke-width="2" />
<line x1="289.00" y1="611.40" x2="289.00" y2="616.60" stroke="#000" stroke-width="2" />
<line x1="305.40" y1="611.40" x2="305.40" y2="616.60" stroke="#000" stroke-width="2" />
<polyline points="173.1,478.1 173.1,472.9 224.7,472.9 224.7,478.1" fill="none" stroke="#000" stroke-width="2"/>
<text x="190.80" y="469.50" font-size="21" text-anchor="start" font-weight="bold" fill="#000" >*</text>
<text x="139.60" y="536.10" font-size="11.85" text-anchor="middle" font-weight="bold" fill="#000" transform="rotate(-90 139.60 536.10)" >Kinetin riboside IC50 (<tspan font-weight="normal">μ</tspan>M)</text>
<circle cx="173.9" cy="543.1" r="3.1" fill="#000"/>
<circle cx="173.9" cy="560.8" r="3.1" fill="#000"/>
<circle cx="178.5" cy="559.4" r="3.1" fill="#000"/>
<circle cx="190.4" cy="502.3" r="3.1" fill="#000"/>
<circle cx="185.8" cy="516.2" r="3.1" fill="#000"/>
<circle cx="190.4" cy="516.2" r="3.1" fill="#000"/>
<circle cx="195.0" cy="516.2" r="3.1" fill="#000"/>
<circle cx="190.4" cy="531.2" r="3.1" fill="#000"/>
<circle cx="195.0" cy="531.2" r="3.1" fill="#000"/>
<circle cx="185.8" cy="556.6" r="3.1" fill="#000"/>
<circle cx="190.4" cy="557.5" r="3.1" fill="#000"/>
<circle cx="190.4" cy="570.7" r="3.1" fill="#000"/>
<circle cx="211.2" cy="515.1" r="3.1" fill="#000"/>
<circle cx="206.5" cy="519.2" r="3.1" fill="#000"/>
<circle cx="206.5" cy="540.5" r="3.1" fill="#000"/>
<circle cx="206.7" cy="558.8" r="3.1" fill="#000"/>
<circle cx="223.2" cy="485.4" r="3.1" fill="#000"/>
<circle cx="218.1" cy="504.6" r="3.1" fill="#000"/>
<circle cx="223.2" cy="506.2" r="3.1" fill="#000"/>
<circle cx="227.8" cy="510.8" r="3.1" fill="#000"/>
<circle cx="223.2" cy="519.2" r="3.1" fill="#000"/>
<circle cx="218.1" cy="524.6" r="3.1" fill="#000"/>
<circle cx="227.8" cy="523.1" r="3.1" fill="#000"/>
<circle cx="223.2" cy="531.5" r="3.1" fill="#000"/>
<circle cx="217.6" cy="541.8" r="3.1" fill="#000"/>
<circle cx="222.4" cy="541.8" r="3.1" fill="#000"/>
<circle cx="227.2" cy="541.8" r="3.1" fill="#000"/>
<circle cx="239.5" cy="478.7" r="3.1" fill="#000"/>
<circle cx="243.8" cy="506.0" r="3.1" fill="#000"/>
<circle cx="235.2" cy="511.5" r="3.1" fill="#000"/>
<circle cx="239.5" cy="512.9" r="3.1" fill="#000"/>
<circle cx="239.5" cy="524.5" r="3.1" fill="#000"/>
<circle cx="235.2" cy="546.2" r="3.1" fill="#000"/>
<circle cx="239.5" cy="544.8" r="3.1" fill="#000"/>
<circle cx="243.8" cy="551.0" r="3.1" fill="#000"/>
<circle cx="239.5" cy="554.8" r="3.1" fill="#000"/>
<circle cx="260.3" cy="508.4" r="3.1" fill="#000"/>
<circle cx="255.6" cy="515.3" r="3.1" fill="#000"/>
<circle cx="272.1" cy="521.9" r="3.1" fill="#000"/>
<circle cx="288.8" cy="542.7" r="3.1" fill="#000"/>
<circle cx="304.8" cy="496.8" r="3.1" fill="#000"/>
<circle cx="304.8" cy="508.1" r="3.1" fill="#000"/>
<circle cx="309.6" cy="508.1" r="3.1" fill="#000"/>
<circle cx="300.6" cy="519.3" r="3.1" fill="#000"/>
<circle cx="304.8" cy="522.8" r="3.1" fill="#000"/>
<circle cx="309.6" cy="541.8" r="3.1" fill="#000"/>
<circle cx="304.8" cy="545.3" r="3.1" fill="#000"/>
<circle cx="300.6" cy="554.6" r="3.1" fill="#000"/>
<circle cx="304.8" cy="557.8" r="3.1" fill="#000"/>
<circle cx="309.6" cy="563.5" r="3.1" fill="#000"/>
<circle cx="304.8" cy="570.5" r="3.1" fill="#000"/>
<line x1="169.00" y1="553.50" x2="179.60" y2="553.50" stroke="#777" stroke-width="2.2" />
<line x1="185.50" y1="526.20" x2="195.80" y2="526.20" stroke="#777" stroke-width="2.2" />
<line x1="201.90" y1="528.90" x2="211.90" y2="528.90" stroke="#777" stroke-width="2.2" />
<line x1="218.10" y1="515.80" x2="228.40" y2="515.80" stroke="#777" stroke-width="2.2" />
<line x1="234.30" y1="515.90" x2="244.70" y2="515.90" stroke="#777" stroke-width="2.2" />
<line x1="250.40" y1="511.50" x2="261.20" y2="511.50" stroke="#777" stroke-width="2.2" />
<line x1="300.10" y1="526.20" x2="310.50" y2="526.20" stroke="#777" stroke-width="2.2" />
<text x="176.10" y="626.00" font-size="11.2" text-anchor="end" font-weight="bold" fill="#000" transform="rotate(-45 176.10 626.00)" >M0</text>
<text x="192.50" y="626.00" font-size="11.2" text-anchor="end" font-weight="bold" fill="#000" transform="rotate(-45 192.50 626.00)" >M1</text>
<text x="208.90" y="626.00" font-size="11.2" text-anchor="end" font-weight="bold" fill="#000" transform="rotate(-45 208.90 626.00)" >M2</text>
<text x="225.30" y="626.00" font-size="11.2" text-anchor="end" font-weight="bold" fill="#000" transform="rotate(-45 225.30 626.00)" >M4</text>
<text x="241.70" y="626.00" font-size="11.2" text-anchor="end" font-weight="bold" fill="#000" transform="rotate(-45 241.70 626.00)" >M5a</text>
<text x="258.10" y="626.00" font-size="11.2" text-anchor="end" font-weight="bold" fill="#000" transform="rotate(-45 258.10 626.00)" >M5b</text>
<text x="274.50" y="626.00" font-size="11.2" text-anchor="end" font-weight="bold" fill="#000" transform="rotate(-45 274.50 626.00)" >M6</text>
<text x="290.90" y="626.00" font-size="11.2" text-anchor="end" font-weight="bold" fill="#000" transform="rotate(-45 290.90 626.00)" >M7</text>
<text x="307.30" y="626.00" font-size="11.2" text-anchor="end" font-weight="bold" fill="#000" transform="rotate(-45 307.30 626.00)" >Unclassified</text>
<line x1="368.00" y1="463.50" x2="368.00" y2="476.90" stroke="#000" stroke-width="2" />
<line x1="368.00" y1="476.90" x2="368.00" y2="612.60" stroke="#000" stroke-width="2" />
<line x1="363.00" y1="611.60" x2="368.00" y2="611.60" stroke="#000" stroke-width="2" />
<line x1="364.80" y1="598.08" x2="368.00" y2="598.08" stroke="#000" stroke-width="1.5" />
<line x1="364.80" y1="590.18" x2="368.00" y2="590.18" stroke="#000" stroke-width="1.5" />
<line x1="364.80" y1="584.57" x2="368.00" y2="584.57" stroke="#000" stroke-width="1.5" />
<line x1="364.80" y1="580.22" x2="368.00" y2="580.22" stroke="#000" stroke-width="1.5" />
<line x1="364.80" y1="576.66" x2="368.00" y2="576.66" stroke="#000" stroke-width="1.5" />
<line x1="364.80" y1="573.66" x2="368.00" y2="573.66" stroke="#000" stroke-width="1.5" />
<line x1="364.80" y1="571.05" x2="368.00" y2="571.05" stroke="#000" stroke-width="1.5" />
<line x1="364.80" y1="568.75" x2="368.00" y2="568.75" stroke="#000" stroke-width="1.5" />
<line x1="363.00" y1="566.70" x2="368.00" y2="566.70" stroke="#000" stroke-width="2" />
<line x1="364.80" y1="553.18" x2="368.00" y2="553.18" stroke="#000" stroke-width="1.5" />
<line x1="364.80" y1="545.28" x2="368.00" y2="545.28" stroke="#000" stroke-width="1.5" />
<line x1="364.80" y1="539.67" x2="368.00" y2="539.67" stroke="#000" stroke-width="1.5" />
<line x1="364.80" y1="535.32" x2="368.00" y2="535.32" stroke="#000" stroke-width="1.5" />
<line x1="364.80" y1="531.76" x2="368.00" y2="531.76" stroke="#000" stroke-width="1.5" />
<line x1="364.80" y1="528.76" x2="368.00" y2="528.76" stroke="#000" stroke-width="1.5" />
<line x1="364.80" y1="526.15" x2="368.00" y2="526.15" stroke="#000" stroke-width="1.5" />
<line x1="364.80" y1="523.85" x2="368.00" y2="523.85" stroke="#000" stroke-width="1.5" />
<line x1="363.00" y1="521.80" x2="368.00" y2="521.80" stroke="#000" stroke-width="2" />
<line x1="364.80" y1="508.28" x2="368.00" y2="508.28" stroke="#000" stroke-width="1.5" />
<line x1="364.80" y1="500.38" x2="368.00" y2="500.38" stroke="#000" stroke-width="1.5" />
<line x1="364.80" y1="494.77" x2="368.00" y2="494.77" stroke="#000" stroke-width="1.5" />
<line x1="364.80" y1="490.42" x2="368.00" y2="490.42" stroke="#000" stroke-width="1.5" />
<line x1="364.80" y1="486.86" x2="368.00" y2="486.86" stroke="#000" stroke-width="1.5" />
<line x1="364.80" y1="483.86" x2="368.00" y2="483.86" stroke="#000" stroke-width="1.5" />
<line x1="364.80" y1="481.25" x2="368.00" y2="481.25" stroke="#000" stroke-width="1.5" />
<line x1="364.80" y1="478.95" x2="368.00" y2="478.95" stroke="#000" stroke-width="1.5" />
<line x1="363.00" y1="476.90" x2="368.00" y2="476.90" stroke="#000" stroke-width="2" />
<text x="361.50" y="615.90" font-size="11.3" text-anchor="end" font-weight="bold" fill="#000" >0.01</text>
<text x="361.50" y="571.00" font-size="11.3" text-anchor="end" font-weight="bold" fill="#000" >0.1</text>
<text x="361.50" y="526.10" font-size="11.3" text-anchor="end" font-weight="bold" fill="#000" >1</text>
<text x="361.50" y="481.20" font-size="11.3" text-anchor="end" font-weight="bold" fill="#000" >10</text>
<line x1="367.00" y1="611.60" x2="514.80" y2="611.60" stroke="#000" stroke-width="2" />
<line x1="385.00" y1="611.60" x2="385.00" y2="616.80" stroke="#000" stroke-width="2" />
<line x1="422.30" y1="611.60" x2="422.30" y2="616.80" stroke="#000" stroke-width="2" />
<line x1="459.60" y1="611.60" x2="459.60" y2="616.80" stroke="#000" stroke-width="2" />
<line x1="497.00" y1="611.60" x2="497.00" y2="616.80" stroke="#000" stroke-width="2" />
<polyline points="389.4,460.9 389.4,455.2 495.2,455.2 495.2,460.9" fill="none" stroke="#000" stroke-width="2"/>
<polyline points="389.4,476.3 389.4,470.8 457.6,470.8 457.6,476.3" fill="none" stroke="#000" stroke-width="2"/>
<text x="466.00" y="458.50" font-size="19" text-anchor="start" font-weight="bold" fill="#000" letter-spacing="0.5">***</text>
<text x="414.10" y="474.10" font-size="19" text-anchor="start" font-weight="bold" fill="#000" letter-spacing="0.5">***</text>
<text x="342.30" y="535.90" font-size="11.8" text-anchor="middle" font-weight="bold" fill="#000" transform="rotate(-90 342.30 535.90)" >IC50 (<tspan font-weight="normal">μ</tspan>M)</text>
<circle cx="386.1" cy="486.3" r="2.85" fill="#000"/>
<circle cx="394.9" cy="490.4" r="2.85" fill="#000"/>
<circle cx="385.7" cy="496.8" r="2.85" fill="#000"/>
<circle cx="385.7" cy="500.0" r="2.85" fill="#000"/>
<circle cx="376.8" cy="500.0" r="2.85" fill="#000"/>
<circle cx="376.8" cy="504.0" r="2.85" fill="#000"/>
<circle cx="376.8" cy="508.2" r="2.85" fill="#000"/>
<circle cx="395.8" cy="502.7" r="2.85" fill="#000"/>
<circle cx="395.8" cy="509.5" r="2.85" fill="#000"/>
<circle cx="383.0" cy="503.0" r="2.85" fill="#000"/>
<circle cx="388.5" cy="503.0" r="2.85" fill="#000"/>
<circle cx="381.0" cy="507.0" r="2.85" fill="#000"/>
<circle cx="386.0" cy="506.5" r="2.85" fill="#000"/>
<circle cx="391.0" cy="507.0" r="2.85" fill="#000"/>
<circle cx="379.0" cy="511.0" r="2.85" fill="#000"/>
<circle cx="383.5" cy="510.5" r="2.85" fill="#000"/>
<circle cx="388.5" cy="510.5" r="2.85" fill="#000"/>
<circle cx="393.0" cy="511.0" r="2.85" fill="#000"/>
<circle cx="386.0" cy="512.0" r="2.85" fill="#000"/>
<circle cx="377.1" cy="518.1" r="2.85" fill="#000"/>
<circle cx="385.7" cy="518.1" r="2.85" fill="#000"/>
<circle cx="394.9" cy="518.1" r="2.85" fill="#000"/>
<circle cx="385.7" cy="521.0" r="2.85" fill="#000"/>
<circle cx="381.0" cy="524.0" r="2.85" fill="#000"/>
<circle cx="390.5" cy="524.0" r="2.85" fill="#000"/>
<circle cx="394.9" cy="524.8" r="2.85" fill="#000"/>
<circle cx="385.7" cy="527.0" r="2.85" fill="#000"/>
<circle cx="381.0" cy="529.0" r="2.85" fill="#000"/>
<circle cx="390.5" cy="529.0" r="2.85" fill="#000"/>
<circle cx="385.7" cy="532.0" r="2.85" fill="#000"/>
<circle cx="394.9" cy="533.2" r="2.85" fill="#000"/>
<circle cx="376.8" cy="532.8" r="2.85" fill="#000"/>
<circle cx="376.8" cy="537.5" r="2.85" fill="#000"/>
<circle cx="381.0" cy="537.0" r="2.85" fill="#000"/>
<circle cx="390.5" cy="536.5" r="2.85" fill="#000"/>
<circle cx="385.7" cy="537.0" r="2.85" fill="#000"/>
<circle cx="394.9" cy="537.5" r="2.85" fill="#000"/>
<circle cx="385.7" cy="542.0" r="2.85" fill="#000"/>
<circle cx="394.9" cy="541.5" r="2.85" fill="#000"/>
<circle cx="381.0" cy="541.0" r="2.85" fill="#000"/>
<rect x="373.8" y="523.4" width="5.6" height="5.6" fill="#fff" stroke="#000" stroke-width="1.4"/>
<rect x="392.1" y="527.2" width="5.6" height="5.6" fill="#fff" stroke="#000" stroke-width="1.4"/>
<rect x="378.2" y="530.7" width="5.6" height="5.6" fill="#fff" stroke="#000" stroke-width="1.4"/>
<line x1="374.00" y1="514.70" x2="398.50" y2="514.70" stroke="#8f8f8f" stroke-width="3.0" />
<circle cx="414.3" cy="481.9" r="2.85" fill="#000"/>
<circle cx="423.0" cy="484.8" r="2.85" fill="#000"/>
<circle cx="414.3" cy="492.9" r="2.85" fill="#000"/>
<circle cx="431.5" cy="493.4" r="2.85" fill="#000"/>
<circle cx="423.0" cy="499.3" r="2.85" fill="#000"/>
<circle cx="420.0" cy="503.0" r="2.85" fill="#000"/>
<circle cx="426.0" cy="503.0" r="2.85" fill="#000"/>
<circle cx="418.6" cy="506.0" r="2.85" fill="#000"/>
<circle cx="423.0" cy="506.0" r="2.85" fill="#000"/>
<circle cx="427.3" cy="506.0" r="2.85" fill="#000"/>
<circle cx="414.3" cy="508.0" r="2.85" fill="#000"/>
<circle cx="431.5" cy="508.0" r="2.85" fill="#000"/>
<circle cx="418.6" cy="510.5" r="2.85" fill="#000"/>
<circle cx="423.0" cy="510.5" r="2.85" fill="#000"/>
<circle cx="427.3" cy="510.5" r="2.85" fill="#000"/>
<circle cx="413.8" cy="516.5" r="2.85" fill="#000"/>
<circle cx="431.9" cy="517.7" r="2.85" fill="#000"/>
<circle cx="423.0" cy="519.6" r="2.85" fill="#000"/>
<circle cx="418.0" cy="524.0" r="2.85" fill="#000"/>
<circle cx="423.0" cy="523.0" r="2.85" fill="#000"/>
<circle cx="427.3" cy="522.5" r="2.85" fill="#000"/>
<circle cx="413.8" cy="527.3" r="2.85" fill="#000"/>
<circle cx="423.0" cy="528.0" r="2.85" fill="#000"/>
<circle cx="427.3" cy="530.0" r="2.85" fill="#000"/>
<circle cx="418.6" cy="538.0" r="2.85" fill="#000"/>
<circle cx="423.0" cy="537.0" r="2.85" fill="#000"/>
<circle cx="427.3" cy="537.5" r="2.85" fill="#000"/>
<circle cx="431.9" cy="535.0" r="2.85" fill="#000"/>
<circle cx="431.9" cy="542.2" r="2.85" fill="#000"/>
<circle cx="418.0" cy="540.0" r="2.85" fill="#000"/>
<circle cx="414.3" cy="545.1" r="2.85" fill="#000"/>
<circle cx="414.3" cy="556.3" r="2.85" fill="#000"/>
<circle cx="423.0" cy="558.3" r="2.85" fill="#000"/>
<circle cx="431.5" cy="557.8" r="2.85" fill="#000"/>
<circle cx="418.0" cy="562.5" r="2.85" fill="#000"/>
<circle cx="423.0" cy="562.0" r="2.85" fill="#000"/>
<circle cx="414.3" cy="567.6" r="2.85" fill="#000"/>
<circle cx="423.0" cy="577.3" r="2.85" fill="#000"/>
<rect x="429.0" y="475.8" width="5.6" height="5.6" fill="#fff" stroke="#000" stroke-width="1.4"/>
<rect x="429.5" y="523.4" width="5.6" height="5.6" fill="#fff" stroke="#000" stroke-width="1.4"/>
<rect x="415.7" y="526.8" width="5.6" height="5.6" fill="#fff" stroke="#000" stroke-width="1.4"/>
<rect x="410.7" y="532.2" width="5.6" height="5.6" fill="#fff" stroke="#000" stroke-width="1.4"/>
<rect x="424.5" y="529.1" width="5.6" height="5.6" fill="#fff" stroke="#000" stroke-width="1.4"/>
<rect x="420.3" y="543.0" width="5.6" height="5.6" fill="#fff" stroke="#000" stroke-width="1.4"/>
<rect x="424.8" y="550.6" width="5.6" height="5.6" fill="#fff" stroke="#000" stroke-width="1.4"/>
<rect x="420.2" y="565.2" width="5.6" height="5.6" fill="#fff" stroke="#000" stroke-width="1.4"/>
<rect x="428.7" y="561.8" width="5.6" height="5.6" fill="#fff" stroke="#000" stroke-width="1.4"/>
<rect x="428.7" y="567.7" width="5.6" height="5.6" fill="#fff" stroke="#000" stroke-width="1.4"/>
<line x1="411.30" y1="514.90" x2="434.80" y2="514.90" stroke="#8f8f8f" stroke-width="3.0" />
<circle cx="455.4" cy="518.3" r="2.85" fill="#000"/>
<circle cx="451.1" cy="523.5" r="2.85" fill="#000"/>
<circle cx="451.1" cy="528.7" r="2.85" fill="#000"/>
<circle cx="469.5" cy="524.4" r="2.85" fill="#000"/>
<circle cx="469.5" cy="528.7" r="2.85" fill="#000"/>
<circle cx="469.5" cy="532.8" r="2.85" fill="#000"/>
<circle cx="464.3" cy="522.4" r="2.85" fill="#000"/>
<circle cx="460.0" cy="525.5" r="2.85" fill="#000"/>
<circle cx="457.5" cy="529.0" r="2.85" fill="#000"/>
<circle cx="462.5" cy="529.0" r="2.85" fill="#000"/>
<circle cx="455.0" cy="532.5" r="2.85" fill="#000"/>
<circle cx="460.0" cy="532.0" r="2.85" fill="#000"/>
<circle cx="465.0" cy="532.5" r="2.85" fill="#000"/>
<circle cx="451.1" cy="534.2" r="2.85" fill="#000"/>
<circle cx="458.0" cy="535.0" r="2.85" fill="#000"/>
<circle cx="463.0" cy="535.0" r="2.85" fill="#000"/>
<circle cx="451.0" cy="540.0" r="2.85" fill="#000"/>
<circle cx="468.7" cy="541.8" r="2.85" fill="#000"/>
<circle cx="455.0" cy="549.0" r="2.85" fill="#000"/>
<circle cx="460.0" cy="549.0" r="2.85" fill="#000"/>
<circle cx="464.0" cy="550.0" r="2.85" fill="#000"/>
<circle cx="459.0" cy="553.0" r="2.85" fill="#000"/>
<circle cx="455.0" cy="556.0" r="2.85" fill="#000"/>
<circle cx="463.0" cy="556.0" r="2.85" fill="#000"/>
<circle cx="467.0" cy="556.0" r="2.85" fill="#000"/>
<circle cx="451.0" cy="560.7" r="2.85" fill="#000"/>
<circle cx="469.3" cy="562.7" r="2.85" fill="#000"/>
<circle cx="455.5" cy="566.3" r="2.85" fill="#000"/>
<circle cx="460.5" cy="566.0" r="2.85" fill="#000"/>
<circle cx="451.0" cy="574.4" r="2.85" fill="#000"/>
<circle cx="460.0" cy="574.4" r="2.85" fill="#000"/>
<circle cx="460.0" cy="602.5" r="2.85" fill="#000"/>
<circle cx="468.8" cy="596.3" r="2.85" fill="#000"/>
<rect x="459.4" y="514.3" width="5.8" height="5.8" fill="#fff" stroke="#000" stroke-width="1.4"/>
<rect x="457.1" y="541.9" width="5.8" height="5.8" fill="#fff" stroke="#000" stroke-width="1.4"/>
<rect x="447.8" y="550.6" width="5.8" height="5.8" fill="#fff" stroke="#000" stroke-width="1.4"/>
<rect x="466.4" y="549.4" width="5.8" height="5.8" fill="#fff" stroke="#000" stroke-width="1.4"/>
<rect x="459.6" y="563.1" width="5.8" height="5.8" fill="#fff" stroke="#000" stroke-width="1.4"/>
<rect x="466.6" y="565.5" width="5.8" height="5.8" fill="#fff" stroke="#000" stroke-width="1.4"/>
<line x1="448.20" y1="537.50" x2="472.10" y2="537.50" stroke="#8f8f8f" stroke-width="3.0" />
<circle cx="487.8" cy="488.1" r="2.85" fill="#000"/>
<circle cx="492.4" cy="486.3" r="2.85" fill="#000"/>
<circle cx="498.7" cy="485.5" r="2.85" fill="#000"/>
<circle cx="501.0" cy="487.5" r="2.85" fill="#000"/>
<circle cx="506.2" cy="489.5" r="2.85" fill="#000"/>
<circle cx="487.8" cy="496.2" r="2.85" fill="#000"/>
<circle cx="495.5" cy="494.7" r="2.85" fill="#000"/>
<circle cx="506.2" cy="495.3" r="2.85" fill="#000"/>
<circle cx="487.5" cy="500.5" r="2.85" fill="#000"/>
<circle cx="491.5" cy="499.0" r="2.85" fill="#000"/>
<circle cx="496.0" cy="499.0" r="2.85" fill="#000"/>
<circle cx="500.0" cy="500.0" r="2.85" fill="#000"/>
<circle cx="505.5" cy="500.0" r="2.85" fill="#000"/>
<circle cx="488.0" cy="504.0" r="2.85" fill="#000"/>
<circle cx="493.0" cy="503.5" r="2.85" fill="#000"/>
<circle cx="498.0" cy="503.5" r="2.85" fill="#000"/>
<circle cx="506.0" cy="504.0" r="2.85" fill="#000"/>
<circle cx="488.0" cy="508.5" r="2.85" fill="#000"/>
<circle cx="492.5" cy="508.0" r="2.85" fill="#000"/>
<circle cx="497.0" cy="508.0" r="2.85" fill="#000"/>
<circle cx="501.5" cy="508.0" r="2.85" fill="#000"/>
<circle cx="506.0" cy="508.5" r="2.85" fill="#000"/>
<circle cx="492.5" cy="512.0" r="2.85" fill="#000"/>
<circle cx="497.0" cy="512.5" r="2.85" fill="#000"/>
<circle cx="501.5" cy="512.0" r="2.85" fill="#000"/>
<circle cx="506.0" cy="513.0" r="2.85" fill="#000"/>
<circle cx="489.0" cy="517.0" r="2.85" fill="#000"/>
<circle cx="493.0" cy="516.5" r="2.85" fill="#000"/>
<circle cx="497.0" cy="516.0" r="2.85" fill="#000"/>
<circle cx="501.5" cy="516.5" r="2.85" fill="#000"/>
<circle cx="506.0" cy="517.0" r="2.85" fill="#000"/>
<circle cx="487.5" cy="520.5" r="2.85" fill="#000"/>
<circle cx="506.0" cy="520.5" r="2.85" fill="#000"/>
<circle cx="502.0" cy="521.0" r="2.85" fill="#000"/>
<circle cx="492.6" cy="526.4" r="2.85" fill="#000"/>
<circle cx="500.5" cy="525.8" r="2.85" fill="#000"/>
<circle cx="501.9" cy="527.8" r="2.85" fill="#000"/>
<circle cx="497.0" cy="533.3" r="2.85" fill="#000"/>
<circle cx="505.7" cy="532.1" r="2.85" fill="#000"/>
<rect x="493.2" y="488.7" width="5.6" height="5.6" fill="#fff" stroke="#000" stroke-width="1.4"/>
<rect x="484.7" y="511.7" width="5.6" height="5.6" fill="#fff" stroke="#000" stroke-width="1.4"/>
<rect x="494.2" y="518.4" width="5.6" height="5.6" fill="#fff" stroke="#000" stroke-width="1.4"/>
<rect x="485.0" y="527.9" width="5.6" height="5.6" fill="#fff" stroke="#000" stroke-width="1.4"/>
<line x1="485.30" y1="504.90" x2="508.20" y2="504.90" stroke="#8f8f8f" stroke-width="3.0" />
<text x="334.20" y="631.20" font-size="11.8" text-anchor="start" font-weight="bold" fill="#000" >Mean</text>
<text x="384.80" y="631.20" font-size="11.8" text-anchor="middle" font-weight="bold" fill="#000" >1.44</text>
<text x="385.0" y="645.8" font-size="11.8" text-anchor="middle" font-weight="bold"><tspan font-family="Liberation Serif" font-weight="normal">μ</tspan>M</text>
<text x="422.10" y="631.20" font-size="11.8" text-anchor="middle" font-weight="bold" fill="#000" >1.45</text>
<text x="422.3" y="645.8" font-size="11.8" text-anchor="middle" font-weight="bold"><tspan font-family="Liberation Serif" font-weight="normal">μ</tspan>M</text>
<text x="459.40" y="631.20" font-size="11.8" text-anchor="middle" font-weight="bold" fill="#000" >0.45</text>
<text x="459.6" y="645.8" font-size="11.8" text-anchor="middle" font-weight="bold"><tspan font-family="Liberation Serif" font-weight="normal">μ</tspan>M</text>
<text x="496.80" y="631.20" font-size="11.8" text-anchor="middle" font-weight="bold" fill="#000" >2.39</text>
<text x="497.0" y="645.8" font-size="11.8" text-anchor="middle" font-weight="bold"><tspan font-family="Liberation Serif" font-weight="normal">μ</tspan>M</text>
<text x="337.5" y="645.8" font-size="11.8" font-weight="bold">IC<tspan font-size="9.4" dy="3.8">50</tspan></text>
<text x="389.00" y="655.30" font-size="11.3" text-anchor="end" font-weight="bold" fill="#000" transform="rotate(-45 389.00 655.30)" >Kinetin riboside</text>
<text x="426.30" y="655.30" font-size="11.3" text-anchor="end" font-weight="bold" fill="#000" transform="rotate(-45 426.30 655.30)" >Cytarabine</text>
<text x="463.60" y="655.30" font-size="11.3" text-anchor="end" font-weight="bold" fill="#000" transform="rotate(-45 463.60 655.30)" >Mitoxantrone</text>
<text x="501.00" y="655.30" font-size="11.3" text-anchor="end" font-weight="bold" fill="#000" transform="rotate(-45 501.00 655.30)" >Parthenolide</text>
<text x="1.60" y="22.80" font-size="24.7" text-anchor="start" font-weight="bold" fill="#000" >A</text>
<text x="271.60" y="23.00" font-size="24.7" text-anchor="start" font-weight="bold" fill="#000" >B</text>
<text x="2.60" y="236.30" font-size="24.7" text-anchor="start" font-weight="bold" fill="#000" >C</text>
<text x="270.60" y="236.20" font-size="24.7" text-anchor="start" font-weight="bold" fill="#000" >D</text>
<text x="2.40" y="452.70" font-size="24.7" text-anchor="start" font-weight="bold" fill="#000" >E</text>
<text x="129.40" y="452.70" font-size="24.7" text-anchor="start" font-weight="bold" fill="#000" >F</text>
<text x="322.80" y="452.60" font-size="24.7" text-anchor="start" font-weight="bold" fill="#000" >G</text></svg>
</body></html>
